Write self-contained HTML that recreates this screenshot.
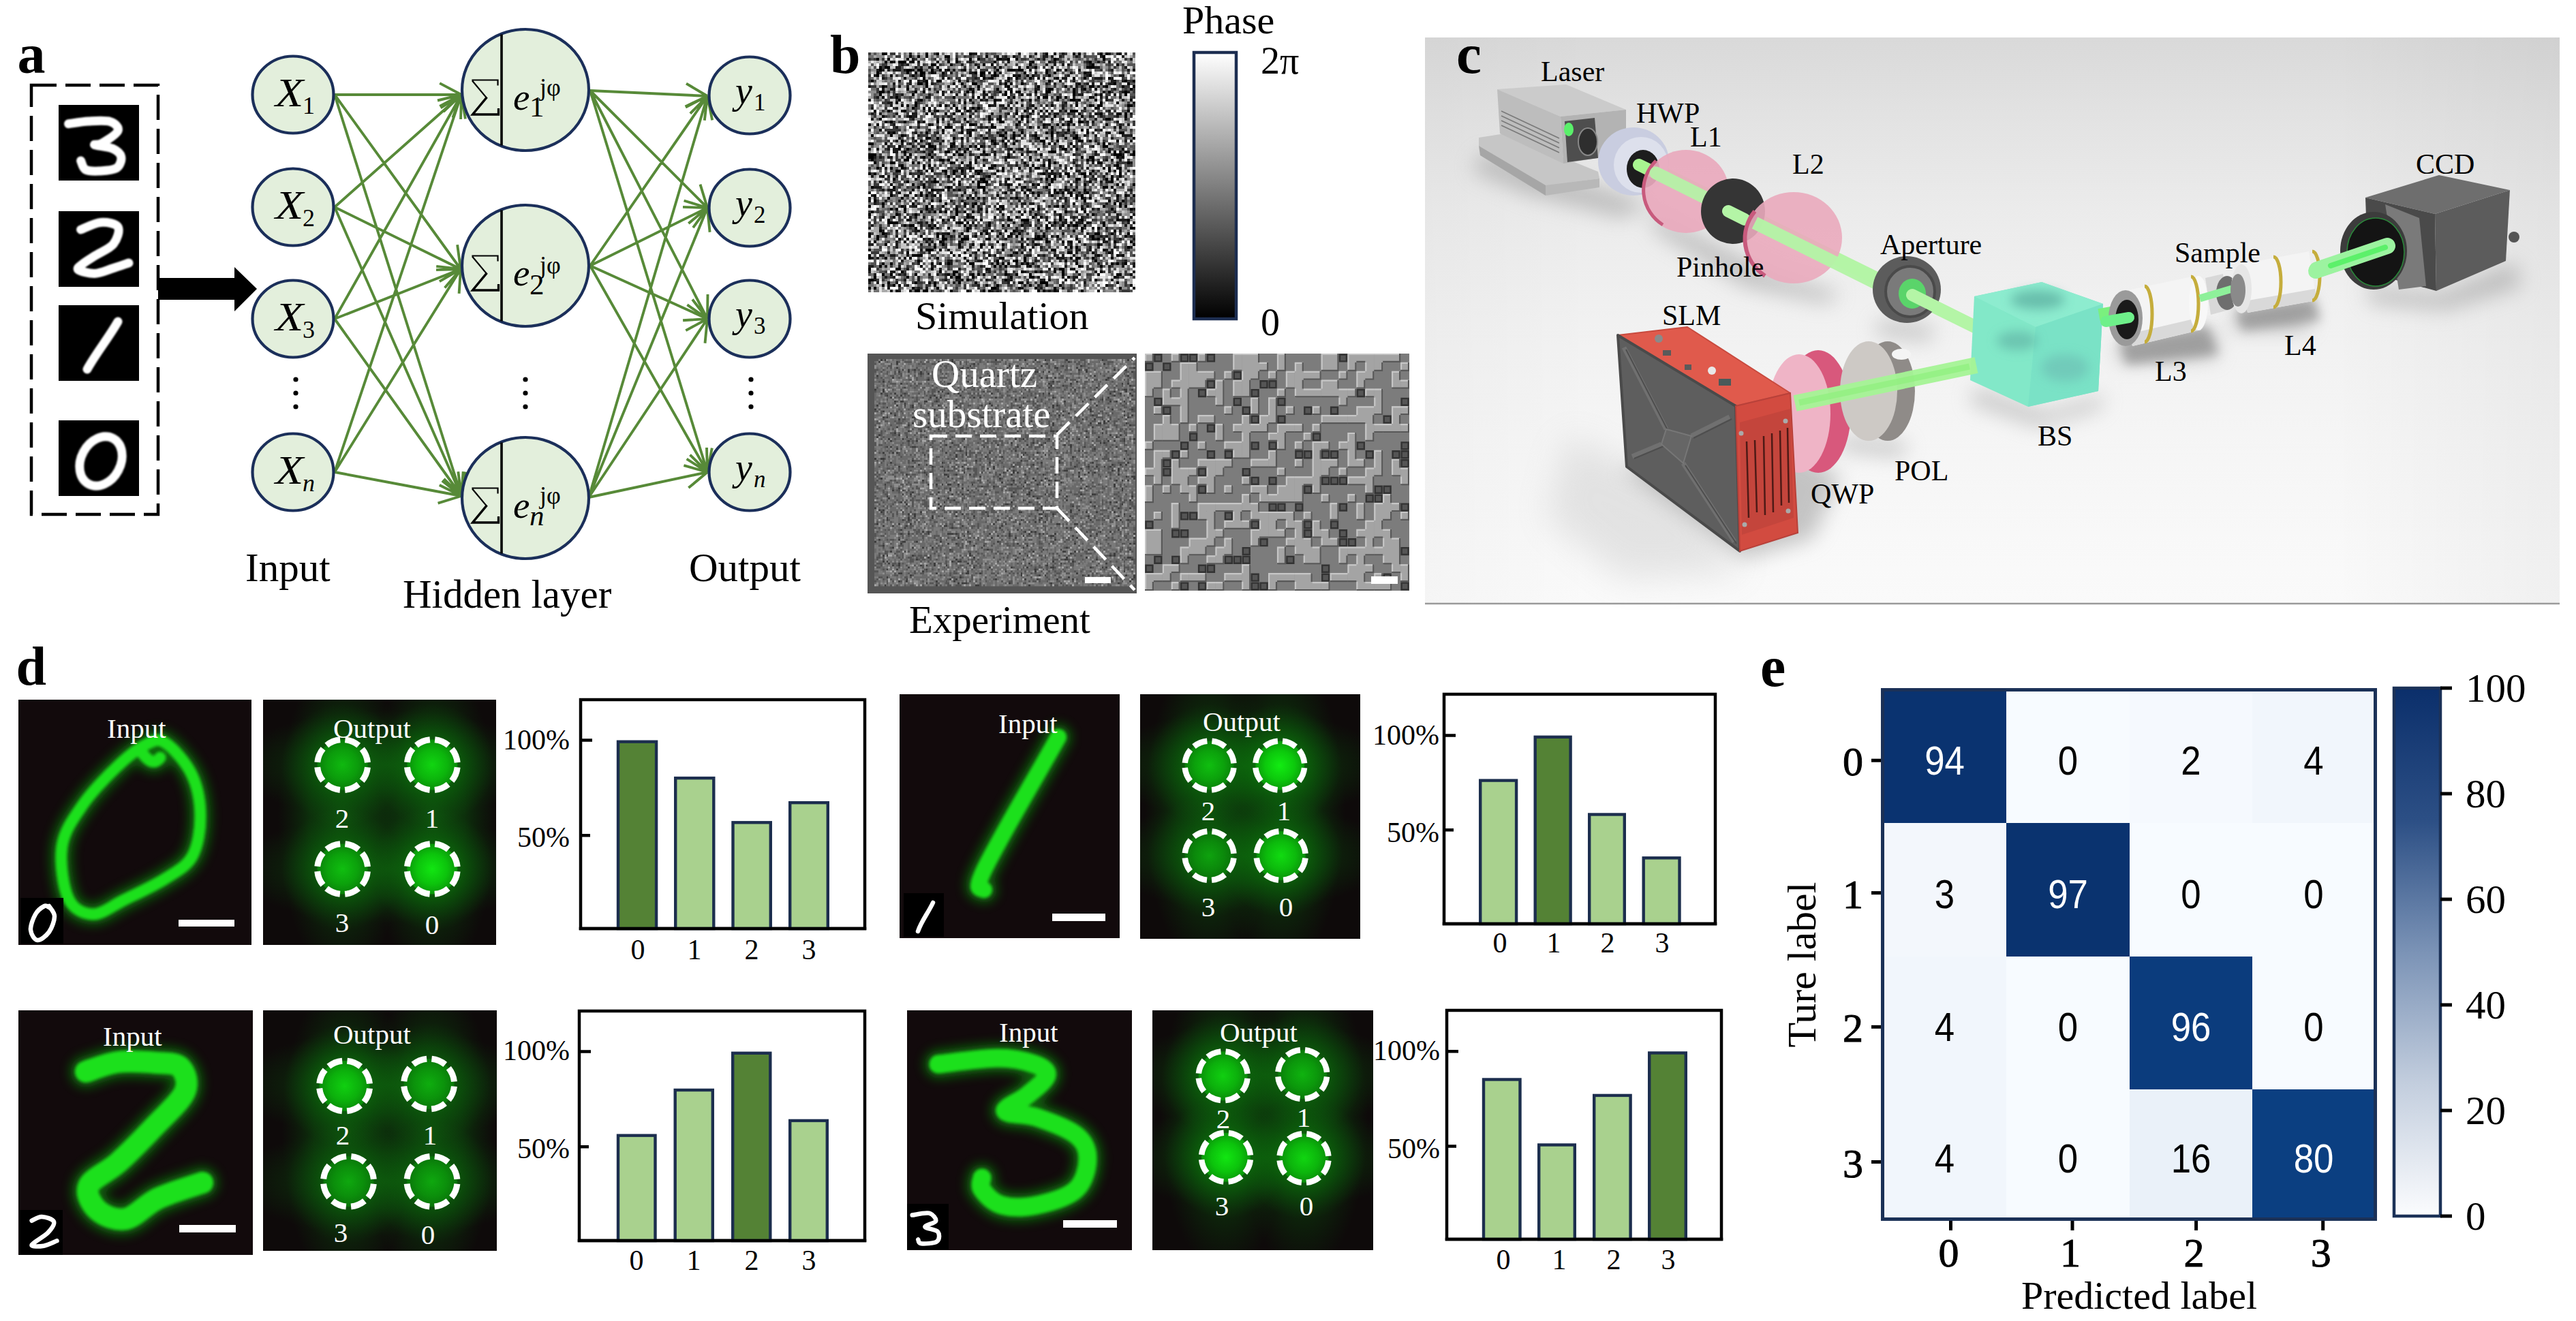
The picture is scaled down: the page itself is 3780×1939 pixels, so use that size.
<!DOCTYPE html>
<html><head><meta charset="utf-8"><style>html,body{margin:0;padding:0;background:#fff;overflow:hidden}svg{display:block}</style></head>
<body><svg width="3780" height="1939" viewBox="0 0 3780 1939"><defs>
<linearGradient id="cbar" x1="0" y1="0" x2="0" y2="1"><stop offset="0" stop-color="#fff"/><stop offset="1" stop-color="#000"/></linearGradient>
<linearGradient id="cbarBlue" x1="0" y1="0" x2="0" y2="1"><stop offset="0" stop-color="#0b2f6b"/><stop offset="0.25" stop-color="#2c4f85"/><stop offset="0.5" stop-color="#7b93b6"/><stop offset="0.75" stop-color="#c3cede"/><stop offset="1" stop-color="#fbfcfe"/></linearGradient>
<linearGradient id="cbg" x1="0" y1="0" x2="0.25" y2="1"><stop offset="0" stop-color="#d9d9d9"/><stop offset="0.55" stop-color="#ececec"/><stop offset="1" stop-color="#fbfbfb"/></linearGradient>
<filter id="blur1" x="-20%" y="-20%" width="140%" height="140%"><feGaussianBlur stdDeviation="1"/></filter>
<filter id="blur2" x="-20%" y="-20%" width="140%" height="140%"><feGaussianBlur stdDeviation="2"/></filter>
<filter id="blur4" x="-30%" y="-30%" width="160%" height="160%"><feGaussianBlur stdDeviation="4"/></filter>
<filter id="blur8" x="-50%" y="-50%" width="200%" height="200%"><feGaussianBlur stdDeviation="8"/></filter>
<filter id="blur15" x="-80%" y="-80%" width="260%" height="260%"><feGaussianBlur stdDeviation="15"/></filter>
<filter id="blur25" x="-100%" y="-100%" width="300%" height="300%"><feGaussianBlur stdDeviation="25"/></filter>
<radialGradient id="hz" cx="0.5" cy="0.5" r="0.5"><stop offset="0" stop-color="#0f520f" stop-opacity="0.95"/><stop offset="0.5" stop-color="#0c400c" stop-opacity="0.7"/><stop offset="1" stop-color="#0b300b" stop-opacity="0"/></radialGradient>
<radialGradient id="glow" cx="0.5" cy="0.5" r="0.5"><stop offset="0" stop-color="#0a9a0a" stop-opacity="0.9"/><stop offset="0.45" stop-color="#0a7a0a" stop-opacity="0.5"/><stop offset="1" stop-color="#0a5a0a" stop-opacity="0"/></radialGradient>
<radialGradient id="coreDim" cx="0.5" cy="0.5" r="0.5"><stop offset="0" stop-color="#0c7a0c"/><stop offset="1" stop-color="#0a5a0a"/></radialGradient>
<radialGradient id="core" cx="0.5" cy="0.5" r="0.5"><stop offset="0" stop-color="#12ec12"/><stop offset="0.6" stop-color="#0cc80c"/><stop offset="1" stop-color="#0a9a0a"/></radialGradient>
<radialGradient id="spot" cx="0.5" cy="0.5" r="0.5"><stop offset="0" stop-color="#10e010"/><stop offset="0.6" stop-color="#08b408"/><stop offset="1" stop-color="#067a06" stop-opacity="0"/></radialGradient>
</defs>
<rect width="3780" height="1939" fill="#fff"/>
<text x="25.4" y="106.7" style="font-family:'Liberation Serif',serif;font-size:82px;font-weight:bold;font-style:normal" fill="#000" text-anchor="start" >a</text><rect x="46" y="125" width="186" height="630" fill="none" stroke="#000" stroke-width="4.5" stroke-dasharray="37 13"/><rect x="86" y="154" width="118" height="111" fill="#000"/><rect x="86" y="310" width="118" height="111" fill="#000"/><rect x="86" y="448" width="118" height="111" fill="#000"/><rect x="86" y="617" width="118" height="111" fill="#000"/><path d="M100.5 181.8C105.4 181.2 119.8 178.5 130.0 178.0C140.2 177.5 154.6 176.3 161.8 178.6C169.0 180.9 175.0 186.8 173.0 192.0C171.0 197.2 155.7 206.6 150.0 210.0C144.3 213.4 136.5 211.4 139.0 212.7C141.5 214.0 158.6 215.1 165.0 218.0C171.4 220.9 176.7 225.2 177.7 230.0C178.7 234.8 176.3 243.3 170.9 246.8C165.5 250.3 152.6 250.6 145.0 251.0C137.4 251.4 129.9 251.5 125.5 249.0C121.1 246.5 119.8 238.2 118.6 236.0" fill="none" stroke="#fff" stroke-width="13" stroke-linecap="round" stroke-linejoin="round" filter="url(#blur1)"/><path d="M118.6 337.0C123.5 335.2 138.9 327.0 148.0 326.4C157.1 325.8 170.1 327.9 173.2 333.2C176.3 338.5 171.9 351.2 166.4 358.2C160.9 365.2 147.6 370.1 140.0 375.0C132.4 379.9 125.1 384.2 120.9 387.7C116.7 391.2 112.0 393.7 115.0 396.0C118.0 398.3 130.7 401.7 139.0 401.4C147.3 401.1 156.7 396.6 165.0 394.0C173.3 391.4 185.0 387.3 189.0 386.0" fill="none" stroke="#fff" stroke-width="13" stroke-linecap="round" stroke-linejoin="round" filter="url(#blur1)"/><path d="M173 472 C160 495 140 520 128 542" fill="none" stroke="#fff" stroke-width="13" stroke-linecap="round" stroke-linejoin="round" filter="url(#blur1)"/><ellipse cx="148" cy="677" rx="29" ry="38" transform="rotate(28 148 677)" fill="none" stroke="#fff" stroke-width="13" stroke-linecap="round" stroke-linejoin="round" filter="url(#blur1)"/><path d="M232 408 H344 V392 L377 424 L344 457 V440 H232 Z" fill="#000"/><path d="M491 139L677 139M677 139l-31.8 -16.9M677 139l-31.8 16.9M491 139L676 395M676 395l-4.9 -35.7M676 395l-32.3 -15.9M491 139L677 728M677 728l6.5 -35.4M677 728l-25.7 -25.2M491 304L677 139M677 139l-35.0 8.5M677 139l-12.6 33.7M491 304L676 395M676 395l-21.1 -29.2M676 395l-36.0 1.1M491 304L677 728M677 728l2.7 -35.9M677 728l-28.2 -22.3M491 468L677 139M677 139l-30.4 19.4M677 139l-0.9 36.0M491 468L676 395M676 395l-35.8 -4.1M676 395l-23.4 27.4M491 468L677 728M677 728l-4.7 -35.7M677 728l-32.2 -16.0M491 693L677 139M677 139l-26.1 24.8M677 139l5.9 35.5M491 693L676 395M676 395l-31.1 18.1M676 395l-2.4 35.9M491 693L677 728M677 728l-28.1 -22.5M677 728l-34.4 10.7M866 133L1038 141M1038 141l-31.0 -18.4M1038 141l-32.5 15.4M866 133L1038 305M1038 305l-10.5 -34.4M1038 305l-34.4 -10.5M866 133L1038 468M1038 468l0.5 -36.0M1038 468l-29.6 -20.6M866 133L1038 693M1038 693l6.8 -35.3M1038 693l-25.5 -25.4M866 390L1038 141M1038 141l-32.0 16.5M1038 141l-4.2 35.8M866 390L1038 305M1038 305l-36.0 -1.1M1038 305l-21.0 29.2M866 390L1038 468M1038 468l-22.0 -28.5M1038 468l-35.9 2.3M866 390L1038 693M1038 693l-1.0 -36.0M1038 693l-30.4 -19.3M864 730L1038 141M1038 141l-25.2 25.7M1038 141l7.2 35.3M864 730L1038 305M1038 305l-27.7 23.0M1038 305l3.6 35.8M864 730L1038 468M1038 468l-31.7 17.1M1038 468l-3.5 35.8M864 730L1038 693M1038 693l-34.6 -9.9M1038 693l-27.6 23.1" fill="none" stroke="#578a38" stroke-width="3.9" stroke-linecap="butt"/><ellipse cx="430" cy="139" rx="59.5" ry="56.5" fill="#e3efdc" stroke="#1b2f5a" stroke-width="4.2"/><ellipse cx="430" cy="304" rx="59.5" ry="56.5" fill="#e3efdc" stroke="#1b2f5a" stroke-width="4.2"/><ellipse cx="430" cy="468" rx="59.5" ry="56.5" fill="#e3efdc" stroke="#1b2f5a" stroke-width="4.2"/><ellipse cx="430" cy="693" rx="59.5" ry="56.5" fill="#e3efdc" stroke="#1b2f5a" stroke-width="4.2"/><ellipse cx="1100" cy="140" rx="59.5" ry="56.5" fill="#e3efdc" stroke="#1b2f5a" stroke-width="4.2"/><ellipse cx="1100" cy="305" rx="59.5" ry="56.5" fill="#e3efdc" stroke="#1b2f5a" stroke-width="4.2"/><ellipse cx="1100" cy="468" rx="59.5" ry="56.5" fill="#e3efdc" stroke="#1b2f5a" stroke-width="4.2"/><ellipse cx="1100" cy="693" rx="59.5" ry="56.5" fill="#e3efdc" stroke="#1b2f5a" stroke-width="4.2"/><ellipse cx="771" cy="132" rx="93" ry="89" fill="#e3efdc" stroke="#1b2f5a" stroke-width="4.2"/><line x1="736" y1="50.5" x2="736" y2="213.5" stroke="#000" stroke-width="3.6"/><path d="M692.4 117.5H730.5V125.5M693 118.5L714 143.6" fill="none" stroke="#000" stroke-width="2.2"/><path d="M714.5 142.6L693.5 168H731.5V159" fill="none" stroke="#000" stroke-width="3.4"/><ellipse cx="771" cy="390" rx="93" ry="89" fill="#e3efdc" stroke="#1b2f5a" stroke-width="4.2"/><line x1="736" y1="308.5" x2="736" y2="471.5" stroke="#000" stroke-width="3.6"/><path d="M692.4 375.5H730.5V383.5M693 376.5L714 401.6" fill="none" stroke="#000" stroke-width="2.2"/><path d="M714.5 400.6L693.5 426H731.5V417" fill="none" stroke="#000" stroke-width="3.4"/><ellipse cx="771" cy="731" rx="93" ry="89" fill="#e3efdc" stroke="#1b2f5a" stroke-width="4.2"/><line x1="736" y1="649.5" x2="736" y2="812.5" stroke="#000" stroke-width="3.6"/><path d="M692.4 716.5H730.5V724.5M693 717.5L714 742.6" fill="none" stroke="#000" stroke-width="2.2"/><path d="M714.5 741.6L693.5 767H731.5V758" fill="none" stroke="#000" stroke-width="3.4"/><text transform="translate(404 156) scale(1.13 1)" style="font-family:'Liberation Serif',serif;font-size:60px;font-style:italic">X</text><text x="444" y="167" style="font-family:'Liberation Serif',serif;font-size:36px">1</text><text transform="translate(404 321) scale(1.13 1)" style="font-family:'Liberation Serif',serif;font-size:60px;font-style:italic">X</text><text x="444" y="332" style="font-family:'Liberation Serif',serif;font-size:36px">2</text><text transform="translate(404 485) scale(1.13 1)" style="font-family:'Liberation Serif',serif;font-size:60px;font-style:italic">X</text><text x="444" y="496" style="font-family:'Liberation Serif',serif;font-size:36px">3</text><text transform="translate(404 710) scale(1.13 1)" style="font-family:'Liberation Serif',serif;font-size:60px;font-style:italic">X</text><text x="444" y="721" style="font-family:'Liberation Serif',serif;font-size:36px"><tspan font-style="italic">n</tspan></text><text x="1079" y="152" style="font-family:'Liberation Serif',serif;font-size:56px;font-style:italic">y</text><text x="1106" y="162" style="font-family:'Liberation Serif',serif;font-size:35px">1</text><text x="1079" y="317" style="font-family:'Liberation Serif',serif;font-size:56px;font-style:italic">y</text><text x="1106" y="327" style="font-family:'Liberation Serif',serif;font-size:35px">2</text><text x="1079" y="480" style="font-family:'Liberation Serif',serif;font-size:56px;font-style:italic">y</text><text x="1106" y="490" style="font-family:'Liberation Serif',serif;font-size:35px">3</text><text x="1079" y="705" style="font-family:'Liberation Serif',serif;font-size:56px;font-style:italic">y</text><text x="1106" y="715" style="font-family:'Liberation Serif',serif;font-size:35px"><tspan font-style="italic">n</tspan></text><text x="753" y="161" style="font-family:'Liberation Serif',serif;font-size:55px;font-style:italic">e</text><text x="777" y="171" style="font-family:'Liberation Serif',serif;font-size:43px">1</text><text x="792" y="140" style="font-family:'Liberation Serif',serif;font-size:36px">j&#966;</text><text x="753" y="419" style="font-family:'Liberation Serif',serif;font-size:55px;font-style:italic">e</text><text x="777" y="432" style="font-family:'Liberation Serif',serif;font-size:43px">2</text><text x="792" y="401" style="font-family:'Liberation Serif',serif;font-size:36px">j&#966;</text><text x="753" y="760" style="font-family:'Liberation Serif',serif;font-size:55px;font-style:italic">e</text><text x="777" y="771" style="font-family:'Liberation Serif',serif;font-size:43px"><tspan font-style="italic">n</tspan></text><text x="792" y="739" style="font-family:'Liberation Serif',serif;font-size:36px">j&#966;</text><circle cx="434" cy="557" r="3.6" fill="#000"/><circle cx="434" cy="577" r="3.6" fill="#000"/><circle cx="434" cy="597" r="3.6" fill="#000"/><circle cx="771" cy="557" r="3.6" fill="#000"/><circle cx="771" cy="577" r="3.6" fill="#000"/><circle cx="771" cy="597" r="3.6" fill="#000"/><circle cx="1102" cy="557" r="3.6" fill="#000"/><circle cx="1102" cy="577" r="3.6" fill="#000"/><circle cx="1102" cy="597" r="3.6" fill="#000"/><text x="360" y="853" style="font-family:'Liberation Serif',serif;font-size:59px;font-weight:normal;font-style:normal" fill="#000" text-anchor="start" >Input</text><text x="591" y="892" style="font-family:'Liberation Serif',serif;font-size:59px;font-weight:normal;font-style:normal" fill="#000" text-anchor="start" >Hidden layer</text><text x="1011" y="853" style="font-family:'Liberation Serif',serif;font-size:59px;font-weight:normal;font-style:normal" fill="#000" text-anchor="start" >Output</text><text x="1218" y="107" style="font-family:'Liberation Serif',serif;font-size:80px;font-weight:bold;font-style:normal" fill="#000" text-anchor="start" >b</text><g shape-rendering="crispEdges"><path d="M1294 79.0h8M1358 79.0h4M1374 79.0h4M1422 79.0h4M1534 79.0h4M1546 79.0h4M1574 79.0h4M1582 79.0h4M1614 79.0h4M1622 79.0h4M1642 79.0h4M1334 83.0h4M1346 83.0h4M1358 83.0h4M1386 83.0h8M1446 83.0h4M1486 83.0h4M1618 83.0h4M1286 87.0h4M1302 87.0h4M1330 87.0h4M1422 87.0h4M1434 87.0h4M1462 87.0h8M1478 87.0h4M1490 87.0h4M1546 87.0h4M1618 87.0h4M1298 91.0h4M1306 91.0h4M1318 91.0h12M1338 91.0h4M1374 91.0h4M1390 91.0h4M1402 91.0h4M1458 91.0h4M1514 91.0h4M1598 91.0h4M1366 95.0h8M1394 95.0h4M1442 95.0h4M1454 95.0h4M1510 95.0h4M1602 95.0h4M1638 95.0h4M1290 99.0h4M1298 99.0h8M1374 99.0h4M1434 99.0h4M1466 99.0h4M1506 99.0h4M1518 99.0h4M1594 99.0h12M1290 103.0h4M1330 103.0h8M1346 103.0h8M1366 103.0h4M1378 103.0h4M1390 103.0h4M1414 103.0h4M1462 103.0h4M1478 103.0h12M1494 103.0h8M1534 103.0h4M1550 103.0h4M1562 103.0h4M1662 103.0h4M1286 107.0h4M1330 107.0h4M1342 107.0h4M1350 107.0h8M1366 107.0h4M1382 107.0h4M1430 107.0h4M1438 107.0h8M1458 107.0h4M1502 107.0h4M1534 107.0h4M1546 107.0h4M1590 107.0h4M1286 111.0h4M1306 111.0h4M1338 111.0h4M1350 111.0h4M1438 111.0h4M1458 111.0h4M1486 111.0h4M1494 111.0h4M1506 111.0h4M1514 111.0h4M1538 111.0h4M1598 111.0h4M1326 115.0h4M1354 115.0h4M1442 115.0h4M1454 115.0h4M1478 115.0h4M1490 115.0h4M1510 115.0h4M1550 115.0h4M1574 115.0h4M1590 115.0h4M1626 115.0h4M1278 119.0h4M1358 119.0h4M1374 119.0h8M1406 119.0h4M1538 119.0h4M1554 119.0h4M1650 119.0h4M1662 119.0h4M1346 123.0h8M1358 123.0h4M1398 123.0h4M1410 123.0h4M1426 123.0h8M1474 123.0h4M1482 123.0h4M1498 123.0h4M1582 123.0h4M1634 123.0h4M1654 123.0h4M1294 127.0h4M1358 127.0h4M1434 127.0h4M1478 127.0h4M1522 127.0h4M1562 127.0h4M1598 127.0h8M1622 127.0h4M1646 127.0h4M1662 127.0h4M1330 131.0h4M1422 131.0h4M1462 131.0h4M1538 131.0h8M1574 131.0h4M1590 131.0h4M1606 131.0h4M1658 131.0h4M1290 135.0h8M1342 135.0h4M1354 135.0h4M1418 135.0h4M1426 135.0h4M1442 135.0h4M1474 135.0h4M1482 135.0h4M1494 135.0h4M1518 135.0h4M1534 135.0h8M1574 135.0h4M1626 135.0h4M1650 135.0h4M1290 139.0h4M1338 139.0h4M1474 139.0h4M1498 139.0h4M1574 139.0h4M1606 139.0h4M1614 139.0h4M1650 139.0h4M1294 143.0h4M1314 143.0h4M1398 143.0h4M1434 143.0h4M1454 143.0h4M1478 143.0h4M1486 143.0h4M1522 143.0h4M1530 143.0h8M1550 143.0h4M1562 143.0h4M1598 143.0h4M1318 147.0h4M1350 147.0h4M1422 147.0h4M1458 147.0h4M1498 147.0h4M1510 147.0h4M1550 147.0h4M1570 147.0h8M1582 147.0h4M1606 147.0h4M1658 147.0h4M1314 151.0h4M1342 151.0h4M1414 151.0h4M1614 151.0h4M1638 151.0h4M1322 155.0h4M1330 155.0h4M1342 155.0h4M1378 155.0h4M1386 155.0h4M1398 155.0h4M1450 155.0h4M1514 155.0h4M1542 155.0h4M1578 155.0h4M1598 155.0h4M1610 155.0h8M1654 155.0h8M1338 159.0h4M1354 159.0h4M1362 159.0h4M1402 159.0h4M1414 159.0h4M1426 159.0h4M1434 159.0h4M1606 159.0h4M1282 163.0h4M1302 163.0h4M1326 163.0h4M1362 163.0h4M1374 163.0h4M1406 163.0h4M1418 163.0h4M1502 163.0h4M1514 163.0h4M1526 163.0h4M1534 163.0h4M1570 163.0h12M1654 163.0h4M1358 167.0h4M1386 167.0h4M1398 167.0h4M1410 167.0h4M1490 167.0h4M1582 167.0h4M1606 167.0h4M1614 167.0h4M1638 167.0h8M1650 167.0h4M1294 171.0h4M1334 171.0h4M1422 171.0h4M1450 171.0h4M1466 171.0h4M1498 171.0h4M1506 171.0h4M1546 171.0h4M1586 171.0h4M1650 171.0h4M1290 175.0h4M1414 175.0h4M1450 175.0h4M1466 175.0h4M1498 175.0h4M1622 175.0h8M1298 179.0h4M1306 179.0h4M1326 179.0h4M1346 179.0h4M1354 179.0h4M1374 179.0h4M1466 179.0h8M1494 179.0h4M1570 179.0h4M1582 179.0h8M1274 183.0h4M1286 183.0h4M1362 183.0h4M1422 183.0h8M1454 183.0h4M1490 183.0h4M1530 183.0h4M1550 183.0h4M1558 183.0h4M1566 183.0h4M1622 183.0h4M1386 187.0h12M1410 187.0h4M1454 187.0h8M1510 187.0h4M1542 187.0h4M1642 187.0h4M1290 191.0h4M1382 191.0h4M1398 191.0h4M1426 191.0h4M1566 191.0h4M1586 191.0h4M1302 195.0h4M1310 195.0h4M1358 195.0h4M1410 195.0h4M1422 195.0h4M1474 195.0h4M1498 195.0h4M1534 195.0h4M1542 195.0h4M1594 195.0h4M1626 195.0h4M1642 195.0h8M1278 199.0h4M1306 199.0h4M1322 199.0h4M1422 199.0h4M1466 199.0h8M1486 199.0h4M1518 199.0h4M1542 199.0h4M1578 199.0h4M1358 203.0h8M1374 203.0h4M1398 203.0h4M1410 203.0h4M1446 203.0h4M1474 203.0h4M1486 203.0h4M1522 203.0h4M1562 203.0h4M1574 203.0h8M1662 203.0h4M1322 207.0h4M1342 207.0h4M1350 207.0h4M1454 207.0h4M1470 207.0h4M1526 207.0h8M1550 207.0h4M1582 207.0h8M1598 207.0h4M1638 207.0h4M1274 211.0h8M1298 211.0h4M1362 211.0h4M1398 211.0h4M1458 211.0h4M1474 211.0h4M1486 211.0h4M1538 211.0h4M1570 211.0h4M1618 211.0h4M1318 215.0h4M1362 215.0h8M1394 215.0h4M1422 215.0h4M1430 215.0h4M1438 215.0h4M1554 215.0h4M1574 215.0h4M1618 215.0h8M1318 219.0h4M1330 219.0h4M1370 219.0h4M1406 219.0h4M1418 219.0h4M1434 219.0h4M1482 219.0h4M1498 219.0h4M1558 219.0h8M1578 219.0h4M1646 219.0h4M1326 223.0h4M1386 223.0h8M1402 223.0h4M1414 223.0h4M1442 223.0h4M1542 223.0h8M1626 223.0h4M1634 223.0h4M1650 223.0h4M1662 223.0h4M1274 227.0h12M1334 227.0h4M1362 227.0h4M1398 227.0h4M1406 227.0h8M1446 227.0h4M1478 227.0h4M1498 227.0h4M1526 227.0h4M1634 227.0h12M1662 227.0h4M1274 231.0h8M1330 231.0h4M1354 231.0h4M1366 231.0h4M1434 231.0h4M1478 231.0h4M1510 231.0h4M1586 231.0h4M1598 231.0h8M1638 231.0h4M1646 231.0h4M1278 235.0h4M1326 235.0h8M1378 235.0h8M1390 235.0h4M1522 235.0h4M1538 235.0h4M1594 235.0h4M1602 235.0h4M1282 239.0h4M1306 239.0h8M1338 239.0h4M1346 239.0h4M1394 239.0h4M1410 239.0h4M1422 239.0h4M1502 239.0h4M1538 239.0h4M1546 239.0h4M1610 239.0h8M1654 239.0h4M1294 243.0h4M1322 243.0h4M1354 243.0h4M1362 243.0h4M1458 243.0h4M1514 243.0h4M1530 243.0h4M1538 243.0h4M1638 243.0h4M1286 247.0h4M1306 247.0h4M1322 247.0h4M1354 247.0h4M1422 247.0h4M1450 247.0h8M1470 247.0h4M1494 247.0h4M1518 247.0h8M1626 247.0h4M1642 247.0h4M1314 251.0h8M1366 251.0h4M1386 251.0h4M1398 251.0h4M1410 251.0h4M1430 251.0h4M1438 251.0h4M1462 251.0h4M1470 251.0h4M1602 251.0h4M1626 251.0h4M1274 255.0h4M1282 255.0h4M1398 255.0h4M1434 255.0h4M1530 255.0h4M1562 255.0h8M1586 255.0h8M1598 255.0h4M1642 255.0h4M1294 259.0h4M1346 259.0h4M1390 259.0h4M1450 259.0h4M1538 259.0h4M1546 259.0h4M1554 259.0h4M1566 259.0h4M1590 259.0h4M1630 259.0h4M1642 259.0h4M1310 263.0h4M1342 263.0h4M1398 263.0h4M1438 263.0h8M1478 263.0h4M1534 263.0h4M1542 263.0h4M1578 263.0h8M1622 263.0h4M1630 263.0h4M1290 267.0h4M1330 267.0h4M1370 267.0h4M1434 267.0h4M1442 267.0h8M1542 267.0h4M1598 267.0h4M1630 267.0h4M1306 271.0h4M1338 271.0h4M1354 271.0h4M1406 271.0h4M1434 271.0h4M1478 271.0h4M1514 271.0h4M1522 271.0h4M1538 271.0h4M1590 271.0h4M1638 271.0h4M1662 271.0h4M1278 275.0h4M1310 275.0h4M1346 275.0h4M1354 275.0h4M1390 275.0h4M1434 275.0h12M1502 275.0h4M1534 275.0h4M1618 275.0h8M1630 275.0h4M1338 279.0h4M1366 279.0h4M1406 279.0h4M1442 279.0h4M1506 279.0h8M1546 279.0h4M1562 279.0h4M1574 279.0h4M1590 279.0h4M1318 283.0h4M1350 283.0h4M1474 283.0h4M1502 283.0h4M1514 283.0h4M1550 283.0h4M1558 283.0h4M1570 283.0h4M1594 283.0h4M1282 287.0h4M1306 287.0h4M1342 287.0h4M1350 287.0h4M1358 287.0h4M1370 287.0h4M1462 287.0h4M1522 287.0h4M1542 287.0h4M1570 287.0h4M1578 287.0h4M1586 287.0h4M1638 287.0h4M1650 287.0h4M1662 287.0h4M1302 291.0h4M1322 291.0h4M1418 291.0h4M1426 291.0h4M1434 291.0h4M1490 291.0h4M1578 291.0h4M1586 291.0h4M1598 291.0h4M1282 295.0h4M1366 295.0h4M1378 295.0h4M1590 295.0h4M1626 295.0h4M1646 295.0h4M1294 299.0h4M1338 299.0h4M1386 299.0h4M1414 299.0h4M1430 299.0h4M1574 299.0h4M1634 299.0h4M1642 299.0h4M1274 303.0h4M1322 303.0h4M1358 303.0h4M1366 303.0h4M1382 303.0h4M1426 303.0h4M1466 303.0h8M1550 303.0h4M1558 303.0h4M1618 303.0h4M1642 303.0h4M1650 303.0h4M1306 307.0h4M1314 307.0h4M1326 307.0h4M1358 307.0h4M1402 307.0h4M1438 307.0h4M1462 307.0h4M1470 307.0h4M1514 307.0h4M1522 307.0h4M1586 307.0h4M1630 307.0h4M1658 307.0h4M1278 311.0h4M1350 311.0h4M1370 311.0h4M1378 311.0h4M1386 311.0h4M1402 311.0h4M1414 311.0h4M1426 311.0h4M1494 311.0h4M1562 311.0h4M1590 311.0h4M1274 315.0h4M1314 315.0h4M1342 315.0h4M1402 315.0h4M1418 315.0h4M1518 315.0h4M1554 315.0h4M1602 315.0h4M1310 319.0h4M1398 319.0h4M1418 319.0h4M1426 319.0h4M1478 319.0h4M1490 319.0h4M1514 319.0h4M1526 319.0h4M1554 319.0h4M1658 319.0h4M1302 323.0h4M1330 323.0h4M1366 323.0h4M1382 323.0h4M1414 323.0h4M1438 323.0h4M1478 323.0h8M1498 323.0h12M1522 323.0h4M1554 323.0h4M1586 323.0h4M1638 323.0h4M1654 323.0h4M1302 327.0h16M1406 327.0h8M1418 327.0h4M1450 327.0h4M1546 327.0h4M1594 327.0h4M1618 327.0h4M1326 331.0h4M1334 331.0h8M1362 331.0h4M1370 331.0h4M1414 331.0h4M1450 331.0h4M1470 331.0h4M1478 331.0h4M1498 331.0h4M1534 331.0h4M1558 331.0h4M1566 331.0h4M1574 331.0h8M1590 331.0h4M1618 331.0h4M1342 335.0h4M1366 335.0h4M1390 335.0h4M1418 335.0h4M1522 335.0h4M1534 335.0h4M1554 335.0h4M1586 335.0h4M1610 335.0h4M1658 335.0h8M1290 339.0h4M1418 339.0h4M1454 339.0h4M1474 339.0h4M1486 339.0h4M1574 339.0h4M1634 339.0h4M1274 343.0h4M1294 343.0h4M1374 343.0h4M1390 343.0h4M1410 343.0h4M1438 343.0h4M1446 343.0h4M1466 343.0h4M1482 343.0h4M1494 343.0h4M1606 343.0h8M1630 343.0h4M1654 343.0h4M1274 347.0h4M1286 347.0h4M1350 347.0h4M1374 347.0h4M1382 347.0h4M1430 347.0h4M1478 347.0h4M1490 347.0h4M1522 347.0h4M1530 347.0h4M1550 347.0h4M1602 347.0h4M1650 347.0h4M1286 351.0h4M1318 351.0h4M1330 351.0h4M1362 351.0h4M1382 351.0h8M1410 351.0h12M1446 351.0h8M1498 351.0h4M1518 351.0h12M1578 351.0h4M1602 351.0h4M1610 351.0h4M1282 355.0h4M1326 355.0h4M1378 355.0h4M1462 355.0h4M1534 355.0h4M1558 355.0h4M1570 355.0h4M1582 355.0h4M1634 355.0h4M1658 355.0h4M1298 359.0h4M1382 359.0h4M1406 359.0h4M1426 359.0h4M1438 359.0h4M1470 359.0h4M1498 359.0h4M1518 359.0h4M1610 359.0h4M1662 359.0h4M1370 363.0h4M1406 363.0h4M1438 363.0h4M1454 363.0h4M1498 363.0h4M1570 363.0h4M1578 363.0h4M1654 363.0h4M1274 367.0h4M1358 367.0h12M1378 367.0h4M1470 367.0h4M1542 367.0h8M1618 367.0h4M1330 371.0h4M1394 371.0h4M1490 371.0h4M1566 371.0h8M1602 371.0h4M1626 371.0h4M1274 375.0h4M1338 375.0h16M1406 375.0h4M1450 375.0h4M1482 375.0h4M1610 375.0h4M1638 375.0h4M1646 375.0h4M1274 379.0h4M1298 379.0h4M1334 379.0h4M1374 379.0h4M1414 379.0h4M1466 379.0h8M1502 379.0h4M1550 379.0h4M1570 379.0h4M1578 379.0h8M1602 379.0h4M1630 379.0h4M1346 383.0h4M1418 383.0h4M1462 383.0h4M1490 383.0h4M1502 383.0h4M1562 383.0h4M1606 383.0h4M1294 387.0h4M1306 387.0h4M1366 387.0h4M1378 387.0h4M1390 387.0h4M1422 387.0h8M1462 387.0h4M1470 387.0h4M1478 387.0h4M1498 387.0h4M1506 387.0h4M1578 387.0h4M1630 387.0h4M1638 387.0h4M1650 387.0h4M1290 391.0h4M1350 391.0h4M1458 391.0h4M1474 391.0h4M1510 391.0h4M1582 391.0h4M1614 391.0h4M1274 395.0h4M1314 395.0h8M1366 395.0h4M1446 395.0h4M1554 395.0h8M1322 399.0h4M1378 399.0h4M1398 399.0h8M1498 399.0h4M1518 399.0h4M1526 399.0h4M1546 399.0h4M1558 399.0h4M1614 399.0h4M1294 403.0h4M1306 403.0h4M1342 403.0h4M1390 403.0h4M1398 403.0h4M1426 403.0h4M1434 403.0h4M1442 403.0h4M1474 403.0h4M1490 403.0h4M1510 403.0h4M1558 403.0h4M1610 403.0h4M1638 403.0h8M1658 403.0h4M1282 407.0h4M1330 407.0h4M1394 407.0h4M1402 407.0h8M1426 407.0h4M1458 407.0h4M1482 407.0h4M1510 407.0h8M1566 407.0h4M1634 407.0h4M1274 411.0h8M1418 411.0h4M1474 411.0h4M1606 411.0h4M1302 415.0h4M1342 415.0h4M1362 415.0h4M1370 415.0h4M1406 415.0h4M1430 415.0h4M1494 415.0h8M1526 415.0h12M1638 415.0h4M1294 419.0h4M1310 419.0h4M1318 419.0h4M1370 419.0h4M1446 419.0h4M1462 419.0h4M1510 419.0h4M1534 419.0h4M1554 419.0h4M1622 419.0h4M1658 419.0h4M1274 423.0h4M1282 423.0h4M1338 423.0h4M1374 423.0h4M1454 423.0h8M1494 423.0h4M1518 423.0h4M1546 423.0h4M1642 423.0h4M1662 423.0h4M1314 427.0h4M1342 427.0h8M1354 427.0h8M1394 427.0h4M1418 427.0h4M1442 427.0h4M1450 427.0h4M1522 427.0h4M1530 427.0h4M1546 427.0h4M1586 427.0h4M1610 427.0h4" stroke="#000" stroke-width="4" fill="none"/><path d="M1334 79.0h4M1426 79.0h8M1494 79.0h4M1518 79.0h4M1558 79.0h4M1626 79.0h4M1638 79.0h4M1462 83.0h4M1474 83.0h4M1510 83.0h4M1530 83.0h8M1542 83.0h4M1554 83.0h4M1578 83.0h4M1614 83.0h4M1646 83.0h4M1338 87.0h4M1390 87.0h4M1402 87.0h4M1470 87.0h8M1522 87.0h4M1530 87.0h4M1550 87.0h4M1658 87.0h4M1310 91.0h4M1334 91.0h4M1346 91.0h4M1422 91.0h4M1478 91.0h4M1510 91.0h4M1538 91.0h4M1546 91.0h4M1594 91.0h4M1610 91.0h4M1626 91.0h4M1322 95.0h4M1330 95.0h4M1410 95.0h4M1430 95.0h4M1534 95.0h4M1546 95.0h4M1558 95.0h4M1566 95.0h4M1598 95.0h4M1314 99.0h8M1342 99.0h4M1350 99.0h4M1362 99.0h4M1458 99.0h4M1494 99.0h4M1542 99.0h4M1606 99.0h8M1650 99.0h4M1286 103.0h4M1294 103.0h4M1302 103.0h4M1310 103.0h12M1326 103.0h4M1338 103.0h4M1386 103.0h4M1398 103.0h4M1410 103.0h4M1490 103.0h4M1510 103.0h4M1582 103.0h4M1630 103.0h4M1654 103.0h4M1370 107.0h4M1394 107.0h4M1422 107.0h8M1450 107.0h4M1466 107.0h4M1518 107.0h4M1570 107.0h4M1594 107.0h8M1282 111.0h4M1354 111.0h4M1382 111.0h4M1442 111.0h4M1454 111.0h4M1462 111.0h4M1490 111.0h4M1566 111.0h4M1594 111.0h4M1642 111.0h8M1294 115.0h4M1382 115.0h4M1390 115.0h4M1430 115.0h4M1450 115.0h4M1522 115.0h4M1530 115.0h4M1546 115.0h4M1558 115.0h8M1606 115.0h12M1630 115.0h4M1318 119.0h4M1334 119.0h4M1346 119.0h4M1354 119.0h4M1418 119.0h4M1478 119.0h4M1574 119.0h4M1630 119.0h8M1646 119.0h4M1310 123.0h4M1334 123.0h4M1366 123.0h4M1466 123.0h4M1534 123.0h4M1546 123.0h4M1578 123.0h4M1594 123.0h4M1602 123.0h4M1614 123.0h4M1626 123.0h8M1274 127.0h4M1298 127.0h4M1318 127.0h4M1330 127.0h4M1390 127.0h4M1414 127.0h4M1474 127.0h4M1578 127.0h4M1586 127.0h4M1610 127.0h4M1618 127.0h4M1294 131.0h4M1306 131.0h8M1362 131.0h4M1426 131.0h4M1434 131.0h4M1478 131.0h8M1502 131.0h4M1518 131.0h8M1534 131.0h4M1586 131.0h4M1634 131.0h4M1302 135.0h4M1374 135.0h4M1382 135.0h4M1394 135.0h4M1466 135.0h4M1490 135.0h4M1618 135.0h4M1646 135.0h4M1654 135.0h4M1314 139.0h4M1322 139.0h4M1362 139.0h4M1382 139.0h4M1402 139.0h4M1414 139.0h4M1442 139.0h8M1510 139.0h4M1534 139.0h4M1582 139.0h8M1634 139.0h4M1286 143.0h4M1306 143.0h4M1358 143.0h8M1426 143.0h4M1442 143.0h4M1554 143.0h4M1574 143.0h4M1602 143.0h4M1614 143.0h4M1622 143.0h4M1642 143.0h4M1274 147.0h4M1346 147.0h4M1406 147.0h4M1438 147.0h4M1446 147.0h4M1462 147.0h8M1578 147.0h4M1622 147.0h4M1646 147.0h4M1302 151.0h8M1426 151.0h4M1458 151.0h4M1482 151.0h4M1490 151.0h4M1562 151.0h4M1578 151.0h4M1662 151.0h4M1306 155.0h4M1454 155.0h8M1466 155.0h8M1478 155.0h4M1498 155.0h4M1510 155.0h4M1534 155.0h4M1558 155.0h4M1602 155.0h4M1278 159.0h4M1314 159.0h4M1474 159.0h4M1482 159.0h4M1506 159.0h4M1518 159.0h4M1558 159.0h4M1590 159.0h4M1610 159.0h4M1322 163.0h4M1370 163.0h4M1402 163.0h4M1422 163.0h4M1430 163.0h4M1490 163.0h4M1554 163.0h4M1562 163.0h4M1626 163.0h4M1278 167.0h4M1290 167.0h4M1314 167.0h4M1338 167.0h8M1366 167.0h4M1454 167.0h4M1478 167.0h4M1510 167.0h4M1538 167.0h4M1546 167.0h8M1566 167.0h4M1610 167.0h4M1658 167.0h4M1330 171.0h4M1338 171.0h8M1390 171.0h4M1526 171.0h4M1534 171.0h4M1598 171.0h4M1614 171.0h4M1638 171.0h4M1278 175.0h4M1338 175.0h4M1374 175.0h4M1382 175.0h4M1398 175.0h4M1462 175.0h4M1542 175.0h4M1558 175.0h4M1570 175.0h4M1606 175.0h4M1650 175.0h4M1418 179.0h4M1506 179.0h4M1566 179.0h4M1594 179.0h4M1602 179.0h4M1638 179.0h4M1310 183.0h4M1366 183.0h4M1390 183.0h4M1430 183.0h4M1534 183.0h8M1574 183.0h4M1642 183.0h4M1654 183.0h4M1314 187.0h4M1334 187.0h4M1346 187.0h4M1374 187.0h4M1438 187.0h4M1446 187.0h4M1522 187.0h4M1530 187.0h4M1634 187.0h4M1362 191.0h4M1410 191.0h4M1418 191.0h8M1450 191.0h4M1470 191.0h4M1498 191.0h4M1542 191.0h4M1594 191.0h4M1606 191.0h4M1614 191.0h4M1306 195.0h4M1342 195.0h4M1374 195.0h4M1382 195.0h4M1418 195.0h4M1462 195.0h4M1486 195.0h4M1550 195.0h4M1562 195.0h4M1574 195.0h4M1622 195.0h4M1326 199.0h4M1346 199.0h4M1438 199.0h4M1494 199.0h4M1514 199.0h4M1558 199.0h4M1590 199.0h4M1606 199.0h4M1646 199.0h16M1318 203.0h4M1338 203.0h4M1442 203.0h4M1518 203.0h4M1534 203.0h4M1542 203.0h4M1630 203.0h4M1314 207.0h4M1382 207.0h4M1458 207.0h4M1490 207.0h4M1606 207.0h4M1650 207.0h4M1658 207.0h4M1322 211.0h4M1334 211.0h4M1378 211.0h4M1394 211.0h4M1530 211.0h4M1546 211.0h4M1610 211.0h4M1626 211.0h4M1302 215.0h4M1338 215.0h4M1350 215.0h8M1370 215.0h4M1398 215.0h4M1410 215.0h4M1442 215.0h4M1474 215.0h4M1602 215.0h4M1274 219.0h4M1286 219.0h4M1302 219.0h4M1310 219.0h8M1346 219.0h4M1478 219.0h4M1494 219.0h4M1522 219.0h4M1626 219.0h4M1310 223.0h8M1354 223.0h4M1366 223.0h4M1458 223.0h4M1486 223.0h4M1506 223.0h8M1518 223.0h4M1538 223.0h4M1606 223.0h4M1642 223.0h4M1654 223.0h4M1326 227.0h4M1422 227.0h4M1438 227.0h8M1458 227.0h4M1574 227.0h4M1606 227.0h4M1646 227.0h4M1658 227.0h4M1282 231.0h4M1290 231.0h4M1302 231.0h8M1350 231.0h4M1474 231.0h4M1642 231.0h4M1362 235.0h4M1430 235.0h4M1442 235.0h4M1474 235.0h4M1510 235.0h4M1622 235.0h4M1630 235.0h4M1642 235.0h4M1398 239.0h4M1430 239.0h4M1574 239.0h4M1602 239.0h4M1638 239.0h4M1658 239.0h4M1318 243.0h4M1418 243.0h8M1442 243.0h4M1454 243.0h4M1490 243.0h4M1506 243.0h4M1554 243.0h4M1578 243.0h4M1634 243.0h4M1298 247.0h4M1326 247.0h4M1366 247.0h4M1406 247.0h8M1510 247.0h4M1538 247.0h4M1562 247.0h4M1570 247.0h4M1594 247.0h4M1618 247.0h4M1638 247.0h4M1346 251.0h4M1358 251.0h4M1382 251.0h4M1402 251.0h4M1434 251.0h4M1510 251.0h4M1534 251.0h4M1542 251.0h4M1578 251.0h8M1634 251.0h4M1642 251.0h4M1654 251.0h4M1662 251.0h4M1334 255.0h4M1350 255.0h4M1386 255.0h4M1410 255.0h4M1458 255.0h4M1526 255.0h4M1538 255.0h12M1554 255.0h4M1622 255.0h4M1278 259.0h4M1290 259.0h4M1302 259.0h4M1314 259.0h4M1414 259.0h4M1426 259.0h4M1446 259.0h4M1602 259.0h4M1618 259.0h4M1370 263.0h4M1490 263.0h8M1526 263.0h4M1546 263.0h4M1606 263.0h4M1638 263.0h4M1366 267.0h4M1374 267.0h4M1406 267.0h4M1426 267.0h4M1438 267.0h4M1474 267.0h4M1578 267.0h4M1614 267.0h4M1622 267.0h8M1446 271.0h4M1466 271.0h4M1474 271.0h4M1482 271.0h4M1494 271.0h4M1570 271.0h4M1646 271.0h4M1282 275.0h12M1394 275.0h4M1418 275.0h4M1478 275.0h4M1498 275.0h4M1562 275.0h4M1578 275.0h4M1294 279.0h4M1302 279.0h12M1370 279.0h16M1390 279.0h4M1398 279.0h4M1426 279.0h4M1482 279.0h8M1498 279.0h4M1554 279.0h4M1566 279.0h4M1634 279.0h4M1658 279.0h4M1274 283.0h4M1306 283.0h4M1334 283.0h4M1362 283.0h4M1414 283.0h4M1430 283.0h4M1522 283.0h4M1538 283.0h4M1546 283.0h4M1566 283.0h4M1582 283.0h4M1590 283.0h4M1278 287.0h4M1326 287.0h8M1366 287.0h4M1378 287.0h4M1410 287.0h4M1422 287.0h4M1506 287.0h4M1654 287.0h4M1274 291.0h4M1282 291.0h4M1442 291.0h4M1466 291.0h4M1482 291.0h4M1554 291.0h4M1562 291.0h4M1590 291.0h4M1638 291.0h4M1274 295.0h4M1298 295.0h4M1318 295.0h4M1394 295.0h4M1410 295.0h4M1494 295.0h4M1562 295.0h4M1606 295.0h4M1638 295.0h4M1282 299.0h4M1426 299.0h4M1442 299.0h4M1498 299.0h8M1510 299.0h8M1622 299.0h4M1294 303.0h4M1326 303.0h4M1338 303.0h8M1402 303.0h4M1414 303.0h4M1434 303.0h4M1522 303.0h4M1538 303.0h4M1546 303.0h4M1586 303.0h4M1594 303.0h4M1366 307.0h4M1434 307.0h4M1602 307.0h4M1610 307.0h4M1662 307.0h4M1326 311.0h4M1362 311.0h4M1434 311.0h4M1446 311.0h4M1466 311.0h4M1502 311.0h4M1510 311.0h4M1546 311.0h4M1578 311.0h4M1634 311.0h4M1318 315.0h4M1470 315.0h4M1498 315.0h4M1594 315.0h4M1638 315.0h4M1662 315.0h4M1274 319.0h4M1294 319.0h4M1334 319.0h4M1342 319.0h4M1354 319.0h4M1394 319.0h4M1422 319.0h4M1458 319.0h4M1534 319.0h4M1574 319.0h4M1586 319.0h4M1638 319.0h4M1334 323.0h4M1390 323.0h4M1534 323.0h4M1562 323.0h4M1582 323.0h4M1642 323.0h12M1346 327.0h8M1358 327.0h4M1402 327.0h4M1426 327.0h4M1486 327.0h4M1502 327.0h8M1538 327.0h4M1558 327.0h8M1570 327.0h4M1578 327.0h12M1598 327.0h4M1634 327.0h4M1654 327.0h4M1662 327.0h4M1278 331.0h4M1350 331.0h4M1422 331.0h4M1430 331.0h4M1510 331.0h4M1542 331.0h4M1650 331.0h4M1274 335.0h4M1290 335.0h4M1374 335.0h4M1422 335.0h4M1490 335.0h4M1538 335.0h4M1602 335.0h4M1622 335.0h4M1294 339.0h4M1314 339.0h4M1342 339.0h8M1398 339.0h4M1442 339.0h8M1490 339.0h4M1498 339.0h4M1586 339.0h4M1642 339.0h4M1298 343.0h4M1382 343.0h8M1530 343.0h4M1558 343.0h4M1594 343.0h4M1298 347.0h4M1314 347.0h4M1326 347.0h4M1394 347.0h4M1406 347.0h4M1414 347.0h8M1462 347.0h4M1482 347.0h4M1518 347.0h4M1542 347.0h4M1598 347.0h4M1614 347.0h4M1622 347.0h4M1658 347.0h4M1354 351.0h4M1474 351.0h4M1506 351.0h4M1534 351.0h4M1606 351.0h4M1618 351.0h4M1626 351.0h4M1642 351.0h4M1662 351.0h4M1314 355.0h4M1338 355.0h4M1358 355.0h4M1366 355.0h4M1382 355.0h4M1406 355.0h8M1514 355.0h4M1538 355.0h4M1566 355.0h4M1618 355.0h8M1274 359.0h8M1314 359.0h4M1350 359.0h4M1362 359.0h4M1370 359.0h4M1442 359.0h4M1506 359.0h4M1522 359.0h4M1570 359.0h4M1590 359.0h4M1614 359.0h4M1314 363.0h4M1422 363.0h4M1514 363.0h4M1526 363.0h4M1562 363.0h4M1598 363.0h4M1610 363.0h4M1634 363.0h4M1658 363.0h4M1350 367.0h4M1390 367.0h4M1418 367.0h4M1434 367.0h4M1510 367.0h4M1578 367.0h8M1598 367.0h4M1622 367.0h4M1630 367.0h4M1302 371.0h4M1362 371.0h4M1414 371.0h4M1430 371.0h4M1442 371.0h4M1486 371.0h4M1498 371.0h4M1578 371.0h4M1630 371.0h4M1290 375.0h8M1306 375.0h8M1330 375.0h4M1398 375.0h4M1422 375.0h4M1458 375.0h4M1506 375.0h8M1522 375.0h4M1530 375.0h4M1546 375.0h4M1558 375.0h4M1574 375.0h4M1606 375.0h4M1642 375.0h4M1278 379.0h4M1286 379.0h4M1326 379.0h4M1430 379.0h4M1554 379.0h8M1322 383.0h4M1390 383.0h8M1434 383.0h8M1486 383.0h4M1518 383.0h4M1578 383.0h4M1650 383.0h4M1346 387.0h4M1394 387.0h4M1454 387.0h4M1490 387.0h4M1514 387.0h4M1610 387.0h4M1646 387.0h4M1662 387.0h4M1274 391.0h8M1298 391.0h4M1318 391.0h4M1366 391.0h4M1426 391.0h4M1438 391.0h4M1466 391.0h4M1490 391.0h4M1506 391.0h4M1522 391.0h4M1562 391.0h4M1586 391.0h4M1626 391.0h4M1646 391.0h4M1662 391.0h4M1330 395.0h4M1378 395.0h4M1406 395.0h4M1450 395.0h4M1538 395.0h4M1546 395.0h4M1570 395.0h8M1274 399.0h4M1306 399.0h8M1450 399.0h4M1474 399.0h4M1502 399.0h4M1578 399.0h4M1606 399.0h4M1662 399.0h4M1282 403.0h4M1318 403.0h4M1326 403.0h4M1362 403.0h4M1374 403.0h4M1386 403.0h4M1406 403.0h4M1422 403.0h4M1478 403.0h4M1582 403.0h4M1298 407.0h4M1310 407.0h4M1346 407.0h4M1522 407.0h4M1558 407.0h4M1574 407.0h8M1638 407.0h4M1282 411.0h4M1326 411.0h4M1346 411.0h4M1386 411.0h4M1402 411.0h12M1446 411.0h4M1478 411.0h8M1526 411.0h8M1538 411.0h4M1562 411.0h4M1574 411.0h4M1630 411.0h4M1274 415.0h4M1286 415.0h4M1314 415.0h4M1398 415.0h4M1478 415.0h4M1506 415.0h4M1590 415.0h4M1302 419.0h4M1330 419.0h4M1434 419.0h4M1502 419.0h4M1522 419.0h4M1302 423.0h4M1346 423.0h4M1358 423.0h4M1462 423.0h4M1498 423.0h4M1526 423.0h4M1558 423.0h4M1306 427.0h4M1318 427.0h4M1334 427.0h4M1454 427.0h4M1462 427.0h4M1502 427.0h4M1538 427.0h4M1550 427.0h4" stroke="#1c1c1c" stroke-width="4" fill="none"/><path d="M1274 79.0h4M1306 79.0h8M1370 79.0h4M1446 79.0h4M1530 79.0h4M1562 79.0h4M1610 79.0h4M1650 79.0h4M1314 83.0h8M1402 83.0h4M1414 83.0h4M1422 83.0h4M1434 83.0h4M1458 83.0h4M1470 83.0h4M1490 83.0h4M1558 83.0h4M1582 83.0h4M1590 83.0h4M1274 87.0h4M1282 87.0h4M1294 87.0h4M1342 87.0h4M1370 87.0h4M1438 87.0h8M1498 87.0h8M1606 87.0h4M1650 87.0h4M1406 91.0h4M1418 91.0h4M1426 91.0h4M1542 91.0h4M1554 91.0h8M1570 91.0h4M1590 91.0h4M1618 91.0h4M1294 95.0h8M1318 95.0h4M1326 95.0h4M1346 95.0h4M1354 95.0h4M1378 95.0h4M1434 95.0h4M1474 95.0h4M1490 95.0h4M1594 95.0h4M1626 95.0h4M1646 95.0h4M1294 99.0h4M1366 99.0h4M1414 99.0h4M1514 99.0h4M1530 99.0h4M1634 99.0h4M1422 103.0h4M1438 103.0h12M1538 103.0h4M1554 103.0h4M1614 103.0h4M1626 103.0h4M1290 107.0h4M1362 107.0h4M1386 107.0h4M1274 111.0h4M1294 111.0h4M1314 111.0h4M1334 111.0h4M1342 111.0h4M1386 111.0h4M1410 111.0h4M1426 111.0h8M1518 111.0h8M1534 111.0h4M1562 111.0h4M1590 111.0h4M1298 115.0h4M1342 115.0h4M1402 115.0h8M1418 115.0h4M1426 115.0h4M1434 115.0h4M1446 115.0h4M1482 115.0h4M1494 115.0h4M1502 115.0h4M1514 115.0h4M1602 115.0h4M1646 115.0h4M1274 119.0h4M1350 119.0h4M1426 119.0h4M1438 119.0h4M1466 119.0h4M1474 119.0h4M1498 119.0h4M1602 119.0h4M1654 119.0h8M1330 123.0h4M1370 123.0h4M1502 123.0h4M1518 123.0h4M1538 123.0h4M1590 123.0h4M1278 127.0h8M1310 127.0h4M1378 127.0h4M1490 127.0h4M1518 127.0h4M1546 127.0h4M1570 127.0h4M1650 127.0h8M1286 131.0h4M1342 131.0h4M1354 131.0h4M1370 131.0h4M1406 131.0h4M1566 131.0h4M1578 131.0h4M1598 131.0h4M1630 131.0h4M1650 131.0h4M1662 131.0h4M1286 135.0h4M1310 135.0h4M1338 135.0h4M1406 135.0h4M1450 135.0h4M1458 135.0h8M1578 135.0h4M1586 135.0h4M1594 135.0h4M1630 135.0h4M1642 135.0h4M1662 135.0h4M1310 139.0h4M1318 139.0h4M1426 139.0h4M1458 139.0h4M1470 139.0h4M1482 139.0h4M1494 139.0h4M1506 139.0h4M1518 139.0h4M1530 139.0h4M1554 139.0h4M1578 139.0h4M1622 139.0h8M1642 139.0h4M1282 143.0h4M1310 143.0h4M1318 143.0h4M1334 143.0h4M1450 143.0h4M1542 143.0h4M1658 143.0h8M1298 147.0h4M1314 147.0h4M1414 147.0h4M1442 147.0h4M1482 147.0h4M1518 147.0h8M1594 147.0h4M1614 147.0h4M1626 147.0h8M1294 151.0h8M1346 151.0h4M1406 151.0h4M1510 151.0h4M1542 151.0h4M1558 151.0h4M1654 151.0h4M1278 155.0h4M1358 155.0h4M1390 155.0h4M1434 155.0h4M1526 155.0h4M1562 155.0h4M1570 155.0h4M1662 155.0h4M1298 159.0h4M1310 159.0h4M1342 159.0h4M1370 159.0h4M1394 159.0h4M1422 159.0h4M1430 159.0h4M1438 159.0h4M1470 159.0h4M1490 159.0h4M1510 159.0h4M1654 159.0h4M1294 163.0h4M1306 163.0h4M1342 163.0h4M1354 163.0h4M1466 163.0h4M1506 163.0h4M1542 163.0h4M1586 163.0h8M1622 163.0h4M1634 163.0h4M1282 167.0h4M1330 167.0h4M1426 167.0h4M1474 167.0h4M1522 167.0h4M1530 167.0h4M1570 167.0h8M1598 167.0h4M1626 167.0h8M1282 171.0h4M1298 171.0h4M1310 171.0h4M1318 171.0h4M1370 171.0h8M1382 171.0h4M1394 171.0h4M1474 171.0h4M1486 171.0h4M1502 171.0h4M1530 171.0h4M1574 171.0h4M1602 171.0h4M1618 171.0h4M1634 171.0h4M1658 171.0h4M1334 175.0h4M1394 175.0h4M1442 175.0h4M1454 175.0h4M1490 175.0h4M1506 175.0h4M1514 175.0h4M1530 175.0h4M1554 175.0h4M1582 175.0h4M1590 175.0h4M1618 175.0h4M1630 175.0h4M1302 179.0h4M1310 179.0h4M1318 179.0h8M1350 179.0h4M1398 179.0h12M1450 179.0h4M1526 179.0h4M1590 179.0h4M1662 179.0h4M1306 183.0h4M1346 183.0h4M1410 183.0h4M1438 183.0h4M1494 183.0h4M1594 183.0h4M1602 183.0h4M1646 183.0h4M1662 183.0h4M1282 187.0h4M1294 187.0h4M1310 187.0h4M1434 187.0h4M1442 187.0h4M1490 187.0h4M1534 187.0h4M1566 187.0h4M1598 187.0h4M1618 187.0h4M1274 191.0h4M1298 191.0h24M1430 191.0h4M1482 191.0h4M1494 191.0h4M1558 191.0h4M1610 191.0h4M1658 191.0h4M1338 195.0h4M1350 195.0h4M1370 195.0h4M1406 195.0h4M1446 195.0h8M1466 195.0h4M1518 195.0h4M1554 195.0h8M1566 195.0h4M1602 195.0h4M1350 199.0h12M1370 199.0h4M1450 199.0h8M1490 199.0h4M1502 199.0h4M1510 199.0h4M1550 199.0h8M1570 199.0h8M1594 199.0h4M1622 199.0h4M1418 203.0h4M1430 203.0h4M1454 203.0h8M1482 203.0h4M1498 203.0h4M1582 203.0h4M1606 203.0h4M1650 203.0h4M1302 207.0h4M1338 207.0h4M1370 207.0h8M1398 207.0h4M1410 207.0h4M1418 207.0h4M1478 207.0h4M1510 207.0h4M1518 207.0h4M1542 207.0h4M1578 207.0h4M1594 207.0h4M1618 207.0h4M1306 211.0h4M1330 211.0h4M1346 211.0h4M1358 211.0h4M1410 211.0h4M1442 211.0h4M1454 211.0h4M1462 211.0h4M1578 211.0h4M1306 215.0h8M1322 215.0h4M1450 215.0h4M1530 215.0h4M1558 215.0h4M1566 215.0h4M1578 215.0h4M1586 215.0h4M1598 215.0h4M1642 215.0h4M1298 219.0h4M1334 219.0h4M1358 219.0h12M1378 219.0h4M1390 219.0h8M1414 219.0h4M1454 219.0h4M1490 219.0h4M1506 219.0h4M1542 219.0h4M1554 219.0h4M1570 219.0h4M1630 219.0h4M1322 223.0h4M1342 223.0h4M1350 223.0h4M1362 223.0h4M1422 223.0h4M1454 223.0h4M1478 223.0h4M1562 223.0h4M1590 223.0h4M1290 227.0h4M1314 227.0h4M1370 227.0h4M1426 227.0h4M1450 227.0h4M1554 227.0h4M1578 227.0h8M1610 227.0h4M1630 227.0h4M1294 231.0h4M1314 231.0h4M1322 231.0h4M1334 231.0h4M1342 231.0h4M1394 231.0h4M1430 231.0h4M1482 231.0h8M1622 231.0h4M1274 235.0h4M1282 235.0h4M1314 235.0h8M1402 235.0h4M1446 235.0h4M1498 235.0h4M1530 235.0h4M1574 235.0h8M1598 235.0h4M1610 235.0h4M1618 235.0h4M1654 235.0h4M1382 239.0h4M1490 239.0h4M1530 239.0h4M1594 239.0h4M1642 239.0h12M1370 243.0h4M1378 243.0h4M1406 243.0h4M1478 243.0h8M1502 243.0h4M1526 243.0h4M1562 243.0h4M1582 243.0h4M1614 243.0h4M1626 243.0h4M1654 243.0h8M1274 247.0h4M1290 247.0h4M1362 247.0h4M1390 247.0h8M1402 247.0h4M1414 247.0h8M1426 247.0h4M1482 247.0h4M1586 247.0h4M1350 251.0h4M1414 251.0h4M1422 251.0h4M1610 251.0h4M1278 255.0h4M1298 255.0h4M1310 255.0h8M1338 255.0h12M1370 255.0h12M1414 255.0h4M1430 255.0h4M1438 255.0h8M1454 255.0h4M1522 255.0h4M1534 255.0h4M1550 255.0h4M1582 255.0h4M1606 255.0h4M1662 255.0h4M1326 259.0h4M1358 259.0h4M1366 259.0h4M1402 259.0h8M1422 259.0h4M1442 259.0h4M1462 259.0h4M1486 259.0h4M1498 259.0h4M1506 259.0h4M1638 259.0h4M1298 263.0h8M1322 263.0h4M1362 263.0h4M1390 263.0h4M1410 263.0h4M1474 263.0h4M1598 263.0h8M1618 263.0h4M1650 263.0h4M1282 267.0h4M1310 267.0h4M1326 267.0h4M1350 267.0h4M1358 267.0h8M1390 267.0h8M1466 267.0h4M1502 267.0h4M1510 267.0h4M1534 267.0h4M1566 267.0h4M1590 267.0h8M1282 271.0h8M1318 271.0h8M1350 271.0h4M1362 271.0h4M1378 271.0h4M1398 271.0h4M1450 271.0h4M1518 271.0h4M1578 271.0h4M1614 271.0h4M1318 275.0h4M1330 275.0h4M1362 275.0h4M1386 275.0h4M1422 275.0h4M1490 275.0h4M1518 275.0h4M1530 275.0h4M1590 275.0h4M1290 279.0h4M1326 279.0h4M1358 279.0h4M1402 279.0h4M1414 279.0h4M1478 279.0h4M1538 279.0h4M1598 279.0h4M1654 279.0h4M1314 283.0h4M1366 283.0h4M1374 283.0h4M1442 283.0h8M1470 283.0h4M1482 283.0h4M1490 283.0h4M1526 283.0h4M1554 283.0h4M1602 283.0h4M1626 283.0h4M1634 283.0h4M1658 283.0h4M1310 287.0h4M1402 287.0h4M1430 287.0h4M1490 287.0h4M1538 287.0h4M1558 287.0h4M1582 287.0h4M1598 287.0h4M1614 287.0h4M1338 291.0h4M1358 291.0h4M1366 291.0h4M1378 291.0h4M1454 291.0h4M1470 291.0h4M1486 291.0h4M1494 291.0h4M1506 291.0h4M1518 291.0h4M1622 291.0h8M1650 291.0h4M1658 291.0h4M1286 295.0h4M1342 295.0h4M1354 295.0h4M1442 295.0h4M1530 295.0h4M1550 295.0h4M1650 295.0h4M1662 295.0h4M1286 299.0h4M1306 299.0h4M1346 299.0h4M1362 299.0h4M1398 299.0h4M1418 299.0h4M1438 299.0h4M1462 299.0h4M1482 299.0h4M1562 299.0h4M1590 299.0h8M1650 299.0h4M1658 299.0h4M1318 303.0h4M1334 303.0h4M1406 303.0h4M1450 303.0h4M1458 303.0h4M1490 303.0h4M1498 303.0h4M1566 303.0h4M1286 307.0h4M1362 307.0h4M1378 307.0h4M1386 307.0h4M1446 307.0h4M1466 307.0h4M1562 307.0h4M1590 307.0h4M1274 311.0h4M1286 311.0h4M1314 311.0h4M1394 311.0h4M1406 311.0h4M1482 311.0h4M1522 311.0h4M1534 311.0h4M1566 311.0h8M1622 311.0h8M1658 311.0h4M1294 315.0h4M1330 315.0h4M1338 315.0h4M1346 315.0h4M1422 315.0h4M1438 315.0h4M1510 315.0h4M1522 315.0h4M1546 315.0h8M1606 315.0h4M1626 315.0h4M1642 315.0h4M1282 319.0h4M1290 319.0h4M1306 319.0h4M1318 319.0h4M1326 319.0h4M1378 319.0h4M1494 319.0h4M1570 319.0h4M1578 319.0h4M1590 319.0h8M1282 323.0h4M1290 323.0h4M1318 323.0h4M1398 323.0h4M1430 323.0h4M1466 323.0h8M1546 323.0h4M1574 323.0h4M1602 323.0h8M1626 323.0h8M1274 327.0h4M1282 327.0h4M1366 327.0h4M1382 327.0h8M1522 327.0h4M1550 327.0h4M1614 327.0h4M1646 327.0h4M1290 331.0h4M1302 331.0h4M1322 331.0h4M1330 331.0h4M1366 331.0h4M1446 331.0h4M1502 331.0h8M1518 331.0h4M1526 331.0h4M1546 331.0h4M1554 331.0h4M1570 331.0h4M1658 331.0h4M1334 335.0h4M1350 335.0h4M1362 335.0h4M1446 335.0h8M1502 335.0h4M1566 335.0h4M1578 335.0h4M1590 335.0h4M1642 335.0h4M1326 339.0h4M1338 339.0h4M1462 339.0h4M1494 339.0h4M1526 339.0h4M1534 339.0h4M1610 339.0h4M1622 339.0h4M1278 343.0h4M1302 343.0h4M1314 343.0h4M1334 343.0h4M1342 343.0h4M1354 343.0h4M1378 343.0h4M1430 343.0h4M1450 343.0h4M1486 343.0h4M1506 343.0h4M1518 343.0h4M1626 343.0h4M1634 343.0h4M1642 343.0h4M1398 347.0h4M1426 347.0h4M1450 347.0h4M1470 347.0h4M1526 347.0h4M1570 347.0h4M1578 347.0h4M1610 347.0h4M1618 347.0h4M1634 347.0h4M1654 347.0h4M1662 347.0h4M1358 351.0h4M1394 351.0h4M1470 351.0h4M1514 351.0h4M1550 351.0h8M1598 351.0h4M1634 351.0h8M1274 355.0h4M1302 355.0h4M1494 355.0h4M1638 355.0h4M1386 359.0h4M1422 359.0h4M1450 359.0h8M1514 359.0h4M1558 359.0h4M1566 359.0h4M1626 359.0h4M1634 359.0h4M1290 363.0h4M1350 363.0h4M1386 363.0h4M1410 363.0h4M1470 363.0h4M1538 363.0h4M1638 363.0h4M1650 363.0h4M1322 367.0h4M1330 367.0h4M1338 367.0h4M1462 367.0h4M1482 367.0h4M1494 367.0h4M1502 367.0h4M1526 367.0h4M1534 367.0h4M1566 367.0h8M1594 367.0h4M1606 367.0h4M1650 367.0h8M1278 371.0h12M1322 371.0h4M1350 371.0h8M1426 371.0h4M1462 371.0h8M1546 371.0h4M1594 371.0h4M1606 371.0h4M1622 371.0h4M1366 375.0h4M1430 375.0h4M1478 375.0h4M1502 375.0h4M1526 375.0h4M1550 375.0h4M1590 375.0h4M1614 375.0h4M1630 375.0h4M1662 375.0h4M1318 379.0h4M1362 379.0h4M1446 379.0h4M1518 379.0h4M1538 379.0h4M1562 379.0h4M1594 379.0h4M1606 379.0h4M1350 383.0h4M1402 383.0h4M1430 383.0h4M1458 383.0h4M1522 383.0h4M1538 383.0h4M1554 383.0h4M1574 383.0h4M1646 383.0h4M1318 387.0h4M1338 387.0h4M1374 387.0h4M1386 387.0h4M1414 387.0h4M1502 387.0h4M1542 387.0h4M1622 387.0h4M1634 387.0h4M1306 391.0h4M1330 391.0h4M1370 391.0h4M1390 391.0h4M1442 391.0h4M1482 391.0h8M1494 391.0h4M1518 391.0h4M1594 391.0h4M1630 391.0h4M1286 395.0h4M1390 395.0h4M1426 395.0h4M1466 395.0h4M1594 395.0h12M1626 395.0h4M1298 399.0h4M1326 399.0h4M1434 399.0h4M1446 399.0h4M1458 399.0h4M1486 399.0h4M1506 399.0h4M1522 399.0h4M1534 399.0h4M1618 399.0h4M1626 399.0h4M1650 399.0h4M1322 403.0h4M1382 403.0h4M1482 403.0h4M1594 403.0h8M1650 403.0h8M1306 407.0h4M1362 407.0h8M1386 407.0h4M1478 407.0h4M1538 407.0h4M1646 407.0h4M1662 407.0h4M1286 411.0h4M1294 411.0h4M1314 411.0h4M1366 411.0h4M1382 411.0h4M1422 411.0h4M1450 411.0h4M1470 411.0h4M1506 411.0h4M1590 411.0h4M1598 411.0h4M1338 415.0h4M1346 415.0h8M1390 415.0h4M1458 415.0h4M1470 415.0h8M1486 415.0h4M1518 415.0h4M1558 415.0h4M1650 415.0h4M1306 419.0h4M1326 419.0h4M1358 419.0h8M1414 419.0h4M1426 419.0h8M1478 419.0h8M1526 419.0h4M1570 419.0h4M1590 419.0h4M1626 419.0h8M1650 419.0h4M1318 423.0h4M1342 423.0h4M1350 423.0h4M1386 423.0h4M1402 423.0h4M1414 423.0h4M1434 423.0h4M1522 423.0h4M1570 423.0h4M1366 427.0h4M1378 427.0h4M1422 427.0h4M1438 427.0h4M1458 427.0h4M1466 427.0h4M1506 427.0h4M1534 427.0h4M1542 427.0h4M1566 427.0h4M1646 427.0h12" stroke="#393939" stroke-width="4" fill="none"/><path d="M1282 79.0h4M1402 79.0h4M1454 79.0h8M1554 79.0h4M1590 79.0h4M1630 79.0h4M1662 79.0h4M1338 83.0h4M1374 83.0h4M1418 83.0h4M1426 83.0h4M1438 83.0h4M1494 83.0h4M1514 83.0h4M1574 83.0h4M1594 83.0h16M1278 87.0h4M1354 87.0h4M1366 87.0h4M1386 87.0h4M1450 87.0h4M1506 87.0h4M1518 87.0h4M1526 87.0h4M1542 87.0h4M1554 87.0h4M1566 87.0h4M1582 87.0h4M1594 87.0h4M1622 87.0h8M1638 87.0h4M1438 91.0h20M1470 91.0h4M1578 91.0h4M1606 91.0h4M1614 91.0h4M1278 95.0h4M1358 95.0h4M1382 95.0h4M1398 95.0h4M1422 95.0h4M1462 95.0h4M1518 95.0h4M1570 95.0h4M1622 95.0h4M1630 95.0h4M1654 95.0h12M1282 99.0h4M1322 99.0h4M1346 99.0h4M1390 99.0h4M1510 99.0h4M1566 99.0h4M1626 99.0h4M1646 99.0h4M1662 99.0h4M1274 103.0h4M1322 103.0h4M1358 103.0h4M1370 103.0h8M1406 103.0h4M1458 103.0h4M1566 103.0h8M1606 103.0h8M1646 103.0h4M1322 107.0h8M1334 107.0h4M1402 107.0h4M1490 107.0h4M1538 107.0h4M1558 107.0h4M1574 107.0h4M1582 107.0h4M1630 107.0h4M1654 107.0h4M1322 111.0h4M1346 111.0h4M1378 111.0h4M1402 111.0h4M1502 111.0h4M1530 111.0h4M1634 111.0h4M1662 111.0h4M1274 115.0h4M1306 115.0h4M1362 115.0h4M1394 115.0h4M1422 115.0h4M1586 115.0h4M1594 115.0h4M1618 115.0h4M1650 115.0h4M1282 119.0h4M1366 119.0h4M1434 119.0h4M1442 119.0h4M1490 119.0h4M1542 119.0h4M1562 119.0h4M1570 119.0h4M1598 119.0h4M1610 119.0h8M1638 119.0h4M1318 123.0h4M1354 123.0h4M1374 123.0h4M1438 123.0h4M1450 123.0h8M1470 123.0h4M1558 123.0h4M1622 123.0h4M1642 123.0h4M1658 123.0h8M1290 127.0h4M1338 127.0h4M1402 127.0h4M1422 127.0h4M1534 127.0h4M1558 127.0h4M1582 127.0h4M1590 127.0h4M1642 127.0h4M1378 131.0h4M1398 131.0h4M1418 131.0h4M1458 131.0h4M1550 131.0h4M1614 131.0h4M1646 131.0h4M1654 131.0h4M1298 135.0h4M1334 135.0h4M1386 135.0h4M1414 135.0h4M1550 135.0h4M1562 135.0h4M1598 135.0h4M1622 135.0h4M1282 139.0h4M1302 139.0h4M1350 139.0h4M1366 139.0h4M1454 139.0h4M1486 139.0h4M1526 139.0h4M1546 139.0h4M1610 139.0h4M1658 139.0h8M1302 143.0h4M1326 143.0h8M1374 143.0h4M1386 143.0h12M1482 143.0h4M1286 147.0h4M1302 147.0h4M1334 147.0h4M1354 147.0h4M1362 147.0h4M1546 147.0h4M1558 147.0h4M1566 147.0h4M1322 151.0h4M1350 151.0h4M1378 151.0h4M1394 151.0h8M1478 151.0h4M1506 151.0h4M1522 151.0h4M1590 151.0h4M1298 155.0h4M1346 155.0h4M1366 155.0h4M1374 155.0h4M1414 155.0h4M1438 155.0h4M1506 155.0h4M1546 155.0h4M1594 155.0h4M1650 155.0h4M1330 159.0h4M1346 159.0h4M1466 159.0h4M1530 159.0h4M1618 159.0h4M1630 159.0h4M1330 163.0h4M1390 163.0h4M1414 163.0h4M1434 163.0h4M1442 163.0h4M1558 163.0h4M1602 163.0h4M1610 163.0h4M1646 163.0h8M1274 167.0h4M1310 167.0h4M1370 167.0h4M1394 167.0h4M1422 167.0h4M1486 167.0h4M1506 167.0h4M1514 167.0h4M1558 167.0h4M1586 167.0h4M1302 171.0h4M1326 171.0h4M1350 171.0h4M1386 171.0h4M1434 171.0h4M1446 171.0h4M1462 171.0h4M1538 171.0h4M1554 171.0h4M1566 171.0h4M1610 171.0h4M1626 171.0h8M1286 175.0h4M1350 175.0h4M1474 175.0h4M1522 175.0h4M1654 175.0h4M1330 179.0h4M1382 179.0h4M1390 179.0h4M1422 179.0h4M1430 179.0h4M1522 179.0h4M1542 179.0h4M1554 179.0h4M1562 179.0h4M1614 179.0h4M1634 179.0h4M1294 183.0h4M1374 183.0h4M1502 183.0h4M1562 183.0h4M1582 183.0h4M1638 183.0h4M1358 187.0h4M1378 187.0h4M1450 187.0h4M1474 187.0h4M1506 187.0h4M1514 187.0h4M1554 187.0h4M1326 191.0h4M1342 191.0h4M1358 191.0h4M1374 191.0h4M1466 191.0h4M1478 191.0h4M1538 191.0h4M1546 191.0h4M1634 191.0h4M1642 191.0h12M1286 195.0h4M1314 195.0h4M1362 195.0h4M1538 195.0h4M1658 195.0h4M1318 199.0h4M1330 199.0h4M1366 199.0h4M1394 199.0h8M1434 199.0h4M1474 199.0h4M1482 199.0h4M1282 203.0h4M1298 203.0h4M1322 203.0h4M1330 203.0h4M1346 203.0h8M1366 203.0h4M1378 203.0h4M1402 203.0h4M1434 203.0h4M1450 203.0h4M1470 203.0h4M1514 203.0h4M1550 203.0h4M1286 207.0h8M1298 207.0h4M1310 207.0h4M1326 207.0h4M1354 207.0h4M1366 207.0h4M1378 207.0h4M1438 207.0h4M1466 207.0h4M1486 207.0h4M1494 207.0h4M1522 207.0h4M1610 207.0h4M1622 207.0h4M1338 211.0h4M1366 211.0h4M1426 211.0h4M1434 211.0h8M1470 211.0h4M1514 211.0h4M1566 211.0h4M1586 211.0h4M1630 211.0h4M1638 211.0h4M1650 211.0h4M1278 215.0h4M1294 215.0h4M1342 215.0h4M1378 215.0h4M1402 215.0h4M1426 215.0h4M1458 215.0h4M1470 215.0h4M1502 215.0h4M1534 215.0h4M1542 215.0h8M1638 215.0h4M1646 215.0h8M1658 215.0h8M1326 219.0h4M1398 219.0h4M1410 219.0h4M1442 219.0h4M1466 219.0h4M1474 219.0h4M1546 219.0h4M1582 219.0h4M1618 219.0h4M1642 219.0h4M1654 219.0h4M1662 219.0h4M1294 223.0h4M1302 223.0h4M1330 223.0h4M1346 223.0h4M1378 223.0h4M1466 223.0h8M1498 223.0h4M1514 223.0h4M1566 223.0h4M1578 223.0h4M1586 223.0h4M1622 223.0h4M1646 223.0h4M1358 227.0h4M1366 227.0h4M1386 227.0h4M1482 227.0h4M1506 227.0h4M1518 227.0h4M1602 227.0h4M1286 231.0h4M1358 231.0h4M1374 231.0h8M1390 231.0h4M1414 231.0h4M1458 231.0h4M1470 231.0h4M1490 231.0h4M1526 231.0h4M1618 231.0h4M1286 235.0h12M1306 235.0h4M1342 235.0h4M1354 235.0h4M1370 235.0h8M1386 235.0h4M1518 235.0h4M1534 235.0h4M1566 235.0h4M1586 235.0h4M1286 239.0h4M1294 239.0h4M1318 239.0h4M1362 239.0h4M1446 239.0h4M1478 239.0h4M1498 239.0h4M1550 239.0h4M1586 239.0h4M1630 239.0h4M1278 243.0h4M1286 243.0h4M1414 243.0h4M1462 243.0h8M1486 243.0h4M1586 243.0h4M1598 243.0h4M1606 243.0h4M1622 243.0h4M1650 243.0h4M1314 247.0h4M1330 247.0h4M1374 247.0h4M1458 247.0h4M1530 247.0h4M1546 247.0h4M1554 247.0h4M1578 247.0h4M1650 247.0h4M1290 251.0h4M1298 251.0h4M1306 251.0h4M1394 251.0h4M1478 251.0h4M1498 251.0h4M1550 251.0h4M1558 251.0h8M1318 255.0h4M1326 255.0h4M1354 255.0h4M1394 255.0h4M1446 255.0h4M1510 255.0h4M1574 255.0h4M1614 255.0h4M1650 255.0h4M1322 259.0h4M1338 259.0h4M1362 259.0h4M1374 259.0h4M1386 259.0h4M1510 259.0h4M1534 259.0h4M1574 259.0h4M1594 259.0h4M1610 259.0h8M1646 259.0h4M1314 263.0h4M1330 263.0h4M1346 263.0h4M1354 263.0h4M1418 263.0h4M1450 263.0h4M1518 263.0h8M1590 263.0h4M1274 267.0h4M1302 267.0h4M1314 267.0h8M1382 267.0h4M1454 267.0h8M1506 267.0h4M1526 267.0h4M1574 267.0h4M1606 267.0h4M1274 271.0h4M1346 271.0h4M1366 271.0h4M1422 271.0h4M1470 271.0h4M1594 271.0h4M1602 271.0h4M1622 271.0h4M1314 275.0h4M1334 275.0h12M1358 275.0h4M1366 275.0h4M1402 275.0h16M1458 275.0h4M1506 275.0h4M1514 275.0h4M1570 275.0h4M1598 275.0h4M1642 275.0h8M1658 275.0h4M1286 279.0h4M1314 279.0h4M1410 279.0h4M1450 279.0h4M1466 279.0h4M1534 279.0h4M1558 279.0h4M1578 279.0h4M1594 279.0h4M1618 279.0h4M1358 283.0h4M1390 283.0h8M1462 283.0h4M1494 283.0h4M1510 283.0h4M1518 283.0h4M1578 283.0h4M1606 283.0h4M1650 283.0h4M1314 287.0h4M1346 287.0h4M1362 287.0h4M1390 287.0h12M1454 287.0h4M1514 287.0h4M1546 287.0h4M1642 287.0h4M1330 291.0h4M1374 291.0h4M1406 291.0h4M1422 291.0h4M1446 291.0h4M1458 291.0h4M1474 291.0h4M1498 291.0h4M1546 291.0h4M1558 291.0h4M1662 291.0h4M1326 295.0h4M1334 295.0h4M1374 295.0h4M1398 295.0h4M1406 295.0h4M1414 295.0h4M1430 295.0h4M1478 295.0h4M1502 295.0h4M1542 295.0h4M1566 295.0h4M1634 295.0h4M1658 295.0h4M1290 299.0h4M1314 299.0h4M1406 299.0h4M1490 299.0h4M1542 299.0h4M1550 299.0h4M1566 299.0h4M1598 299.0h4M1614 299.0h8M1626 299.0h4M1374 303.0h8M1438 303.0h4M1446 303.0h4M1562 303.0h4M1574 303.0h4M1598 303.0h4M1622 303.0h12M1302 307.0h4M1310 307.0h4M1350 307.0h8M1374 307.0h4M1390 307.0h4M1398 307.0h4M1410 307.0h4M1418 307.0h8M1486 307.0h4M1526 307.0h8M1578 307.0h4M1606 307.0h4M1626 307.0h4M1634 307.0h4M1654 307.0h4M1282 311.0h4M1290 311.0h8M1358 311.0h4M1366 311.0h4M1382 311.0h4M1410 311.0h4M1438 311.0h4M1598 311.0h4M1610 311.0h4M1630 311.0h4M1662 311.0h4M1354 315.0h4M1526 315.0h4M1562 315.0h4M1570 315.0h4M1582 315.0h4M1618 315.0h4M1338 319.0h4M1366 319.0h4M1414 319.0h4M1438 319.0h4M1470 319.0h4M1518 319.0h4M1530 319.0h4M1558 319.0h4M1622 319.0h4M1630 319.0h8M1646 319.0h4M1306 323.0h4M1322 323.0h4M1342 323.0h4M1350 323.0h4M1406 323.0h4M1426 323.0h4M1458 323.0h4M1558 323.0h4M1590 323.0h4M1614 323.0h4M1318 327.0h4M1354 327.0h4M1374 327.0h4M1434 327.0h4M1446 327.0h4M1454 327.0h4M1498 327.0h4M1510 327.0h4M1626 327.0h4M1650 327.0h4M1274 331.0h4M1310 331.0h4M1354 331.0h8M1406 331.0h4M1438 331.0h4M1458 331.0h4M1494 331.0h4M1582 331.0h4M1598 331.0h4M1338 335.0h4M1358 335.0h4M1378 335.0h4M1430 335.0h4M1442 335.0h4M1470 335.0h8M1614 335.0h4M1626 335.0h8M1638 335.0h4M1306 339.0h4M1362 339.0h4M1414 339.0h4M1466 339.0h4M1502 339.0h4M1558 339.0h12M1326 343.0h4M1362 343.0h4M1406 343.0h4M1498 343.0h4M1582 343.0h8M1598 343.0h8M1290 347.0h8M1386 347.0h8M1498 347.0h4M1534 347.0h4M1546 347.0h4M1558 347.0h4M1590 347.0h4M1606 347.0h4M1626 347.0h4M1322 351.0h4M1366 351.0h4M1374 351.0h4M1398 351.0h4M1466 351.0h4M1510 351.0h4M1646 351.0h4M1298 355.0h4M1318 355.0h4M1346 355.0h4M1362 355.0h4M1394 355.0h4M1442 355.0h4M1482 355.0h4M1490 355.0h4M1498 355.0h8M1550 355.0h4M1626 355.0h4M1662 355.0h4M1286 359.0h4M1330 359.0h4M1378 359.0h4M1394 359.0h4M1474 359.0h4M1534 359.0h8M1594 359.0h8M1606 359.0h4M1650 359.0h4M1302 363.0h4M1310 363.0h4M1354 363.0h12M1382 363.0h4M1490 363.0h4M1502 363.0h4M1530 363.0h4M1550 363.0h4M1582 363.0h4M1594 363.0h4M1626 363.0h4M1282 367.0h12M1450 367.0h4M1530 367.0h4M1318 371.0h4M1374 371.0h4M1446 371.0h8M1510 371.0h4M1538 371.0h4M1554 371.0h8M1586 371.0h4M1642 371.0h4M1658 371.0h4M1282 375.0h4M1314 375.0h4M1370 375.0h4M1442 375.0h4M1454 375.0h4M1486 375.0h8M1534 375.0h4M1658 375.0h4M1282 379.0h4M1294 379.0h4M1306 379.0h8M1346 379.0h4M1370 379.0h4M1390 379.0h4M1442 379.0h4M1458 379.0h8M1490 379.0h4M1530 379.0h4M1542 379.0h4M1590 379.0h4M1618 379.0h4M1282 383.0h4M1342 383.0h4M1374 383.0h4M1386 383.0h4M1406 383.0h4M1450 383.0h4M1470 383.0h12M1530 383.0h4M1602 383.0h4M1614 383.0h4M1638 383.0h8M1278 387.0h8M1290 387.0h4M1322 387.0h4M1342 387.0h4M1354 387.0h4M1450 387.0h4M1510 387.0h4M1562 387.0h4M1598 387.0h4M1614 387.0h4M1642 387.0h4M1658 387.0h4M1282 391.0h4M1334 391.0h4M1394 391.0h4M1434 391.0h4M1534 391.0h4M1610 391.0h4M1618 391.0h4M1326 395.0h4M1338 395.0h4M1354 395.0h4M1394 395.0h4M1414 395.0h4M1434 395.0h8M1470 395.0h4M1550 395.0h4M1614 395.0h4M1634 395.0h4M1654 395.0h4M1290 399.0h8M1422 399.0h4M1438 399.0h4M1466 399.0h4M1514 399.0h4M1530 399.0h4M1538 399.0h4M1274 403.0h4M1314 403.0h4M1378 403.0h4M1394 403.0h4M1462 403.0h12M1486 403.0h4M1538 403.0h8M1562 403.0h4M1574 403.0h4M1602 403.0h4M1630 403.0h4M1294 407.0h4M1302 407.0h4M1326 407.0h4M1338 407.0h4M1418 407.0h4M1430 407.0h4M1454 407.0h4M1494 407.0h4M1502 407.0h4M1518 407.0h4M1570 407.0h4M1594 407.0h8M1642 407.0h4M1322 411.0h4M1338 411.0h4M1378 411.0h4M1390 411.0h4M1426 411.0h4M1438 411.0h4M1454 411.0h4M1550 411.0h4M1582 411.0h4M1610 411.0h4M1650 411.0h4M1326 415.0h4M1354 415.0h4M1366 415.0h4M1374 415.0h4M1550 415.0h4M1578 415.0h4M1346 419.0h8M1386 419.0h4M1402 419.0h8M1442 419.0h4M1450 419.0h4M1458 419.0h4M1466 419.0h4M1538 419.0h8M1558 419.0h4M1610 419.0h4M1654 419.0h4M1442 423.0h4M1482 423.0h4M1490 423.0h4M1550 423.0h4M1566 423.0h4M1574 423.0h4M1618 423.0h4M1630 423.0h4M1654 423.0h4M1374 427.0h4M1398 427.0h8M1474 427.0h4M1486 427.0h4M1570 427.0h4M1642 427.0h4M1658 427.0h4" stroke="#555" stroke-width="4" fill="none"/><path d="M1318 79.0h4M1326 79.0h4M1346 79.0h4M1382 79.0h4M1410 79.0h4M1438 79.0h4M1450 79.0h4M1602 79.0h4M1274 83.0h8M1302 83.0h8M1326 83.0h4M1366 83.0h4M1406 83.0h4M1478 83.0h4M1502 83.0h4M1526 83.0h4M1634 83.0h4M1662 83.0h4M1350 87.0h4M1378 87.0h4M1454 87.0h4M1494 87.0h4M1578 87.0h4M1586 87.0h4M1602 87.0h4M1654 87.0h4M1382 91.0h4M1462 91.0h4M1494 91.0h8M1526 91.0h8M1602 91.0h4M1634 91.0h4M1642 91.0h4M1658 91.0h4M1290 95.0h4M1402 95.0h8M1514 95.0h4M1590 95.0h4M1642 95.0h4M1422 99.0h4M1446 99.0h12M1470 99.0h4M1478 99.0h4M1582 99.0h4M1590 99.0h4M1614 99.0h4M1638 99.0h4M1306 103.0h4M1342 103.0h4M1354 103.0h4M1394 103.0h4M1430 103.0h4M1518 103.0h4M1622 103.0h4M1650 103.0h4M1274 107.0h4M1310 107.0h4M1462 107.0h4M1498 107.0h4M1526 107.0h4M1542 107.0h4M1586 107.0h4M1646 107.0h4M1298 111.0h4M1318 111.0h4M1390 111.0h8M1414 111.0h4M1470 111.0h4M1498 111.0h4M1542 111.0h4M1578 111.0h4M1614 111.0h4M1638 111.0h4M1278 115.0h4M1286 115.0h4M1302 115.0h4M1338 115.0h4M1366 115.0h4M1458 115.0h4M1498 115.0h4M1658 115.0h4M1298 119.0h4M1306 119.0h4M1398 119.0h4M1414 119.0h4M1430 119.0h4M1482 119.0h4M1506 119.0h8M1530 119.0h4M1586 119.0h4M1606 119.0h4M1302 123.0h4M1322 123.0h4M1378 123.0h8M1394 123.0h4M1414 123.0h4M1434 123.0h4M1490 123.0h4M1506 123.0h4M1586 123.0h4M1638 123.0h4M1302 127.0h4M1354 127.0h4M1370 127.0h4M1410 127.0h4M1446 127.0h4M1458 127.0h8M1538 127.0h4M1606 127.0h4M1614 127.0h4M1638 127.0h4M1278 131.0h8M1302 131.0h4M1346 131.0h4M1374 131.0h4M1390 131.0h4M1442 131.0h4M1494 131.0h4M1554 131.0h4M1594 131.0h4M1622 131.0h4M1638 131.0h4M1330 135.0h4M1350 135.0h4M1370 135.0h4M1398 135.0h8M1422 135.0h4M1454 135.0h4M1510 135.0h4M1526 135.0h4M1566 135.0h4M1590 135.0h4M1614 135.0h4M1658 135.0h4M1286 139.0h4M1346 139.0h4M1354 139.0h8M1438 139.0h4M1462 139.0h4M1550 139.0h4M1338 143.0h4M1346 143.0h4M1354 143.0h4M1370 143.0h4M1378 143.0h4M1406 143.0h16M1494 143.0h4M1566 143.0h4M1630 143.0h8M1282 147.0h4M1290 147.0h4M1342 147.0h4M1374 147.0h4M1390 147.0h12M1426 147.0h8M1474 147.0h4M1502 147.0h8M1534 147.0h4M1542 147.0h4M1650 147.0h4M1354 151.0h4M1382 151.0h4M1422 151.0h4M1434 151.0h4M1530 151.0h4M1538 151.0h4M1586 151.0h4M1598 151.0h4M1274 155.0h4M1290 155.0h4M1302 155.0h4M1338 155.0h4M1486 155.0h4M1538 155.0h4M1554 155.0h4M1274 159.0h4M1386 159.0h4M1546 159.0h4M1562 159.0h4M1570 159.0h4M1634 159.0h4M1298 163.0h4M1334 163.0h4M1378 163.0h8M1482 163.0h4M1594 163.0h4M1614 163.0h4M1662 163.0h4M1302 167.0h8M1414 167.0h4M1434 167.0h4M1466 167.0h4M1498 167.0h4M1542 167.0h4M1554 167.0h4M1618 167.0h4M1278 171.0h4M1306 171.0h4M1354 171.0h4M1378 171.0h4M1406 171.0h8M1430 171.0h4M1454 171.0h8M1494 171.0h4M1510 171.0h4M1550 171.0h4M1578 171.0h4M1590 171.0h8M1622 171.0h4M1642 171.0h4M1406 175.0h4M1422 175.0h8M1438 175.0h4M1446 175.0h4M1598 175.0h8M1294 179.0h4M1334 179.0h4M1414 179.0h4M1486 179.0h4M1622 179.0h8M1654 179.0h4M1394 183.0h4M1414 183.0h4M1506 183.0h4M1522 183.0h8M1546 183.0h4M1570 183.0h4M1590 183.0h4M1606 183.0h4M1626 183.0h4M1286 187.0h4M1318 187.0h4M1326 187.0h4M1338 187.0h8M1350 187.0h8M1402 187.0h8M1478 187.0h4M1494 187.0h4M1546 187.0h4M1610 187.0h4M1650 187.0h4M1282 191.0h8M1474 191.0h4M1502 191.0h4M1526 191.0h4M1574 191.0h4M1282 195.0h4M1294 195.0h4M1402 195.0h4M1470 195.0h4M1502 195.0h4M1510 195.0h4M1546 195.0h4M1570 195.0h4M1610 195.0h4M1638 195.0h4M1298 199.0h4M1338 199.0h4M1378 199.0h4M1402 199.0h4M1418 199.0h4M1442 199.0h4M1458 199.0h8M1522 199.0h8M1630 199.0h4M1278 203.0h4M1286 203.0h8M1370 203.0h4M1406 203.0h4M1438 203.0h4M1510 203.0h4M1594 203.0h4M1610 203.0h4M1618 203.0h8M1634 203.0h8M1654 203.0h8M1294 207.0h4M1358 207.0h4M1390 207.0h4M1430 207.0h4M1442 207.0h4M1566 207.0h8M1282 211.0h4M1350 211.0h4M1482 211.0h4M1494 211.0h4M1522 211.0h4M1590 211.0h4M1654 211.0h4M1662 211.0h4M1326 215.0h4M1382 215.0h4M1414 215.0h4M1478 215.0h4M1494 215.0h4M1518 215.0h4M1582 215.0h4M1614 215.0h4M1634 215.0h4M1338 219.0h8M1402 219.0h4M1430 219.0h4M1634 219.0h8M1658 219.0h4M1298 223.0h4M1334 223.0h8M1358 223.0h4M1394 223.0h4M1406 223.0h4M1462 223.0h4M1494 223.0h4M1502 223.0h4M1554 223.0h4M1582 223.0h4M1602 223.0h4M1614 223.0h4M1286 227.0h4M1302 227.0h4M1414 227.0h4M1430 227.0h4M1522 227.0h4M1550 227.0h4M1362 231.0h4M1406 231.0h4M1534 231.0h4M1542 231.0h4M1558 231.0h4M1566 231.0h4M1578 231.0h4M1626 231.0h4M1662 231.0h4M1338 235.0h4M1422 235.0h4M1458 235.0h8M1542 235.0h4M1606 235.0h4M1298 239.0h4M1322 239.0h4M1358 239.0h4M1390 239.0h4M1434 239.0h4M1442 239.0h4M1450 239.0h4M1474 239.0h4M1506 239.0h4M1542 239.0h4M1570 239.0h4M1578 239.0h4M1326 243.0h4M1338 243.0h12M1386 243.0h4M1394 243.0h12M1470 243.0h4M1494 243.0h4M1610 243.0h4M1642 243.0h4M1282 247.0h4M1310 247.0h4M1338 247.0h4M1398 247.0h4M1502 247.0h4M1526 247.0h4M1534 247.0h4M1550 247.0h4M1274 251.0h4M1310 251.0h4M1326 251.0h4M1334 251.0h4M1342 251.0h4M1466 251.0h4M1482 251.0h4M1514 251.0h4M1530 251.0h4M1590 251.0h4M1598 251.0h4M1606 251.0h4M1286 255.0h4M1302 255.0h4M1382 255.0h4M1402 255.0h8M1450 255.0h4M1486 255.0h4M1602 255.0h4M1310 259.0h4M1378 259.0h4M1394 259.0h4M1438 259.0h4M1466 259.0h4M1550 259.0h4M1570 259.0h4M1598 259.0h4M1634 259.0h4M1326 263.0h4M1366 263.0h4M1378 263.0h4M1422 263.0h4M1430 263.0h4M1446 263.0h4M1498 263.0h4M1510 263.0h4M1538 263.0h4M1558 263.0h4M1662 263.0h4M1346 267.0h4M1386 267.0h4M1486 267.0h4M1514 267.0h4M1538 267.0h4M1562 267.0h4M1582 267.0h4M1642 267.0h4M1662 267.0h4M1370 271.0h4M1410 271.0h4M1454 271.0h4M1506 271.0h4M1534 271.0h4M1562 271.0h4M1582 271.0h4M1618 271.0h4M1634 271.0h4M1658 271.0h4M1302 275.0h4M1426 275.0h8M1446 275.0h4M1566 275.0h4M1606 275.0h4M1614 275.0h4M1638 275.0h4M1662 275.0h4M1278 279.0h4M1298 279.0h4M1322 279.0h4M1330 279.0h8M1346 279.0h4M1394 279.0h4M1430 279.0h4M1454 279.0h4M1522 279.0h12M1286 283.0h4M1378 283.0h4M1426 283.0h4M1434 283.0h4M1530 283.0h4M1586 283.0h4M1598 283.0h4M1610 283.0h4M1630 283.0h4M1354 287.0h4M1418 287.0h4M1450 287.0h4M1474 287.0h8M1550 287.0h4M1618 287.0h4M1630 287.0h4M1286 291.0h4M1294 291.0h4M1314 291.0h8M1346 291.0h4M1354 291.0h4M1362 291.0h4M1390 291.0h4M1410 291.0h4M1438 291.0h4M1566 291.0h4M1594 291.0h4M1618 291.0h4M1642 291.0h4M1294 295.0h4M1302 295.0h8M1314 295.0h4M1418 295.0h12M1434 295.0h4M1446 295.0h4M1466 295.0h4M1486 295.0h4M1506 295.0h8M1554 295.0h4M1578 295.0h4M1642 295.0h4M1654 295.0h4M1274 299.0h8M1298 299.0h4M1318 299.0h4M1326 299.0h8M1342 299.0h4M1350 299.0h4M1394 299.0h4M1422 299.0h4M1486 299.0h4M1522 299.0h4M1558 299.0h4M1586 299.0h4M1610 299.0h4M1646 299.0h4M1310 303.0h4M1354 303.0h4M1394 303.0h4M1410 303.0h4M1422 303.0h4M1506 303.0h4M1526 303.0h4M1534 303.0h4M1542 303.0h4M1578 303.0h4M1590 303.0h4M1634 303.0h4M1294 307.0h8M1346 307.0h4M1370 307.0h4M1426 307.0h4M1502 307.0h4M1510 307.0h4M1558 307.0h4M1302 311.0h4M1318 311.0h4M1430 311.0h4M1454 311.0h4M1478 311.0h4M1490 311.0h4M1514 311.0h8M1574 311.0h4M1602 311.0h8M1614 311.0h4M1290 315.0h4M1306 315.0h4M1334 315.0h4M1358 315.0h8M1394 315.0h4M1462 315.0h4M1530 315.0h4M1586 315.0h4M1610 315.0h8M1390 319.0h4M1410 319.0h4M1546 319.0h4M1598 319.0h4M1606 319.0h4M1614 319.0h4M1354 323.0h4M1386 323.0h4M1462 323.0h4M1474 323.0h4M1518 323.0h4M1610 323.0h4M1622 323.0h4M1286 327.0h4M1342 327.0h4M1390 327.0h4M1442 327.0h4M1458 327.0h4M1466 327.0h4M1474 327.0h4M1518 327.0h4M1526 327.0h4M1542 327.0h4M1554 327.0h4M1606 327.0h4M1630 327.0h4M1282 331.0h4M1378 331.0h8M1394 331.0h4M1426 331.0h4M1434 331.0h4M1522 331.0h4M1550 331.0h4M1594 331.0h4M1294 335.0h8M1318 335.0h4M1330 335.0h4M1370 335.0h4M1414 335.0h4M1434 335.0h4M1458 335.0h4M1478 335.0h8M1494 335.0h4M1506 335.0h4M1546 335.0h4M1574 335.0h4M1634 335.0h4M1646 335.0h8M1302 339.0h4M1334 339.0h4M1350 339.0h8M1438 339.0h4M1458 339.0h4M1518 339.0h4M1538 339.0h8M1570 339.0h4M1602 339.0h4M1626 339.0h4M1654 339.0h4M1290 343.0h4M1306 343.0h4M1350 343.0h4M1370 343.0h4M1398 343.0h4M1426 343.0h4M1462 343.0h4M1470 343.0h4M1490 343.0h4M1522 343.0h4M1534 343.0h4M1566 343.0h4M1574 343.0h4M1614 343.0h4M1662 343.0h4M1438 347.0h4M1646 347.0h4M1282 351.0h4M1298 351.0h4M1310 351.0h4M1342 351.0h4M1390 351.0h4M1434 351.0h4M1458 351.0h4M1478 351.0h8M1490 351.0h4M1530 351.0h4M1582 351.0h4M1594 351.0h4M1614 351.0h4M1658 351.0h4M1354 355.0h4M1386 355.0h4M1414 355.0h4M1426 355.0h4M1510 355.0h4M1610 355.0h4M1642 355.0h4M1650 355.0h4M1290 359.0h8M1398 359.0h8M1410 359.0h8M1510 359.0h4M1526 359.0h4M1578 359.0h4M1586 359.0h4M1602 359.0h4M1622 359.0h4M1346 363.0h4M1366 363.0h4M1474 363.0h4M1486 363.0h4M1494 363.0h4M1646 363.0h4M1302 367.0h4M1310 367.0h4M1370 367.0h4M1386 367.0h4M1402 367.0h8M1498 367.0h4M1638 367.0h4M1658 367.0h8M1346 371.0h4M1494 371.0h4M1506 371.0h4M1590 371.0h4M1650 371.0h4M1302 375.0h4M1382 375.0h4M1390 375.0h4M1434 375.0h4M1474 375.0h4M1494 375.0h4M1586 375.0h4M1622 375.0h4M1386 379.0h4M1506 379.0h4M1526 379.0h4M1566 379.0h4M1610 379.0h4M1310 383.0h4M1426 383.0h4M1506 383.0h4M1514 383.0h4M1534 383.0h4M1570 383.0h4M1610 383.0h4M1622 383.0h4M1654 383.0h4M1662 383.0h4M1274 387.0h4M1310 387.0h4M1406 387.0h8M1466 387.0h4M1494 387.0h4M1518 387.0h4M1570 387.0h4M1602 387.0h4M1286 391.0h4M1338 391.0h4M1386 391.0h4M1398 391.0h12M1454 391.0h4M1470 391.0h4M1542 391.0h4M1602 391.0h4M1654 391.0h4M1290 395.0h4M1362 395.0h4M1410 395.0h4M1430 395.0h4M1458 395.0h8M1474 395.0h4M1522 395.0h8M1562 395.0h4M1342 399.0h8M1374 399.0h4M1386 399.0h4M1406 399.0h4M1454 399.0h4M1490 399.0h4M1510 399.0h4M1562 399.0h4M1602 399.0h4M1630 399.0h4M1278 403.0h4M1298 403.0h8M1338 403.0h4M1354 403.0h4M1410 403.0h4M1438 403.0h4M1450 403.0h8M1578 403.0h4M1322 407.0h4M1350 407.0h4M1398 407.0h4M1442 407.0h4M1490 407.0h4M1298 411.0h4M1318 411.0h4M1542 411.0h8M1586 411.0h4M1594 411.0h4M1614 411.0h4M1622 411.0h4M1278 415.0h4M1306 415.0h8M1402 415.0h4M1414 415.0h4M1426 415.0h4M1434 415.0h4M1510 415.0h4M1546 415.0h4M1274 419.0h8M1394 419.0h4M1422 419.0h4M1486 419.0h4M1498 419.0h4M1506 419.0h4M1514 419.0h4M1566 419.0h4M1574 419.0h4M1582 419.0h4M1594 419.0h4M1602 419.0h4M1634 419.0h4M1322 423.0h4M1370 423.0h4M1398 423.0h4M1438 423.0h4M1502 423.0h4M1530 423.0h4M1562 423.0h4M1590 423.0h4M1626 423.0h4M1274 427.0h4M1282 427.0h8M1338 427.0h4M1370 427.0h4M1382 427.0h4M1482 427.0h4M1490 427.0h4M1526 427.0h4M1582 427.0h4M1590 427.0h4M1618 427.0h4M1634 427.0h4" stroke="#717171" stroke-width="4" fill="none"/><path d="M1278 79.0h4M1286 79.0h4M1366 79.0h4M1462 79.0h8M1510 79.0h4M1526 79.0h4M1578 79.0h4M1618 79.0h4M1634 79.0h4M1286 83.0h12M1330 83.0h4M1342 83.0h4M1350 83.0h4M1410 83.0h4M1430 83.0h4M1450 83.0h4M1538 83.0h4M1290 87.0h4M1326 87.0h4M1362 87.0h4M1394 87.0h4M1446 87.0h4M1514 87.0h4M1534 87.0h4M1558 87.0h4M1574 87.0h4M1610 87.0h4M1294 91.0h4M1302 91.0h4M1366 91.0h4M1410 91.0h4M1430 91.0h4M1550 91.0h4M1586 91.0h4M1638 91.0h4M1654 91.0h4M1386 95.0h4M1414 95.0h4M1426 95.0h4M1506 95.0h4M1530 95.0h4M1578 95.0h8M1614 95.0h4M1274 99.0h4M1338 99.0h4M1354 99.0h8M1394 99.0h8M1426 99.0h4M1462 99.0h4M1482 99.0h4M1522 99.0h4M1550 99.0h4M1622 99.0h4M1278 103.0h8M1402 103.0h4M1474 103.0h4M1542 103.0h4M1598 103.0h4M1638 103.0h4M1346 107.0h4M1378 107.0h4M1398 107.0h4M1410 107.0h4M1418 107.0h4M1474 107.0h4M1494 107.0h4M1510 107.0h4M1522 107.0h4M1550 107.0h4M1566 107.0h4M1618 107.0h4M1626 107.0h4M1398 111.0h4M1446 111.0h8M1510 111.0h4M1586 111.0h4M1630 111.0h4M1658 111.0h4M1322 115.0h4M1330 115.0h8M1506 115.0h4M1582 115.0h4M1294 119.0h4M1302 119.0h4M1310 119.0h4M1322 119.0h4M1410 119.0h4M1422 119.0h4M1446 119.0h4M1514 119.0h4M1526 119.0h4M1534 119.0h4M1578 119.0h4M1626 119.0h4M1642 119.0h4M1274 123.0h4M1282 123.0h4M1342 123.0h4M1458 123.0h4M1494 123.0h4M1514 123.0h4M1530 123.0h4M1550 123.0h8M1306 127.0h4M1326 127.0h4M1342 127.0h8M1374 127.0h4M1430 127.0h4M1438 127.0h4M1450 127.0h4M1466 127.0h4M1486 127.0h4M1502 127.0h4M1542 127.0h4M1554 127.0h4M1566 127.0h4M1594 127.0h4M1626 127.0h4M1298 131.0h4M1410 131.0h8M1466 131.0h4M1506 131.0h4M1514 131.0h4M1562 131.0h4M1274 135.0h12M1306 135.0h4M1318 135.0h4M1362 135.0h4M1502 135.0h4M1558 135.0h4M1570 135.0h4M1634 135.0h8M1278 139.0h4M1326 139.0h4M1418 139.0h4M1538 139.0h8M1602 139.0h4M1278 143.0h4M1290 143.0h4M1322 143.0h4M1402 143.0h4M1458 143.0h4M1518 143.0h4M1586 143.0h4M1606 143.0h4M1618 143.0h4M1330 147.0h4M1358 147.0h4M1382 147.0h8M1450 147.0h8M1478 147.0h4M1530 147.0h4M1554 147.0h4M1562 147.0h4M1590 147.0h4M1642 147.0h4M1286 151.0h4M1402 151.0h4M1430 151.0h4M1446 151.0h4M1498 151.0h4M1526 151.0h4M1594 151.0h4M1618 151.0h4M1630 151.0h4M1650 151.0h4M1658 151.0h4M1334 155.0h4M1402 155.0h4M1410 155.0h4M1426 155.0h4M1522 155.0h4M1586 155.0h4M1634 155.0h4M1646 155.0h4M1286 159.0h4M1334 159.0h4M1410 159.0h4M1478 159.0h4M1494 159.0h8M1538 159.0h4M1566 159.0h4M1626 159.0h4M1638 159.0h4M1646 159.0h4M1662 159.0h4M1290 163.0h4M1350 163.0h4M1366 163.0h4M1386 163.0h4M1478 163.0h4M1522 163.0h4M1598 163.0h4M1294 167.0h4M1326 167.0h4M1354 167.0h4M1462 167.0h4M1470 167.0h4M1562 167.0h4M1594 167.0h4M1654 167.0h4M1662 167.0h4M1402 171.0h4M1414 171.0h4M1470 171.0h4M1482 171.0h4M1570 171.0h4M1646 171.0h4M1654 171.0h4M1314 175.0h4M1342 175.0h8M1366 175.0h4M1402 175.0h4M1434 175.0h4M1478 175.0h8M1526 175.0h4M1314 179.0h4M1338 179.0h4M1426 179.0h4M1434 179.0h4M1462 179.0h4M1490 179.0h4M1498 179.0h4M1510 179.0h4M1606 179.0h8M1650 179.0h4M1658 179.0h4M1278 183.0h4M1326 183.0h8M1358 183.0h4M1478 183.0h4M1486 183.0h4M1542 183.0h4M1298 187.0h4M1322 187.0h4M1430 187.0h4M1482 187.0h4M1498 187.0h4M1550 187.0h4M1578 187.0h12M1622 187.0h12M1646 187.0h4M1322 191.0h4M1414 191.0h4M1438 191.0h4M1562 191.0h4M1570 191.0h4M1662 191.0h4M1274 195.0h4M1290 195.0h4M1322 195.0h4M1346 195.0h4M1354 195.0h4M1390 195.0h4M1398 195.0h4M1430 195.0h8M1490 195.0h8M1530 195.0h4M1578 195.0h4M1302 199.0h4M1414 199.0h4M1430 199.0h4M1538 199.0h4M1562 199.0h4M1582 199.0h4M1274 203.0h4M1334 203.0h4M1502 203.0h4M1558 203.0h4M1566 203.0h4M1642 203.0h4M1282 207.0h4M1330 207.0h4M1450 207.0h4M1462 207.0h4M1506 207.0h4M1514 207.0h4M1546 207.0h4M1558 207.0h4M1602 207.0h4M1646 207.0h4M1286 211.0h8M1354 211.0h4M1418 211.0h4M1550 211.0h4M1594 211.0h8M1606 211.0h4M1614 211.0h4M1634 211.0h4M1282 215.0h8M1386 215.0h4M1418 215.0h4M1446 215.0h4M1454 215.0h4M1466 215.0h4M1506 215.0h4M1550 215.0h4M1654 215.0h4M1374 219.0h4M1462 219.0h4M1486 219.0h4M1530 219.0h4M1566 219.0h4M1590 219.0h4M1614 219.0h4M1622 219.0h4M1274 223.0h4M1286 223.0h4M1382 223.0h4M1418 223.0h4M1450 223.0h4M1402 227.0h4M1434 227.0h4M1514 227.0h4M1586 227.0h4M1594 227.0h8M1654 227.0h4M1370 231.0h4M1410 231.0h4M1422 231.0h4M1442 231.0h4M1466 231.0h4M1494 231.0h4M1502 231.0h4M1518 231.0h4M1554 231.0h4M1594 231.0h4M1614 231.0h4M1410 235.0h8M1438 235.0h4M1546 235.0h4M1582 235.0h4M1590 235.0h4M1638 235.0h4M1658 235.0h8M1302 239.0h4M1326 239.0h4M1350 239.0h4M1378 239.0h4M1514 239.0h4M1566 239.0h4M1618 239.0h4M1662 239.0h4M1274 243.0h4M1282 243.0h4M1306 243.0h4M1334 243.0h4M1434 243.0h4M1498 243.0h4M1522 243.0h4M1546 243.0h4M1566 243.0h4M1574 243.0h4M1602 243.0h4M1630 243.0h4M1662 243.0h4M1278 247.0h4M1346 247.0h4M1370 247.0h4M1438 247.0h4M1462 247.0h4M1582 247.0h4M1370 251.0h4M1446 251.0h4M1494 251.0h4M1546 251.0h4M1630 251.0h4M1658 251.0h4M1426 255.0h4M1478 255.0h4M1506 255.0h4M1626 255.0h4M1634 255.0h4M1282 259.0h4M1354 259.0h4M1522 259.0h4M1558 259.0h4M1622 259.0h4M1654 259.0h4M1414 263.0h4M1434 263.0h4M1458 263.0h4M1466 263.0h4M1514 263.0h4M1570 263.0h8M1614 263.0h4M1626 263.0h4M1654 263.0h4M1286 267.0h4M1294 267.0h4M1334 267.0h12M1418 267.0h4M1518 267.0h4M1530 267.0h4M1546 267.0h12M1602 267.0h4M1618 267.0h4M1314 271.0h4M1342 271.0h4M1358 271.0h4M1382 271.0h4M1274 275.0h4M1294 275.0h4M1322 275.0h4M1462 275.0h4M1470 275.0h8M1510 275.0h4M1574 275.0h4M1654 275.0h4M1274 279.0h4M1434 279.0h4M1474 279.0h4M1502 279.0h4M1518 279.0h4M1550 279.0h4M1570 279.0h4M1582 279.0h8M1610 279.0h4M1662 279.0h4M1294 283.0h4M1302 283.0h4M1398 283.0h8M1534 283.0h4M1574 283.0h4M1618 283.0h8M1290 287.0h4M1406 287.0h4M1414 287.0h4M1446 287.0h4M1466 287.0h4M1494 287.0h4M1502 287.0h4M1530 287.0h4M1602 287.0h4M1634 287.0h4M1658 287.0h4M1306 291.0h8M1326 291.0h4M1370 291.0h4M1394 291.0h4M1430 291.0h4M1478 291.0h4M1502 291.0h4M1510 291.0h4M1290 295.0h4M1310 295.0h4M1362 295.0h4M1370 295.0h4M1402 295.0h4M1490 295.0h4M1534 295.0h4M1586 295.0h4M1610 295.0h4M1354 299.0h4M1378 299.0h4M1390 299.0h4M1454 299.0h4M1478 299.0h4M1506 299.0h4M1518 299.0h4M1534 299.0h4M1546 299.0h4M1654 299.0h4M1662 299.0h4M1302 303.0h4M1478 303.0h8M1554 303.0h4M1646 303.0h4M1290 307.0h4M1406 307.0h4M1458 307.0h4M1474 307.0h8M1538 307.0h8M1622 307.0h4M1646 307.0h8M1310 311.0h4M1354 311.0h4M1398 311.0h4M1526 311.0h4M1538 311.0h4M1618 311.0h4M1642 311.0h4M1654 311.0h4M1298 315.0h4M1310 315.0h4M1322 315.0h4M1366 315.0h8M1386 315.0h4M1398 315.0h4M1410 315.0h4M1446 315.0h4M1482 315.0h4M1514 315.0h4M1558 315.0h4M1566 315.0h4M1650 315.0h8M1286 319.0h4M1358 319.0h4M1406 319.0h4M1446 319.0h4M1466 319.0h4M1506 319.0h4M1538 319.0h4M1626 319.0h4M1278 323.0h4M1370 323.0h4M1418 323.0h8M1510 323.0h4M1550 323.0h4M1634 323.0h4M1658 323.0h4M1322 327.0h4M1334 327.0h8M1394 327.0h4M1482 327.0h4M1490 327.0h4M1602 327.0h4M1286 331.0h4M1294 331.0h4M1314 331.0h4M1390 331.0h4M1402 331.0h4M1418 331.0h4M1454 331.0h4M1474 331.0h4M1486 331.0h8M1586 331.0h4M1610 331.0h4M1622 331.0h4M1646 331.0h4M1326 335.0h4M1486 335.0h4M1518 335.0h4M1562 335.0h4M1366 339.0h4M1402 339.0h4M1422 339.0h4M1434 339.0h4M1514 339.0h4M1522 339.0h4M1530 339.0h4M1546 339.0h12M1614 339.0h8M1646 339.0h4M1394 343.0h4M1442 343.0h4M1502 343.0h4M1538 343.0h4M1546 343.0h4M1570 343.0h4M1578 343.0h4M1622 343.0h4M1650 343.0h4M1282 347.0h4M1302 347.0h4M1322 347.0h4M1346 347.0h4M1434 347.0h4M1442 347.0h4M1454 347.0h4M1466 347.0h4M1562 347.0h4M1638 347.0h4M1290 351.0h4M1302 351.0h8M1338 351.0h4M1370 351.0h4M1406 351.0h4M1442 351.0h4M1486 351.0h4M1542 351.0h4M1630 351.0h4M1654 351.0h4M1294 355.0h4M1334 355.0h4M1390 355.0h4M1450 355.0h4M1486 355.0h4M1598 355.0h4M1306 359.0h4M1318 359.0h4M1354 359.0h4M1458 359.0h4M1486 359.0h4M1546 359.0h4M1554 359.0h4M1646 359.0h4M1274 363.0h4M1318 363.0h4M1374 363.0h8M1426 363.0h4M1446 363.0h4M1482 363.0h4M1534 363.0h4M1606 363.0h4M1278 367.0h4M1326 367.0h4M1422 367.0h4M1466 367.0h4M1478 367.0h4M1486 367.0h4M1626 367.0h4M1298 371.0h4M1310 371.0h4M1358 371.0h4M1422 371.0h4M1474 371.0h12M1542 371.0h4M1582 371.0h4M1618 371.0h4M1298 375.0h4M1322 375.0h4M1334 375.0h4M1362 375.0h4M1378 375.0h4M1466 375.0h4M1538 375.0h4M1578 375.0h4M1290 379.0h4M1350 379.0h4M1394 379.0h4M1434 379.0h4M1514 379.0h4M1534 379.0h4M1598 379.0h4M1634 379.0h4M1646 379.0h8M1326 383.0h8M1366 383.0h4M1378 383.0h4M1398 383.0h4M1422 383.0h4M1494 383.0h4M1546 383.0h4M1558 383.0h4M1566 383.0h4M1618 383.0h4M1298 387.0h8M1330 387.0h4M1362 387.0h4M1458 387.0h4M1526 387.0h4M1582 387.0h4M1294 391.0h4M1310 391.0h4M1358 391.0h4M1382 391.0h4M1430 391.0h4M1462 391.0h4M1478 391.0h4M1514 391.0h4M1530 391.0h4M1546 391.0h8M1566 391.0h4M1606 391.0h4M1634 391.0h12M1298 395.0h4M1322 395.0h4M1334 395.0h4M1490 395.0h4M1498 395.0h4M1518 395.0h4M1650 395.0h4M1658 395.0h4M1286 399.0h4M1358 399.0h4M1414 399.0h4M1426 399.0h4M1542 399.0h4M1554 399.0h4M1586 399.0h4M1642 399.0h4M1330 403.0h4M1402 403.0h4M1446 403.0h4M1534 403.0h4M1550 403.0h4M1278 407.0h4M1334 407.0h4M1354 407.0h8M1378 407.0h8M1414 407.0h4M1466 407.0h4M1486 407.0h4M1586 407.0h4M1658 407.0h4M1302 411.0h4M1334 411.0h4M1350 411.0h4M1362 411.0h4M1398 411.0h4M1458 411.0h4M1486 411.0h4M1502 411.0h4M1522 411.0h4M1570 411.0h4M1638 411.0h4M1654 411.0h4M1294 415.0h4M1322 415.0h4M1382 415.0h4M1418 415.0h4M1446 415.0h4M1522 415.0h4M1594 415.0h4M1606 415.0h4M1626 415.0h4M1634 415.0h4M1646 415.0h4M1282 419.0h4M1398 419.0h4M1470 419.0h4M1530 419.0h4M1562 419.0h4M1646 419.0h4M1286 423.0h4M1294 423.0h4M1406 423.0h4M1466 423.0h4M1478 423.0h4M1506 423.0h4M1542 423.0h4M1578 423.0h4M1598 423.0h4M1606 423.0h4M1614 423.0h4M1646 423.0h8M1494 427.0h4M1622 427.0h12" stroke="#8e8e8e" stroke-width="4" fill="none"/><path d="M1290 79.0h4M1330 79.0h4M1338 79.0h4M1354 79.0h4M1394 79.0h4M1442 79.0h4M1474 79.0h4M1490 79.0h4M1514 79.0h4M1586 79.0h4M1282 83.0h4M1354 83.0h4M1362 83.0h4M1370 83.0h4M1378 83.0h4M1394 83.0h4M1482 83.0h4M1518 83.0h4M1566 83.0h4M1658 83.0h4M1310 87.0h4M1346 87.0h4M1426 87.0h4M1510 87.0h4M1538 87.0h4M1590 87.0h4M1598 87.0h4M1614 87.0h4M1274 91.0h4M1286 91.0h4M1354 91.0h4M1386 91.0h4M1482 91.0h4M1490 91.0h4M1502 91.0h4M1562 91.0h4M1574 91.0h4M1302 95.0h8M1334 95.0h4M1390 95.0h4M1438 95.0h4M1478 95.0h8M1502 95.0h4M1522 95.0h8M1538 95.0h8M1554 95.0h4M1586 95.0h4M1606 95.0h4M1402 99.0h4M1410 99.0h4M1442 99.0h4M1474 99.0h4M1502 99.0h4M1538 99.0h4M1558 99.0h4M1618 99.0h4M1630 99.0h4M1362 103.0h4M1454 103.0h4M1466 103.0h4M1502 103.0h4M1574 103.0h4M1642 103.0h4M1658 103.0h4M1282 107.0h4M1298 107.0h4M1358 107.0h4M1374 107.0h4M1478 107.0h4M1562 107.0h4M1302 111.0h4M1362 111.0h4M1546 111.0h8M1602 111.0h4M1618 111.0h4M1650 111.0h4M1346 115.0h4M1358 115.0h4M1378 115.0h4M1470 115.0h4M1538 115.0h8M1662 115.0h4M1394 119.0h4M1494 119.0h4M1594 119.0h4M1618 119.0h4M1306 123.0h4M1386 123.0h8M1406 123.0h4M1478 123.0h4M1526 123.0h4M1286 127.0h4M1314 127.0h4M1322 127.0h4M1350 127.0h4M1386 127.0h4M1418 127.0h4M1526 127.0h4M1550 127.0h4M1334 131.0h4M1366 131.0h4M1394 131.0h4M1430 131.0h4M1510 131.0h4M1526 131.0h4M1570 131.0h4M1582 131.0h4M1626 131.0h4M1322 135.0h4M1366 135.0h4M1430 135.0h4M1446 135.0h4M1470 135.0h4M1514 135.0h4M1522 135.0h4M1542 135.0h4M1554 135.0h4M1602 135.0h4M1330 139.0h4M1370 139.0h8M1394 139.0h4M1646 139.0h4M1274 143.0h4M1422 143.0h4M1510 143.0h4M1546 143.0h4M1558 143.0h4M1578 143.0h4M1594 143.0h4M1638 143.0h4M1294 147.0h4M1370 147.0h4M1378 147.0h4M1434 147.0h4M1486 147.0h4M1494 147.0h4M1526 147.0h4M1598 147.0h8M1654 147.0h4M1282 151.0h4M1334 151.0h4M1358 151.0h4M1374 151.0h4M1418 151.0h4M1486 151.0h4M1518 151.0h4M1534 151.0h4M1574 151.0h4M1602 151.0h4M1626 151.0h4M1646 151.0h4M1354 155.0h4M1430 155.0h4M1518 155.0h4M1566 155.0h4M1606 155.0h4M1642 155.0h4M1390 159.0h4M1442 159.0h4M1450 159.0h4M1462 159.0h4M1502 159.0h4M1514 159.0h4M1522 159.0h4M1554 159.0h4M1574 159.0h4M1594 159.0h8M1622 159.0h4M1658 159.0h4M1314 163.0h4M1338 163.0h4M1426 163.0h4M1438 163.0h4M1446 163.0h4M1458 163.0h8M1470 163.0h8M1494 163.0h4M1530 163.0h4M1298 167.0h4M1346 167.0h4M1450 167.0h4M1458 167.0h4M1502 167.0h4M1646 167.0h4M1286 171.0h8M1314 171.0h4M1418 171.0h4M1522 171.0h4M1542 171.0h4M1558 171.0h4M1582 171.0h4M1282 175.0h4M1306 175.0h4M1318 175.0h8M1362 175.0h4M1370 175.0h4M1390 175.0h4M1410 175.0h4M1486 175.0h4M1510 175.0h4M1610 175.0h8M1282 179.0h4M1362 179.0h8M1386 179.0h4M1442 179.0h4M1518 179.0h4M1630 179.0h4M1370 183.0h4M1382 183.0h8M1398 183.0h4M1442 183.0h4M1458 183.0h4M1466 183.0h4M1514 183.0h4M1554 183.0h4M1610 183.0h4M1618 183.0h4M1274 187.0h8M1290 187.0h4M1302 187.0h4M1422 187.0h4M1526 187.0h4M1538 187.0h4M1594 187.0h4M1602 187.0h8M1638 187.0h4M1654 187.0h4M1346 191.0h4M1370 191.0h4M1378 191.0h4M1402 191.0h4M1462 191.0h4M1486 191.0h8M1506 191.0h12M1534 191.0h4M1550 191.0h4M1654 191.0h4M1326 195.0h4M1454 195.0h8M1482 195.0h4M1526 195.0h4M1598 195.0h4M1654 195.0h4M1662 195.0h4M1314 199.0h4M1374 199.0h4M1386 199.0h4M1446 199.0h4M1478 199.0h4M1534 199.0h4M1566 199.0h4M1586 199.0h4M1602 199.0h4M1614 199.0h8M1634 199.0h4M1426 203.0h4M1538 203.0h4M1554 203.0h4M1570 203.0h4M1602 203.0h4M1646 203.0h4M1318 207.0h4M1402 207.0h4M1422 207.0h4M1314 211.0h8M1370 211.0h8M1382 211.0h4M1390 211.0h4M1406 211.0h4M1422 211.0h4M1430 211.0h4M1526 211.0h4M1534 211.0h4M1274 215.0h4M1330 215.0h8M1406 215.0h4M1486 215.0h8M1626 215.0h8M1278 219.0h4M1294 219.0h4M1354 219.0h4M1382 219.0h4M1426 219.0h4M1450 219.0h4M1586 219.0h4M1598 219.0h4M1446 223.0h4M1490 223.0h4M1526 223.0h12M1570 223.0h4M1658 223.0h4M1298 227.0h4M1322 227.0h4M1338 227.0h4M1346 227.0h12M1418 227.0h4M1466 227.0h4M1490 227.0h4M1538 227.0h8M1558 227.0h4M1622 227.0h8M1298 231.0h4M1318 231.0h4M1326 231.0h4M1346 231.0h4M1506 231.0h4M1514 231.0h4M1530 231.0h4M1562 231.0h4M1582 231.0h4M1634 231.0h4M1394 235.0h4M1434 235.0h4M1454 235.0h4M1470 235.0h4M1490 235.0h8M1506 235.0h4M1562 235.0h4M1626 235.0h4M1646 235.0h4M1342 239.0h4M1370 239.0h4M1386 239.0h4M1406 239.0h4M1438 239.0h4M1454 239.0h4M1626 239.0h4M1634 239.0h4M1310 243.0h4M1358 243.0h4M1382 243.0h4M1550 243.0h4M1318 247.0h4M1474 247.0h4M1498 247.0h4M1514 247.0h4M1602 247.0h4M1654 247.0h4M1354 251.0h4M1390 251.0h4M1406 251.0h4M1586 251.0h4M1646 251.0h8M1290 255.0h4M1306 255.0h4M1362 255.0h4M1418 255.0h4M1490 255.0h4M1498 255.0h4M1610 255.0h4M1658 255.0h4M1370 259.0h4M1382 259.0h4M1454 259.0h4M1474 259.0h8M1494 259.0h4M1502 259.0h4M1578 259.0h4M1586 259.0h4M1650 259.0h4M1662 259.0h4M1282 263.0h4M1334 263.0h4M1386 263.0h4M1486 263.0h4M1506 263.0h4M1530 263.0h4M1566 263.0h4M1658 263.0h4M1354 267.0h4M1378 267.0h4M1398 267.0h4M1410 267.0h4M1586 267.0h4M1634 267.0h4M1658 267.0h4M1298 271.0h4M1326 271.0h4M1386 271.0h4M1426 271.0h8M1498 271.0h8M1558 271.0h4M1610 271.0h4M1626 271.0h8M1650 271.0h4M1326 275.0h4M1370 275.0h4M1382 275.0h4M1450 275.0h4M1482 275.0h4M1494 275.0h4M1526 275.0h4M1538 275.0h4M1550 275.0h4M1558 275.0h4M1582 275.0h8M1594 275.0h4M1602 275.0h4M1626 275.0h4M1282 279.0h4M1354 279.0h4M1446 279.0h4M1458 279.0h8M1514 279.0h4M1626 279.0h4M1638 279.0h12M1326 283.0h4M1346 283.0h4M1386 283.0h4M1410 283.0h4M1450 283.0h4M1478 283.0h4M1434 287.0h4M1482 287.0h4M1518 287.0h4M1526 287.0h4M1554 287.0h4M1298 291.0h4M1334 291.0h4M1402 291.0h4M1522 291.0h4M1538 291.0h8M1574 291.0h4M1606 291.0h4M1614 291.0h4M1630 291.0h4M1646 291.0h4M1654 291.0h4M1322 295.0h4M1346 295.0h4M1386 295.0h4M1438 295.0h4M1526 295.0h4M1538 295.0h4M1582 295.0h4M1630 295.0h4M1358 299.0h4M1402 299.0h4M1434 299.0h4M1446 299.0h4M1458 299.0h4M1494 299.0h4M1538 299.0h4M1606 299.0h4M1630 299.0h4M1290 303.0h4M1298 303.0h4M1386 303.0h4M1430 303.0h4M1582 303.0h4M1638 303.0h4M1662 303.0h4M1330 307.0h4M1338 307.0h8M1430 307.0h4M1498 307.0h4M1554 307.0h4M1570 307.0h4M1614 307.0h8M1322 311.0h4M1330 311.0h4M1342 311.0h4M1374 311.0h4M1422 311.0h4M1458 311.0h4M1558 311.0h4M1638 311.0h4M1650 311.0h4M1286 315.0h4M1350 315.0h4M1374 315.0h4M1382 315.0h4M1406 315.0h4M1434 315.0h4M1458 315.0h4M1466 315.0h4M1486 315.0h4M1494 315.0h4M1574 315.0h4M1590 315.0h4M1598 315.0h4M1646 315.0h4M1346 319.0h4M1374 319.0h4M1442 319.0h4M1654 319.0h4M1338 323.0h4M1346 323.0h4M1358 323.0h4M1454 323.0h4M1486 323.0h4M1494 323.0h4M1618 323.0h4M1662 323.0h4M1290 327.0h8M1362 327.0h4M1478 327.0h4M1494 327.0h4M1622 327.0h4M1298 331.0h4M1346 331.0h4M1442 331.0h4M1466 331.0h4M1614 331.0h4M1634 331.0h4M1654 331.0h4M1282 335.0h8M1306 335.0h4M1322 335.0h4M1394 335.0h4M1438 335.0h4M1466 335.0h4M1514 335.0h4M1526 335.0h4M1570 335.0h4M1654 335.0h4M1278 339.0h12M1322 339.0h4M1378 339.0h4M1386 339.0h4M1394 339.0h4M1410 339.0h4M1578 339.0h8M1594 339.0h4M1650 339.0h4M1286 343.0h4M1318 343.0h8M1402 343.0h4M1526 343.0h4M1554 343.0h4M1310 347.0h4M1358 347.0h4M1370 347.0h4M1410 347.0h4M1494 347.0h4M1502 347.0h12M1554 347.0h4M1574 347.0h4M1630 347.0h4M1278 351.0h4M1378 351.0h4M1402 351.0h4M1462 351.0h4M1538 351.0h4M1558 351.0h4M1586 351.0h4M1286 355.0h4M1306 355.0h8M1350 355.0h4M1370 355.0h4M1398 355.0h4M1418 355.0h4M1474 355.0h8M1522 355.0h4M1530 355.0h4M1546 355.0h4M1586 355.0h4M1342 359.0h4M1358 359.0h4M1366 359.0h4M1434 359.0h4M1466 359.0h4M1482 359.0h4M1490 359.0h4M1550 359.0h4M1618 359.0h4M1658 359.0h4M1402 363.0h4M1518 363.0h4M1542 363.0h4M1566 363.0h4M1574 363.0h4M1590 363.0h4M1622 363.0h4M1642 363.0h4M1354 367.0h4M1394 367.0h4M1442 367.0h4M1474 367.0h4M1518 367.0h4M1562 367.0h4M1610 367.0h4M1646 367.0h4M1294 371.0h4M1306 371.0h4M1410 371.0h4M1418 371.0h4M1438 371.0h4M1458 371.0h4M1518 371.0h4M1530 371.0h4M1562 371.0h4M1598 371.0h4M1614 371.0h4M1646 371.0h4M1326 375.0h4M1386 375.0h4M1426 375.0h4M1438 375.0h4M1470 375.0h4M1498 375.0h4M1594 375.0h4M1602 375.0h4M1618 375.0h4M1650 375.0h4M1302 379.0h4M1354 379.0h4M1366 379.0h4M1378 379.0h4M1402 379.0h4M1418 379.0h4M1426 379.0h4M1482 379.0h4M1498 379.0h4M1546 379.0h4M1626 379.0h4M1654 379.0h4M1290 383.0h4M1298 383.0h8M1314 383.0h4M1334 383.0h4M1582 383.0h8M1594 383.0h4M1658 383.0h4M1326 387.0h4M1398 387.0h8M1586 387.0h4M1606 387.0h4M1302 391.0h4M1314 391.0h4M1326 391.0h4M1410 391.0h4M1418 391.0h4M1570 391.0h4M1622 391.0h4M1294 395.0h4M1302 395.0h4M1370 395.0h4M1382 395.0h4M1454 395.0h4M1494 395.0h4M1642 395.0h8M1282 399.0h4M1314 399.0h4M1338 399.0h4M1362 399.0h4M1390 399.0h8M1462 399.0h4M1470 399.0h4M1590 399.0h8M1654 399.0h4M1358 403.0h4M1430 403.0h4M1514 403.0h4M1546 403.0h4M1554 403.0h4M1570 403.0h4M1586 403.0h4M1626 403.0h4M1646 403.0h4M1374 407.0h4M1474 407.0h4M1498 407.0h4M1530 407.0h4M1310 411.0h4M1342 411.0h4M1414 411.0h4M1462 411.0h4M1514 411.0h4M1626 411.0h4M1658 411.0h4M1298 415.0h4M1394 415.0h4M1410 415.0h4M1422 415.0h4M1442 415.0h4M1454 415.0h4M1462 415.0h4M1514 415.0h4M1538 415.0h8M1582 415.0h4M1598 415.0h4M1642 415.0h4M1658 415.0h4M1290 419.0h4M1334 419.0h4M1342 419.0h4M1354 419.0h4M1366 419.0h4M1374 419.0h4M1390 419.0h4M1474 419.0h4M1490 419.0h4M1518 419.0h4M1550 419.0h4M1642 419.0h4M1278 423.0h4M1330 423.0h8M1354 423.0h4M1362 423.0h4M1378 423.0h4M1410 423.0h4M1422 423.0h8M1486 423.0h4M1510 423.0h4M1538 423.0h4M1554 423.0h4M1602 423.0h4M1638 423.0h4M1294 427.0h8M1310 427.0h4M1350 427.0h4M1406 427.0h4M1446 427.0h4M1558 427.0h8M1594 427.0h4" stroke="#aaa" stroke-width="4" fill="none"/><path d="M1350 79.0h4M1362 79.0h4M1386 79.0h4M1406 79.0h4M1550 79.0h4M1566 79.0h4M1310 83.0h4M1382 83.0h4M1442 83.0h4M1454 83.0h4M1466 83.0h4M1546 83.0h4M1562 83.0h4M1570 83.0h4M1586 83.0h4M1650 83.0h4M1298 87.0h4M1334 87.0h4M1382 87.0h4M1406 87.0h4M1414 87.0h4M1458 87.0h4M1562 87.0h4M1570 87.0h4M1646 87.0h4M1662 87.0h4M1282 91.0h4M1290 91.0h4M1314 91.0h4M1370 91.0h4M1378 91.0h4M1394 91.0h4M1434 91.0h4M1474 91.0h4M1486 91.0h4M1518 91.0h4M1534 91.0h4M1622 91.0h4M1662 91.0h4M1282 95.0h4M1362 95.0h4M1466 95.0h8M1486 95.0h4M1494 95.0h4M1574 95.0h4M1610 95.0h4M1618 95.0h4M1650 95.0h4M1278 99.0h4M1306 99.0h8M1326 99.0h4M1334 99.0h4M1370 99.0h4M1378 99.0h4M1430 99.0h4M1438 99.0h4M1498 99.0h4M1562 99.0h4M1570 99.0h4M1586 99.0h4M1642 99.0h4M1658 99.0h4M1298 103.0h4M1418 103.0h4M1426 103.0h4M1522 103.0h4M1586 103.0h8M1618 103.0h4M1634 103.0h4M1278 107.0h4M1318 107.0h4M1406 107.0h4M1414 107.0h4M1482 107.0h4M1530 107.0h4M1554 107.0h4M1606 107.0h4M1650 107.0h4M1290 111.0h4M1310 111.0h4M1326 111.0h8M1358 111.0h4M1422 111.0h4M1434 111.0h4M1466 111.0h4M1478 111.0h4M1526 111.0h4M1558 111.0h4M1570 111.0h8M1282 115.0h4M1462 115.0h4M1554 115.0h4M1286 119.0h8M1386 119.0h4M1402 119.0h4M1486 119.0h4M1550 119.0h4M1286 123.0h4M1418 123.0h4M1562 123.0h4M1574 123.0h4M1334 127.0h4M1362 127.0h4M1426 127.0h4M1482 127.0h4M1514 127.0h4M1530 127.0h4M1574 127.0h4M1318 131.0h8M1338 131.0h4M1358 131.0h4M1386 131.0h4M1402 131.0h4M1438 131.0h4M1454 131.0h4M1470 131.0h4M1490 131.0h4M1498 131.0h4M1546 131.0h4M1610 131.0h4M1618 131.0h4M1642 131.0h4M1314 135.0h4M1326 135.0h4M1346 135.0h4M1498 135.0h4M1506 135.0h4M1582 135.0h4M1606 135.0h4M1294 139.0h8M1306 139.0h4M1334 139.0h4M1342 139.0h4M1390 139.0h4M1406 139.0h4M1566 139.0h4M1342 143.0h4M1350 143.0h4M1446 143.0h4M1490 143.0h4M1498 143.0h8M1582 143.0h4M1590 143.0h4M1646 143.0h8M1306 147.0h8M1326 147.0h4M1410 147.0h4M1490 147.0h4M1514 147.0h4M1610 147.0h4M1310 151.0h4M1318 151.0h4M1330 151.0h4M1366 151.0h4M1386 151.0h4M1474 151.0h4M1494 151.0h4M1554 151.0h4M1566 151.0h4M1582 151.0h4M1606 151.0h4M1642 151.0h4M1286 155.0h4M1294 155.0h4M1314 155.0h8M1394 155.0h4M1418 155.0h4M1462 155.0h4M1474 155.0h4M1502 155.0h4M1618 155.0h4M1290 159.0h4M1318 159.0h4M1326 159.0h4M1350 159.0h4M1486 159.0h4M1550 159.0h4M1582 159.0h8M1650 159.0h4M1274 163.0h4M1346 163.0h4M1358 163.0h4M1398 163.0h4M1454 163.0h4M1486 163.0h4M1566 163.0h4M1378 167.0h8M1402 167.0h4M1430 167.0h4M1634 167.0h4M1366 171.0h4M1398 171.0h4M1442 171.0h4M1478 171.0h4M1302 175.0h4M1378 175.0h4M1430 175.0h4M1494 175.0h4M1518 175.0h4M1538 175.0h4M1546 175.0h4M1574 175.0h4M1586 175.0h4M1594 175.0h4M1638 175.0h4M1646 175.0h4M1286 179.0h4M1394 179.0h4M1410 179.0h4M1446 179.0h4M1474 179.0h4M1482 179.0h4M1530 179.0h4M1546 179.0h8M1558 179.0h4M1574 179.0h8M1598 179.0h4M1646 179.0h4M1302 183.0h4M1322 183.0h4M1334 183.0h4M1434 183.0h4M1450 183.0h4M1462 183.0h4M1518 183.0h4M1650 183.0h4M1362 187.0h4M1486 187.0h4M1558 187.0h4M1570 187.0h8M1590 187.0h4M1330 191.0h4M1350 191.0h8M1366 191.0h4M1386 191.0h4M1406 191.0h4M1442 191.0h4M1522 191.0h4M1530 191.0h4M1554 191.0h4M1578 191.0h4M1622 191.0h4M1630 191.0h4M1638 191.0h4M1278 195.0h4M1298 195.0h4M1366 195.0h4M1378 195.0h4M1442 195.0h4M1478 195.0h4M1506 195.0h4M1514 195.0h4M1586 195.0h4M1614 195.0h8M1630 195.0h4M1650 195.0h4M1274 199.0h4M1282 199.0h4M1310 199.0h4M1362 199.0h4M1498 199.0h4M1530 199.0h4M1598 199.0h4M1294 203.0h4M1314 203.0h4M1382 203.0h4M1394 203.0h4M1414 203.0h4M1422 203.0h4M1462 203.0h8M1478 203.0h4M1490 203.0h4M1530 203.0h4M1546 203.0h4M1586 203.0h4M1626 203.0h4M1274 207.0h4M1394 207.0h4M1538 207.0h4M1562 207.0h4M1614 207.0h4M1302 211.0h4M1342 211.0h4M1414 211.0h4M1446 211.0h4M1466 211.0h4M1490 211.0h4M1518 211.0h4M1602 211.0h4M1646 211.0h4M1658 211.0h4M1298 215.0h4M1346 215.0h4M1482 215.0h4M1514 215.0h4M1522 215.0h8M1538 215.0h4M1570 215.0h4M1610 215.0h4M1290 219.0h4M1438 219.0h4M1458 219.0h4M1470 219.0h4M1502 219.0h4M1278 223.0h4M1318 223.0h4M1410 223.0h4M1426 223.0h4M1438 223.0h4M1618 223.0h4M1630 223.0h4M1294 227.0h4M1318 227.0h4M1330 227.0h4M1374 227.0h4M1462 227.0h4M1474 227.0h4M1510 227.0h4M1546 227.0h4M1570 227.0h4M1310 231.0h4M1382 231.0h4M1398 231.0h8M1418 231.0h4M1446 231.0h12M1522 231.0h4M1538 231.0h4M1610 231.0h4M1298 235.0h4M1322 235.0h4M1346 235.0h4M1358 235.0h4M1406 235.0h4M1418 235.0h4M1486 235.0h4M1514 235.0h4M1290 239.0h4M1330 239.0h4M1414 239.0h8M1470 239.0h4M1494 239.0h4M1526 239.0h4M1558 239.0h4M1598 239.0h4M1622 239.0h4M1290 243.0h4M1298 243.0h4M1330 243.0h4M1374 243.0h4M1426 243.0h4M1450 243.0h4M1474 243.0h4M1510 243.0h4M1542 243.0h4M1558 243.0h4M1594 243.0h4M1302 247.0h4M1386 247.0h4M1478 247.0h4M1486 247.0h4M1506 247.0h4M1598 247.0h4M1614 247.0h4M1630 247.0h4M1646 247.0h4M1286 251.0h4M1330 251.0h4M1338 251.0h4M1378 251.0h4M1442 251.0h4M1450 251.0h4M1458 251.0h4M1474 251.0h4M1570 251.0h4M1614 251.0h8M1330 255.0h4M1390 255.0h4M1470 255.0h4M1482 255.0h4M1502 255.0h4M1514 255.0h4M1578 255.0h4M1618 255.0h4M1274 259.0h4M1286 259.0h4M1306 259.0h4M1350 259.0h4M1430 259.0h4M1458 259.0h4M1470 259.0h4M1518 259.0h4M1526 259.0h4M1562 259.0h4M1626 259.0h4M1278 263.0h4M1294 263.0h4M1406 263.0h4M1482 263.0h4M1550 263.0h4M1586 263.0h4M1642 263.0h4M1306 267.0h4M1430 267.0h4M1450 267.0h4M1462 267.0h4M1610 267.0h4M1638 267.0h4M1650 267.0h4M1278 271.0h4M1310 271.0h4M1334 271.0h4M1390 271.0h4M1414 271.0h4M1438 271.0h4M1530 271.0h4M1546 271.0h4M1566 271.0h4M1298 275.0h4M1350 275.0h4M1374 275.0h4M1466 275.0h4M1486 275.0h4M1546 275.0h4M1634 275.0h4M1342 279.0h4M1418 279.0h4M1490 279.0h4M1602 279.0h4M1614 279.0h4M1290 283.0h4M1322 283.0h4M1354 283.0h4M1406 283.0h4M1422 283.0h4M1454 283.0h4M1466 283.0h4M1654 283.0h4M1662 283.0h4M1294 287.0h4M1302 287.0h4M1322 287.0h4M1334 287.0h4M1386 287.0h4M1438 287.0h8M1458 287.0h4M1486 287.0h4M1562 287.0h4M1590 287.0h4M1610 287.0h4M1646 287.0h4M1278 291.0h4M1414 291.0h4M1462 291.0h4M1514 291.0h4M1526 291.0h4M1534 291.0h4M1602 291.0h4M1330 295.0h4M1358 295.0h4M1382 295.0h4M1454 295.0h8M1474 295.0h4M1482 295.0h4M1498 295.0h4M1514 295.0h4M1322 299.0h4M1374 299.0h4M1382 299.0h4M1470 299.0h8M1582 299.0h4M1602 299.0h4M1306 303.0h4M1314 303.0h4M1350 303.0h4M1362 303.0h4M1370 303.0h4M1486 303.0h4M1518 303.0h4M1570 303.0h4M1602 303.0h4M1614 303.0h4M1654 303.0h4M1274 307.0h4M1322 307.0h4M1414 307.0h4M1442 307.0h4M1454 307.0h4M1482 307.0h4M1598 307.0h4M1642 307.0h4M1298 311.0h4M1338 311.0h4M1442 311.0h4M1470 311.0h4M1486 311.0h4M1506 311.0h4M1646 311.0h4M1278 315.0h4M1302 315.0h4M1426 315.0h8M1474 315.0h4M1490 315.0h4M1506 315.0h4M1534 315.0h4M1542 315.0h4M1578 315.0h4M1630 315.0h8M1302 319.0h4M1314 319.0h4M1322 319.0h4M1350 319.0h4M1370 319.0h4M1386 319.0h4M1474 319.0h4M1482 319.0h4M1602 319.0h4M1610 319.0h4M1314 323.0h4M1362 323.0h4M1514 323.0h4M1530 323.0h4M1570 323.0h4M1578 323.0h4M1326 327.0h4M1378 327.0h4M1530 327.0h4M1566 327.0h4M1574 327.0h4M1590 327.0h4M1642 327.0h4M1398 331.0h4M1410 331.0h4M1462 331.0h4M1562 331.0h4M1638 331.0h4M1310 335.0h4M1382 335.0h4M1410 335.0h4M1426 335.0h4M1462 335.0h4M1498 335.0h4M1510 335.0h4M1530 335.0h4M1550 335.0h4M1618 335.0h4M1274 339.0h4M1310 339.0h4M1330 339.0h4M1374 339.0h4M1406 339.0h4M1478 339.0h8M1506 339.0h4M1638 339.0h4M1662 339.0h4M1282 343.0h4M1310 343.0h4M1338 343.0h4M1346 343.0h4M1366 343.0h4M1418 343.0h4M1510 343.0h4M1562 343.0h4M1402 347.0h4M1458 347.0h4M1486 347.0h4M1274 351.0h4M1422 351.0h4M1438 351.0h4M1454 351.0h4M1494 351.0h4M1562 351.0h4M1650 351.0h4M1290 355.0h4M1422 355.0h4M1454 355.0h4M1470 355.0h4M1506 355.0h4M1518 355.0h4M1606 355.0h4M1322 359.0h8M1334 359.0h4M1346 359.0h4M1374 359.0h4M1390 359.0h4M1418 359.0h4M1446 359.0h4M1494 359.0h4M1530 359.0h4M1582 359.0h4M1630 359.0h4M1282 363.0h8M1298 363.0h4M1306 363.0h4M1322 363.0h12M1338 363.0h4M1394 363.0h8M1414 363.0h8M1430 363.0h4M1442 363.0h4M1458 363.0h4M1546 363.0h4M1586 363.0h4M1602 363.0h4M1618 363.0h4M1630 363.0h4M1662 363.0h4M1306 367.0h4M1334 367.0h4M1398 367.0h4M1458 367.0h4M1538 367.0h4M1554 367.0h4M1574 367.0h4M1586 367.0h4M1290 371.0h4M1314 371.0h4M1338 371.0h8M1378 371.0h4M1434 371.0h4M1522 371.0h8M1534 371.0h4M1610 371.0h4M1278 375.0h4M1318 375.0h4M1374 375.0h4M1402 375.0h4M1514 375.0h4M1570 375.0h4M1582 375.0h4M1598 375.0h4M1322 379.0h4M1406 379.0h8M1454 379.0h4M1478 379.0h4M1510 379.0h4M1586 379.0h4M1622 379.0h4M1638 379.0h4M1306 383.0h4M1338 383.0h4M1358 383.0h4M1382 383.0h4M1414 383.0h4M1442 383.0h4M1498 383.0h4M1526 383.0h4M1550 383.0h4M1634 383.0h4M1314 387.0h4M1358 387.0h4M1438 387.0h4M1474 387.0h4M1482 387.0h4M1522 387.0h4M1534 387.0h4M1546 387.0h4M1594 387.0h4M1626 387.0h4M1346 391.0h4M1422 391.0h4M1498 391.0h4M1526 391.0h4M1554 391.0h4M1590 391.0h4M1650 391.0h4M1374 395.0h4M1386 395.0h4M1442 395.0h4M1486 395.0h4M1506 395.0h4M1514 395.0h4M1578 395.0h8M1606 395.0h4M1622 395.0h4M1630 395.0h4M1278 399.0h4M1366 399.0h4M1430 399.0h4M1478 399.0h4M1550 399.0h4M1598 399.0h4M1646 399.0h4M1350 403.0h4M1366 403.0h4M1418 403.0h4M1458 403.0h4M1498 403.0h4M1526 403.0h4M1566 403.0h4M1590 403.0h4M1606 403.0h4M1622 403.0h4M1662 403.0h4M1286 407.0h8M1318 407.0h4M1342 407.0h4M1370 407.0h4M1410 407.0h4M1438 407.0h4M1446 407.0h4M1506 407.0h4M1554 407.0h4M1610 407.0h4M1622 407.0h4M1630 407.0h4M1330 411.0h4M1370 411.0h4M1394 411.0h4M1430 411.0h4M1442 411.0h4M1466 411.0h4M1498 411.0h4M1634 411.0h4M1490 415.0h4M1502 415.0h4M1570 415.0h4M1602 415.0h4M1654 415.0h4M1286 419.0h4M1298 419.0h4M1314 419.0h4M1378 419.0h4M1410 419.0h4M1438 419.0h4M1454 419.0h4M1546 419.0h4M1598 419.0h4M1446 423.0h4M1470 423.0h4M1514 423.0h4M1534 423.0h4M1622 423.0h4M1302 427.0h4M1322 427.0h4M1362 427.0h4M1390 427.0h4M1430 427.0h4M1470 427.0h4M1478 427.0h4M1510 427.0h4M1598 427.0h8" stroke="#c6c6c6" stroke-width="4" fill="none"/><path d="M1302 79.0h4M1322 79.0h4M1342 79.0h4M1378 79.0h4M1390 79.0h4M1418 79.0h4M1470 79.0h4M1482 79.0h4M1498 79.0h4M1506 79.0h4M1522 79.0h4M1538 79.0h4M1570 79.0h4M1594 79.0h4M1646 79.0h4M1658 79.0h4M1498 83.0h4M1506 83.0h4M1522 83.0h4M1550 83.0h4M1626 83.0h4M1654 83.0h4M1306 87.0h4M1318 87.0h8M1374 87.0h4M1398 87.0h4M1418 87.0h4M1430 87.0h4M1486 87.0h4M1630 87.0h4M1642 87.0h4M1278 91.0h4M1330 91.0h4M1342 91.0h4M1350 91.0h4M1358 91.0h4M1414 91.0h4M1506 91.0h4M1582 91.0h4M1646 91.0h8M1274 95.0h4M1314 95.0h4M1338 95.0h8M1350 95.0h4M1374 95.0h4M1446 95.0h4M1550 95.0h4M1634 95.0h4M1286 99.0h4M1330 99.0h4M1382 99.0h4M1418 99.0h4M1490 99.0h4M1534 99.0h4M1546 99.0h4M1578 99.0h4M1654 99.0h4M1450 103.0h4M1506 103.0h4M1558 103.0h4M1594 103.0h4M1294 107.0h4M1302 107.0h8M1314 107.0h4M1434 107.0h4M1454 107.0h4M1470 107.0h4M1486 107.0h4M1506 107.0h4M1514 107.0h4M1610 107.0h4M1638 107.0h4M1374 111.0h4M1406 111.0h4M1418 111.0h4M1582 111.0h4M1606 111.0h8M1626 111.0h4M1310 115.0h8M1370 115.0h4M1398 115.0h4M1466 115.0h4M1474 115.0h4M1526 115.0h4M1566 115.0h8M1314 119.0h4M1330 119.0h4M1342 119.0h4M1370 119.0h4M1382 119.0h4M1458 119.0h8M1518 119.0h4M1546 119.0h4M1558 119.0h4M1582 119.0h4M1590 119.0h4M1622 119.0h4M1290 123.0h8M1314 123.0h4M1326 123.0h4M1338 123.0h4M1362 123.0h4M1442 123.0h8M1462 123.0h4M1510 123.0h4M1542 123.0h4M1570 123.0h4M1598 123.0h4M1606 123.0h4M1646 123.0h8M1366 127.0h4M1382 127.0h4M1394 127.0h4M1442 127.0h4M1454 127.0h4M1470 127.0h4M1494 127.0h8M1510 127.0h4M1634 127.0h4M1326 131.0h4M1382 131.0h4M1450 131.0h4M1530 131.0h4M1434 135.0h8M1274 139.0h4M1386 139.0h4M1410 139.0h4M1430 139.0h8M1450 139.0h4M1502 139.0h4M1522 139.0h4M1558 139.0h4M1570 139.0h4M1594 139.0h4M1618 139.0h4M1654 139.0h4M1298 143.0h4M1366 143.0h4M1382 143.0h4M1438 143.0h4M1462 143.0h12M1514 143.0h4M1526 143.0h4M1538 143.0h4M1626 143.0h4M1654 143.0h4M1278 147.0h4M1402 147.0h4M1418 147.0h4M1538 147.0h4M1586 147.0h4M1634 147.0h8M1274 151.0h4M1326 151.0h4M1338 151.0h4M1362 151.0h4M1390 151.0h4M1410 151.0h4M1442 151.0h4M1450 151.0h8M1462 151.0h8M1502 151.0h4M1514 151.0h4M1550 151.0h4M1570 151.0h4M1634 151.0h4M1310 155.0h4M1326 155.0h4M1350 155.0h4M1362 155.0h4M1370 155.0h4M1406 155.0h4M1422 155.0h4M1490 155.0h8M1530 155.0h4M1550 155.0h4M1574 155.0h4M1582 155.0h4M1590 155.0h4M1622 155.0h12M1638 155.0h4M1294 159.0h4M1302 159.0h4M1322 159.0h4M1374 159.0h8M1398 159.0h4M1406 159.0h4M1454 159.0h8M1278 163.0h4M1310 163.0h4M1318 163.0h4M1518 163.0h4M1538 163.0h4M1550 163.0h4M1582 163.0h4M1618 163.0h4M1630 163.0h4M1638 163.0h8M1658 163.0h4M1286 167.0h4M1318 167.0h8M1350 167.0h4M1390 167.0h4M1418 167.0h4M1442 167.0h8M1518 167.0h4M1534 167.0h4M1578 167.0h4M1590 167.0h4M1622 167.0h4M1274 171.0h4M1322 171.0h4M1346 171.0h4M1426 171.0h4M1490 171.0h4M1562 171.0h4M1606 171.0h4M1294 175.0h4M1326 175.0h8M1354 175.0h8M1386 175.0h4M1418 175.0h4M1458 175.0h4M1470 175.0h4M1502 175.0h4M1534 175.0h4M1642 175.0h4M1662 175.0h4M1278 179.0h4M1370 179.0h4M1378 179.0h4M1438 179.0h4M1454 179.0h4M1478 179.0h4M1514 179.0h4M1538 179.0h4M1618 179.0h4M1282 183.0h4M1314 183.0h4M1338 183.0h8M1350 183.0h4M1406 183.0h4M1446 183.0h4M1470 183.0h8M1482 183.0h4M1510 183.0h4M1586 183.0h4M1598 183.0h4M1634 183.0h4M1658 183.0h4M1414 187.0h4M1462 187.0h12M1502 187.0h4M1518 187.0h4M1562 187.0h4M1614 187.0h4M1658 187.0h4M1294 191.0h4M1390 191.0h4M1434 191.0h4M1454 191.0h8M1518 191.0h4M1582 191.0h4M1318 195.0h4M1334 195.0h4M1386 195.0h4M1394 195.0h4M1634 195.0h4M1290 199.0h8M1342 199.0h4M1382 199.0h4M1390 199.0h4M1426 199.0h4M1642 199.0h4M1662 199.0h4M1302 203.0h12M1326 203.0h4M1342 203.0h4M1354 203.0h4M1386 203.0h4M1494 203.0h4M1506 203.0h4M1526 203.0h4M1598 203.0h4M1614 203.0h4M1334 207.0h4M1386 207.0h4M1474 207.0h4M1482 207.0h4M1498 207.0h8M1554 207.0h4M1574 207.0h4M1630 207.0h8M1294 211.0h4M1386 211.0h4M1450 211.0h4M1478 211.0h4M1498 211.0h16M1542 211.0h4M1554 211.0h12M1582 211.0h4M1622 211.0h4M1642 211.0h4M1290 215.0h4M1358 215.0h4M1374 215.0h4M1390 215.0h4M1306 219.0h4M1322 219.0h4M1350 219.0h4M1386 219.0h4M1422 219.0h4M1446 219.0h4M1510 219.0h12M1534 219.0h4M1550 219.0h4M1594 219.0h4M1602 219.0h4M1610 219.0h4M1374 223.0h4M1430 223.0h8M1482 223.0h4M1522 223.0h4M1550 223.0h4M1574 223.0h4M1594 223.0h8M1610 223.0h4M1342 227.0h4M1378 227.0h4M1390 227.0h8M1470 227.0h4M1486 227.0h4M1494 227.0h4M1502 227.0h4M1534 227.0h4M1566 227.0h4M1590 227.0h4M1338 231.0h4M1386 231.0h4M1426 231.0h4M1438 231.0h4M1462 231.0h4M1546 231.0h8M1590 231.0h4M1606 231.0h4M1650 231.0h8M1302 235.0h4M1310 235.0h4M1350 235.0h4M1366 235.0h4M1426 235.0h4M1466 235.0h4M1482 235.0h4M1526 235.0h4M1550 235.0h4M1558 235.0h4M1614 235.0h4M1634 235.0h4M1314 239.0h4M1334 239.0h4M1354 239.0h4M1366 239.0h4M1462 239.0h4M1510 239.0h4M1518 239.0h8M1554 239.0h4M1582 239.0h4M1590 239.0h4M1302 243.0h4M1350 243.0h4M1366 243.0h4M1430 243.0h4M1446 243.0h4M1518 243.0h4M1534 243.0h4M1590 243.0h4M1646 243.0h4M1294 247.0h4M1342 247.0h4M1358 247.0h4M1434 247.0h4M1490 247.0h4M1558 247.0h4M1574 247.0h4M1590 247.0h4M1606 247.0h4M1622 247.0h4M1658 247.0h4M1278 251.0h4M1302 251.0h4M1374 251.0h4M1426 251.0h4M1454 251.0h4M1486 251.0h4M1502 251.0h8M1538 251.0h4M1554 251.0h4M1566 251.0h4M1594 251.0h4M1622 251.0h4M1322 255.0h4M1358 255.0h4M1494 255.0h4M1518 255.0h4M1646 255.0h4M1298 259.0h4M1318 259.0h4M1330 259.0h4M1398 259.0h4M1434 259.0h4M1514 259.0h4M1530 259.0h4M1582 259.0h4M1606 259.0h4M1286 263.0h8M1306 263.0h4M1318 263.0h4M1338 263.0h4M1350 263.0h4M1374 263.0h4M1382 263.0h4M1394 263.0h4M1462 263.0h4M1502 263.0h4M1554 263.0h4M1634 263.0h4M1646 263.0h4M1278 267.0h4M1322 267.0h4M1422 267.0h4M1470 267.0h4M1482 267.0h4M1494 267.0h4M1522 267.0h4M1558 267.0h4M1646 267.0h4M1654 267.0h4M1302 271.0h4M1374 271.0h4M1394 271.0h4M1402 271.0h4M1418 271.0h4M1442 271.0h4M1490 271.0h4M1510 271.0h4M1542 271.0h4M1550 271.0h4M1574 271.0h4M1586 271.0h4M1598 271.0h4M1606 271.0h4M1642 271.0h4M1654 271.0h4M1378 275.0h4M1398 275.0h4M1454 275.0h4M1650 275.0h4M1386 279.0h4M1470 279.0h4M1494 279.0h4M1606 279.0h4M1630 279.0h4M1650 279.0h4M1330 283.0h4M1342 283.0h4M1382 283.0h4M1418 283.0h4M1438 283.0h4M1458 283.0h4M1486 283.0h4M1498 283.0h4M1562 283.0h4M1638 283.0h4M1646 283.0h4M1298 287.0h4M1318 287.0h4M1338 287.0h4M1470 287.0h4M1498 287.0h4M1566 287.0h4M1626 287.0h4M1350 291.0h4M1398 291.0h4M1550 291.0h4M1570 291.0h4M1582 291.0h4M1634 291.0h4M1338 295.0h4M1450 295.0h4M1470 295.0h4M1522 295.0h4M1598 295.0h4M1614 295.0h12M1302 299.0h4M1310 299.0h4M1410 299.0h4M1450 299.0h4M1526 299.0h4M1554 299.0h4M1570 299.0h4M1278 303.0h4M1286 303.0h4M1390 303.0h4M1398 303.0h4M1442 303.0h4M1454 303.0h4M1494 303.0h4M1502 303.0h4M1510 303.0h4M1318 307.0h4M1334 307.0h4M1394 307.0h4M1490 307.0h8M1518 307.0h4M1534 307.0h4M1550 307.0h4M1566 307.0h4M1306 311.0h4M1346 311.0h4M1418 311.0h4M1450 311.0h4M1498 311.0h4M1550 311.0h4M1594 311.0h4M1326 315.0h4M1378 315.0h4M1390 315.0h4M1450 315.0h8M1502 315.0h4M1622 315.0h4M1658 315.0h4M1298 319.0h4M1382 319.0h4M1402 319.0h4M1430 319.0h4M1486 319.0h4M1522 319.0h4M1550 319.0h4M1618 319.0h4M1642 319.0h4M1662 319.0h4M1274 323.0h4M1286 323.0h4M1298 323.0h4M1326 323.0h4M1402 323.0h4M1434 323.0h4M1442 323.0h12M1538 323.0h4M1594 323.0h4M1330 327.0h4M1414 327.0h4M1470 327.0h4M1534 327.0h4M1610 327.0h4M1386 331.0h4M1530 331.0h4M1626 331.0h8M1662 331.0h4M1278 335.0h4M1354 335.0h4M1398 335.0h12M1542 335.0h4M1558 335.0h4M1594 335.0h8M1370 339.0h4M1382 339.0h4M1390 339.0h4M1426 339.0h8M1450 339.0h4M1590 339.0h4M1598 339.0h4M1658 339.0h4M1330 343.0h4M1358 343.0h4M1414 343.0h4M1422 343.0h4M1458 343.0h4M1474 343.0h8M1542 343.0h4M1550 343.0h4M1590 343.0h4M1646 343.0h4M1278 347.0h4M1306 347.0h4M1330 347.0h4M1338 347.0h4M1378 347.0h4M1642 347.0h4M1430 351.0h4M1502 351.0h4M1546 351.0h4M1566 351.0h4M1574 351.0h4M1622 351.0h4M1278 355.0h4M1322 355.0h4M1330 355.0h4M1430 355.0h4M1438 355.0h4M1458 355.0h4M1554 355.0h4M1562 355.0h4M1574 355.0h8M1594 355.0h4M1602 355.0h4M1614 355.0h4M1630 355.0h4M1282 359.0h4M1338 359.0h4M1430 359.0h4M1462 359.0h4M1502 359.0h4M1542 359.0h4M1574 359.0h4M1638 359.0h4M1654 359.0h4M1278 363.0h4M1294 363.0h4M1434 363.0h4M1466 363.0h4M1506 363.0h8M1522 363.0h4M1554 363.0h4M1614 363.0h4M1314 367.0h4M1342 367.0h4M1374 367.0h4M1382 367.0h4M1410 367.0h8M1430 367.0h4M1490 367.0h4M1506 367.0h4M1550 367.0h4M1558 367.0h4M1590 367.0h4M1326 371.0h4M1370 371.0h4M1382 371.0h8M1398 371.0h8M1470 371.0h4M1502 371.0h4M1550 371.0h4M1574 371.0h4M1654 371.0h4M1662 371.0h4M1354 375.0h4M1414 375.0h4M1554 375.0h4M1634 375.0h4M1314 379.0h4M1338 379.0h4M1358 379.0h4M1474 379.0h4M1574 379.0h4M1658 379.0h8M1274 383.0h4M1410 383.0h4M1454 383.0h4M1466 383.0h4M1542 383.0h4M1590 383.0h4M1334 387.0h4M1370 387.0h4M1418 387.0h4M1430 387.0h8M1550 387.0h4M1558 387.0h4M1574 387.0h4M1322 391.0h4M1354 391.0h4M1362 391.0h4M1378 391.0h4M1446 391.0h4M1502 391.0h4M1574 391.0h8M1598 391.0h4M1278 395.0h4M1358 395.0h4M1398 395.0h4M1418 395.0h8M1478 395.0h8M1510 395.0h4M1534 395.0h4M1566 395.0h4M1590 395.0h4M1610 395.0h4M1638 395.0h4M1662 395.0h4M1318 399.0h4M1330 399.0h4M1350 399.0h4M1370 399.0h4M1418 399.0h4M1574 399.0h4M1582 399.0h4M1610 399.0h4M1622 399.0h4M1638 399.0h4M1658 399.0h4M1290 403.0h4M1310 403.0h4M1346 403.0h4M1494 403.0h4M1506 403.0h4M1518 403.0h8M1634 403.0h4M1274 407.0h4M1422 407.0h4M1462 407.0h4M1470 407.0h4M1526 407.0h4M1542 407.0h4M1550 407.0h4M1562 407.0h4M1590 407.0h4M1602 407.0h4M1614 407.0h8M1654 407.0h4M1290 411.0h4M1354 411.0h4M1434 411.0h4M1494 411.0h4M1534 411.0h4M1558 411.0h4M1578 411.0h4M1618 411.0h4M1642 411.0h8M1282 415.0h4M1330 415.0h4M1378 415.0h4M1386 415.0h4M1438 415.0h4M1450 415.0h4M1466 415.0h4M1562 415.0h4M1574 415.0h4M1614 415.0h4M1382 419.0h4M1586 419.0h4M1614 419.0h4M1662 419.0h4M1290 423.0h4M1582 423.0h8M1634 423.0h4M1278 427.0h4M1290 427.0h4M1326 427.0h4M1434 427.0h4M1574 427.0h4M1638 427.0h4" stroke="#e3e3e3" stroke-width="4" fill="none"/><path d="M1314 79.0h4M1398 79.0h4M1414 79.0h4M1434 79.0h4M1478 79.0h4M1486 79.0h4M1502 79.0h4M1542 79.0h4M1598 79.0h4M1606 79.0h4M1654 79.0h4M1298 83.0h4M1322 83.0h4M1398 83.0h4M1610 83.0h4M1622 83.0h4M1630 83.0h4M1638 83.0h8M1314 87.0h4M1358 87.0h4M1410 87.0h4M1482 87.0h4M1634 87.0h4M1362 91.0h4M1398 91.0h4M1466 91.0h4M1522 91.0h4M1566 91.0h4M1630 91.0h4M1286 95.0h4M1310 95.0h4M1418 95.0h4M1450 95.0h4M1458 95.0h4M1498 95.0h4M1562 95.0h4M1386 99.0h4M1406 99.0h4M1486 99.0h4M1526 99.0h4M1554 99.0h4M1574 99.0h4M1382 103.0h4M1434 103.0h4M1470 103.0h4M1514 103.0h4M1526 103.0h8M1546 103.0h4M1578 103.0h4M1602 103.0h4M1338 107.0h4M1390 107.0h4M1446 107.0h4M1578 107.0h4M1602 107.0h4M1614 107.0h4M1622 107.0h4M1634 107.0h4M1642 107.0h4M1658 107.0h8M1278 111.0h4M1366 111.0h8M1474 111.0h4M1482 111.0h4M1554 111.0h4M1622 111.0h4M1654 111.0h4M1290 115.0h4M1318 115.0h4M1350 115.0h4M1374 115.0h4M1386 115.0h4M1410 115.0h8M1438 115.0h4M1486 115.0h4M1518 115.0h4M1534 115.0h4M1578 115.0h4M1598 115.0h4M1622 115.0h4M1634 115.0h12M1654 115.0h4M1326 119.0h4M1338 119.0h4M1362 119.0h4M1390 119.0h4M1450 119.0h8M1470 119.0h4M1502 119.0h4M1522 119.0h4M1566 119.0h4M1278 123.0h4M1298 123.0h4M1402 123.0h4M1422 123.0h4M1486 123.0h4M1522 123.0h4M1566 123.0h4M1610 123.0h4M1618 123.0h4M1398 127.0h4M1406 127.0h4M1506 127.0h4M1630 127.0h4M1658 127.0h4M1274 131.0h4M1290 131.0h4M1314 131.0h4M1350 131.0h4M1446 131.0h4M1474 131.0h4M1486 131.0h4M1558 131.0h4M1602 131.0h4M1358 135.0h4M1378 135.0h4M1390 135.0h4M1410 135.0h4M1478 135.0h4M1486 135.0h4M1530 135.0h4M1546 135.0h4M1610 135.0h4M1378 139.0h4M1398 139.0h4M1422 139.0h4M1466 139.0h4M1478 139.0h4M1490 139.0h4M1514 139.0h4M1562 139.0h4M1590 139.0h4M1598 139.0h4M1630 139.0h4M1638 139.0h4M1430 143.0h4M1474 143.0h4M1506 143.0h4M1570 143.0h4M1610 143.0h4M1322 147.0h4M1338 147.0h4M1366 147.0h4M1470 147.0h4M1618 147.0h4M1662 147.0h4M1278 151.0h4M1290 151.0h4M1370 151.0h4M1438 151.0h4M1470 151.0h4M1546 151.0h4M1610 151.0h4M1622 151.0h4M1282 155.0h4M1382 155.0h4M1442 155.0h8M1482 155.0h4M1282 159.0h4M1306 159.0h4M1358 159.0h4M1366 159.0h4M1382 159.0h4M1418 159.0h4M1446 159.0h4M1526 159.0h4M1534 159.0h4M1542 159.0h4M1578 159.0h4M1602 159.0h4M1614 159.0h4M1642 159.0h4M1286 163.0h4M1394 163.0h4M1410 163.0h4M1450 163.0h4M1498 163.0h4M1510 163.0h4M1546 163.0h4M1606 163.0h4M1334 167.0h4M1362 167.0h4M1374 167.0h4M1406 167.0h4M1438 167.0h4M1482 167.0h4M1494 167.0h4M1526 167.0h4M1602 167.0h4M1358 171.0h8M1438 171.0h4M1514 171.0h8M1662 171.0h4M1274 175.0h4M1298 175.0h4M1310 175.0h4M1550 175.0h4M1562 175.0h8M1578 175.0h4M1634 175.0h4M1658 175.0h4M1274 179.0h4M1290 179.0h4M1342 179.0h4M1358 179.0h4M1458 179.0h4M1502 179.0h4M1534 179.0h4M1642 179.0h4M1290 183.0h4M1298 183.0h4M1318 183.0h4M1354 183.0h4M1378 183.0h4M1402 183.0h4M1418 183.0h4M1498 183.0h4M1578 183.0h4M1614 183.0h4M1630 183.0h4M1306 187.0h4M1330 187.0h4M1366 187.0h8M1382 187.0h4M1398 187.0h4M1418 187.0h4M1426 187.0h4M1662 187.0h4M1278 191.0h4M1334 191.0h8M1394 191.0h4M1446 191.0h4M1590 191.0h4M1598 191.0h8M1618 191.0h4M1626 191.0h4M1330 195.0h4M1414 195.0h4M1426 195.0h4M1438 195.0h4M1522 195.0h4M1582 195.0h4M1590 195.0h4M1606 195.0h4M1286 199.0h4M1334 199.0h4M1406 199.0h8M1506 199.0h4M1546 199.0h4M1610 199.0h4M1626 199.0h4M1638 199.0h4M1390 203.0h4M1590 203.0h4M1278 207.0h4M1306 207.0h4M1346 207.0h4M1362 207.0h4M1406 207.0h4M1414 207.0h4M1426 207.0h4M1434 207.0h4M1446 207.0h4M1534 207.0h4M1590 207.0h4M1626 207.0h4M1642 207.0h4M1654 207.0h4M1662 207.0h4M1310 211.0h4M1326 211.0h4M1402 211.0h4M1574 211.0h4M1314 215.0h4M1434 215.0h4M1462 215.0h4M1498 215.0h4M1510 215.0h4M1562 215.0h4M1590 215.0h8M1606 215.0h4M1282 219.0h4M1526 219.0h4M1538 219.0h4M1574 219.0h4M1606 219.0h4M1650 219.0h4M1282 223.0h4M1290 223.0h4M1306 223.0h4M1370 223.0h4M1398 223.0h4M1474 223.0h4M1558 223.0h4M1638 223.0h4M1306 227.0h8M1382 227.0h4M1454 227.0h4M1530 227.0h4M1562 227.0h4M1614 227.0h8M1650 227.0h4M1498 231.0h4M1570 231.0h8M1630 231.0h4M1658 231.0h4M1334 235.0h4M1398 235.0h4M1450 235.0h4M1478 235.0h4M1502 235.0h4M1554 235.0h4M1570 235.0h4M1650 235.0h4M1274 239.0h8M1374 239.0h4M1402 239.0h4M1426 239.0h4M1458 239.0h4M1466 239.0h4M1482 239.0h8M1534 239.0h4M1562 239.0h4M1606 239.0h4M1314 243.0h4M1390 243.0h4M1410 243.0h4M1438 243.0h4M1570 243.0h4M1618 243.0h4M1334 247.0h4M1350 247.0h4M1378 247.0h8M1430 247.0h4M1442 247.0h8M1466 247.0h4M1542 247.0h4M1566 247.0h4M1610 247.0h4M1634 247.0h4M1662 247.0h4M1282 251.0h4M1294 251.0h4M1322 251.0h4M1362 251.0h4M1418 251.0h4M1490 251.0h4M1518 251.0h12M1574 251.0h4M1638 251.0h4M1294 255.0h4M1366 255.0h4M1422 255.0h4M1462 255.0h8M1474 255.0h4M1558 255.0h4M1570 255.0h4M1594 255.0h4M1630 255.0h4M1638 255.0h4M1654 255.0h4M1334 259.0h4M1342 259.0h4M1410 259.0h4M1418 259.0h4M1482 259.0h4M1490 259.0h4M1542 259.0h4M1658 259.0h4M1274 263.0h4M1358 263.0h4M1402 263.0h4M1426 263.0h4M1454 263.0h4M1470 263.0h4M1562 263.0h4M1594 263.0h4M1610 263.0h4M1298 267.0h4M1402 267.0h4M1414 267.0h4M1478 267.0h4M1490 267.0h4M1498 267.0h4M1570 267.0h4M1290 271.0h8M1330 271.0h4M1458 271.0h8M1486 271.0h4M1526 271.0h4M1554 271.0h4M1306 275.0h4M1522 275.0h4M1542 275.0h4M1554 275.0h4M1610 275.0h4M1318 279.0h4M1350 279.0h4M1362 279.0h4M1422 279.0h4M1438 279.0h4M1542 279.0h4M1622 279.0h4M1278 283.0h8M1298 283.0h4M1310 283.0h4M1338 283.0h4M1370 283.0h4M1506 283.0h4M1542 283.0h4M1614 283.0h4M1642 283.0h4M1274 287.0h4M1286 287.0h4M1374 287.0h4M1382 287.0h4M1426 287.0h4M1510 287.0h4M1534 287.0h4M1574 287.0h4M1594 287.0h4M1606 287.0h4M1622 287.0h4M1290 291.0h4M1342 291.0h4M1382 291.0h8M1450 291.0h4M1530 291.0h4M1610 291.0h4M1278 295.0h4M1350 295.0h4M1390 295.0h4M1462 295.0h4M1518 295.0h4M1546 295.0h4M1558 295.0h4M1570 295.0h8M1594 295.0h4M1602 295.0h4M1334 299.0h4M1366 299.0h8M1466 299.0h4M1530 299.0h4M1578 299.0h4M1638 299.0h4M1282 303.0h4M1330 303.0h4M1346 303.0h4M1418 303.0h4M1462 303.0h4M1474 303.0h4M1514 303.0h4M1530 303.0h4M1606 303.0h8M1658 303.0h4M1278 307.0h8M1382 307.0h4M1450 307.0h4M1506 307.0h4M1546 307.0h4M1574 307.0h4M1582 307.0h4M1594 307.0h4M1638 307.0h4M1334 311.0h4M1390 311.0h4M1462 311.0h4M1474 311.0h4M1530 311.0h4M1542 311.0h4M1554 311.0h4M1582 311.0h8M1282 315.0h4M1414 315.0h4M1442 315.0h4M1478 315.0h4M1538 315.0h4M1278 319.0h4M1330 319.0h4M1362 319.0h4M1434 319.0h4M1450 319.0h8M1462 319.0h4M1498 319.0h8M1510 319.0h4M1542 319.0h4M1562 319.0h8M1582 319.0h4M1650 319.0h4M1294 323.0h4M1310 323.0h4M1374 323.0h8M1394 323.0h4M1410 323.0h4M1490 323.0h4M1526 323.0h4M1542 323.0h4M1566 323.0h4M1598 323.0h4M1278 327.0h4M1298 327.0h4M1370 327.0h4M1398 327.0h4M1422 327.0h4M1430 327.0h4M1438 327.0h4M1462 327.0h4M1514 327.0h4M1638 327.0h4M1658 327.0h4M1306 331.0h4M1318 331.0h4M1342 331.0h4M1374 331.0h4M1482 331.0h4M1514 331.0h4M1538 331.0h4M1602 331.0h8M1642 331.0h4M1302 335.0h4M1314 335.0h4M1346 335.0h4M1386 335.0h4M1454 335.0h4M1582 335.0h4M1606 335.0h4M1298 339.0h4M1318 339.0h4M1358 339.0h4M1470 339.0h4M1510 339.0h4M1606 339.0h4M1630 339.0h4M1434 343.0h4M1454 343.0h4M1514 343.0h4M1618 343.0h4M1638 343.0h4M1658 343.0h4M1318 347.0h4M1334 347.0h4M1342 347.0h4M1354 347.0h4M1362 347.0h8M1422 347.0h4M1446 347.0h4M1474 347.0h4M1514 347.0h4M1538 347.0h4M1566 347.0h4M1582 347.0h8M1594 347.0h4M1294 351.0h4M1314 351.0h4M1326 351.0h4M1334 351.0h4M1346 351.0h8M1426 351.0h4M1570 351.0h4M1590 351.0h4M1342 355.0h4M1374 355.0h4M1402 355.0h4M1434 355.0h4M1446 355.0h4M1466 355.0h4M1526 355.0h4M1542 355.0h4M1590 355.0h4M1646 355.0h4M1654 355.0h4M1302 359.0h4M1310 359.0h4M1478 359.0h4M1562 359.0h4M1642 359.0h4M1334 363.0h4M1342 363.0h4M1390 363.0h4M1450 363.0h4M1462 363.0h4M1478 363.0h4M1558 363.0h4M1294 367.0h8M1318 367.0h4M1346 367.0h4M1426 367.0h4M1438 367.0h4M1446 367.0h4M1454 367.0h4M1514 367.0h4M1522 367.0h4M1602 367.0h4M1614 367.0h4M1634 367.0h4M1642 367.0h4M1274 371.0h4M1334 371.0h4M1366 371.0h4M1390 371.0h4M1406 371.0h4M1454 371.0h4M1514 371.0h4M1634 371.0h8M1286 375.0h4M1358 375.0h4M1394 375.0h4M1410 375.0h4M1418 375.0h4M1446 375.0h4M1462 375.0h4M1518 375.0h4M1542 375.0h4M1562 375.0h8M1626 375.0h4M1654 375.0h4M1330 379.0h4M1342 379.0h4M1382 379.0h4M1398 379.0h4M1422 379.0h4M1438 379.0h4M1450 379.0h4M1486 379.0h4M1494 379.0h4M1522 379.0h4M1614 379.0h4M1642 379.0h4M1278 383.0h4M1286 383.0h4M1294 383.0h4M1318 383.0h4M1354 383.0h4M1362 383.0h4M1370 383.0h4M1446 383.0h4M1482 383.0h4M1510 383.0h4M1598 383.0h4M1626 383.0h8M1286 387.0h4M1350 387.0h4M1382 387.0h4M1442 387.0h8M1486 387.0h4M1530 387.0h4M1538 387.0h4M1554 387.0h4M1566 387.0h4M1590 387.0h4M1618 387.0h4M1654 387.0h4M1342 391.0h4M1374 391.0h4M1414 391.0h4M1450 391.0h4M1538 391.0h4M1558 391.0h4M1658 391.0h4M1282 395.0h4M1306 395.0h8M1342 395.0h12M1402 395.0h4M1502 395.0h4M1530 395.0h4M1542 395.0h4M1586 395.0h4M1618 395.0h4M1302 399.0h4M1334 399.0h4M1354 399.0h4M1382 399.0h4M1410 399.0h4M1442 399.0h4M1482 399.0h4M1494 399.0h4M1566 399.0h8M1634 399.0h4M1286 403.0h4M1334 403.0h4M1370 403.0h4M1414 403.0h4M1502 403.0h4M1530 403.0h4M1614 403.0h8M1314 407.0h4M1390 407.0h4M1434 407.0h4M1450 407.0h4M1534 407.0h4M1546 407.0h4M1582 407.0h4M1606 407.0h4M1626 407.0h4M1650 407.0h4M1306 411.0h4M1358 411.0h4M1374 411.0h4M1490 411.0h4M1510 411.0h4M1518 411.0h4M1554 411.0h4M1566 411.0h4M1602 411.0h4M1662 411.0h4M1290 415.0h4M1318 415.0h4M1334 415.0h4M1358 415.0h4M1482 415.0h4M1554 415.0h4M1566 415.0h4M1586 415.0h4M1610 415.0h4M1618 415.0h8M1630 415.0h4M1662 415.0h4M1322 419.0h4M1338 419.0h4M1418 419.0h4M1494 419.0h4M1578 419.0h4M1606 419.0h4M1618 419.0h4M1638 419.0h4M1298 423.0h4M1306 423.0h12M1326 423.0h4M1366 423.0h4M1382 423.0h4M1390 423.0h8M1418 423.0h4M1430 423.0h4M1450 423.0h4M1474 423.0h4M1594 423.0h4M1610 423.0h4M1658 423.0h4M1330 427.0h4M1386 427.0h4M1410 427.0h8M1426 427.0h4M1498 427.0h4M1514 427.0h8M1554 427.0h4M1578 427.0h4M1606 427.0h4M1614 427.0h4M1662 427.0h4" stroke="#fff" stroke-width="4" fill="none"/></g><text x="1343" y="483" style="font-family:'Liberation Serif',serif;font-size:58px;font-weight:normal;font-style:normal" fill="#000" text-anchor="start" >Simulation</text><rect x="1752" y="77" width="62" height="391" fill="url(#cbar)" stroke="#1c2d50" stroke-width="4.5"/><text x="1735" y="49" style="font-family:'Liberation Serif',serif;font-size:58px;font-weight:normal;font-style:normal" fill="#000" text-anchor="start" >Phase</text><text x="1850" y="108" style="font-family:'Liberation Serif',serif;font-size:56px;font-weight:normal;font-style:normal" fill="#000" text-anchor="start" >2&#960;</text><text x="1850" y="492" style="font-family:'Liberation Serif',serif;font-size:56px;font-weight:normal;font-style:normal" fill="#000" text-anchor="start" >0</text><rect x="1273" y="519" width="395" height="352" fill="#555"/><g><path d="M1292 528.5h3M1298 528.5h3M1396 528.5h3M1460 528.5h3M1503 528.5h3M1518 528.5h3M1532 528.5h3M1564 528.5h3M1616 528.5h3M1654 528.5h3M1289 531.4h3M1315 531.4h3M1376 531.4h3M1396 531.4h3M1567 531.4h3M1315 534.2h3M1399 534.2h3M1428 534.2h3M1535 534.2h3M1619 534.2h3M1422 537.2h3M1480 537.2h3M1492 537.2h3M1527 537.2h3M1558 537.2h3M1585 537.2h3M1315 540.1h3M1411 540.1h3M1419 540.1h3M1477 540.1h3M1498 540.1h3M1547 540.1h6M1579 540.1h3M1663 540.1h3M1324 543.0h3M1332 543.0h3M1341 543.0h3M1408 543.0h3M1448 543.0h3M1512 543.0h3M1582 543.0h3M1593 543.0h3M1634 543.0h3M1648 543.0h6M1318 545.9h3M1332 545.9h3M1350 545.9h3M1411 545.9h3M1509 545.9h3M1518 545.9h6M1530 545.9h3M1538 545.9h3M1593 545.9h3M1660 545.9h3M1350 548.8h3M1361 548.8h3M1399 548.8h3M1637 548.8h3M1286 551.7h3M1451 551.7h3M1463 551.7h3M1498 551.7h3M1605 551.7h3M1654 551.7h3M1309 554.6h3M1437 554.6h3M1527 554.6h3M1535 554.6h3M1547 554.6h3M1625 554.6h3M1361 557.5h3M1445 557.5h3M1498 557.5h3M1622 557.5h3M1295 560.4h3M1419 560.4h3M1544 560.4h3M1579 560.4h3M1321 563.2h3M1390 563.2h6M1414 563.2h3M1431 563.2h3M1457 563.2h3M1489 563.2h3M1538 563.2h3M1570 563.2h3M1646 563.2h3M1654 563.2h3M1451 566.2h3M1500 566.2h3M1541 566.2h3M1558 566.2h3M1657 566.2h3M1326 569.1h3M1419 569.1h3M1445 569.1h3M1538 569.1h3M1608 569.1h3M1283 572.0h3M1295 572.0h3M1576 572.0h3M1648 572.0h6M1660 572.0h3M1295 574.9h3M1376 574.9h3M1382 574.9h3M1442 574.9h3M1634 574.9h3M1651 574.9h3M1292 577.8h3M1312 577.8h3M1326 577.8h3M1390 577.8h3M1405 577.8h3M1454 577.8h3M1530 577.8h3M1538 577.8h3M1611 577.8h3M1628 577.8h3M1643 577.8h3M1657 577.8h3M1300 580.7h3M1321 580.7h3M1370 580.7h3M1408 580.7h3M1605 580.7h3M1634 580.7h3M1660 580.7h3M1306 583.6h3M1364 583.6h3M1373 583.6h3M1379 583.6h3M1428 583.6h3M1437 583.6h3M1460 583.6h3M1500 583.6h3M1518 583.6h3M1544 583.6h3M1625 583.6h3M1489 586.5h3M1599 586.5h3M1616 586.5h3M1312 589.4h3M1321 589.4h6M1356 589.4h6M1373 589.4h3M1561 589.4h3M1588 589.4h3M1628 589.4h3M1637 589.4h3M1648 589.4h3M1326 592.2h3M1451 592.2h3M1286 595.2h3M1315 595.2h3M1326 595.2h3M1338 595.2h3M1376 595.2h3M1440 595.2h3M1454 595.2h3M1544 595.2h3M1550 595.2h3M1608 595.2h3M1300 598.1h3M1338 598.1h3M1393 598.1h3M1402 598.1h3M1495 598.1h3M1544 598.1h3M1593 598.1h3M1283 601.0h3M1370 601.0h3M1405 601.0h3M1599 601.0h3M1631 601.0h3M1660 601.0h3M1295 603.9h3M1341 603.9h3M1474 603.9h3M1512 603.9h3M1558 603.9h3M1599 603.9h3M1648 603.9h3M1306 606.8h3M1361 606.8h3M1384 606.8h3M1442 606.8h3M1538 606.8h3M1567 606.8h3M1312 609.7h3M1344 609.7h3M1463 609.7h3M1489 609.7h3M1553 609.7h3M1558 609.7h3M1602 609.7h3M1648 609.7h3M1660 609.7h3M1295 612.6h3M1300 612.6h3M1338 612.6h6M1440 612.6h6M1472 612.6h3M1495 612.6h3M1654 612.6h3M1318 615.5h3M1353 615.5h3M1411 615.5h6M1419 615.5h3M1486 615.5h3M1588 615.5h3M1605 615.5h3M1370 618.4h6M1393 618.4h3M1405 618.4h3M1500 618.4h3M1512 618.4h3M1619 618.4h3M1625 618.4h3M1338 621.2h3M1350 621.2h3M1361 621.2h3M1382 621.2h3M1390 621.2h3M1489 621.2h6M1544 621.2h3M1599 621.2h3M1611 621.2h6M1619 621.2h3M1651 621.2h3M1332 624.2h3M1451 624.2h3M1544 624.2h3M1657 624.2h3M1289 627.1h3M1315 627.1h3M1361 627.1h3M1408 627.1h3M1495 627.1h3M1512 627.1h3M1602 627.1h3M1376 630.0h3M1556 630.0h3M1616 630.0h3M1332 632.9h3M1350 632.9h3M1356 632.9h3M1445 632.9h3M1492 632.9h3M1541 632.9h6M1550 632.9h3M1564 632.9h3M1593 632.9h3M1312 635.8h3M1442 635.8h3M1567 635.8h3M1616 635.8h3M1289 638.7h3M1318 638.7h3M1445 638.7h3M1480 638.7h3M1524 638.7h3M1628 638.7h3M1643 638.7h3M1286 641.6h3M1329 641.6h3M1358 641.6h3M1457 641.6h3M1489 641.6h3M1518 641.6h3M1593 641.6h3M1611 641.6h3M1637 641.6h3M1303 644.5h3M1324 644.5h3M1414 644.5h3M1489 644.5h3M1500 644.5h3M1538 644.5h3M1582 644.5h3M1648 644.5h3M1663 644.5h3M1306 647.4h3M1332 647.4h3M1344 647.4h3M1625 647.4h3M1634 647.4h3M1648 647.4h3M1396 650.2h3M1483 650.2h3M1515 650.2h3M1532 650.2h3M1614 650.2h3M1619 650.2h3M1387 653.2h3M1463 653.2h3M1506 653.2h3M1527 653.2h3M1561 653.2h3M1570 653.2h3M1300 656.1h3M1306 656.1h3M1338 656.1h6M1393 656.1h3M1414 656.1h3M1442 656.1h3M1492 656.1h3M1570 656.1h3M1590 656.1h3M1637 656.1h3M1315 659.0h3M1500 659.0h3M1547 659.0h3M1605 659.0h3M1408 661.9h3M1489 661.9h3M1582 661.9h3M1588 661.9h3M1651 661.9h3M1295 664.8h3M1309 664.8h3M1315 664.8h3M1387 664.8h3M1416 664.8h3M1451 664.8h3M1503 664.8h3M1521 664.8h3M1356 667.7h3M1402 667.7h3M1416 667.7h3M1500 667.7h3M1532 667.7h3M1402 670.6h3M1445 670.6h3M1469 670.6h3M1498 670.6h3M1573 670.6h3M1283 673.5h3M1292 673.5h6M1364 673.5h3M1648 673.5h3M1657 673.5h3M1338 676.4h3M1364 676.4h3M1431 676.4h3M1498 676.4h3M1553 676.4h3M1306 679.2h3M1364 679.2h3M1382 679.2h3M1451 679.2h3M1527 679.2h3M1553 679.2h3M1602 679.2h3M1654 679.2h3M1347 682.2h3M1358 682.2h3M1515 682.2h3M1631 682.2h3M1643 682.2h3M1651 682.2h3M1318 685.1h3M1338 685.1h3M1367 685.1h3M1382 685.1h3M1411 685.1h3M1457 685.1h3M1486 685.1h3M1576 685.1h3M1596 685.1h3M1608 685.1h3M1619 685.1h3M1628 685.1h3M1419 688.0h3M1448 688.0h3M1457 688.0h3M1521 688.0h3M1585 688.0h3M1640 688.0h3M1384 690.9h3M1390 690.9h3M1477 690.9h3M1486 690.9h3M1553 690.9h3M1561 690.9h6M1631 690.9h3M1640 690.9h3M1298 693.8h3M1356 693.8h3M1364 693.8h3M1414 693.8h3M1440 693.8h3M1472 693.8h3M1486 693.8h3M1492 693.8h3M1582 693.8h3M1596 693.8h3M1605 693.8h3M1329 696.7h3M1358 696.7h3M1364 696.7h3M1384 696.7h6M1402 696.7h3M1422 696.7h3M1466 696.7h3M1483 696.7h3M1503 696.7h3M1530 696.7h3M1547 696.7h3M1590 696.7h3M1640 696.7h3M1390 699.6h3M1437 699.6h3M1582 699.6h3M1651 699.6h3M1660 699.6h6M1292 702.5h3M1466 702.5h3M1515 702.5h3M1532 702.5h3M1585 702.5h3M1663 702.5h3M1353 705.4h3M1486 705.4h3M1518 705.4h3M1527 705.4h3M1538 705.4h3M1547 705.4h3M1637 705.4h3M1646 705.4h3M1654 705.4h3M1469 708.2h3M1503 708.2h3M1556 708.2h3M1298 711.2h3M1361 711.2h3M1373 711.2h3M1382 711.2h3M1390 711.2h6M1405 711.2h3M1425 711.2h3M1483 711.2h3M1521 711.2h3M1538 711.2h3M1547 711.2h3M1634 711.2h3M1440 714.1h3M1457 714.1h3M1500 714.1h3M1593 714.1h3M1634 714.1h3M1318 717.0h3M1393 717.0h3M1411 717.0h3M1585 717.0h3M1646 717.0h3M1309 719.9h3M1324 719.9h3M1393 719.9h3M1419 719.9h3M1512 719.9h3M1556 719.9h3M1646 719.9h3M1338 722.8h3M1376 722.8h3M1486 722.8h3M1509 722.8h3M1324 725.7h3M1335 725.7h3M1396 725.7h3M1411 725.7h3M1445 725.7h3M1506 725.7h6M1532 725.7h3M1553 725.7h3M1585 725.7h3M1602 725.7h6M1300 728.6h3M1483 728.6h3M1515 728.6h3M1564 728.6h3M1660 728.6h3M1303 731.5h3M1376 731.5h3M1390 731.5h3M1521 731.5h3M1399 734.4h3M1500 734.4h3M1564 734.4h3M1657 734.4h3M1321 737.2h3M1326 737.2h3M1384 737.2h3M1483 737.2h3M1509 737.2h3M1599 737.2h3M1628 737.2h3M1637 737.2h3M1329 740.2h3M1376 740.2h3M1437 740.2h6M1474 740.2h6M1646 740.2h3M1367 743.1h3M1379 743.1h3M1384 743.1h3M1431 743.1h3M1527 743.1h3M1541 743.1h3M1573 743.1h3M1605 743.1h3M1283 746.0h3M1376 746.0h3M1384 746.0h3M1396 746.0h3M1640 746.0h3M1657 746.0h3M1289 748.9h3M1295 748.9h3M1521 748.9h3M1570 748.9h3M1582 748.9h3M1292 751.8h3M1324 751.8h3M1350 751.8h3M1402 751.8h3M1445 751.8h3M1495 751.8h6M1530 751.8h3M1556 751.8h3M1570 751.8h3M1593 751.8h3M1608 751.8h3M1634 751.8h3M1332 754.7h3M1341 754.7h3M1411 754.7h3M1524 754.7h6M1544 754.7h3M1648 754.7h3M1341 757.6h3M1367 757.6h3M1402 757.6h3M1428 757.6h3M1448 757.6h3M1532 757.6h3M1596 757.6h3M1640 757.6h3M1657 757.6h3M1300 760.5h3M1332 760.5h3M1367 760.5h3M1527 760.5h3M1558 760.5h3M1300 763.4h3M1324 763.4h3M1332 763.4h3M1463 763.4h3M1498 763.4h3M1524 763.4h3M1599 763.4h3M1637 763.4h3M1643 763.4h3M1654 763.4h3M1518 766.2h3M1532 766.2h3M1286 769.2h3M1318 769.2h3M1335 769.2h3M1457 769.2h3M1474 769.2h3M1495 769.2h3M1550 769.2h6M1576 769.2h6M1295 772.1h3M1309 772.1h3M1329 772.1h3M1384 772.1h6M1411 772.1h3M1469 772.1h3M1326 775.0h3M1396 775.0h3M1466 775.0h3M1564 775.0h3M1570 775.0h3M1321 777.9h3M1492 777.9h3M1640 777.9h3M1353 780.8h3M1361 780.8h3M1419 780.8h3M1503 780.8h3M1512 780.8h3M1518 780.8h3M1579 780.8h3M1593 780.8h3M1614 780.8h3M1628 780.8h3M1321 783.7h3M1332 783.7h3M1361 783.7h3M1390 783.7h9M1402 783.7h3M1451 783.7h3M1480 783.7h3M1509 783.7h3M1524 783.7h3M1530 783.7h3M1547 783.7h3M1608 783.7h3M1663 783.7h3M1414 786.5h3M1463 786.5h3M1480 786.5h3M1500 786.5h3M1541 786.5h6M1573 786.5h3M1599 786.5h3M1405 789.5h3M1454 789.5h3M1489 789.5h3M1579 789.5h3M1663 789.5h3M1289 792.4h3M1318 792.4h3M1547 792.4h3M1283 795.2h3M1324 795.2h6M1344 795.2h3M1379 795.2h3M1422 795.2h3M1463 795.2h3M1321 798.2h3M1390 798.2h3M1402 798.2h3M1492 798.2h3M1576 798.2h3M1657 798.2h3M1663 798.2h3M1295 801.0h3M1428 801.0h3M1442 801.0h3M1506 801.0h3M1309 804.0h3M1338 804.0h3M1353 804.0h3M1367 804.0h3M1440 804.0h3M1500 804.0h3M1564 804.0h3M1393 806.9h3M1448 806.9h3M1530 806.9h3M1556 806.9h3M1588 806.9h3M1596 806.9h3M1657 806.9h3M1306 809.8h3M1326 809.8h3M1515 809.8h3M1558 809.8h6M1576 809.8h3M1422 812.7h3M1495 812.7h3M1570 812.7h3M1634 812.7h3M1295 815.5h3M1300 815.5h3M1338 815.5h3M1422 815.5h3M1506 815.5h3M1628 815.5h3M1634 815.5h3M1361 818.5h3M1428 818.5h3M1564 818.5h3M1593 818.5h3M1616 818.5h3M1654 818.5h6M1344 821.4h3M1402 821.4h3M1489 821.4h3M1500 821.4h3M1561 821.4h6M1608 821.4h3M1660 821.4h3M1295 824.2h3M1300 824.2h3M1396 824.2h3M1405 824.2h6M1544 824.2h3M1573 824.2h3M1303 827.2h3M1318 827.2h3M1370 827.2h3M1419 827.2h3M1509 827.2h3M1556 827.2h3M1622 827.2h3M1309 830.0h3M1318 830.0h3M1350 830.0h3M1358 830.0h3M1370 830.0h3M1387 830.0h3M1535 830.0h3M1332 833.0h3M1428 833.0h3M1451 833.0h3M1483 833.0h3M1506 833.0h3M1541 833.0h6M1599 833.0h3M1616 833.0h3M1622 833.0h3M1634 833.0h3M1640 833.0h3M1300 835.9h3M1315 835.9h3M1358 835.9h3M1518 835.9h3M1637 835.9h3M1353 838.8h3M1419 838.8h3M1474 838.8h3M1518 838.8h3M1648 838.8h3M1318 841.7h6M1373 841.7h3M1416 841.7h6M1437 841.7h3M1498 841.7h3M1579 841.7h3M1335 844.5h3M1498 844.5h3M1524 844.5h3M1532 844.5h3M1588 844.5h3M1596 844.5h3M1637 844.5h3M1651 844.5h3M1663 844.5h3M1300 847.5h3M1408 847.5h3M1567 847.5h3M1646 847.5h3M1663 847.5h3M1329 850.4h3M1393 850.4h3M1402 850.4h3M1460 850.4h3M1503 850.4h3M1521 850.4h3M1550 850.4h3M1573 850.4h3M1608 850.4h3M1625 850.4h6M1660 850.4h3M1318 853.2h3M1329 853.2h3M1373 853.2h3M1399 853.2h3M1622 853.2h3M1657 853.2h3M1358 856.2h3M1405 856.2h3M1411 856.2h9M1480 856.2h3M1541 856.2h3M1556 856.2h3M1602 856.2h3M1640 856.2h3M1298 859.0h3M1373 859.0h3M1431 859.0h6M1509 859.0h3" stroke="#3c3c3c" stroke-width="2.9" fill="none"/><path d="M1283 528.5h6M1324 528.5h3M1382 528.5h3M1393 528.5h3M1437 528.5h3M1469 528.5h3M1495 528.5h3M1535 528.5h6M1544 528.5h3M1561 528.5h3M1585 528.5h9M1619 528.5h6M1660 528.5h3M1300 531.4h3M1318 531.4h3M1326 531.4h12M1350 531.4h3M1358 531.4h6M1382 531.4h9M1399 531.4h3M1408 531.4h3M1416 531.4h3M1437 531.4h3M1448 531.4h3M1454 531.4h14M1474 531.4h3M1515 531.4h3M1521 531.4h6M1561 531.4h3M1570 531.4h3M1576 531.4h3M1582 531.4h3M1590 531.4h3M1625 531.4h9M1283 534.2h3M1306 534.2h3M1347 534.2h3M1353 534.2h6M1367 534.2h6M1382 534.2h3M1390 534.2h3M1408 534.2h3M1416 534.2h3M1425 534.2h3M1434 534.2h3M1460 534.2h3M1474 534.2h3M1480 534.2h3M1506 534.2h3M1532 534.2h3M1579 534.2h6M1590 534.2h3M1596 534.2h3M1625 534.2h3M1663 534.2h3M1303 537.2h6M1373 537.2h3M1379 537.2h3M1384 537.2h6M1396 537.2h3M1428 537.2h3M1489 537.2h3M1538 537.2h3M1547 537.2h3M1556 537.2h3M1564 537.2h3M1588 537.2h6M1648 537.2h3M1300 540.1h3M1306 540.1h3M1344 540.1h3M1358 540.1h3M1387 540.1h3M1396 540.1h3M1402 540.1h3M1408 540.1h3M1416 540.1h3M1425 540.1h3M1460 540.1h3M1486 540.1h3M1500 540.1h3M1518 540.1h3M1538 540.1h3M1564 540.1h3M1596 540.1h3M1622 540.1h3M1634 540.1h3M1657 540.1h6M1283 543.0h6M1295 543.0h3M1318 543.0h3M1338 543.0h3M1347 543.0h3M1356 543.0h3M1370 543.0h6M1379 543.0h3M1396 543.0h3M1414 543.0h3M1445 543.0h3M1466 543.0h3M1472 543.0h3M1486 543.0h6M1518 543.0h6M1550 543.0h3M1561 543.0h6M1570 543.0h3M1585 543.0h3M1590 543.0h3M1605 543.0h3M1640 543.0h3M1646 543.0h3M1283 545.9h3M1292 545.9h3M1300 545.9h3M1312 545.9h3M1341 545.9h3M1358 545.9h3M1367 545.9h3M1379 545.9h3M1431 545.9h3M1440 545.9h3M1457 545.9h3M1480 545.9h3M1486 545.9h3M1495 545.9h3M1556 545.9h3M1582 545.9h3M1625 545.9h3M1651 545.9h6M1663 545.9h3M1300 548.8h3M1312 548.8h3M1318 548.8h6M1347 548.8h3M1353 548.8h3M1367 548.8h3M1382 548.8h3M1387 548.8h3M1411 548.8h3M1448 548.8h3M1454 548.8h6M1472 548.8h3M1489 548.8h3M1500 548.8h3M1518 548.8h3M1544 548.8h3M1553 548.8h3M1570 548.8h3M1582 548.8h3M1614 548.8h3M1634 548.8h3M1640 548.8h3M1648 548.8h3M1663 548.8h3M1306 551.7h6M1321 551.7h3M1332 551.7h3M1341 551.7h3M1350 551.7h3M1367 551.7h3M1405 551.7h3M1419 551.7h3M1454 551.7h3M1469 551.7h3M1483 551.7h3M1503 551.7h3M1524 551.7h3M1535 551.7h3M1556 551.7h6M1599 551.7h3M1619 551.7h3M1631 551.7h6M1651 551.7h3M1663 551.7h3M1286 554.6h3M1292 554.6h3M1318 554.6h3M1344 554.6h3M1361 554.6h3M1367 554.6h6M1379 554.6h12M1416 554.6h3M1425 554.6h3M1440 554.6h12M1454 554.6h3M1515 554.6h3M1541 554.6h3M1553 554.6h9M1564 554.6h3M1582 554.6h3M1593 554.6h3M1628 554.6h3M1634 554.6h3M1657 554.6h3M1663 554.6h3M1295 557.5h3M1332 557.5h6M1344 557.5h3M1358 557.5h3M1370 557.5h3M1431 557.5h3M1466 557.5h3M1477 557.5h6M1486 557.5h3M1509 557.5h6M1564 557.5h3M1570 557.5h9M1596 557.5h3M1605 557.5h6M1625 557.5h3M1648 557.5h3M1654 557.5h3M1289 560.4h3M1303 560.4h3M1379 560.4h3M1384 560.4h3M1402 560.4h3M1414 560.4h3M1428 560.4h3M1466 560.4h3M1480 560.4h6M1489 560.4h3M1518 560.4h3M1541 560.4h3M1550 560.4h6M1561 560.4h3M1590 560.4h6M1602 560.4h3M1614 560.4h3M1631 560.4h3M1654 560.4h3M1306 563.2h9M1329 563.2h3M1341 563.2h3M1347 563.2h6M1361 563.2h3M1382 563.2h3M1399 563.2h3M1425 563.2h3M1440 563.2h6M1469 563.2h3M1474 563.2h3M1480 563.2h6M1492 563.2h3M1500 563.2h3M1541 563.2h6M1590 563.2h3M1611 563.2h3M1295 566.2h3M1300 566.2h3M1335 566.2h3M1344 566.2h3M1367 566.2h3M1384 566.2h3M1396 566.2h3M1425 566.2h3M1448 566.2h3M1466 566.2h3M1483 566.2h3M1498 566.2h3M1521 566.2h3M1561 566.2h6M1570 566.2h3M1611 566.2h3M1637 566.2h3M1646 566.2h3M1660 566.2h6M1286 569.1h3M1303 569.1h3M1324 569.1h3M1341 569.1h3M1353 569.1h6M1373 569.1h3M1387 569.1h3M1405 569.1h3M1422 569.1h3M1428 569.1h3M1437 569.1h3M1451 569.1h3M1477 569.1h3M1483 569.1h3M1500 569.1h3M1512 569.1h3M1524 569.1h3M1541 569.1h6M1550 569.1h6M1564 569.1h3M1573 569.1h3M1582 569.1h3M1588 569.1h6M1599 569.1h3M1622 569.1h3M1634 569.1h3M1309 572.0h3M1321 572.0h3M1367 572.0h6M1379 572.0h9M1408 572.0h3M1414 572.0h3M1425 572.0h6M1434 572.0h3M1460 572.0h6M1480 572.0h3M1503 572.0h3M1509 572.0h3M1541 572.0h3M1561 572.0h3M1570 572.0h3M1605 572.0h3M1611 572.0h3M1625 572.0h3M1640 572.0h3M1646 572.0h3M1657 572.0h3M1283 574.9h3M1321 574.9h3M1356 574.9h3M1361 574.9h3M1367 574.9h6M1411 574.9h3M1440 574.9h3M1448 574.9h6M1463 574.9h3M1477 574.9h3M1486 574.9h6M1498 574.9h3M1509 574.9h3M1558 574.9h3M1576 574.9h3M1588 574.9h3M1628 574.9h6M1663 574.9h3M1298 577.8h6M1306 577.8h3M1324 577.8h3M1329 577.8h3M1347 577.8h3M1356 577.8h3M1367 577.8h3M1387 577.8h3M1399 577.8h3M1419 577.8h6M1428 577.8h3M1434 577.8h3M1466 577.8h3M1500 577.8h3M1512 577.8h3M1518 577.8h3M1524 577.8h3M1567 577.8h3M1573 577.8h3M1579 577.8h3M1605 577.8h3M1640 577.8h3M1298 580.7h3M1315 580.7h3M1326 580.7h3M1332 580.7h3M1358 580.7h3M1364 580.7h6M1379 580.7h3M1384 580.7h3M1425 580.7h3M1434 580.7h6M1442 580.7h3M1469 580.7h3M1477 580.7h6M1506 580.7h3M1512 580.7h3M1524 580.7h3M1530 580.7h3M1538 580.7h3M1544 580.7h3M1585 580.7h3M1631 580.7h3M1643 580.7h3M1648 580.7h3M1312 583.6h3M1318 583.6h3M1324 583.6h3M1338 583.6h3M1344 583.6h3M1353 583.6h3M1411 583.6h6M1422 583.6h3M1454 583.6h3M1466 583.6h6M1483 583.6h3M1495 583.6h3M1503 583.6h3M1532 583.6h3M1547 583.6h3M1556 583.6h6M1567 583.6h3M1582 583.6h6M1593 583.6h3M1605 583.6h3M1616 583.6h3M1654 583.6h3M1300 586.5h3M1344 586.5h3M1361 586.5h3M1373 586.5h6M1387 586.5h6M1402 586.5h3M1495 586.5h3M1527 586.5h3M1538 586.5h3M1590 586.5h3M1602 586.5h3M1614 586.5h3M1622 586.5h9M1660 586.5h6M1315 589.4h3M1341 589.4h6M1370 589.4h3M1376 589.4h3M1399 589.4h3M1489 589.4h3M1506 589.4h6M1515 589.4h3M1521 589.4h3M1527 589.4h3M1576 589.4h3M1611 589.4h3M1616 589.4h3M1634 589.4h3M1657 589.4h3M1289 592.2h3M1295 592.2h6M1312 592.2h3M1347 592.2h3M1356 592.2h3M1367 592.2h3M1393 592.2h3M1402 592.2h3M1408 592.2h6M1483 592.2h3M1500 592.2h3M1515 592.2h6M1532 592.2h3M1550 592.2h3M1561 592.2h3M1576 592.2h3M1605 592.2h3M1625 592.2h3M1643 592.2h3M1651 592.2h3M1335 595.2h3M1350 595.2h3M1367 595.2h3M1379 595.2h3M1405 595.2h6M1419 595.2h6M1437 595.2h3M1445 595.2h3M1463 595.2h3M1483 595.2h6M1492 595.2h3M1498 595.2h3M1515 595.2h3M1521 595.2h6M1553 595.2h3M1561 595.2h3M1570 595.2h3M1593 595.2h3M1646 595.2h6M1295 598.1h3M1326 598.1h3M1335 598.1h3M1350 598.1h3M1387 598.1h3M1408 598.1h3M1434 598.1h3M1460 598.1h3M1477 598.1h3M1483 598.1h3M1498 598.1h3M1518 598.1h6M1538 598.1h3M1553 598.1h3M1599 598.1h3M1625 598.1h3M1648 598.1h6M1660 598.1h6M1289 601.0h3M1318 601.0h3M1332 601.0h3M1353 601.0h3M1414 601.0h3M1434 601.0h3M1460 601.0h3M1506 601.0h3M1521 601.0h6M1550 601.0h6M1570 601.0h3M1596 601.0h3M1619 601.0h3M1643 601.0h3M1657 601.0h3M1663 601.0h3M1283 603.9h6M1292 603.9h3M1315 603.9h3M1321 603.9h3M1384 603.9h3M1396 603.9h6M1422 603.9h3M1431 603.9h3M1445 603.9h6M1466 603.9h3M1492 603.9h3M1503 603.9h3M1521 603.9h3M1532 603.9h3M1544 603.9h3M1561 603.9h3M1576 603.9h3M1602 603.9h3M1614 603.9h6M1660 603.9h6M1292 606.8h3M1312 606.8h3M1324 606.8h3M1338 606.8h3M1387 606.8h3M1396 606.8h3M1414 606.8h3M1434 606.8h3M1448 606.8h3M1506 606.8h3M1521 606.8h3M1527 606.8h3M1532 606.8h3M1550 606.8h3M1556 606.8h3M1579 606.8h3M1588 606.8h3M1611 606.8h3M1616 606.8h3M1622 606.8h3M1631 606.8h3M1654 606.8h3M1300 609.7h3M1347 609.7h3M1361 609.7h3M1373 609.7h3M1387 609.7h3M1405 609.7h3M1419 609.7h3M1437 609.7h3M1445 609.7h3M1509 609.7h3M1524 609.7h6M1541 609.7h3M1547 609.7h3M1588 609.7h3M1599 609.7h3M1605 609.7h6M1625 609.7h3M1654 609.7h3M1298 612.6h3M1326 612.6h3M1347 612.6h3M1387 612.6h3M1396 612.6h3M1405 612.6h6M1419 612.6h3M1425 612.6h3M1437 612.6h3M1454 612.6h3M1466 612.6h3M1477 612.6h3M1500 612.6h6M1512 612.6h6M1524 612.6h6M1553 612.6h3M1570 612.6h3M1576 612.6h9M1593 612.6h3M1608 612.6h12M1628 612.6h3M1646 612.6h3M1657 612.6h3M1295 615.5h3M1324 615.5h6M1341 615.5h3M1370 615.5h3M1399 615.5h3M1466 615.5h3M1474 615.5h3M1483 615.5h3M1527 615.5h3M1535 615.5h3M1550 615.5h3M1579 615.5h3M1593 615.5h3M1616 615.5h3M1628 615.5h3M1640 615.5h3M1651 615.5h3M1286 618.4h3M1298 618.4h6M1312 618.4h3M1318 618.4h3M1324 618.4h3M1350 618.4h3M1367 618.4h3M1396 618.4h3M1408 618.4h3M1463 618.4h3M1524 618.4h3M1538 618.4h3M1579 618.4h6M1602 618.4h6M1634 618.4h6M1286 621.2h6M1315 621.2h9M1332 621.2h3M1384 621.2h6M1457 621.2h6M1474 621.2h3M1480 621.2h3M1486 621.2h3M1495 621.2h6M1509 621.2h3M1527 621.2h3M1538 621.2h3M1585 621.2h3M1622 621.2h3M1634 621.2h3M1654 621.2h3M1283 624.2h3M1306 624.2h3M1347 624.2h9M1382 624.2h3M1405 624.2h6M1416 624.2h6M1425 624.2h3M1437 624.2h3M1442 624.2h3M1448 624.2h3M1460 624.2h3M1466 624.2h6M1489 624.2h6M1498 624.2h3M1515 624.2h3M1538 624.2h3M1556 624.2h3M1561 624.2h3M1596 624.2h6M1608 624.2h9M1634 624.2h6M1648 624.2h3M1660 624.2h6M1326 627.1h9M1341 627.1h3M1358 627.1h3M1387 627.1h3M1396 627.1h3M1411 627.1h3M1416 627.1h3M1422 627.1h6M1451 627.1h3M1466 627.1h3M1477 627.1h3M1498 627.1h6M1509 627.1h3M1541 627.1h3M1558 627.1h3M1564 627.1h3M1579 627.1h6M1622 627.1h6M1637 627.1h3M1286 630.0h3M1303 630.0h3M1309 630.0h3M1338 630.0h3M1347 630.0h6M1364 630.0h3M1382 630.0h3M1408 630.0h6M1416 630.0h3M1445 630.0h3M1451 630.0h3M1457 630.0h3M1463 630.0h3M1541 630.0h3M1567 630.0h3M1588 630.0h3M1643 630.0h6M1651 630.0h3M1657 630.0h3M1292 632.9h3M1298 632.9h3M1312 632.9h3M1335 632.9h3M1370 632.9h3M1376 632.9h6M1384 632.9h3M1393 632.9h9M1408 632.9h6M1428 632.9h3M1454 632.9h3M1498 632.9h3M1512 632.9h9M1547 632.9h3M1590 632.9h3M1602 632.9h3M1622 632.9h3M1643 632.9h3M1648 632.9h3M1660 632.9h3M1292 635.8h3M1306 635.8h6M1318 635.8h3M1326 635.8h6M1344 635.8h3M1387 635.8h6M1402 635.8h3M1408 635.8h3M1414 635.8h6M1451 635.8h3M1457 635.8h6M1480 635.8h12M1527 635.8h3M1532 635.8h6M1544 635.8h3M1585 635.8h3M1596 635.8h3M1602 635.8h6M1622 635.8h3M1648 635.8h6M1292 638.7h3M1309 638.7h6M1329 638.7h3M1341 638.7h3M1350 638.7h6M1367 638.7h3M1379 638.7h3M1384 638.7h3M1419 638.7h3M1431 638.7h12M1457 638.7h6M1477 638.7h3M1486 638.7h3M1495 638.7h3M1503 638.7h6M1515 638.7h3M1544 638.7h6M1561 638.7h3M1637 638.7h3M1651 638.7h3M1295 641.6h3M1350 641.6h3M1356 641.6h3M1364 641.6h3M1382 641.6h3M1396 641.6h3M1402 641.6h3M1411 641.6h9M1469 641.6h3M1483 641.6h3M1492 641.6h6M1503 641.6h6M1512 641.6h3M1550 641.6h3M1567 641.6h3M1579 641.6h3M1596 641.6h3M1631 641.6h3M1640 641.6h3M1292 644.5h3M1312 644.5h3M1335 644.5h3M1344 644.5h3M1364 644.5h3M1387 644.5h3M1393 644.5h3M1411 644.5h3M1437 644.5h3M1448 644.5h3M1495 644.5h6M1506 644.5h3M1515 644.5h3M1527 644.5h3M1532 644.5h6M1550 644.5h6M1558 644.5h3M1564 644.5h3M1573 644.5h3M1579 644.5h3M1608 644.5h3M1622 644.5h3M1646 644.5h3M1657 644.5h3M1329 647.4h3M1338 647.4h3M1361 647.4h3M1367 647.4h6M1384 647.4h3M1411 647.4h3M1442 647.4h3M1448 647.4h3M1457 647.4h6M1466 647.4h6M1495 647.4h3M1503 647.4h3M1515 647.4h3M1521 647.4h3M1535 647.4h6M1547 647.4h3M1556 647.4h3M1567 647.4h3M1602 647.4h3M1608 647.4h9M1619 647.4h3M1643 647.4h6M1283 650.2h3M1298 650.2h3M1324 650.2h3M1332 650.2h3M1338 650.2h3M1367 650.2h3M1379 650.2h3M1408 650.2h3M1434 650.2h3M1445 650.2h6M1454 650.2h3M1460 650.2h3M1469 650.2h3M1477 650.2h3M1512 650.2h3M1521 650.2h3M1530 650.2h3M1544 650.2h3M1582 650.2h3M1590 650.2h3M1622 650.2h3M1648 650.2h3M1663 650.2h3M1283 653.2h3M1289 653.2h6M1321 653.2h3M1332 653.2h3M1356 653.2h3M1364 653.2h3M1384 653.2h3M1399 653.2h9M1419 653.2h3M1440 653.2h6M1469 653.2h3M1483 653.2h3M1492 653.2h3M1512 653.2h3M1524 653.2h3M1544 653.2h3M1558 653.2h3M1567 653.2h3M1590 653.2h3M1602 653.2h3M1622 653.2h3M1631 653.2h3M1648 653.2h6M1298 656.1h3M1315 656.1h3M1335 656.1h3M1344 656.1h3M1350 656.1h3M1367 656.1h3M1379 656.1h3M1405 656.1h3M1416 656.1h3M1448 656.1h3M1489 656.1h3M1509 656.1h6M1518 656.1h9M1530 656.1h3M1541 656.1h3M1588 656.1h3M1599 656.1h3M1605 656.1h3M1628 656.1h3M1321 659.0h3M1353 659.0h3M1382 659.0h3M1408 659.0h3M1416 659.0h3M1434 659.0h3M1460 659.0h3M1480 659.0h3M1486 659.0h6M1518 659.0h3M1570 659.0h3M1582 659.0h3M1602 659.0h3M1625 659.0h3M1643 659.0h3M1283 661.9h3M1300 661.9h3M1306 661.9h3M1347 661.9h3M1358 661.9h6M1367 661.9h3M1382 661.9h3M1402 661.9h6M1411 661.9h3M1416 661.9h3M1422 661.9h3M1451 661.9h6M1466 661.9h3M1472 661.9h3M1483 661.9h3M1538 661.9h3M1564 661.9h3M1570 661.9h3M1576 661.9h3M1602 661.9h6M1622 661.9h3M1648 661.9h3M1289 664.8h3M1303 664.8h3M1318 664.8h3M1326 664.8h3M1353 664.8h3M1399 664.8h3M1422 664.8h9M1434 664.8h6M1466 664.8h3M1472 664.8h3M1498 664.8h6M1524 664.8h3M1530 664.8h3M1541 664.8h3M1550 664.8h3M1558 664.8h3M1564 664.8h3M1570 664.8h3M1590 664.8h6M1625 664.8h3M1631 664.8h3M1651 664.8h3M1660 664.8h3M1298 667.7h3M1318 667.7h3M1335 667.7h3M1341 667.7h3M1361 667.7h3M1393 667.7h3M1411 667.7h3M1422 667.7h3M1431 667.7h3M1440 667.7h3M1448 667.7h3M1492 667.7h3M1506 667.7h3M1515 667.7h3M1538 667.7h3M1588 667.7h3M1605 667.7h3M1614 667.7h3M1622 667.7h3M1654 667.7h3M1303 670.6h3M1321 670.6h3M1361 670.6h3M1373 670.6h6M1411 670.6h3M1419 670.6h6M1431 670.6h3M1448 670.6h3M1460 670.6h3M1466 670.6h3M1492 670.6h3M1509 670.6h3M1527 670.6h3M1553 670.6h6M1576 670.6h3M1588 670.6h3M1593 670.6h3M1619 670.6h6M1634 670.6h6M1298 673.5h3M1338 673.5h3M1390 673.5h3M1396 673.5h6M1437 673.5h3M1448 673.5h6M1472 673.5h3M1509 673.5h3M1515 673.5h3M1521 673.5h3M1541 673.5h3M1550 673.5h3M1556 673.5h6M1573 673.5h3M1616 673.5h12M1286 676.4h3M1295 676.4h3M1332 676.4h3M1341 676.4h9M1356 676.4h6M1367 676.4h3M1402 676.4h3M1411 676.4h3M1416 676.4h3M1437 676.4h3M1451 676.4h3M1457 676.4h3M1466 676.4h3M1503 676.4h6M1579 676.4h3M1608 676.4h3M1625 676.4h6M1292 679.2h3M1332 679.2h3M1341 679.2h3M1384 679.2h3M1393 679.2h3M1431 679.2h3M1469 679.2h3M1486 679.2h3M1492 679.2h6M1521 679.2h3M1556 679.2h6M1570 679.2h3M1582 679.2h3M1590 679.2h3M1599 679.2h3M1640 679.2h12M1300 682.2h3M1312 682.2h3M1364 682.2h3M1402 682.2h3M1414 682.2h6M1437 682.2h3M1451 682.2h3M1463 682.2h3M1483 682.2h3M1489 682.2h9M1506 682.2h3M1512 682.2h3M1527 682.2h3M1570 682.2h3M1579 682.2h3M1590 682.2h3M1596 682.2h3M1608 682.2h6M1634 682.2h3M1289 685.1h3M1332 685.1h6M1370 685.1h3M1379 685.1h3M1390 685.1h3M1396 685.1h6M1405 685.1h3M1440 685.1h6M1472 685.1h3M1483 685.1h3M1495 685.1h3M1512 685.1h3M1527 685.1h3M1541 685.1h6M1579 685.1h3M1593 685.1h3M1602 685.1h3M1625 685.1h3M1634 685.1h3M1646 685.1h3M1660 685.1h3M1300 688.0h6M1309 688.0h3M1318 688.0h3M1329 688.0h3M1350 688.0h3M1367 688.0h3M1384 688.0h3M1399 688.0h6M1414 688.0h3M1422 688.0h3M1428 688.0h6M1440 688.0h3M1480 688.0h3M1509 688.0h3M1532 688.0h3M1553 688.0h3M1564 688.0h12M1596 688.0h3M1605 688.0h3M1611 688.0h3M1625 688.0h3M1631 688.0h3M1295 690.9h3M1318 690.9h3M1335 690.9h3M1356 690.9h3M1367 690.9h3M1393 690.9h6M1405 690.9h3M1411 690.9h6M1428 690.9h6M1442 690.9h3M1489 690.9h3M1503 690.9h3M1558 690.9h3M1588 690.9h3M1599 690.9h3M1611 690.9h3M1634 690.9h3M1651 690.9h3M1660 690.9h3M1286 693.8h3M1312 693.8h6M1321 693.8h6M1347 693.8h3M1353 693.8h3M1358 693.8h3M1367 693.8h3M1431 693.8h3M1451 693.8h3M1460 693.8h3M1474 693.8h3M1509 693.8h3M1518 693.8h3M1535 693.8h3M1602 693.8h3M1625 693.8h6M1640 693.8h3M1663 693.8h3M1283 696.7h3M1289 696.7h3M1309 696.7h3M1324 696.7h3M1332 696.7h3M1338 696.7h6M1367 696.7h3M1390 696.7h3M1399 696.7h3M1428 696.7h6M1460 696.7h3M1524 696.7h3M1532 696.7h3M1553 696.7h3M1564 696.7h3M1573 696.7h3M1582 696.7h3M1602 696.7h3M1611 696.7h3M1628 696.7h3M1286 699.6h3M1312 699.6h3M1329 699.6h3M1335 699.6h3M1411 699.6h3M1428 699.6h3M1457 699.6h3M1463 699.6h3M1472 699.6h3M1506 699.6h3M1556 699.6h3M1564 699.6h3M1614 699.6h3M1622 699.6h3M1654 699.6h3M1289 702.5h3M1324 702.5h3M1373 702.5h3M1396 702.5h3M1408 702.5h6M1469 702.5h3M1483 702.5h3M1495 702.5h3M1506 702.5h3M1535 702.5h3M1556 702.5h3M1628 702.5h3M1286 705.4h3M1306 705.4h3M1312 705.4h3M1326 705.4h3M1373 705.4h6M1402 705.4h3M1434 705.4h6M1448 705.4h3M1466 705.4h3M1477 705.4h3M1483 705.4h3M1503 705.4h3M1541 705.4h3M1550 705.4h6M1573 705.4h3M1585 705.4h6M1634 705.4h3M1283 708.2h3M1300 708.2h6M1315 708.2h3M1332 708.2h3M1341 708.2h6M1353 708.2h3M1358 708.2h3M1387 708.2h3M1399 708.2h3M1425 708.2h6M1437 708.2h3M1451 708.2h3M1457 708.2h3M1486 708.2h3M1495 708.2h3M1512 708.2h3M1524 708.2h3M1558 708.2h3M1602 708.2h3M1283 711.2h3M1321 711.2h6M1329 711.2h3M1335 711.2h3M1367 711.2h3M1411 711.2h3M1448 711.2h3M1477 711.2h6M1489 711.2h3M1498 711.2h3M1506 711.2h6M1524 711.2h3M1530 711.2h3M1550 711.2h3M1588 711.2h3M1611 711.2h3M1643 711.2h3M1648 711.2h3M1286 714.1h3M1298 714.1h3M1306 714.1h3M1324 714.1h3M1344 714.1h3M1373 714.1h3M1405 714.1h3M1419 714.1h3M1434 714.1h6M1442 714.1h9M1460 714.1h6M1472 714.1h6M1492 714.1h3M1532 714.1h3M1596 714.1h3M1602 714.1h6M1616 714.1h3M1622 714.1h3M1643 714.1h3M1651 714.1h3M1286 717.0h6M1298 717.0h3M1309 717.0h3M1338 717.0h3M1344 717.0h6M1376 717.0h3M1384 717.0h6M1431 717.0h3M1457 717.0h3M1469 717.0h3M1480 717.0h20M1503 717.0h9M1547 717.0h3M1561 717.0h3M1590 717.0h3M1599 717.0h3M1616 717.0h6M1637 717.0h3M1295 719.9h3M1315 719.9h6M1326 719.9h3M1332 719.9h3M1425 719.9h3M1434 719.9h3M1445 719.9h3M1451 719.9h3M1469 719.9h3M1474 719.9h3M1480 719.9h6M1489 719.9h3M1500 719.9h3M1518 719.9h3M1535 719.9h3M1550 719.9h3M1593 719.9h3M1283 722.8h3M1295 722.8h3M1300 722.8h3M1318 722.8h3M1329 722.8h3M1335 722.8h3M1390 722.8h3M1402 722.8h3M1408 722.8h3M1422 722.8h3M1428 722.8h3M1460 722.8h6M1489 722.8h3M1535 722.8h3M1541 722.8h3M1547 722.8h3M1570 722.8h3M1582 722.8h6M1611 722.8h3M1616 722.8h3M1640 722.8h3M1660 722.8h3M1298 725.7h6M1347 725.7h3M1364 725.7h6M1373 725.7h3M1405 725.7h3M1416 725.7h6M1437 725.7h6M1483 725.7h3M1492 725.7h3M1538 725.7h9M1576 725.7h6M1588 725.7h6M1608 725.7h3M1634 725.7h6M1651 725.7h3M1660 725.7h3M1283 728.6h3M1312 728.6h3M1335 728.6h3M1341 728.6h3M1358 728.6h3M1384 728.6h3M1414 728.6h3M1422 728.6h3M1428 728.6h3M1486 728.6h3M1509 728.6h3M1518 728.6h12M1538 728.6h3M1544 728.6h3M1558 728.6h3M1582 728.6h3M1599 728.6h3M1640 728.6h3M1286 731.5h3M1338 731.5h3M1358 731.5h3M1411 731.5h6M1451 731.5h3M1474 731.5h3M1524 731.5h3M1561 731.5h3M1590 731.5h3M1634 731.5h3M1643 731.5h3M1660 731.5h3M1292 734.4h3M1300 734.4h3M1315 734.4h3M1324 734.4h3M1329 734.4h3M1335 734.4h6M1344 734.4h6M1353 734.4h6M1387 734.4h3M1393 734.4h6M1411 734.4h3M1434 734.4h6M1448 734.4h3M1463 734.4h3M1486 734.4h3M1503 734.4h3M1535 734.4h3M1558 734.4h3M1585 734.4h3M1616 734.4h3M1643 734.4h3M1648 734.4h6M1283 737.2h6M1295 737.2h3M1312 737.2h3M1318 737.2h3M1338 737.2h3M1356 737.2h6M1370 737.2h3M1393 737.2h3M1402 737.2h6M1431 737.2h3M1445 737.2h3M1454 737.2h6M1512 737.2h3M1521 737.2h3M1532 737.2h3M1605 737.2h3M1616 737.2h3M1622 737.2h3M1634 737.2h3M1646 737.2h6M1657 737.2h6M1289 740.2h3M1309 740.2h3M1338 740.2h3M1353 740.2h9M1402 740.2h3M1416 740.2h3M1431 740.2h3M1442 740.2h3M1457 740.2h3M1472 740.2h3M1480 740.2h6M1506 740.2h3M1515 740.2h3M1521 740.2h6M1570 740.2h6M1616 740.2h3M1628 740.2h3M1643 740.2h3M1657 740.2h6M1295 743.1h3M1300 743.1h3M1306 743.1h3M1326 743.1h3M1332 743.1h3M1338 743.1h3M1356 743.1h12M1390 743.1h3M1416 743.1h3M1422 743.1h3M1445 743.1h3M1469 743.1h6M1483 743.1h3M1489 743.1h3M1532 743.1h3M1558 743.1h3M1570 743.1h3M1579 743.1h6M1602 743.1h3M1611 743.1h3M1634 743.1h6M1643 743.1h3M1660 743.1h6M1300 746.0h3M1329 746.0h3M1358 746.0h3M1367 746.0h3M1399 746.0h3M1454 746.0h3M1460 746.0h3M1486 746.0h3M1524 746.0h6M1532 746.0h3M1547 746.0h3M1579 746.0h3M1605 746.0h3M1625 746.0h3M1631 746.0h3M1643 746.0h3M1663 746.0h3M1292 748.9h3M1321 748.9h3M1341 748.9h3M1361 748.9h3M1382 748.9h6M1414 748.9h3M1428 748.9h3M1437 748.9h3M1442 748.9h3M1454 748.9h6M1466 748.9h3M1474 748.9h3M1480 748.9h6M1518 748.9h3M1527 748.9h3M1535 748.9h6M1553 748.9h3M1593 748.9h3M1614 748.9h12M1631 748.9h3M1651 748.9h3M1295 751.8h3M1300 751.8h3M1306 751.8h3M1315 751.8h3M1335 751.8h3M1358 751.8h3M1367 751.8h6M1384 751.8h6M1393 751.8h3M1399 751.8h3M1408 751.8h3M1428 751.8h3M1440 751.8h6M1448 751.8h3M1454 751.8h9M1474 751.8h3M1541 751.8h12M1588 751.8h3M1628 751.8h3M1643 751.8h3M1295 754.7h3M1309 754.7h3M1315 754.7h3M1324 754.7h3M1338 754.7h3M1350 754.7h3M1399 754.7h3M1416 754.7h6M1425 754.7h3M1440 754.7h6M1448 754.7h3M1469 754.7h3M1512 754.7h3M1532 754.7h6M1547 754.7h3M1558 754.7h3M1564 754.7h3M1576 754.7h6M1614 754.7h6M1309 757.6h3M1332 757.6h3M1376 757.6h3M1382 757.6h3M1414 757.6h3M1463 757.6h3M1477 757.6h3M1509 757.6h3M1518 757.6h3M1535 757.6h3M1544 757.6h3M1561 757.6h3M1570 757.6h6M1593 757.6h3M1605 757.6h3M1619 757.6h3M1625 757.6h3M1637 757.6h3M1648 757.6h3M1338 760.5h6M1353 760.5h3M1384 760.5h3M1414 760.5h3M1419 760.5h3M1428 760.5h3M1440 760.5h3M1474 760.5h3M1480 760.5h6M1518 760.5h3M1524 760.5h3M1535 760.5h3M1561 760.5h6M1573 760.5h3M1585 760.5h3M1596 760.5h3M1605 760.5h3M1616 760.5h3M1625 760.5h3M1634 760.5h3M1660 760.5h3M1295 763.4h3M1303 763.4h3M1326 763.4h3M1335 763.4h3M1344 763.4h3M1364 763.4h3M1422 763.4h3M1480 763.4h3M1489 763.4h3M1500 763.4h3M1515 763.4h3M1535 763.4h3M1541 763.4h3M1608 763.4h6M1616 763.4h6M1628 763.4h3M1651 763.4h3M1657 763.4h9M1286 766.2h3M1295 766.2h3M1306 766.2h3M1329 766.2h6M1341 766.2h3M1347 766.2h3M1356 766.2h3M1370 766.2h6M1399 766.2h3M1445 766.2h3M1460 766.2h3M1472 766.2h6M1486 766.2h6M1503 766.2h3M1509 766.2h3M1524 766.2h3M1530 766.2h3M1541 766.2h3M1593 766.2h3M1602 766.2h3M1628 766.2h6M1646 766.2h3M1657 766.2h3M1283 769.2h3M1358 769.2h3M1387 769.2h3M1393 769.2h6M1408 769.2h3M1419 769.2h3M1434 769.2h3M1451 769.2h3M1469 769.2h3M1558 769.2h3M1564 769.2h3M1588 769.2h3M1616 769.2h3M1654 769.2h3M1326 772.1h3M1335 772.1h6M1367 772.1h3M1379 772.1h3M1396 772.1h3M1425 772.1h6M1434 772.1h3M1448 772.1h3M1486 772.1h3M1530 772.1h6M1558 772.1h3M1585 772.1h3M1599 772.1h3M1628 772.1h3M1637 772.1h3M1654 772.1h3M1283 775.0h3M1289 775.0h3M1335 775.0h3M1356 775.0h3M1382 775.0h3M1393 775.0h3M1399 775.0h6M1408 775.0h3M1416 775.0h3M1425 775.0h3M1434 775.0h3M1448 775.0h3M1460 775.0h3M1521 775.0h3M1532 775.0h3M1541 775.0h3M1579 775.0h3M1588 775.0h3M1611 775.0h3M1637 775.0h6M1646 775.0h9M1663 775.0h3M1298 777.9h3M1303 777.9h3M1318 777.9h3M1341 777.9h3M1347 777.9h3M1382 777.9h3M1469 777.9h3M1477 777.9h3M1498 777.9h3M1509 777.9h3M1532 777.9h3M1570 777.9h3M1585 777.9h3M1596 777.9h12M1616 777.9h3M1663 777.9h3M1286 780.8h3M1332 780.8h3M1344 780.8h6M1358 780.8h3M1364 780.8h3M1442 780.8h3M1460 780.8h3M1472 780.8h3M1480 780.8h3M1500 780.8h3M1515 780.8h3M1585 780.8h3M1599 780.8h3M1611 780.8h3M1634 780.8h3M1643 780.8h3M1283 783.7h3M1298 783.7h3M1318 783.7h3M1324 783.7h3M1338 783.7h3M1344 783.7h3M1350 783.7h3M1356 783.7h6M1399 783.7h3M1405 783.7h3M1411 783.7h3M1419 783.7h6M1498 783.7h3M1518 783.7h3M1535 783.7h3M1590 783.7h3M1631 783.7h3M1643 783.7h3M1654 783.7h3M1283 786.5h3M1292 786.5h6M1324 786.5h3M1332 786.5h3M1353 786.5h3M1370 786.5h9M1405 786.5h3M1448 786.5h3M1469 786.5h3M1474 786.5h3M1483 786.5h3M1489 786.5h3M1506 786.5h9M1524 786.5h3M1538 786.5h3M1590 786.5h3M1608 786.5h3M1622 786.5h3M1648 786.5h6M1318 789.5h3M1324 789.5h3M1353 789.5h3M1370 789.5h3M1379 789.5h3M1390 789.5h3M1399 789.5h3M1419 789.5h6M1428 789.5h3M1434 789.5h3M1480 789.5h3M1524 789.5h3M1532 789.5h3M1541 789.5h3M1547 789.5h3M1558 789.5h3M1567 789.5h3M1605 789.5h3M1625 789.5h3M1631 789.5h3M1651 789.5h3M1300 792.4h3M1306 792.4h6M1329 792.4h3M1373 792.4h3M1379 792.4h3M1387 792.4h3M1396 792.4h6M1411 792.4h3M1416 792.4h3M1434 792.4h3M1442 792.4h3M1451 792.4h3M1469 792.4h3M1486 792.4h3M1503 792.4h3M1509 792.4h6M1532 792.4h3M1564 792.4h6M1573 792.4h3M1622 792.4h3M1631 792.4h6M1643 792.4h3M1654 792.4h3M1321 795.2h3M1341 795.2h3M1419 795.2h3M1466 795.2h3M1524 795.2h3M1541 795.2h6M1561 795.2h3M1576 795.2h3M1608 795.2h3M1663 795.2h3M1295 798.2h3M1306 798.2h3M1373 798.2h3M1405 798.2h3M1411 798.2h3M1422 798.2h3M1431 798.2h3M1442 798.2h6M1457 798.2h3M1466 798.2h3M1474 798.2h6M1486 798.2h3M1503 798.2h6M1515 798.2h3M1524 798.2h6M1538 798.2h3M1544 798.2h3M1588 798.2h3M1608 798.2h3M1614 798.2h3M1625 798.2h3M1646 798.2h6M1289 801.0h6M1318 801.0h9M1364 801.0h3M1376 801.0h3M1382 801.0h3M1405 801.0h3M1411 801.0h3M1416 801.0h3M1454 801.0h3M1477 801.0h6M1486 801.0h3M1495 801.0h3M1582 801.0h3M1628 801.0h3M1295 804.0h3M1306 804.0h3M1358 804.0h3M1373 804.0h3M1379 804.0h3M1408 804.0h6M1524 804.0h6M1561 804.0h3M1567 804.0h3M1614 804.0h3M1646 804.0h3M1654 804.0h6M1321 806.9h3M1367 806.9h3M1379 806.9h3M1396 806.9h3M1442 806.9h6M1451 806.9h6M1512 806.9h3M1535 806.9h3M1599 806.9h6M1619 806.9h3M1643 806.9h6M1298 809.8h6M1315 809.8h6M1332 809.8h3M1373 809.8h3M1393 809.8h6M1419 809.8h6M1431 809.8h3M1454 809.8h3M1463 809.8h3M1509 809.8h3M1527 809.8h3M1582 809.8h3M1590 809.8h6M1605 809.8h3M1637 809.8h3M1643 809.8h3M1654 809.8h3M1660 809.8h3M1289 812.7h3M1298 812.7h6M1312 812.7h3M1324 812.7h3M1370 812.7h3M1384 812.7h3M1434 812.7h3M1440 812.7h3M1460 812.7h3M1466 812.7h6M1474 812.7h3M1480 812.7h3M1503 812.7h3M1538 812.7h3M1544 812.7h3M1550 812.7h3M1573 812.7h3M1593 812.7h9M1628 812.7h3M1289 815.5h3M1315 815.5h3M1324 815.5h3M1341 815.5h3M1347 815.5h6M1356 815.5h6M1364 815.5h3M1376 815.5h3M1408 815.5h3M1416 815.5h3M1425 815.5h3M1442 815.5h3M1477 815.5h3M1486 815.5h6M1515 815.5h3M1524 815.5h6M1532 815.5h3M1553 815.5h3M1561 815.5h3M1567 815.5h3M1576 815.5h3M1585 815.5h3M1619 815.5h9M1631 815.5h3M1643 815.5h3M1286 818.5h6M1295 818.5h3M1318 818.5h3M1324 818.5h3M1332 818.5h6M1344 818.5h3M1350 818.5h6M1364 818.5h3M1387 818.5h3M1399 818.5h3M1411 818.5h3M1457 818.5h3M1472 818.5h3M1477 818.5h3M1492 818.5h3M1532 818.5h3M1544 818.5h3M1608 818.5h3M1648 818.5h3M1660 818.5h3M1286 821.4h3M1295 821.4h3M1321 821.4h3M1335 821.4h6M1347 821.4h3M1353 821.4h6M1364 821.4h3M1373 821.4h3M1408 821.4h3M1419 821.4h3M1425 821.4h6M1434 821.4h3M1466 821.4h3M1518 821.4h3M1527 821.4h3M1544 821.4h9M1556 821.4h6M1567 821.4h3M1573 821.4h3M1588 821.4h3M1646 821.4h3M1651 821.4h3M1663 821.4h3M1335 824.2h6M1350 824.2h3M1361 824.2h3M1387 824.2h3M1399 824.2h3M1414 824.2h6M1425 824.2h3M1431 824.2h3M1463 824.2h3M1474 824.2h3M1567 824.2h3M1576 824.2h3M1602 824.2h3M1628 824.2h3M1637 824.2h3M1648 824.2h3M1663 824.2h3M1286 827.2h9M1298 827.2h3M1309 827.2h6M1324 827.2h3M1364 827.2h3M1376 827.2h6M1387 827.2h3M1402 827.2h3M1425 827.2h3M1434 827.2h3M1440 827.2h3M1445 827.2h3M1492 827.2h3M1498 827.2h3M1535 827.2h3M1547 827.2h3M1561 827.2h3M1570 827.2h6M1582 827.2h3M1611 827.2h3M1663 827.2h3M1283 830.0h3M1292 830.0h3M1315 830.0h3M1329 830.0h3M1341 830.0h3M1353 830.0h3M1408 830.0h6M1422 830.0h3M1428 830.0h6M1437 830.0h3M1503 830.0h3M1512 830.0h3M1524 830.0h3M1532 830.0h3M1544 830.0h3M1556 830.0h3M1570 830.0h6M1608 830.0h3M1648 830.0h3M1286 833.0h6M1318 833.0h3M1353 833.0h3M1384 833.0h3M1390 833.0h3M1405 833.0h3M1416 833.0h3M1437 833.0h3M1486 833.0h3M1500 833.0h3M1518 833.0h3M1524 833.0h6M1535 833.0h3M1547 833.0h3M1564 833.0h3M1602 833.0h3M1648 833.0h9M1660 833.0h3M1295 835.9h3M1329 835.9h3M1356 835.9h3M1367 835.9h3M1376 835.9h3M1402 835.9h3M1425 835.9h3M1448 835.9h3M1454 835.9h3M1474 835.9h3M1492 835.9h3M1498 835.9h3M1521 835.9h3M1530 835.9h3M1535 835.9h3M1544 835.9h3M1558 835.9h3M1588 835.9h3M1614 835.9h3M1619 835.9h3M1640 835.9h3M1648 835.9h3M1654 835.9h3M1283 838.8h6M1341 838.8h3M1358 838.8h3M1399 838.8h3M1440 838.8h3M1483 838.8h3M1503 838.8h3M1527 838.8h3M1538 838.8h3M1547 838.8h3M1556 838.8h3M1561 838.8h3M1576 838.8h3M1585 838.8h3M1599 838.8h3M1634 838.8h3M1660 838.8h3M1312 841.7h3M1332 841.7h3M1341 841.7h3M1350 841.7h6M1393 841.7h3M1399 841.7h6M1411 841.7h3M1431 841.7h3M1440 841.7h3M1454 841.7h6M1463 841.7h3M1480 841.7h3M1486 841.7h3M1492 841.7h3M1512 841.7h3M1518 841.7h3M1535 841.7h3M1550 841.7h6M1564 841.7h6M1602 841.7h3M1608 841.7h3M1640 841.7h3M1312 844.5h6M1338 844.5h3M1379 844.5h3M1384 844.5h3M1393 844.5h3M1408 844.5h3M1425 844.5h3M1460 844.5h3M1477 844.5h3M1506 844.5h3M1521 844.5h3M1547 844.5h3M1590 844.5h3M1602 844.5h3M1614 844.5h6M1625 844.5h6M1634 844.5h3M1640 844.5h3M1289 847.5h6M1326 847.5h6M1335 847.5h3M1396 847.5h6M1411 847.5h3M1425 847.5h3M1445 847.5h3M1512 847.5h3M1535 847.5h3M1553 847.5h6M1628 847.5h3M1637 847.5h3M1286 850.4h3M1295 850.4h3M1306 850.4h3M1358 850.4h3M1367 850.4h3M1390 850.4h3M1399 850.4h3M1425 850.4h3M1437 850.4h3M1457 850.4h3M1524 850.4h3M1538 850.4h3M1561 850.4h6M1579 850.4h3M1596 850.4h3M1619 850.4h3M1637 850.4h3M1643 850.4h3M1663 850.4h3M1283 853.2h3M1300 853.2h3M1309 853.2h3M1321 853.2h3M1353 853.2h3M1387 853.2h3M1416 853.2h3M1422 853.2h3M1431 853.2h3M1445 853.2h3M1469 853.2h3M1480 853.2h6M1509 853.2h3M1515 853.2h6M1524 853.2h3M1535 853.2h3M1550 853.2h6M1573 853.2h3M1588 853.2h3M1602 853.2h3M1628 853.2h6M1646 853.2h3M1300 856.2h3M1364 856.2h6M1373 856.2h6M1387 856.2h6M1419 856.2h3M1437 856.2h3M1474 856.2h3M1483 856.2h3M1492 856.2h3M1500 856.2h6M1538 856.2h3M1579 856.2h3M1611 856.2h6M1625 856.2h3M1643 856.2h3M1289 859.0h3M1306 859.0h3M1315 859.0h3M1326 859.0h3M1335 859.0h6M1353 859.0h3M1379 859.0h3M1390 859.0h6M1402 859.0h9M1437 859.0h3M1442 859.0h3M1541 859.0h3M1547 859.0h6M1558 859.0h3M1564 859.0h3M1570 859.0h3M1608 859.0h3M1625 859.0h6M1663 859.0h3" stroke="#555" stroke-width="2.9" fill="none"/><path d="M1295 528.5h3M1309 528.5h3M1315 528.5h6M1326 528.5h3M1332 528.5h6M1341 528.5h6M1350 528.5h9M1361 528.5h3M1373 528.5h6M1384 528.5h3M1402 528.5h6M1416 528.5h3M1425 528.5h6M1440 528.5h3M1445 528.5h6M1454 528.5h6M1477 528.5h3M1498 528.5h3M1506 528.5h3M1547 528.5h6M1576 528.5h6M1611 528.5h6M1637 528.5h3M1646 528.5h3M1651 528.5h3M1283 531.4h3M1298 531.4h3M1303 531.4h3M1341 531.4h3M1353 531.4h3M1370 531.4h3M1393 531.4h3M1414 531.4h3M1419 531.4h3M1431 531.4h6M1440 531.4h6M1451 531.4h3M1486 531.4h9M1503 531.4h3M1535 531.4h6M1550 531.4h3M1556 531.4h6M1564 531.4h3M1585 531.4h3M1593 531.4h3M1599 531.4h14M1619 531.4h6M1646 531.4h3M1651 531.4h9M1663 531.4h3M1292 534.2h6M1324 534.2h3M1332 534.2h6M1344 534.2h3M1350 534.2h3M1358 534.2h9M1373 534.2h6M1387 534.2h3M1422 534.2h3M1442 534.2h6M1457 534.2h3M1463 534.2h3M1472 534.2h3M1483 534.2h3M1495 534.2h3M1518 534.2h9M1530 534.2h3M1538 534.2h9M1556 534.2h3M1561 534.2h6M1588 534.2h3M1599 534.2h3M1605 534.2h3M1622 534.2h3M1628 534.2h6M1637 534.2h3M1643 534.2h6M1654 534.2h9M1295 537.2h6M1326 537.2h3M1338 537.2h3M1344 537.2h9M1358 537.2h9M1390 537.2h6M1414 537.2h9M1431 537.2h6M1445 537.2h3M1454 537.2h6M1486 537.2h3M1503 537.2h3M1509 537.2h9M1521 537.2h3M1532 537.2h3M1544 537.2h3M1561 537.2h3M1570 537.2h3M1579 537.2h3M1593 537.2h3M1605 537.2h3M1611 537.2h6M1619 537.2h3M1625 537.2h3M1631 537.2h3M1286 540.1h3M1292 540.1h3M1312 540.1h3M1318 540.1h3M1326 540.1h3M1353 540.1h3M1364 540.1h3M1370 540.1h6M1382 540.1h3M1393 540.1h3M1405 540.1h3M1422 540.1h3M1428 540.1h3M1434 540.1h3M1445 540.1h3M1451 540.1h3M1466 540.1h3M1480 540.1h6M1492 540.1h3M1503 540.1h14M1524 540.1h3M1535 540.1h3M1553 540.1h9M1585 540.1h3M1590 540.1h3M1599 540.1h12M1616 540.1h3M1625 540.1h3M1651 540.1h3M1289 543.0h3M1298 543.0h3M1306 543.0h3M1312 543.0h3M1335 543.0h3M1344 543.0h3M1353 543.0h3M1358 543.0h3M1376 543.0h3M1384 543.0h12M1402 543.0h6M1411 543.0h3M1425 543.0h3M1431 543.0h12M1454 543.0h6M1463 543.0h3M1469 543.0h3M1477 543.0h6M1498 543.0h6M1515 543.0h3M1530 543.0h6M1541 543.0h3M1553 543.0h3M1567 543.0h3M1631 543.0h3M1289 545.9h3M1303 545.9h3M1321 545.9h3M1326 545.9h3M1335 545.9h3M1347 545.9h3M1353 545.9h3M1361 545.9h3M1370 545.9h3M1408 545.9h3M1422 545.9h6M1437 545.9h3M1445 545.9h6M1472 545.9h9M1498 545.9h6M1527 545.9h3M1547 545.9h6M1561 545.9h6M1585 545.9h3M1596 545.9h6M1611 545.9h3M1619 545.9h3M1640 545.9h3M1648 545.9h3M1283 548.8h3M1289 548.8h3M1295 548.8h6M1335 548.8h3M1341 548.8h3M1358 548.8h3M1370 548.8h3M1379 548.8h3M1390 548.8h3M1396 548.8h3M1402 548.8h3M1414 548.8h3M1428 548.8h3M1437 548.8h6M1445 548.8h3M1463 548.8h3M1477 548.8h3M1486 548.8h3M1495 548.8h3M1506 548.8h12M1521 548.8h6M1530 548.8h3M1564 548.8h6M1573 548.8h9M1588 548.8h3M1596 548.8h3M1608 548.8h3M1619 548.8h6M1631 548.8h3M1651 548.8h3M1657 548.8h6M1289 551.7h3M1295 551.7h3M1303 551.7h3M1315 551.7h3M1347 551.7h3M1353 551.7h3M1364 551.7h3M1373 551.7h6M1384 551.7h3M1390 551.7h3M1399 551.7h3M1408 551.7h3M1422 551.7h3M1428 551.7h12M1442 551.7h6M1457 551.7h3M1466 551.7h3M1477 551.7h3M1495 551.7h3M1506 551.7h6M1515 551.7h3M1521 551.7h3M1532 551.7h3M1573 551.7h3M1590 551.7h3M1596 551.7h3M1608 551.7h3M1616 551.7h3M1628 551.7h3M1637 551.7h6M1646 551.7h3M1660 551.7h3M1283 554.6h3M1289 554.6h3M1298 554.6h9M1315 554.6h3M1321 554.6h3M1332 554.6h3M1341 554.6h3M1347 554.6h9M1358 554.6h3M1364 554.6h3M1376 554.6h3M1402 554.6h3M1408 554.6h9M1428 554.6h6M1466 554.6h3M1489 554.6h6M1498 554.6h3M1506 554.6h9M1521 554.6h3M1532 554.6h3M1538 554.6h3M1567 554.6h3M1573 554.6h3M1579 554.6h3M1602 554.6h3M1608 554.6h3M1622 554.6h3M1640 554.6h6M1654 554.6h3M1286 557.5h9M1303 557.5h6M1324 557.5h9M1347 557.5h12M1364 557.5h6M1373 557.5h6M1382 557.5h3M1393 557.5h3M1408 557.5h3M1419 557.5h6M1428 557.5h3M1440 557.5h3M1457 557.5h3M1469 557.5h3M1489 557.5h6M1503 557.5h3M1521 557.5h6M1535 557.5h3M1544 557.5h3M1561 557.5h3M1585 557.5h3M1616 557.5h6M1640 557.5h6M1283 560.4h6M1292 560.4h3M1298 560.4h3M1306 560.4h3M1324 560.4h3M1338 560.4h3M1358 560.4h3M1373 560.4h3M1399 560.4h3M1408 560.4h3M1416 560.4h3M1425 560.4h3M1434 560.4h3M1440 560.4h3M1451 560.4h3M1460 560.4h3M1469 560.4h9M1492 560.4h3M1498 560.4h6M1506 560.4h3M1515 560.4h3M1521 560.4h3M1538 560.4h3M1573 560.4h3M1582 560.4h6M1596 560.4h3M1608 560.4h6M1628 560.4h3M1634 560.4h3M1651 560.4h3M1660 560.4h6M1292 563.2h6M1300 563.2h6M1324 563.2h6M1332 563.2h6M1356 563.2h6M1370 563.2h12M1384 563.2h6M1408 563.2h6M1422 563.2h3M1448 563.2h3M1454 563.2h3M1466 563.2h3M1477 563.2h3M1486 563.2h3M1495 563.2h6M1509 563.2h3M1524 563.2h6M1532 563.2h3M1550 563.2h3M1558 563.2h3M1573 563.2h3M1579 563.2h3M1585 563.2h6M1593 563.2h3M1616 563.2h3M1622 563.2h3M1628 563.2h3M1634 563.2h3M1640 563.2h6M1651 563.2h3M1663 563.2h3M1286 566.2h6M1309 566.2h6M1318 566.2h3M1332 566.2h3M1338 566.2h6M1347 566.2h3M1358 566.2h9M1376 566.2h6M1399 566.2h3M1414 566.2h3M1472 566.2h3M1477 566.2h3M1489 566.2h3M1503 566.2h9M1524 566.2h6M1535 566.2h6M1556 566.2h3M1567 566.2h3M1588 566.2h6M1596 566.2h3M1602 566.2h6M1625 566.2h3M1631 566.2h3M1640 566.2h6M1651 566.2h3M1300 569.1h3M1306 569.1h3M1318 569.1h3M1329 569.1h6M1338 569.1h3M1344 569.1h6M1364 569.1h3M1370 569.1h3M1376 569.1h3M1384 569.1h3M1393 569.1h6M1408 569.1h3M1414 569.1h3M1425 569.1h3M1434 569.1h3M1448 569.1h3M1454 569.1h9M1469 569.1h3M1498 569.1h3M1506 569.1h3M1518 569.1h6M1527 569.1h6M1547 569.1h3M1556 569.1h3M1561 569.1h3M1579 569.1h3M1596 569.1h3M1605 569.1h3M1611 569.1h3M1616 569.1h3M1628 569.1h6M1640 569.1h6M1648 569.1h6M1657 569.1h3M1286 572.0h6M1312 572.0h3M1332 572.0h3M1341 572.0h6M1350 572.0h6M1364 572.0h3M1373 572.0h3M1390 572.0h3M1399 572.0h6M1416 572.0h3M1440 572.0h3M1448 572.0h3M1457 572.0h3M1469 572.0h3M1483 572.0h3M1489 572.0h3M1495 572.0h6M1518 572.0h3M1532 572.0h3M1538 572.0h3M1544 572.0h3M1556 572.0h3M1564 572.0h3M1582 572.0h3M1588 572.0h3M1593 572.0h12M1614 572.0h3M1619 572.0h3M1634 572.0h3M1643 572.0h3M1663 572.0h3M1286 574.9h6M1303 574.9h3M1309 574.9h3M1324 574.9h3M1329 574.9h3M1347 574.9h6M1364 574.9h3M1387 574.9h6M1402 574.9h6M1419 574.9h6M1428 574.9h9M1457 574.9h6M1466 574.9h3M1480 574.9h3M1492 574.9h3M1506 574.9h3M1512 574.9h12M1532 574.9h3M1538 574.9h3M1556 574.9h3M1570 574.9h6M1582 574.9h3M1596 574.9h6M1611 574.9h3M1622 574.9h6M1637 574.9h6M1648 574.9h3M1660 574.9h3M1283 577.8h3M1295 577.8h3M1303 577.8h3M1321 577.8h3M1338 577.8h9M1361 577.8h3M1376 577.8h6M1384 577.8h3M1393 577.8h3M1402 577.8h3M1408 577.8h12M1440 577.8h3M1445 577.8h3M1457 577.8h3M1469 577.8h3M1474 577.8h6M1492 577.8h6M1503 577.8h9M1521 577.8h3M1527 577.8h3M1532 577.8h3M1550 577.8h3M1558 577.8h3M1582 577.8h6M1593 577.8h3M1608 577.8h3M1625 577.8h3M1631 577.8h3M1637 577.8h3M1660 577.8h3M1283 580.7h3M1292 580.7h3M1303 580.7h3M1329 580.7h3M1344 580.7h3M1356 580.7h3M1361 580.7h3M1382 580.7h3M1393 580.7h3M1402 580.7h3M1411 580.7h3M1422 580.7h3M1428 580.7h6M1445 580.7h9M1466 580.7h3M1472 580.7h3M1489 580.7h3M1498 580.7h9M1509 580.7h3M1515 580.7h6M1527 580.7h3M1532 580.7h6M1541 580.7h3M1556 580.7h3M1561 580.7h3M1579 580.7h3M1599 580.7h6M1616 580.7h3M1628 580.7h3M1637 580.7h6M1657 580.7h3M1663 580.7h3M1283 583.6h12M1300 583.6h6M1315 583.6h3M1326 583.6h12M1341 583.6h3M1347 583.6h6M1361 583.6h3M1425 583.6h3M1431 583.6h3M1440 583.6h3M1445 583.6h9M1457 583.6h3M1463 583.6h3M1474 583.6h6M1486 583.6h6M1498 583.6h3M1506 583.6h6M1524 583.6h9M1561 583.6h3M1576 583.6h3M1596 583.6h3M1602 583.6h3M1608 583.6h3M1614 583.6h3M1622 583.6h3M1640 583.6h3M1663 583.6h3M1283 586.5h3M1289 586.5h3M1295 586.5h3M1309 586.5h3M1318 586.5h3M1324 586.5h3M1332 586.5h3M1341 586.5h3M1347 586.5h3M1364 586.5h3M1370 586.5h3M1382 586.5h3M1405 586.5h3M1411 586.5h3M1419 586.5h3M1425 586.5h3M1434 586.5h3M1448 586.5h3M1474 586.5h12M1509 586.5h3M1515 586.5h3M1521 586.5h6M1530 586.5h3M1541 586.5h6M1573 586.5h6M1585 586.5h3M1596 586.5h3M1605 586.5h9M1631 586.5h3M1643 586.5h6M1651 586.5h3M1286 589.4h6M1300 589.4h3M1326 589.4h6M1338 589.4h3M1384 589.4h3M1396 589.4h3M1402 589.4h6M1411 589.4h3M1416 589.4h3M1425 589.4h3M1434 589.4h3M1445 589.4h3M1451 589.4h3M1460 589.4h3M1466 589.4h6M1474 589.4h6M1486 589.4h3M1492 589.4h12M1512 589.4h3M1524 589.4h3M1532 589.4h9M1550 589.4h3M1599 589.4h3M1614 589.4h3M1622 589.4h6M1646 589.4h3M1651 589.4h3M1292 592.2h3M1303 592.2h3M1309 592.2h3M1321 592.2h3M1329 592.2h3M1338 592.2h3M1350 592.2h3M1370 592.2h6M1379 592.2h6M1390 592.2h3M1399 592.2h3M1414 592.2h9M1440 592.2h3M1445 592.2h6M1454 592.2h3M1477 592.2h3M1498 592.2h3M1503 592.2h3M1509 592.2h6M1530 592.2h3M1535 592.2h3M1541 592.2h3M1564 592.2h9M1579 592.2h3M1593 592.2h3M1599 592.2h3M1611 592.2h9M1622 592.2h3M1628 592.2h3M1637 592.2h3M1648 592.2h3M1657 592.2h6M1283 595.2h3M1295 595.2h6M1303 595.2h9M1321 595.2h3M1347 595.2h3M1358 595.2h6M1384 595.2h3M1414 595.2h6M1425 595.2h3M1434 595.2h3M1474 595.2h3M1489 595.2h3M1495 595.2h3M1506 595.2h3M1530 595.2h3M1535 595.2h3M1547 595.2h3M1564 595.2h6M1582 595.2h12M1596 595.2h3M1602 595.2h3M1611 595.2h3M1619 595.2h3M1640 595.2h6M1651 595.2h3M1657 595.2h3M1663 595.2h3M1286 598.1h3M1292 598.1h3M1298 598.1h3M1309 598.1h3M1318 598.1h6M1344 598.1h3M1353 598.1h3M1364 598.1h3M1382 598.1h3M1396 598.1h3M1414 598.1h9M1425 598.1h3M1431 598.1h3M1440 598.1h6M1463 598.1h3M1472 598.1h6M1480 598.1h3M1500 598.1h3M1506 598.1h3M1512 598.1h3M1524 598.1h3M1550 598.1h3M1556 598.1h6M1564 598.1h3M1570 598.1h3M1585 598.1h3M1602 598.1h6M1611 598.1h12M1631 598.1h3M1637 598.1h6M1654 598.1h3M1315 601.0h3M1321 601.0h6M1329 601.0h3M1335 601.0h6M1356 601.0h6M1367 601.0h3M1373 601.0h9M1393 601.0h6M1416 601.0h3M1422 601.0h3M1428 601.0h6M1437 601.0h3M1442 601.0h3M1448 601.0h3M1454 601.0h3M1463 601.0h3M1469 601.0h3M1474 601.0h3M1483 601.0h3M1492 601.0h3M1498 601.0h6M1535 601.0h3M1544 601.0h6M1558 601.0h6M1573 601.0h3M1579 601.0h9M1590 601.0h3M1608 601.0h6M1628 601.0h3M1640 601.0h3M1654 601.0h3M1303 603.9h3M1309 603.9h3M1324 603.9h3M1344 603.9h3M1350 603.9h3M1367 603.9h6M1382 603.9h3M1390 603.9h3M1405 603.9h17M1428 603.9h3M1434 603.9h3M1440 603.9h6M1451 603.9h6M1472 603.9h3M1480 603.9h3M1486 603.9h3M1495 603.9h3M1515 603.9h6M1524 603.9h3M1535 603.9h3M1553 603.9h3M1564 603.9h3M1579 603.9h6M1588 603.9h6M1608 603.9h3M1628 603.9h9M1646 603.9h3M1309 606.8h3M1315 606.8h3M1321 606.8h3M1332 606.8h3M1379 606.8h6M1402 606.8h6M1422 606.8h3M1440 606.8h3M1451 606.8h3M1457 606.8h6M1477 606.8h9M1492 606.8h6M1503 606.8h3M1515 606.8h3M1524 606.8h3M1530 606.8h3M1535 606.8h3M1541 606.8h3M1564 606.8h3M1576 606.8h3M1585 606.8h3M1599 606.8h3M1605 606.8h6M1619 606.8h3M1625 606.8h3M1634 606.8h9M1657 606.8h3M1283 609.7h12M1315 609.7h3M1321 609.7h9M1332 609.7h6M1341 609.7h3M1356 609.7h6M1367 609.7h3M1376 609.7h3M1382 609.7h6M1390 609.7h14M1408 609.7h3M1416 609.7h3M1425 609.7h6M1440 609.7h3M1460 609.7h3M1472 609.7h12M1495 609.7h3M1503 609.7h3M1518 609.7h3M1544 609.7h3M1561 609.7h6M1579 609.7h6M1596 609.7h3M1616 609.7h6M1628 609.7h12M1651 609.7h3M1663 609.7h3M1283 612.6h3M1303 612.6h3M1321 612.6h3M1344 612.6h3M1364 612.6h3M1370 612.6h3M1376 612.6h9M1393 612.6h3M1399 612.6h3M1411 612.6h3M1416 612.6h3M1422 612.6h3M1448 612.6h3M1460 612.6h3M1474 612.6h3M1498 612.6h3M1506 612.6h3M1532 612.6h9M1544 612.6h6M1561 612.6h9M1590 612.6h3M1596 612.6h3M1602 612.6h3M1619 612.6h3M1637 612.6h3M1643 612.6h3M1660 612.6h3M1292 615.5h3M1298 615.5h3M1306 615.5h9M1321 615.5h3M1329 615.5h6M1344 615.5h3M1350 615.5h3M1358 615.5h9M1373 615.5h3M1379 615.5h3M1384 615.5h9M1396 615.5h3M1402 615.5h6M1416 615.5h3M1422 615.5h3M1442 615.5h9M1454 615.5h3M1460 615.5h3M1469 615.5h6M1480 615.5h3M1495 615.5h20M1518 615.5h3M1532 615.5h3M1538 615.5h9M1553 615.5h3M1570 615.5h3M1576 615.5h3M1582 615.5h6M1599 615.5h3M1614 615.5h3M1634 615.5h6M1643 615.5h3M1648 615.5h3M1283 618.4h3M1292 618.4h3M1303 618.4h9M1315 618.4h3M1321 618.4h3M1326 618.4h6M1338 618.4h6M1353 618.4h3M1361 618.4h3M1384 618.4h3M1411 618.4h3M1416 618.4h6M1434 618.4h6M1445 618.4h3M1457 618.4h6M1469 618.4h3M1474 618.4h3M1486 618.4h3M1495 618.4h6M1506 618.4h6M1515 618.4h6M1527 618.4h6M1535 618.4h3M1541 618.4h3M1550 618.4h3M1556 618.4h6M1570 618.4h6M1585 618.4h3M1596 618.4h6M1631 618.4h3M1643 618.4h3M1657 618.4h3M1663 618.4h3M1283 621.2h3M1300 621.2h3M1306 621.2h6M1324 621.2h6M1347 621.2h3M1353 621.2h3M1364 621.2h9M1379 621.2h3M1405 621.2h6M1431 621.2h3M1442 621.2h9M1469 621.2h3M1518 621.2h6M1530 621.2h3M1535 621.2h3M1556 621.2h3M1567 621.2h3M1573 621.2h9M1588 621.2h3M1628 621.2h3M1646 621.2h6M1657 621.2h9M1298 624.2h3M1309 624.2h6M1318 624.2h3M1335 624.2h3M1341 624.2h6M1356 624.2h6M1364 624.2h3M1370 624.2h3M1390 624.2h3M1402 624.2h3M1422 624.2h3M1434 624.2h3M1440 624.2h3M1457 624.2h3M1477 624.2h6M1486 624.2h3M1518 624.2h6M1535 624.2h3M1547 624.2h3M1553 624.2h3M1558 624.2h3M1573 624.2h3M1579 624.2h3M1588 624.2h6M1602 624.2h6M1616 624.2h6M1625 624.2h3M1631 624.2h3M1640 624.2h3M1646 624.2h3M1651 624.2h3M1300 627.1h6M1309 627.1h6M1344 627.1h14M1367 627.1h3M1373 627.1h6M1382 627.1h3M1393 627.1h3M1402 627.1h6M1437 627.1h3M1442 627.1h3M1448 627.1h3M1457 627.1h3M1463 627.1h3M1486 627.1h6M1503 627.1h3M1515 627.1h6M1524 627.1h9M1547 627.1h6M1561 627.1h3M1567 627.1h3M1588 627.1h12M1605 627.1h3M1614 627.1h3M1619 627.1h3M1640 627.1h6M1654 627.1h3M1283 630.0h3M1295 630.0h3M1300 630.0h3M1324 630.0h3M1329 630.0h6M1361 630.0h3M1373 630.0h3M1384 630.0h3M1390 630.0h3M1399 630.0h3M1405 630.0h3M1414 630.0h3M1419 630.0h3M1425 630.0h3M1437 630.0h3M1448 630.0h3M1454 630.0h3M1466 630.0h12M1483 630.0h3M1495 630.0h3M1515 630.0h3M1521 630.0h3M1527 630.0h3M1544 630.0h9M1582 630.0h3M1593 630.0h3M1602 630.0h3M1619 630.0h3M1631 630.0h3M1637 630.0h3M1660 630.0h6M1283 632.9h3M1295 632.9h3M1324 632.9h3M1347 632.9h3M1373 632.9h3M1382 632.9h3M1425 632.9h3M1440 632.9h3M1448 632.9h6M1460 632.9h6M1474 632.9h6M1495 632.9h3M1503 632.9h3M1521 632.9h6M1532 632.9h9M1561 632.9h3M1570 632.9h3M1582 632.9h3M1588 632.9h3M1596 632.9h3M1605 632.9h3M1611 632.9h3M1628 632.9h6M1640 632.9h3M1646 632.9h3M1651 632.9h3M1283 635.8h9M1295 635.8h3M1358 635.8h3M1364 635.8h6M1373 635.8h3M1379 635.8h3M1425 635.8h6M1434 635.8h3M1454 635.8h3M1463 635.8h9M1477 635.8h3M1503 635.8h3M1515 635.8h6M1541 635.8h3M1558 635.8h3M1573 635.8h6M1582 635.8h3M1593 635.8h3M1608 635.8h3M1614 635.8h3M1640 635.8h3M1657 635.8h6M1286 638.7h3M1300 638.7h9M1315 638.7h3M1326 638.7h3M1332 638.7h6M1356 638.7h3M1382 638.7h3M1387 638.7h3M1393 638.7h3M1408 638.7h3M1422 638.7h3M1428 638.7h3M1442 638.7h3M1454 638.7h3M1469 638.7h3M1483 638.7h3M1498 638.7h6M1509 638.7h6M1518 638.7h6M1532 638.7h9M1556 638.7h3M1567 638.7h3M1585 638.7h3M1590 638.7h9M1602 638.7h3M1608 638.7h6M1616 638.7h3M1634 638.7h3M1646 638.7h3M1663 638.7h3M1283 641.6h3M1292 641.6h3M1298 641.6h14M1315 641.6h6M1338 641.6h3M1344 641.6h3M1370 641.6h6M1393 641.6h3M1399 641.6h3M1405 641.6h3M1419 641.6h3M1431 641.6h12M1448 641.6h6M1463 641.6h6M1474 641.6h3M1480 641.6h3M1498 641.6h6M1515 641.6h3M1524 641.6h3M1530 641.6h3M1556 641.6h3M1564 641.6h3M1582 641.6h3M1588 641.6h3M1614 641.6h6M1625 641.6h6M1648 641.6h3M1657 641.6h3M1663 641.6h3M1289 644.5h3M1298 644.5h3M1309 644.5h3M1315 644.5h6M1326 644.5h9M1338 644.5h3M1347 644.5h3M1367 644.5h3M1390 644.5h3M1405 644.5h6M1419 644.5h6M1434 644.5h3M1451 644.5h3M1466 644.5h3M1480 644.5h3M1512 644.5h3M1521 644.5h6M1590 644.5h3M1596 644.5h3M1611 644.5h12M1628 644.5h3M1634 644.5h3M1643 644.5h3M1295 647.4h3M1300 647.4h3M1309 647.4h6M1321 647.4h3M1335 647.4h3M1341 647.4h3M1350 647.4h3M1358 647.4h3M1382 647.4h3M1396 647.4h6M1405 647.4h6M1419 647.4h3M1428 647.4h14M1451 647.4h3M1463 647.4h3M1474 647.4h6M1486 647.4h3M1498 647.4h3M1506 647.4h3M1524 647.4h12M1541 647.4h3M1558 647.4h3M1576 647.4h6M1585 647.4h3M1590 647.4h3M1596 647.4h3M1622 647.4h3M1654 647.4h6M1663 647.4h3M1295 650.2h3M1303 650.2h3M1312 650.2h12M1326 650.2h6M1344 650.2h3M1356 650.2h6M1364 650.2h3M1384 650.2h3M1393 650.2h3M1399 650.2h3M1419 650.2h9M1431 650.2h3M1437 650.2h3M1442 650.2h3M1463 650.2h3M1472 650.2h6M1498 650.2h6M1506 650.2h3M1518 650.2h3M1527 650.2h3M1553 650.2h3M1564 650.2h6M1579 650.2h3M1585 650.2h3M1593 650.2h6M1605 650.2h3M1616 650.2h3M1625 650.2h3M1637 650.2h3M1646 650.2h3M1654 650.2h3M1295 653.2h12M1309 653.2h3M1324 653.2h3M1329 653.2h3M1335 653.2h3M1341 653.2h3M1361 653.2h3M1367 653.2h12M1382 653.2h3M1411 653.2h3M1416 653.2h3M1425 653.2h3M1445 653.2h3M1454 653.2h6M1466 653.2h3M1472 653.2h3M1495 653.2h3M1515 653.2h3M1530 653.2h3M1550 653.2h3M1573 653.2h3M1585 653.2h3M1593 653.2h3M1599 653.2h3M1608 653.2h9M1619 653.2h3M1625 653.2h6M1634 653.2h9M1654 653.2h6M1663 653.2h3M1295 656.1h3M1312 656.1h3M1321 656.1h3M1329 656.1h3M1347 656.1h3M1353 656.1h6M1361 656.1h3M1370 656.1h3M1384 656.1h3M1396 656.1h6M1419 656.1h6M1434 656.1h3M1454 656.1h6M1466 656.1h6M1477 656.1h3M1483 656.1h3M1498 656.1h3M1550 656.1h6M1561 656.1h3M1576 656.1h3M1582 656.1h3M1593 656.1h6M1602 656.1h3M1608 656.1h6M1616 656.1h3M1622 656.1h6M1640 656.1h3M1648 656.1h3M1657 656.1h3M1283 659.0h3M1292 659.0h3M1298 659.0h3M1303 659.0h3M1309 659.0h3M1338 659.0h6M1347 659.0h6M1356 659.0h3M1361 659.0h14M1384 659.0h3M1393 659.0h6M1402 659.0h3M1425 659.0h3M1431 659.0h3M1440 659.0h3M1448 659.0h3M1454 659.0h6M1466 659.0h3M1474 659.0h6M1495 659.0h3M1506 659.0h9M1521 659.0h3M1530 659.0h3M1541 659.0h6M1553 659.0h3M1558 659.0h3M1576 659.0h3M1588 659.0h3M1608 659.0h3M1616 659.0h6M1631 659.0h3M1640 659.0h3M1646 659.0h3M1654 659.0h3M1289 661.9h6M1298 661.9h3M1303 661.9h3M1309 661.9h6M1321 661.9h3M1326 661.9h3M1332 661.9h3M1338 661.9h6M1353 661.9h3M1364 661.9h3M1379 661.9h3M1384 661.9h3M1390 661.9h3M1396 661.9h6M1437 661.9h6M1460 661.9h3M1474 661.9h3M1492 661.9h12M1521 661.9h3M1547 661.9h3M1553 661.9h3M1579 661.9h3M1599 661.9h3M1611 661.9h3M1616 661.9h6M1628 661.9h3M1637 661.9h3M1646 661.9h3M1654 661.9h9M1292 664.8h3M1306 664.8h3M1321 664.8h3M1338 664.8h3M1344 664.8h3M1350 664.8h3M1356 664.8h6M1364 664.8h3M1382 664.8h3M1393 664.8h6M1408 664.8h9M1442 664.8h6M1457 664.8h3M1477 664.8h3M1483 664.8h3M1489 664.8h3M1506 664.8h6M1515 664.8h3M1538 664.8h3M1553 664.8h3M1561 664.8h3M1567 664.8h3M1579 664.8h6M1599 664.8h3M1608 664.8h3M1619 664.8h6M1637 664.8h3M1654 664.8h6M1663 664.8h3M1283 667.7h3M1295 667.7h3M1315 667.7h3M1321 667.7h6M1329 667.7h3M1350 667.7h3M1367 667.7h3M1379 667.7h6M1396 667.7h3M1405 667.7h3M1425 667.7h3M1434 667.7h6M1454 667.7h6M1463 667.7h3M1472 667.7h3M1480 667.7h3M1503 667.7h3M1509 667.7h6M1556 667.7h6M1567 667.7h6M1582 667.7h3M1596 667.7h3M1625 667.7h3M1631 667.7h3M1637 667.7h12M1651 667.7h3M1657 667.7h3M1295 670.6h6M1309 670.6h6M1324 670.6h20M1347 670.6h3M1356 670.6h3M1384 670.6h3M1390 670.6h6M1399 670.6h3M1405 670.6h6M1425 670.6h3M1440 670.6h3M1454 670.6h3M1472 670.6h3M1477 670.6h3M1483 670.6h3M1489 670.6h3M1512 670.6h12M1538 670.6h9M1550 670.6h3M1585 670.6h3M1599 670.6h6M1625 670.6h3M1631 670.6h3M1640 670.6h3M1651 670.6h3M1657 670.6h3M1289 673.5h3M1303 673.5h3M1312 673.5h3M1318 673.5h14M1344 673.5h3M1350 673.5h3M1361 673.5h3M1367 673.5h9M1382 673.5h3M1387 673.5h3M1393 673.5h3M1405 673.5h9M1416 673.5h3M1431 673.5h6M1440 673.5h6M1457 673.5h6M1469 673.5h3M1480 673.5h3M1498 673.5h9M1524 673.5h3M1530 673.5h3M1535 673.5h6M1570 673.5h3M1579 673.5h3M1602 673.5h3M1611 673.5h3M1654 673.5h3M1660 673.5h6M1283 676.4h3M1303 676.4h3M1309 676.4h6M1321 676.4h3M1326 676.4h3M1350 676.4h3M1370 676.4h6M1382 676.4h6M1393 676.4h3M1399 676.4h3M1414 676.4h3M1425 676.4h6M1434 676.4h3M1442 676.4h3M1448 676.4h3M1454 676.4h3M1469 676.4h6M1477 676.4h6M1500 676.4h3M1518 676.4h3M1527 676.4h3M1547 676.4h3M1556 676.4h3M1561 676.4h3M1573 676.4h3M1582 676.4h3M1590 676.4h6M1605 676.4h3M1611 676.4h3M1619 676.4h3M1631 676.4h3M1640 676.4h3M1651 676.4h6M1286 679.2h3M1295 679.2h3M1300 679.2h6M1309 679.2h6M1324 679.2h6M1335 679.2h6M1356 679.2h3M1367 679.2h3M1373 679.2h6M1387 679.2h3M1399 679.2h3M1419 679.2h6M1440 679.2h3M1460 679.2h9M1474 679.2h3M1489 679.2h3M1498 679.2h3M1506 679.2h3M1512 679.2h6M1524 679.2h3M1547 679.2h3M1564 679.2h3M1576 679.2h6M1588 679.2h3M1608 679.2h3M1631 679.2h9M1657 679.2h3M1286 682.2h12M1306 682.2h3M1315 682.2h6M1332 682.2h3M1350 682.2h3M1356 682.2h3M1373 682.2h6M1382 682.2h3M1387 682.2h6M1405 682.2h3M1422 682.2h3M1431 682.2h6M1442 682.2h3M1448 682.2h3M1469 682.2h12M1498 682.2h3M1509 682.2h3M1521 682.2h3M1532 682.2h6M1547 682.2h3M1553 682.2h9M1564 682.2h3M1576 682.2h3M1582 682.2h6M1614 682.2h3M1622 682.2h6M1637 682.2h6M1646 682.2h3M1660 682.2h6M1286 685.1h3M1295 685.1h3M1300 685.1h6M1309 685.1h3M1321 685.1h3M1329 685.1h3M1344 685.1h12M1361 685.1h6M1384 685.1h6M1428 685.1h9M1451 685.1h3M1463 685.1h3M1469 685.1h3M1474 685.1h9M1489 685.1h3M1500 685.1h3M1515 685.1h3M1524 685.1h3M1530 685.1h6M1550 685.1h6M1570 685.1h6M1582 685.1h3M1599 685.1h3M1611 685.1h9M1631 685.1h3M1643 685.1h3M1648 685.1h6M1657 685.1h3M1663 685.1h3M1283 688.0h6M1295 688.0h6M1306 688.0h3M1332 688.0h12M1353 688.0h3M1376 688.0h3M1390 688.0h3M1425 688.0h3M1434 688.0h3M1442 688.0h3M1472 688.0h3M1486 688.0h6M1500 688.0h3M1512 688.0h6M1524 688.0h3M1535 688.0h6M1556 688.0h3M1561 688.0h3M1576 688.0h3M1582 688.0h3M1588 688.0h3M1593 688.0h3M1599 688.0h3M1608 688.0h3M1619 688.0h6M1628 688.0h3M1643 688.0h3M1648 688.0h3M1654 688.0h3M1660 688.0h3M1283 690.9h6M1292 690.9h3M1298 690.9h3M1312 690.9h3M1321 690.9h3M1329 690.9h6M1338 690.9h3M1347 690.9h3M1361 690.9h6M1370 690.9h3M1379 690.9h6M1387 690.9h3M1399 690.9h3M1419 690.9h6M1434 690.9h3M1440 690.9h3M1463 690.9h9M1483 690.9h3M1495 690.9h3M1509 690.9h3M1515 690.9h6M1524 690.9h3M1541 690.9h6M1550 690.9h3M1556 690.9h3M1576 690.9h3M1602 690.9h3M1616 690.9h12M1648 690.9h3M1292 693.8h3M1303 693.8h3M1326 693.8h6M1344 693.8h3M1350 693.8h3M1361 693.8h3M1384 693.8h3M1393 693.8h12M1434 693.8h3M1445 693.8h3M1454 693.8h3M1469 693.8h3M1495 693.8h3M1503 693.8h6M1521 693.8h3M1532 693.8h3M1538 693.8h9M1550 693.8h9M1564 693.8h6M1576 693.8h3M1608 693.8h6M1619 693.8h3M1631 693.8h3M1646 693.8h3M1660 693.8h3M1286 696.7h3M1292 696.7h6M1303 696.7h6M1312 696.7h3M1318 696.7h3M1335 696.7h3M1344 696.7h3M1356 696.7h3M1370 696.7h6M1379 696.7h3M1396 696.7h3M1405 696.7h9M1416 696.7h3M1434 696.7h6M1463 696.7h3M1472 696.7h6M1480 696.7h3M1486 696.7h3M1492 696.7h3M1500 696.7h3M1506 696.7h17M1527 696.7h3M1535 696.7h3M1567 696.7h6M1588 696.7h3M1593 696.7h3M1614 696.7h6M1631 696.7h6M1643 696.7h3M1663 696.7h3M1289 699.6h3M1341 699.6h3M1356 699.6h14M1373 699.6h9M1384 699.6h3M1408 699.6h3M1422 699.6h6M1431 699.6h3M1442 699.6h3M1448 699.6h3M1460 699.6h3M1474 699.6h3M1489 699.6h6M1503 699.6h3M1509 699.6h3M1521 699.6h3M1527 699.6h6M1544 699.6h3M1567 699.6h3M1573 699.6h3M1596 699.6h3M1602 699.6h3M1611 699.6h3M1628 699.6h3M1637 699.6h3M1646 699.6h6M1283 702.5h3M1298 702.5h3M1332 702.5h9M1347 702.5h3M1358 702.5h3M1376 702.5h3M1382 702.5h9M1402 702.5h6M1437 702.5h3M1442 702.5h3M1451 702.5h3M1457 702.5h3M1463 702.5h3M1486 702.5h3M1498 702.5h6M1521 702.5h3M1527 702.5h3M1547 702.5h3M1558 702.5h3M1570 702.5h6M1605 702.5h6M1614 702.5h3M1634 702.5h3M1640 702.5h3M1648 702.5h12M1283 705.4h3M1292 705.4h3M1309 705.4h3M1318 705.4h3M1329 705.4h6M1356 705.4h6M1364 705.4h3M1370 705.4h3M1379 705.4h3M1384 705.4h12M1411 705.4h3M1419 705.4h3M1428 705.4h3M1451 705.4h3M1457 705.4h3M1463 705.4h3M1469 705.4h3M1480 705.4h3M1492 705.4h9M1506 705.4h6M1521 705.4h6M1530 705.4h3M1564 705.4h3M1576 705.4h9M1599 705.4h3M1605 705.4h6M1616 705.4h3M1625 705.4h3M1648 705.4h3M1660 705.4h3M1286 708.2h9M1298 708.2h3M1306 708.2h3M1312 708.2h3M1318 708.2h3M1326 708.2h3M1335 708.2h3M1350 708.2h3M1356 708.2h3M1370 708.2h12M1402 708.2h3M1411 708.2h9M1422 708.2h3M1431 708.2h3M1440 708.2h3M1448 708.2h3M1454 708.2h3M1474 708.2h3M1480 708.2h3M1500 708.2h3M1515 708.2h3M1521 708.2h3M1532 708.2h3M1541 708.2h3M1547 708.2h6M1579 708.2h3M1585 708.2h3M1605 708.2h6M1625 708.2h3M1637 708.2h3M1643 708.2h6M1660 708.2h6M1295 711.2h3M1300 711.2h9M1332 711.2h3M1396 711.2h9M1434 711.2h3M1445 711.2h3M1454 711.2h9M1474 711.2h3M1486 711.2h3M1500 711.2h3M1518 711.2h3M1553 711.2h6M1564 711.2h3M1576 711.2h9M1590 711.2h3M1596 711.2h9M1608 711.2h3M1614 711.2h6M1625 711.2h3M1640 711.2h3M1654 711.2h3M1663 711.2h3M1283 714.1h3M1300 714.1h3M1309 714.1h3M1318 714.1h3M1335 714.1h3M1353 714.1h3M1361 714.1h3M1367 714.1h3M1376 714.1h6M1384 714.1h9M1396 714.1h6M1411 714.1h3M1425 714.1h6M1451 714.1h3M1469 714.1h3M1483 714.1h3M1495 714.1h6M1506 714.1h17M1558 714.1h6M1567 714.1h3M1573 714.1h6M1585 714.1h3M1619 714.1h3M1648 714.1h3M1654 714.1h12M1292 717.0h3M1306 717.0h3M1315 717.0h3M1321 717.0h3M1332 717.0h3M1361 717.0h6M1379 717.0h3M1390 717.0h3M1402 717.0h3M1416 717.0h3M1442 717.0h9M1460 717.0h9M1477 717.0h3M1518 717.0h6M1527 717.0h6M1535 717.0h3M1541 717.0h6M1558 717.0h3M1564 717.0h20M1596 717.0h3M1608 717.0h9M1625 717.0h6M1634 717.0h3M1648 717.0h3M1660 717.0h3M1289 719.9h6M1312 719.9h3M1347 719.9h6M1361 719.9h3M1367 719.9h9M1382 719.9h6M1402 719.9h12M1416 719.9h3M1440 719.9h6M1460 719.9h9M1477 719.9h3M1486 719.9h3M1492 719.9h3M1503 719.9h3M1509 719.9h3M1521 719.9h3M1541 719.9h3M1561 719.9h3M1570 719.9h3M1576 719.9h9M1590 719.9h3M1596 719.9h3M1602 719.9h3M1611 719.9h3M1619 719.9h3M1625 719.9h6M1643 719.9h3M1651 719.9h3M1657 719.9h9M1286 722.8h3M1298 722.8h3M1309 722.8h9M1321 722.8h3M1332 722.8h3M1341 722.8h3M1347 722.8h3M1356 722.8h12M1370 722.8h6M1382 722.8h6M1411 722.8h3M1425 722.8h3M1431 722.8h6M1440 722.8h6M1454 722.8h3M1466 722.8h6M1492 722.8h3M1498 722.8h9M1512 722.8h6M1527 722.8h6M1544 722.8h3M1550 722.8h9M1564 722.8h6M1576 722.8h3M1590 722.8h3M1602 722.8h3M1608 722.8h3M1614 722.8h3M1625 722.8h3M1634 722.8h6M1646 722.8h3M1657 722.8h3M1295 725.7h3M1318 725.7h3M1329 725.7h3M1344 725.7h3M1353 725.7h6M1390 725.7h6M1402 725.7h3M1414 725.7h3M1422 725.7h3M1431 725.7h6M1448 725.7h3M1460 725.7h3M1466 725.7h6M1477 725.7h3M1512 725.7h9M1530 725.7h3M1547 725.7h3M1556 725.7h3M1561 725.7h3M1573 725.7h3M1582 725.7h3M1593 725.7h6M1622 725.7h6M1640 725.7h6M1663 725.7h3M1292 728.6h9M1303 728.6h3M1318 728.6h6M1332 728.6h3M1353 728.6h3M1361 728.6h3M1379 728.6h6M1387 728.6h6M1405 728.6h6M1419 728.6h3M1425 728.6h3M1442 728.6h3M1451 728.6h6M1460 728.6h6M1469 728.6h3M1474 728.6h3M1489 728.6h14M1530 728.6h3M1535 728.6h3M1567 728.6h3M1579 728.6h3M1588 728.6h3M1602 728.6h6M1611 728.6h3M1622 728.6h3M1628 728.6h6M1637 728.6h3M1643 728.6h3M1648 728.6h9M1663 728.6h3M1283 731.5h3M1289 731.5h6M1300 731.5h3M1312 731.5h14M1341 731.5h3M1350 731.5h3M1379 731.5h3M1387 731.5h3M1396 731.5h9M1416 731.5h3M1425 731.5h20M1448 731.5h3M1460 731.5h9M1472 731.5h3M1486 731.5h9M1500 731.5h3M1506 731.5h3M1530 731.5h9M1541 731.5h3M1547 731.5h3M1553 731.5h9M1564 731.5h3M1585 731.5h6M1596 731.5h3M1605 731.5h3M1611 731.5h3M1616 731.5h3M1625 731.5h3M1637 731.5h6M1648 731.5h6M1295 734.4h3M1306 734.4h6M1318 734.4h3M1341 734.4h3M1350 734.4h3M1358 734.4h3M1379 734.4h9M1390 734.4h3M1425 734.4h3M1431 734.4h3M1442 734.4h3M1454 734.4h3M1472 734.4h12M1489 734.4h3M1495 734.4h3M1509 734.4h9M1532 734.4h3M1547 734.4h6M1570 734.4h6M1582 734.4h3M1596 734.4h6M1608 734.4h6M1619 734.4h6M1640 734.4h3M1663 734.4h3M1289 737.2h3M1298 737.2h6M1309 737.2h3M1329 737.2h3M1347 737.2h3M1353 737.2h3M1361 737.2h3M1387 737.2h3M1396 737.2h6M1411 737.2h3M1419 737.2h3M1434 737.2h3M1440 737.2h6M1448 737.2h3M1460 737.2h3M1474 737.2h3M1495 737.2h9M1515 737.2h6M1538 737.2h3M1544 737.2h3M1553 737.2h3M1558 737.2h6M1576 737.2h6M1585 737.2h9M1596 737.2h3M1602 737.2h3M1608 737.2h6M1625 737.2h3M1643 737.2h3M1654 737.2h3M1298 740.2h3M1303 740.2h6M1350 740.2h3M1361 740.2h9M1382 740.2h3M1387 740.2h3M1399 740.2h3M1408 740.2h3M1414 740.2h3M1425 740.2h6M1434 740.2h3M1448 740.2h3M1454 740.2h3M1463 740.2h3M1486 740.2h6M1503 740.2h3M1518 740.2h3M1532 740.2h9M1544 740.2h3M1558 740.2h3M1593 740.2h6M1602 740.2h3M1608 740.2h6M1619 740.2h6M1654 740.2h3M1663 740.2h3M1283 743.1h6M1292 743.1h3M1315 743.1h3M1324 743.1h3M1344 743.1h3M1350 743.1h3M1370 743.1h3M1387 743.1h3M1393 743.1h6M1414 743.1h3M1425 743.1h6M1437 743.1h3M1442 743.1h3M1451 743.1h3M1457 743.1h3M1495 743.1h17M1515 743.1h3M1521 743.1h3M1535 743.1h3M1544 743.1h6M1553 743.1h3M1564 743.1h6M1588 743.1h3M1599 743.1h3M1614 743.1h6M1622 743.1h6M1631 743.1h3M1654 743.1h3M1289 746.0h3M1298 746.0h3M1306 746.0h9M1318 746.0h3M1326 746.0h3M1335 746.0h6M1370 746.0h3M1387 746.0h3M1414 746.0h3M1419 746.0h3M1437 746.0h3M1442 746.0h3M1448 746.0h6M1463 746.0h3M1469 746.0h3M1474 746.0h3M1489 746.0h3M1498 746.0h3M1512 746.0h12M1530 746.0h3M1544 746.0h3M1553 746.0h3M1558 746.0h3M1564 746.0h12M1596 746.0h3M1608 746.0h6M1616 746.0h3M1637 746.0h3M1646 746.0h3M1651 746.0h6M1306 748.9h12M1326 748.9h6M1335 748.9h3M1350 748.9h6M1364 748.9h3M1370 748.9h6M1379 748.9h3M1390 748.9h6M1399 748.9h3M1405 748.9h6M1422 748.9h6M1431 748.9h6M1440 748.9h3M1451 748.9h3M1486 748.9h3M1495 748.9h3M1506 748.9h3M1524 748.9h3M1530 748.9h3M1556 748.9h3M1564 748.9h3M1573 748.9h3M1599 748.9h3M1608 748.9h3M1634 748.9h3M1640 748.9h6M1648 748.9h3M1654 748.9h3M1663 748.9h3M1286 751.8h3M1329 751.8h3M1361 751.8h6M1425 751.8h3M1431 751.8h3M1466 751.8h3M1480 751.8h6M1500 751.8h3M1512 751.8h3M1521 751.8h3M1558 751.8h3M1567 751.8h3M1579 751.8h6M1599 751.8h9M1611 751.8h3M1616 751.8h9M1637 751.8h3M1660 751.8h3M1286 754.7h9M1303 754.7h3M1326 754.7h6M1344 754.7h6M1358 754.7h6M1367 754.7h9M1379 754.7h6M1396 754.7h3M1405 754.7h6M1428 754.7h6M1437 754.7h3M1457 754.7h3M1477 754.7h3M1486 754.7h6M1495 754.7h3M1506 754.7h6M1515 754.7h3M1530 754.7h3M1538 754.7h6M1553 754.7h6M1561 754.7h3M1570 754.7h6M1588 754.7h3M1596 754.7h3M1602 754.7h3M1608 754.7h6M1625 754.7h6M1643 754.7h3M1651 754.7h9M1663 754.7h3M1286 757.6h6M1295 757.6h6M1315 757.6h3M1335 757.6h3M1353 757.6h3M1361 757.6h3M1373 757.6h3M1379 757.6h3M1396 757.6h6M1405 757.6h3M1416 757.6h6M1440 757.6h9M1451 757.6h9M1474 757.6h3M1483 757.6h3M1492 757.6h3M1498 757.6h6M1506 757.6h3M1512 757.6h6M1530 757.6h3M1538 757.6h3M1553 757.6h3M1576 757.6h3M1582 757.6h6M1590 757.6h3M1608 757.6h3M1622 757.6h3M1643 757.6h3M1651 757.6h6M1289 760.5h6M1303 760.5h9M1318 760.5h3M1326 760.5h6M1347 760.5h6M1356 760.5h3M1364 760.5h3M1373 760.5h3M1387 760.5h3M1396 760.5h3M1422 760.5h3M1431 760.5h3M1437 760.5h3M1445 760.5h3M1457 760.5h6M1469 760.5h6M1503 760.5h6M1532 760.5h3M1541 760.5h6M1567 760.5h6M1588 760.5h6M1602 760.5h3M1611 760.5h6M1622 760.5h3M1646 760.5h3M1654 760.5h3M1286 763.4h3M1318 763.4h6M1350 763.4h6M1361 763.4h3M1367 763.4h6M1379 763.4h6M1390 763.4h20M1416 763.4h3M1425 763.4h3M1431 763.4h3M1437 763.4h3M1445 763.4h3M1454 763.4h3M1460 763.4h3M1466 763.4h3M1492 763.4h6M1506 763.4h9M1518 763.4h3M1527 763.4h6M1558 763.4h3M1567 763.4h6M1576 763.4h3M1614 763.4h3M1631 763.4h3M1289 766.2h6M1300 766.2h3M1309 766.2h3M1318 766.2h9M1335 766.2h3M1353 766.2h3M1364 766.2h3M1382 766.2h9M1393 766.2h6M1408 766.2h3M1419 766.2h6M1434 766.2h12M1454 766.2h3M1483 766.2h3M1495 766.2h3M1500 766.2h3M1515 766.2h3M1561 766.2h6M1573 766.2h3M1582 766.2h3M1588 766.2h3M1596 766.2h6M1608 766.2h6M1616 766.2h9M1637 766.2h6M1648 766.2h3M1654 766.2h3M1292 769.2h3M1300 769.2h3M1306 769.2h3M1312 769.2h3M1326 769.2h6M1341 769.2h3M1347 769.2h6M1364 769.2h9M1382 769.2h3M1405 769.2h3M1422 769.2h3M1431 769.2h3M1437 769.2h3M1477 769.2h6M1506 769.2h3M1512 769.2h12M1530 769.2h3M1538 769.2h12M1570 769.2h3M1585 769.2h3M1590 769.2h6M1605 769.2h9M1622 769.2h3M1637 769.2h6M1646 769.2h6M1660 769.2h3M1306 772.1h3M1315 772.1h3M1332 772.1h3M1347 772.1h3M1361 772.1h3M1370 772.1h3M1376 772.1h3M1390 772.1h6M1408 772.1h3M1414 772.1h3M1422 772.1h3M1431 772.1h3M1437 772.1h3M1442 772.1h3M1451 772.1h6M1460 772.1h3M1466 772.1h3M1472 772.1h3M1495 772.1h3M1503 772.1h9M1515 772.1h6M1535 772.1h3M1550 772.1h6M1576 772.1h6M1593 772.1h6M1602 772.1h3M1608 772.1h3M1625 772.1h3M1643 772.1h3M1648 772.1h3M1663 772.1h3M1286 775.0h3M1300 775.0h6M1312 775.0h3M1318 775.0h3M1324 775.0h3M1329 775.0h6M1344 775.0h3M1350 775.0h3M1361 775.0h9M1384 775.0h3M1405 775.0h3M1411 775.0h6M1419 775.0h3M1428 775.0h3M1442 775.0h6M1451 775.0h3M1457 775.0h3M1474 775.0h6M1489 775.0h9M1500 775.0h3M1518 775.0h3M1527 775.0h3M1547 775.0h3M1553 775.0h3M1558 775.0h6M1567 775.0h3M1573 775.0h3M1590 775.0h3M1599 775.0h9M1619 775.0h6M1628 775.0h3M1634 775.0h3M1654 775.0h9M1289 777.9h3M1295 777.9h3M1300 777.9h3M1309 777.9h3M1315 777.9h3M1324 777.9h3M1344 777.9h3M1353 777.9h3M1367 777.9h3M1379 777.9h3M1387 777.9h3M1411 777.9h6M1419 777.9h3M1431 777.9h3M1437 777.9h3M1451 777.9h12M1466 777.9h3M1480 777.9h3M1486 777.9h3M1503 777.9h6M1521 777.9h3M1530 777.9h3M1538 777.9h3M1567 777.9h3M1573 777.9h3M1588 777.9h9M1608 777.9h3M1619 777.9h17M1657 777.9h6M1289 780.8h14M1306 780.8h6M1315 780.8h6M1324 780.8h3M1341 780.8h3M1373 780.8h3M1382 780.8h3M1390 780.8h6M1402 780.8h3M1414 780.8h3M1422 780.8h3M1428 780.8h3M1448 780.8h3M1454 780.8h3M1469 780.8h3M1495 780.8h6M1521 780.8h3M1532 780.8h6M1547 780.8h6M1556 780.8h3M1564 780.8h3M1576 780.8h3M1588 780.8h6M1596 780.8h3M1608 780.8h3M1622 780.8h3M1637 780.8h6M1648 780.8h3M1654 780.8h3M1660 780.8h3M1286 783.7h3M1300 783.7h3M1306 783.7h9M1326 783.7h3M1335 783.7h3M1347 783.7h3M1373 783.7h3M1382 783.7h6M1414 783.7h3M1425 783.7h3M1437 783.7h3M1442 783.7h9M1457 783.7h3M1463 783.7h6M1477 783.7h3M1483 783.7h3M1489 783.7h3M1495 783.7h3M1500 783.7h3M1506 783.7h3M1521 783.7h3M1527 783.7h3M1532 783.7h3M1553 783.7h3M1558 783.7h3M1567 783.7h3M1599 783.7h6M1614 783.7h6M1625 783.7h3M1634 783.7h3M1648 783.7h6M1286 786.5h6M1300 786.5h6M1321 786.5h3M1329 786.5h3M1335 786.5h3M1341 786.5h3M1347 786.5h6M1356 786.5h6M1367 786.5h3M1382 786.5h12M1402 786.5h3M1411 786.5h3M1419 786.5h3M1425 786.5h3M1437 786.5h6M1445 786.5h3M1454 786.5h6M1472 786.5h3M1477 786.5h3M1492 786.5h6M1518 786.5h3M1527 786.5h3M1547 786.5h3M1556 786.5h6M1570 786.5h3M1576 786.5h3M1582 786.5h3M1588 786.5h3M1593 786.5h3M1602 786.5h6M1631 786.5h3M1640 786.5h6M1654 786.5h9M1283 789.5h3M1298 789.5h6M1329 789.5h6M1338 789.5h9M1361 789.5h9M1376 789.5h3M1393 789.5h6M1408 789.5h3M1445 789.5h3M1466 789.5h3M1477 789.5h3M1503 789.5h3M1521 789.5h3M1530 789.5h3M1561 789.5h3M1573 789.5h6M1588 789.5h3M1593 789.5h6M1628 789.5h3M1640 789.5h3M1648 789.5h3M1654 789.5h6M1286 792.4h3M1292 792.4h3M1298 792.4h3M1303 792.4h3M1312 792.4h3M1326 792.4h3M1332 792.4h23M1361 792.4h3M1376 792.4h3M1402 792.4h3M1408 792.4h3M1431 792.4h3M1440 792.4h3M1448 792.4h3M1457 792.4h3M1474 792.4h3M1480 792.4h3M1489 792.4h3M1495 792.4h3M1521 792.4h6M1550 792.4h6M1558 792.4h3M1576 792.4h3M1582 792.4h6M1596 792.4h6M1611 792.4h6M1619 792.4h3M1625 792.4h6M1637 792.4h3M1648 792.4h3M1663 792.4h3M1289 795.2h3M1295 795.2h3M1300 795.2h6M1309 795.2h3M1353 795.2h3M1358 795.2h3M1367 795.2h3M1382 795.2h6M1396 795.2h3M1405 795.2h6M1425 795.2h3M1431 795.2h14M1454 795.2h6M1469 795.2h6M1477 795.2h3M1486 795.2h3M1500 795.2h3M1521 795.2h3M1527 795.2h3M1532 795.2h6M1564 795.2h3M1570 795.2h3M1579 795.2h3M1585 795.2h6M1599 795.2h6M1614 795.2h3M1622 795.2h3M1640 795.2h6M1651 795.2h6M1283 798.2h9M1309 798.2h3M1324 798.2h3M1332 798.2h3M1338 798.2h3M1347 798.2h12M1361 798.2h9M1382 798.2h6M1408 798.2h3M1434 798.2h3M1454 798.2h3M1472 798.2h3M1480 798.2h6M1489 798.2h3M1498 798.2h3M1512 798.2h3M1521 798.2h3M1530 798.2h3M1547 798.2h3M1553 798.2h9M1564 798.2h6M1585 798.2h3M1596 798.2h3M1616 798.2h3M1637 798.2h3M1651 798.2h3M1660 798.2h3M1300 801.0h3M1309 801.0h3M1332 801.0h3M1341 801.0h3M1350 801.0h9M1370 801.0h3M1379 801.0h3M1384 801.0h6M1402 801.0h3M1419 801.0h9M1445 801.0h3M1463 801.0h6M1472 801.0h3M1483 801.0h3M1489 801.0h6M1498 801.0h6M1515 801.0h3M1524 801.0h9M1538 801.0h3M1550 801.0h3M1556 801.0h3M1561 801.0h6M1570 801.0h3M1593 801.0h9M1619 801.0h3M1625 801.0h3M1637 801.0h6M1654 801.0h3M1303 804.0h3M1318 804.0h3M1324 804.0h3M1332 804.0h3M1376 804.0h3M1387 804.0h6M1396 804.0h9M1416 804.0h6M1437 804.0h3M1448 804.0h3M1460 804.0h6M1480 804.0h3M1489 804.0h3M1498 804.0h3M1503 804.0h6M1512 804.0h3M1547 804.0h3M1558 804.0h3M1579 804.0h3M1588 804.0h3M1593 804.0h3M1599 804.0h3M1605 804.0h3M1616 804.0h3M1622 804.0h9M1643 804.0h3M1663 804.0h3M1283 806.9h3M1289 806.9h3M1295 806.9h6M1306 806.9h3M1315 806.9h3M1324 806.9h3M1332 806.9h12M1347 806.9h6M1358 806.9h3M1364 806.9h3M1370 806.9h6M1384 806.9h9M1399 806.9h12M1434 806.9h3M1460 806.9h3M1472 806.9h14M1503 806.9h3M1515 806.9h6M1524 806.9h6M1532 806.9h3M1541 806.9h3M1547 806.9h3M1570 806.9h6M1579 806.9h9M1614 806.9h3M1622 806.9h3M1631 806.9h9M1654 806.9h3M1660 806.9h6M1283 809.8h3M1303 809.8h3M1321 809.8h3M1344 809.8h3M1350 809.8h3M1356 809.8h3M1361 809.8h6M1370 809.8h3M1379 809.8h3M1387 809.8h6M1402 809.8h9M1425 809.8h6M1434 809.8h3M1442 809.8h3M1466 809.8h3M1483 809.8h3M1492 809.8h3M1500 809.8h3M1506 809.8h3M1512 809.8h3M1535 809.8h3M1547 809.8h3M1564 809.8h3M1616 809.8h3M1622 809.8h6M1648 809.8h6M1663 809.8h3M1292 812.7h6M1315 812.7h3M1321 812.7h3M1341 812.7h3M1347 812.7h6M1356 812.7h6M1364 812.7h6M1376 812.7h3M1387 812.7h6M1399 812.7h3M1414 812.7h6M1437 812.7h3M1442 812.7h3M1448 812.7h3M1454 812.7h6M1483 812.7h3M1506 812.7h3M1512 812.7h3M1521 812.7h6M1541 812.7h3M1576 812.7h17M1602 812.7h6M1631 812.7h3M1637 812.7h6M1648 812.7h3M1663 812.7h3M1286 815.5h3M1318 815.5h6M1335 815.5h3M1344 815.5h3M1353 815.5h3M1370 815.5h3M1379 815.5h3M1387 815.5h3M1414 815.5h3M1431 815.5h6M1440 815.5h3M1448 815.5h6M1457 815.5h3M1466 815.5h3M1480 815.5h3M1498 815.5h9M1512 815.5h3M1538 815.5h3M1544 815.5h3M1558 815.5h3M1570 815.5h3M1579 815.5h6M1588 815.5h3M1602 815.5h3M1608 815.5h3M1614 815.5h3M1637 815.5h3M1646 815.5h3M1654 815.5h3M1663 815.5h3M1292 818.5h3M1309 818.5h3M1315 818.5h3M1321 818.5h3M1329 818.5h3M1338 818.5h3M1347 818.5h3M1358 818.5h3M1376 818.5h3M1382 818.5h3M1390 818.5h3M1419 818.5h3M1437 818.5h12M1466 818.5h6M1480 818.5h3M1495 818.5h3M1500 818.5h3M1506 818.5h6M1527 818.5h6M1535 818.5h3M1553 818.5h3M1579 818.5h12M1599 818.5h6M1622 818.5h3M1628 818.5h3M1634 818.5h3M1643 818.5h3M1651 818.5h3M1663 818.5h3M1283 821.4h3M1303 821.4h3M1312 821.4h3M1326 821.4h6M1341 821.4h3M1350 821.4h3M1358 821.4h6M1370 821.4h3M1376 821.4h3M1382 821.4h3M1387 821.4h3M1405 821.4h3M1411 821.4h3M1422 821.4h3M1437 821.4h6M1463 821.4h3M1472 821.4h3M1477 821.4h3M1498 821.4h3M1503 821.4h3M1512 821.4h6M1530 821.4h3M1535 821.4h3M1570 821.4h3M1579 821.4h9M1590 821.4h3M1599 821.4h3M1605 821.4h3M1611 821.4h9M1622 821.4h6M1634 821.4h9M1648 821.4h3M1654 821.4h6M1283 824.2h3M1289 824.2h6M1306 824.2h3M1312 824.2h3M1318 824.2h3M1329 824.2h6M1356 824.2h3M1367 824.2h3M1390 824.2h3M1402 824.2h3M1411 824.2h3M1434 824.2h9M1448 824.2h3M1495 824.2h3M1503 824.2h3M1512 824.2h3M1518 824.2h3M1532 824.2h3M1550 824.2h6M1585 824.2h3M1590 824.2h3M1605 824.2h3M1614 824.2h3M1619 824.2h6M1631 824.2h6M1640 824.2h3M1315 827.2h3M1321 827.2h3M1326 827.2h3M1335 827.2h3M1344 827.2h3M1367 827.2h3M1384 827.2h3M1396 827.2h6M1416 827.2h3M1437 827.2h3M1448 827.2h3M1454 827.2h3M1463 827.2h6M1472 827.2h3M1483 827.2h3M1489 827.2h3M1495 827.2h3M1503 827.2h3M1521 827.2h3M1527 827.2h3M1541 827.2h6M1550 827.2h3M1558 827.2h3M1564 827.2h6M1588 827.2h3M1596 827.2h6M1625 827.2h6M1637 827.2h9M1648 827.2h3M1657 827.2h3M1286 830.0h6M1300 830.0h3M1312 830.0h3M1321 830.0h6M1347 830.0h3M1361 830.0h9M1379 830.0h3M1390 830.0h3M1396 830.0h3M1402 830.0h6M1414 830.0h3M1445 830.0h3M1451 830.0h6M1460 830.0h3M1474 830.0h3M1480 830.0h6M1489 830.0h3M1495 830.0h3M1500 830.0h3M1509 830.0h3M1518 830.0h3M1550 830.0h6M1593 830.0h9M1616 830.0h3M1622 830.0h23M1654 830.0h3M1660 830.0h3M1292 833.0h6M1306 833.0h3M1312 833.0h3M1324 833.0h3M1338 833.0h3M1344 833.0h3M1367 833.0h3M1382 833.0h3M1396 833.0h3M1408 833.0h3M1414 833.0h3M1431 833.0h6M1440 833.0h3M1445 833.0h6M1457 833.0h9M1469 833.0h9M1489 833.0h9M1512 833.0h6M1521 833.0h3M1532 833.0h3M1538 833.0h3M1561 833.0h3M1567 833.0h3M1573 833.0h3M1590 833.0h3M1605 833.0h3M1619 833.0h3M1628 833.0h3M1657 833.0h3M1663 833.0h3M1292 835.9h3M1298 835.9h3M1306 835.9h3M1324 835.9h6M1344 835.9h3M1361 835.9h3M1370 835.9h3M1382 835.9h9M1405 835.9h3M1411 835.9h3M1416 835.9h6M1431 835.9h3M1463 835.9h6M1472 835.9h3M1500 835.9h17M1547 835.9h3M1553 835.9h3M1561 835.9h3M1570 835.9h6M1585 835.9h3M1590 835.9h3M1605 835.9h3M1616 835.9h3M1622 835.9h3M1631 835.9h3M1657 835.9h3M1295 838.8h6M1309 838.8h3M1321 838.8h6M1335 838.8h3M1347 838.8h3M1356 838.8h3M1361 838.8h9M1376 838.8h3M1384 838.8h3M1393 838.8h3M1402 838.8h3M1411 838.8h3M1425 838.8h6M1434 838.8h3M1445 838.8h3M1454 838.8h3M1460 838.8h6M1477 838.8h3M1489 838.8h12M1509 838.8h3M1544 838.8h3M1550 838.8h6M1570 838.8h6M1579 838.8h3M1588 838.8h3M1593 838.8h6M1605 838.8h3M1619 838.8h3M1628 838.8h6M1637 838.8h3M1657 838.8h3M1283 841.7h6M1298 841.7h3M1324 841.7h3M1329 841.7h3M1338 841.7h3M1344 841.7h3M1367 841.7h6M1379 841.7h3M1387 841.7h3M1396 841.7h3M1405 841.7h3M1414 841.7h3M1428 841.7h3M1434 841.7h3M1445 841.7h3M1483 841.7h3M1503 841.7h3M1515 841.7h3M1521 841.7h6M1530 841.7h3M1538 841.7h6M1547 841.7h3M1556 841.7h3M1585 841.7h3M1593 841.7h3M1611 841.7h3M1625 841.7h3M1631 841.7h3M1660 841.7h3M1283 844.5h23M1309 844.5h3M1321 844.5h6M1329 844.5h3M1353 844.5h9M1364 844.5h3M1376 844.5h3M1382 844.5h3M1387 844.5h6M1396 844.5h3M1411 844.5h3M1428 844.5h3M1440 844.5h3M1451 844.5h3M1472 844.5h6M1483 844.5h6M1492 844.5h6M1509 844.5h3M1518 844.5h3M1527 844.5h3M1535 844.5h6M1544 844.5h3M1553 844.5h3M1573 844.5h3M1582 844.5h6M1605 844.5h6M1619 844.5h6M1631 844.5h3M1643 844.5h3M1648 844.5h3M1654 844.5h3M1295 847.5h6M1303 847.5h3M1315 847.5h3M1321 847.5h3M1341 847.5h23M1367 847.5h6M1379 847.5h3M1387 847.5h3M1402 847.5h6M1414 847.5h9M1454 847.5h6M1463 847.5h6M1472 847.5h6M1483 847.5h3M1489 847.5h6M1498 847.5h6M1532 847.5h3M1538 847.5h3M1544 847.5h3M1564 847.5h3M1573 847.5h17M1593 847.5h6M1602 847.5h3M1614 847.5h3M1622 847.5h6M1643 847.5h3M1648 847.5h3M1657 847.5h3M1283 850.4h3M1298 850.4h6M1309 850.4h3M1315 850.4h3M1324 850.4h6M1338 850.4h3M1344 850.4h6M1364 850.4h3M1376 850.4h3M1387 850.4h3M1408 850.4h3M1416 850.4h3M1422 850.4h3M1431 850.4h3M1445 850.4h3M1451 850.4h3M1463 850.4h3M1477 850.4h3M1483 850.4h3M1489 850.4h3M1498 850.4h3M1512 850.4h6M1532 850.4h6M1547 850.4h3M1558 850.4h3M1567 850.4h3M1582 850.4h9M1599 850.4h3M1611 850.4h3M1640 850.4h3M1648 850.4h9M1286 853.2h6M1295 853.2h3M1326 853.2h3M1350 853.2h3M1358 853.2h3M1370 853.2h3M1379 853.2h9M1390 853.2h3M1396 853.2h3M1402 853.2h6M1411 853.2h3M1425 853.2h3M1437 853.2h3M1448 853.2h3M1454 853.2h3M1460 853.2h3M1477 853.2h3M1495 853.2h6M1503 853.2h3M1527 853.2h9M1558 853.2h3M1579 853.2h6M1590 853.2h3M1596 853.2h6M1616 853.2h6M1637 853.2h3M1643 853.2h3M1663 853.2h3M1283 856.2h3M1289 856.2h3M1309 856.2h3M1318 856.2h6M1326 856.2h3M1332 856.2h3M1338 856.2h3M1350 856.2h6M1384 856.2h3M1425 856.2h6M1448 856.2h9M1460 856.2h3M1472 856.2h3M1524 856.2h6M1544 856.2h9M1558 856.2h6M1576 856.2h3M1588 856.2h3M1599 856.2h3M1605 856.2h3M1616 856.2h3M1631 856.2h9M1654 856.2h3M1292 859.0h3M1300 859.0h3M1312 859.0h3M1318 859.0h3M1329 859.0h6M1341 859.0h3M1347 859.0h3M1356 859.0h3M1361 859.0h3M1370 859.0h3M1384 859.0h3M1399 859.0h3M1425 859.0h6M1448 859.0h6M1460 859.0h3M1466 859.0h6M1486 859.0h9M1506 859.0h3M1512 859.0h6M1535 859.0h3M1561 859.0h3M1567 859.0h3M1576 859.0h9M1588 859.0h3M1596 859.0h3M1602 859.0h3M1614 859.0h3M1619 859.0h3M1643 859.0h3M1648 859.0h6" stroke="#6a6a6a" stroke-width="2.9" fill="none"/><path d="M1289 528.5h3M1303 528.5h3M1312 528.5h3M1321 528.5h3M1329 528.5h3M1347 528.5h3M1364 528.5h6M1387 528.5h3M1399 528.5h3M1408 528.5h9M1431 528.5h6M1451 528.5h3M1466 528.5h3M1474 528.5h3M1486 528.5h3M1500 528.5h3M1515 528.5h3M1524 528.5h9M1553 528.5h9M1567 528.5h6M1582 528.5h3M1593 528.5h3M1599 528.5h3M1605 528.5h6M1625 528.5h6M1657 528.5h3M1663 528.5h3M1286 531.4h3M1306 531.4h9M1324 531.4h3M1347 531.4h3M1367 531.4h3M1379 531.4h3M1445 531.4h3M1469 531.4h6M1477 531.4h6M1495 531.4h9M1506 531.4h9M1518 531.4h3M1527 531.4h3M1553 531.4h3M1573 531.4h3M1579 531.4h3M1588 531.4h3M1616 531.4h3M1634 531.4h9M1286 534.2h3M1309 534.2h6M1321 534.2h3M1329 534.2h3M1338 534.2h6M1384 534.2h3M1393 534.2h6M1402 534.2h3M1414 534.2h3M1419 534.2h3M1431 534.2h3M1437 534.2h6M1454 534.2h3M1469 534.2h3M1477 534.2h3M1486 534.2h3M1492 534.2h3M1498 534.2h3M1503 534.2h3M1512 534.2h3M1527 534.2h3M1550 534.2h3M1558 534.2h3M1567 534.2h12M1585 534.2h3M1593 534.2h3M1602 534.2h3M1611 534.2h6M1648 534.2h3M1286 537.2h9M1300 537.2h3M1315 537.2h9M1329 537.2h6M1341 537.2h3M1353 537.2h6M1367 537.2h6M1376 537.2h3M1382 537.2h3M1399 537.2h14M1425 537.2h3M1437 537.2h9M1448 537.2h6M1460 537.2h12M1477 537.2h3M1495 537.2h3M1518 537.2h3M1524 537.2h3M1535 537.2h3M1541 537.2h3M1550 537.2h6M1567 537.2h3M1576 537.2h3M1582 537.2h3M1596 537.2h6M1608 537.2h3M1616 537.2h3M1622 537.2h3M1634 537.2h3M1640 537.2h6M1651 537.2h9M1663 537.2h3M1289 540.1h3M1298 540.1h3M1303 540.1h3M1324 540.1h3M1329 540.1h6M1338 540.1h6M1347 540.1h6M1356 540.1h3M1361 540.1h3M1367 540.1h3M1376 540.1h6M1384 540.1h3M1390 540.1h3M1414 540.1h3M1437 540.1h9M1454 540.1h6M1463 540.1h3M1469 540.1h6M1489 540.1h3M1495 540.1h3M1527 540.1h6M1541 540.1h6M1561 540.1h3M1570 540.1h3M1576 540.1h3M1582 540.1h3M1588 540.1h3M1593 540.1h3M1611 540.1h3M1619 540.1h3M1628 540.1h6M1637 540.1h6M1648 540.1h3M1654 540.1h3M1292 543.0h3M1300 543.0h6M1309 543.0h3M1315 543.0h3M1321 543.0h3M1329 543.0h3M1361 543.0h9M1382 543.0h3M1416 543.0h3M1422 543.0h3M1442 543.0h3M1460 543.0h3M1474 543.0h3M1483 543.0h3M1492 543.0h3M1506 543.0h3M1524 543.0h6M1538 543.0h3M1544 543.0h6M1556 543.0h6M1576 543.0h3M1596 543.0h3M1602 543.0h3M1608 543.0h14M1637 543.0h3M1654 543.0h12M1286 545.9h3M1295 545.9h6M1309 545.9h3M1324 545.9h3M1329 545.9h3M1338 545.9h3M1344 545.9h3M1356 545.9h3M1364 545.9h3M1373 545.9h6M1384 545.9h6M1393 545.9h6M1402 545.9h3M1416 545.9h6M1428 545.9h3M1434 545.9h3M1442 545.9h3M1451 545.9h3M1460 545.9h9M1489 545.9h3M1506 545.9h3M1544 545.9h3M1553 545.9h3M1558 545.9h3M1567 545.9h3M1573 545.9h6M1588 545.9h3M1602 545.9h3M1608 545.9h3M1614 545.9h3M1631 545.9h3M1643 545.9h6M1657 545.9h3M1303 548.8h3M1309 548.8h3M1315 548.8h3M1326 548.8h3M1332 548.8h3M1338 548.8h3M1356 548.8h3M1373 548.8h6M1384 548.8h3M1393 548.8h3M1405 548.8h6M1416 548.8h3M1422 548.8h6M1431 548.8h6M1451 548.8h3M1460 548.8h3M1466 548.8h6M1474 548.8h3M1480 548.8h6M1492 548.8h3M1498 548.8h3M1503 548.8h3M1527 548.8h3M1535 548.8h9M1547 548.8h3M1558 548.8h6M1585 548.8h3M1590 548.8h6M1602 548.8h6M1611 548.8h3M1616 548.8h3M1625 548.8h6M1643 548.8h6M1283 551.7h3M1292 551.7h3M1300 551.7h3M1312 551.7h3M1318 551.7h3M1326 551.7h6M1338 551.7h3M1356 551.7h9M1370 551.7h3M1379 551.7h3M1393 551.7h6M1402 551.7h3M1414 551.7h3M1425 551.7h3M1448 551.7h3M1460 551.7h3M1474 551.7h3M1480 551.7h3M1486 551.7h6M1500 551.7h3M1527 551.7h6M1544 551.7h6M1553 551.7h3M1561 551.7h3M1570 551.7h3M1582 551.7h3M1611 551.7h6M1622 551.7h6M1643 551.7h3M1648 551.7h3M1657 551.7h3M1295 554.6h3M1306 554.6h3M1312 554.6h3M1324 554.6h6M1335 554.6h3M1356 554.6h3M1373 554.6h3M1390 554.6h12M1405 554.6h3M1419 554.6h6M1434 554.6h3M1451 554.6h3M1460 554.6h6M1469 554.6h17M1500 554.6h3M1518 554.6h3M1524 554.6h3M1530 554.6h3M1550 554.6h3M1570 554.6h3M1576 554.6h3M1585 554.6h3M1590 554.6h3M1599 554.6h3M1605 554.6h3M1611 554.6h12M1631 554.6h3M1637 554.6h3M1646 554.6h3M1651 554.6h3M1660 554.6h3M1298 557.5h6M1315 557.5h6M1341 557.5h3M1379 557.5h3M1390 557.5h3M1396 557.5h12M1411 557.5h9M1425 557.5h3M1448 557.5h9M1460 557.5h6M1474 557.5h3M1483 557.5h3M1495 557.5h3M1500 557.5h3M1506 557.5h3M1515 557.5h3M1532 557.5h3M1541 557.5h3M1553 557.5h9M1579 557.5h3M1614 557.5h3M1628 557.5h9M1651 557.5h3M1657 557.5h3M1663 557.5h3M1300 560.4h3M1321 560.4h3M1329 560.4h6M1341 560.4h3M1347 560.4h6M1361 560.4h9M1382 560.4h3M1387 560.4h12M1405 560.4h3M1431 560.4h3M1437 560.4h3M1445 560.4h6M1463 560.4h3M1477 560.4h3M1486 560.4h3M1495 560.4h3M1503 560.4h3M1509 560.4h6M1527 560.4h3M1535 560.4h3M1547 560.4h3M1556 560.4h6M1564 560.4h3M1599 560.4h3M1605 560.4h3M1616 560.4h12M1637 560.4h14M1283 563.2h9M1315 563.2h6M1364 563.2h3M1396 563.2h3M1402 563.2h6M1419 563.2h3M1428 563.2h3M1434 563.2h3M1451 563.2h3M1506 563.2h3M1515 563.2h9M1547 563.2h3M1556 563.2h3M1561 563.2h9M1576 563.2h3M1602 563.2h9M1614 563.2h3M1619 563.2h3M1625 563.2h3M1631 563.2h3M1648 563.2h3M1657 563.2h6M1292 566.2h3M1298 566.2h3M1303 566.2h3M1324 566.2h6M1350 566.2h9M1370 566.2h6M1382 566.2h3M1387 566.2h6M1408 566.2h3M1419 566.2h6M1428 566.2h6M1437 566.2h6M1454 566.2h3M1463 566.2h3M1469 566.2h3M1474 566.2h3M1492 566.2h6M1512 566.2h9M1547 566.2h9M1573 566.2h12M1593 566.2h3M1616 566.2h6M1628 566.2h3M1654 566.2h3M1283 569.1h3M1289 569.1h3M1295 569.1h6M1309 569.1h3M1315 569.1h3M1321 569.1h3M1335 569.1h3M1379 569.1h3M1390 569.1h3M1399 569.1h6M1431 569.1h3M1472 569.1h6M1480 569.1h3M1492 569.1h3M1509 569.1h3M1515 569.1h3M1532 569.1h3M1558 569.1h3M1567 569.1h6M1585 569.1h3M1602 569.1h3M1614 569.1h3M1619 569.1h3M1625 569.1h3M1637 569.1h3M1646 569.1h3M1654 569.1h3M1660 569.1h3M1292 572.0h3M1300 572.0h3M1324 572.0h3M1335 572.0h6M1361 572.0h3M1376 572.0h3M1387 572.0h3M1419 572.0h6M1431 572.0h3M1442 572.0h3M1451 572.0h6M1466 572.0h3M1474 572.0h6M1486 572.0h3M1492 572.0h3M1500 572.0h3M1521 572.0h3M1527 572.0h6M1535 572.0h3M1547 572.0h9M1558 572.0h3M1567 572.0h3M1579 572.0h3M1590 572.0h3M1616 572.0h3M1654 572.0h3M1298 574.9h3M1306 574.9h3M1312 574.9h9M1326 574.9h3M1332 574.9h3M1341 574.9h6M1353 574.9h3M1373 574.9h3M1384 574.9h3M1393 574.9h3M1399 574.9h3M1414 574.9h3M1425 574.9h3M1437 574.9h3M1454 574.9h3M1469 574.9h3M1474 574.9h3M1483 574.9h3M1500 574.9h6M1541 574.9h3M1550 574.9h6M1561 574.9h3M1567 574.9h3M1590 574.9h6M1616 574.9h3M1654 574.9h6M1286 577.8h6M1309 577.8h3M1315 577.8h6M1335 577.8h3M1350 577.8h6M1358 577.8h3M1364 577.8h3M1370 577.8h3M1382 577.8h3M1442 577.8h3M1448 577.8h3M1460 577.8h3M1472 577.8h3M1480 577.8h3M1486 577.8h6M1515 577.8h3M1535 577.8h3M1544 577.8h6M1556 577.8h3M1561 577.8h6M1576 577.8h3M1588 577.8h3M1596 577.8h9M1619 577.8h6M1663 577.8h3M1286 580.7h3M1295 580.7h3M1306 580.7h9M1318 580.7h3M1324 580.7h3M1335 580.7h6M1350 580.7h3M1373 580.7h3M1387 580.7h3M1396 580.7h6M1405 580.7h3M1414 580.7h6M1440 580.7h3M1457 580.7h6M1483 580.7h3M1547 580.7h3M1553 580.7h3M1558 580.7h3M1564 580.7h3M1570 580.7h3M1576 580.7h3M1582 580.7h3M1588 580.7h3M1593 580.7h6M1608 580.7h3M1614 580.7h3M1619 580.7h9M1646 580.7h3M1651 580.7h3M1295 583.6h3M1321 583.6h3M1356 583.6h6M1367 583.6h6M1376 583.6h3M1382 583.6h6M1393 583.6h6M1405 583.6h6M1419 583.6h3M1434 583.6h3M1442 583.6h3M1480 583.6h3M1492 583.6h3M1512 583.6h6M1521 583.6h3M1535 583.6h6M1550 583.6h3M1564 583.6h3M1570 583.6h3M1588 583.6h6M1599 583.6h3M1611 583.6h3M1628 583.6h6M1637 583.6h3M1643 583.6h6M1651 583.6h3M1660 583.6h3M1286 586.5h3M1292 586.5h3M1298 586.5h3M1303 586.5h6M1335 586.5h6M1356 586.5h6M1367 586.5h3M1384 586.5h3M1393 586.5h9M1408 586.5h3M1428 586.5h6M1437 586.5h3M1445 586.5h3M1457 586.5h12M1472 586.5h3M1486 586.5h3M1492 586.5h3M1506 586.5h3M1532 586.5h3M1550 586.5h3M1556 586.5h3M1561 586.5h12M1588 586.5h3M1654 586.5h3M1283 589.4h3M1295 589.4h3M1303 589.4h9M1318 589.4h3M1332 589.4h6M1350 589.4h6M1367 589.4h3M1379 589.4h6M1387 589.4h3M1393 589.4h3M1419 589.4h6M1428 589.4h6M1437 589.4h3M1454 589.4h6M1472 589.4h3M1480 589.4h3M1530 589.4h3M1541 589.4h6M1558 589.4h3M1564 589.4h3M1570 589.4h6M1579 589.4h9M1590 589.4h9M1608 589.4h3M1619 589.4h3M1631 589.4h3M1654 589.4h3M1283 592.2h6M1300 592.2h3M1306 592.2h3M1324 592.2h3M1335 592.2h3M1353 592.2h3M1358 592.2h9M1376 592.2h3M1405 592.2h3M1425 592.2h3M1431 592.2h6M1457 592.2h12M1472 592.2h6M1480 592.2h3M1486 592.2h3M1506 592.2h3M1524 592.2h3M1538 592.2h3M1547 592.2h3M1553 592.2h6M1588 592.2h3M1619 592.2h3M1631 592.2h6M1640 592.2h3M1646 592.2h3M1289 595.2h6M1300 595.2h3M1318 595.2h3M1329 595.2h6M1344 595.2h3M1353 595.2h3M1370 595.2h3M1390 595.2h3M1428 595.2h6M1442 595.2h3M1451 595.2h3M1457 595.2h3M1466 595.2h9M1480 595.2h3M1503 595.2h3M1518 595.2h3M1527 595.2h3M1532 595.2h3M1538 595.2h6M1556 595.2h6M1579 595.2h3M1599 595.2h3M1614 595.2h3M1622 595.2h14M1654 595.2h3M1283 598.1h3M1303 598.1h3M1312 598.1h3M1329 598.1h6M1341 598.1h3M1347 598.1h3M1356 598.1h9M1367 598.1h14M1390 598.1h3M1411 598.1h3M1422 598.1h3M1428 598.1h3M1451 598.1h3M1457 598.1h3M1466 598.1h3M1486 598.1h9M1509 598.1h3M1527 598.1h6M1535 598.1h3M1541 598.1h3M1547 598.1h3M1561 598.1h3M1579 598.1h3M1588 598.1h6M1608 598.1h3M1628 598.1h3M1634 598.1h3M1643 598.1h6M1657 598.1h3M1286 601.0h3M1292 601.0h20M1344 601.0h3M1350 601.0h3M1382 601.0h12M1399 601.0h6M1408 601.0h3M1440 601.0h3M1445 601.0h3M1477 601.0h6M1486 601.0h6M1503 601.0h3M1509 601.0h12M1527 601.0h3M1538 601.0h6M1556 601.0h3M1576 601.0h3M1605 601.0h3M1614 601.0h6M1646 601.0h3M1651 601.0h3M1298 603.9h6M1306 603.9h3M1318 603.9h3M1326 603.9h12M1358 603.9h9M1387 603.9h3M1393 603.9h3M1425 603.9h3M1437 603.9h3M1460 603.9h6M1483 603.9h3M1489 603.9h3M1498 603.9h3M1506 603.9h6M1527 603.9h6M1538 603.9h6M1547 603.9h3M1570 603.9h6M1593 603.9h3M1605 603.9h3M1622 603.9h6M1637 603.9h9M1651 603.9h9M1286 606.8h6M1295 606.8h3M1300 606.8h3M1329 606.8h3M1341 606.8h6M1350 606.8h3M1358 606.8h3M1370 606.8h9M1390 606.8h3M1408 606.8h3M1428 606.8h6M1437 606.8h3M1466 606.8h3M1489 606.8h3M1498 606.8h6M1512 606.8h3M1518 606.8h3M1544 606.8h3M1553 606.8h3M1561 606.8h3M1570 606.8h3M1582 606.8h3M1593 606.8h3M1614 606.8h3M1643 606.8h3M1648 606.8h6M1660 606.8h6M1303 609.7h9M1329 609.7h3M1338 609.7h3M1350 609.7h6M1364 609.7h3M1379 609.7h3M1411 609.7h6M1422 609.7h3M1431 609.7h6M1442 609.7h3M1448 609.7h3M1454 609.7h6M1466 609.7h3M1483 609.7h6M1492 609.7h3M1498 609.7h3M1512 609.7h3M1532 609.7h3M1538 609.7h3M1550 609.7h3M1556 609.7h3M1567 609.7h3M1590 609.7h6M1622 609.7h3M1640 609.7h9M1286 612.6h3M1312 612.6h9M1332 612.6h6M1350 612.6h3M1356 612.6h6M1367 612.6h3M1373 612.6h3M1384 612.6h3M1402 612.6h3M1414 612.6h3M1428 612.6h6M1451 612.6h3M1457 612.6h3M1492 612.6h3M1518 612.6h6M1541 612.6h3M1550 612.6h3M1585 612.6h3M1599 612.6h3M1605 612.6h3M1625 612.6h3M1631 612.6h6M1640 612.6h3M1648 612.6h3M1663 612.6h3M1289 615.5h3M1300 615.5h6M1315 615.5h3M1347 615.5h3M1356 615.5h3M1382 615.5h3M1425 615.5h3M1451 615.5h3M1477 615.5h3M1492 615.5h3M1521 615.5h3M1530 615.5h3M1547 615.5h3M1556 615.5h3M1564 615.5h6M1590 615.5h3M1596 615.5h3M1602 615.5h3M1608 615.5h6M1619 615.5h6M1631 615.5h3M1646 615.5h3M1654 615.5h6M1663 615.5h3M1332 618.4h3M1347 618.4h3M1356 618.4h6M1379 618.4h6M1390 618.4h3M1414 618.4h3M1422 618.4h6M1431 618.4h3M1440 618.4h3M1451 618.4h3M1472 618.4h3M1477 618.4h9M1492 618.4h3M1503 618.4h3M1521 618.4h3M1532 618.4h3M1553 618.4h3M1561 618.4h9M1576 618.4h3M1588 618.4h3M1593 618.4h3M1608 618.4h3M1614 618.4h3M1628 618.4h3M1640 618.4h3M1646 618.4h3M1654 618.4h3M1660 618.4h3M1292 621.2h3M1298 621.2h3M1312 621.2h3M1335 621.2h3M1341 621.2h3M1356 621.2h3M1376 621.2h3M1393 621.2h3M1399 621.2h6M1414 621.2h3M1419 621.2h3M1425 621.2h6M1434 621.2h3M1451 621.2h6M1463 621.2h6M1472 621.2h3M1500 621.2h9M1515 621.2h3M1524 621.2h3M1547 621.2h6M1561 621.2h6M1570 621.2h3M1590 621.2h9M1602 621.2h6M1625 621.2h3M1631 621.2h3M1643 621.2h3M1289 624.2h3M1300 624.2h6M1315 624.2h3M1321 624.2h3M1329 624.2h3M1361 624.2h3M1373 624.2h3M1387 624.2h3M1393 624.2h9M1411 624.2h3M1428 624.2h6M1445 624.2h3M1463 624.2h3M1474 624.2h3M1483 624.2h3M1495 624.2h3M1503 624.2h3M1509 624.2h3M1527 624.2h3M1541 624.2h3M1550 624.2h3M1564 624.2h9M1582 624.2h3M1593 624.2h3M1622 624.2h3M1643 624.2h3M1654 624.2h3M1283 627.1h3M1292 627.1h9M1306 627.1h3M1318 627.1h3M1335 627.1h6M1364 627.1h3M1370 627.1h3M1379 627.1h3M1384 627.1h3M1419 627.1h3M1431 627.1h6M1445 627.1h3M1454 627.1h3M1460 627.1h3M1469 627.1h6M1480 627.1h6M1506 627.1h3M1532 627.1h9M1544 627.1h3M1553 627.1h3M1585 627.1h3M1608 627.1h3M1616 627.1h3M1634 627.1h3M1646 627.1h3M1657 627.1h6M1292 630.0h3M1298 630.0h3M1306 630.0h3M1312 630.0h3M1318 630.0h6M1326 630.0h3M1341 630.0h6M1353 630.0h6M1387 630.0h3M1393 630.0h6M1431 630.0h6M1440 630.0h6M1460 630.0h3M1480 630.0h3M1489 630.0h3M1498 630.0h3M1506 630.0h3M1518 630.0h3M1524 630.0h3M1530 630.0h3M1535 630.0h6M1553 630.0h3M1558 630.0h6M1570 630.0h3M1579 630.0h3M1585 630.0h3M1590 630.0h3M1605 630.0h9M1622 630.0h3M1634 630.0h3M1648 630.0h3M1654 630.0h3M1286 632.9h3M1300 632.9h6M1309 632.9h3M1321 632.9h3M1326 632.9h6M1338 632.9h3M1344 632.9h3M1353 632.9h3M1358 632.9h3M1364 632.9h6M1387 632.9h6M1402 632.9h6M1414 632.9h9M1431 632.9h6M1466 632.9h3M1472 632.9h3M1480 632.9h12M1506 632.9h6M1527 632.9h3M1553 632.9h3M1558 632.9h3M1567 632.9h3M1576 632.9h3M1585 632.9h3M1608 632.9h3M1614 632.9h3M1619 632.9h3M1625 632.9h3M1634 632.9h6M1663 632.9h3M1298 635.8h3M1303 635.8h3M1315 635.8h3M1321 635.8h6M1332 635.8h3M1338 635.8h3M1350 635.8h3M1361 635.8h3M1370 635.8h3M1376 635.8h3M1393 635.8h6M1405 635.8h3M1411 635.8h3M1419 635.8h6M1437 635.8h6M1445 635.8h6M1472 635.8h3M1492 635.8h9M1509 635.8h6M1521 635.8h6M1530 635.8h3M1538 635.8h3M1547 635.8h6M1556 635.8h3M1561 635.8h6M1579 635.8h3M1588 635.8h3M1619 635.8h3M1628 635.8h3M1646 635.8h3M1654 635.8h3M1663 635.8h3M1295 638.7h6M1324 638.7h3M1338 638.7h3M1344 638.7h6M1358 638.7h9M1396 638.7h6M1405 638.7h3M1411 638.7h9M1448 638.7h3M1463 638.7h6M1474 638.7h3M1492 638.7h3M1527 638.7h6M1541 638.7h3M1550 638.7h6M1558 638.7h3M1564 638.7h3M1570 638.7h3M1576 638.7h6M1588 638.7h3M1605 638.7h3M1614 638.7h3M1619 638.7h9M1631 638.7h3M1640 638.7h3M1648 638.7h3M1312 641.6h3M1324 641.6h6M1332 641.6h6M1341 641.6h3M1347 641.6h3M1353 641.6h3M1361 641.6h3M1379 641.6h3M1390 641.6h3M1408 641.6h3M1422 641.6h9M1442 641.6h6M1454 641.6h3M1472 641.6h3M1477 641.6h3M1509 641.6h3M1521 641.6h3M1532 641.6h6M1541 641.6h9M1558 641.6h3M1573 641.6h6M1585 641.6h3M1605 641.6h6M1619 641.6h6M1643 641.6h6M1283 644.5h3M1295 644.5h3M1300 644.5h3M1321 644.5h3M1350 644.5h3M1356 644.5h6M1370 644.5h17M1396 644.5h3M1402 644.5h3M1425 644.5h9M1442 644.5h6M1454 644.5h9M1474 644.5h6M1483 644.5h6M1492 644.5h3M1503 644.5h3M1509 644.5h3M1518 644.5h3M1530 644.5h3M1541 644.5h6M1561 644.5h3M1567 644.5h3M1576 644.5h3M1585 644.5h6M1599 644.5h9M1625 644.5h3M1631 644.5h3M1651 644.5h3M1660 644.5h3M1289 647.4h3M1303 647.4h3M1315 647.4h6M1324 647.4h6M1373 647.4h3M1387 647.4h3M1402 647.4h3M1414 647.4h3M1422 647.4h6M1454 647.4h3M1492 647.4h3M1500 647.4h3M1509 647.4h6M1518 647.4h3M1553 647.4h3M1561 647.4h3M1570 647.4h6M1582 647.4h3M1588 647.4h3M1593 647.4h3M1599 647.4h3M1605 647.4h3M1616 647.4h3M1631 647.4h3M1637 647.4h6M1651 647.4h3M1289 650.2h3M1300 650.2h3M1306 650.2h3M1335 650.2h3M1341 650.2h3M1347 650.2h6M1361 650.2h3M1370 650.2h9M1387 650.2h3M1402 650.2h6M1411 650.2h6M1451 650.2h3M1457 650.2h3M1486 650.2h3M1492 650.2h6M1503 650.2h3M1509 650.2h3M1535 650.2h9M1576 650.2h3M1599 650.2h3M1608 650.2h6M1628 650.2h6M1640 650.2h6M1657 650.2h3M1306 653.2h3M1312 653.2h3M1318 653.2h3M1326 653.2h3M1338 653.2h3M1344 653.2h12M1390 653.2h9M1414 653.2h3M1422 653.2h3M1428 653.2h6M1437 653.2h3M1448 653.2h3M1480 653.2h3M1486 653.2h3M1500 653.2h6M1509 653.2h3M1535 653.2h9M1547 653.2h3M1553 653.2h6M1564 653.2h3M1576 653.2h3M1582 653.2h3M1588 653.2h3M1596 653.2h3M1616 653.2h3M1660 653.2h3M1283 656.1h12M1303 656.1h3M1309 656.1h3M1318 656.1h3M1324 656.1h3M1332 656.1h3M1358 656.1h3M1373 656.1h6M1382 656.1h3M1387 656.1h6M1402 656.1h3M1408 656.1h3M1425 656.1h9M1445 656.1h3M1472 656.1h6M1480 656.1h3M1486 656.1h3M1495 656.1h3M1503 656.1h3M1515 656.1h3M1535 656.1h3M1544 656.1h3M1556 656.1h3M1564 656.1h3M1573 656.1h3M1579 656.1h3M1585 656.1h3M1614 656.1h3M1619 656.1h3M1631 656.1h6M1643 656.1h6M1651 656.1h3M1663 656.1h3M1286 659.0h6M1295 659.0h3M1300 659.0h3M1312 659.0h3M1318 659.0h3M1329 659.0h6M1358 659.0h3M1376 659.0h3M1387 659.0h6M1399 659.0h3M1414 659.0h3M1419 659.0h6M1428 659.0h3M1442 659.0h6M1451 659.0h3M1463 659.0h3M1469 659.0h6M1483 659.0h3M1492 659.0h3M1503 659.0h3M1515 659.0h3M1524 659.0h6M1538 659.0h3M1550 659.0h3M1556 659.0h3M1561 659.0h9M1573 659.0h3M1585 659.0h3M1590 659.0h9M1628 659.0h3M1648 659.0h3M1660 659.0h6M1295 661.9h3M1324 661.9h3M1335 661.9h3M1350 661.9h3M1356 661.9h3M1370 661.9h6M1387 661.9h3M1414 661.9h3M1425 661.9h6M1442 661.9h9M1457 661.9h3M1469 661.9h3M1480 661.9h3M1486 661.9h3M1503 661.9h9M1515 661.9h3M1524 661.9h3M1541 661.9h6M1550 661.9h3M1556 661.9h9M1573 661.9h3M1593 661.9h3M1608 661.9h3M1614 661.9h3M1625 661.9h3M1631 661.9h6M1640 661.9h3M1663 661.9h3M1286 664.8h3M1298 664.8h6M1324 664.8h3M1329 664.8h9M1347 664.8h3M1367 664.8h3M1379 664.8h3M1384 664.8h3M1390 664.8h3M1405 664.8h3M1419 664.8h3M1448 664.8h3M1460 664.8h3M1474 664.8h3M1480 664.8h3M1486 664.8h3M1492 664.8h3M1512 664.8h3M1518 664.8h3M1527 664.8h3M1535 664.8h3M1544 664.8h6M1573 664.8h3M1585 664.8h6M1596 664.8h3M1602 664.8h6M1611 664.8h6M1628 664.8h3M1640 664.8h12M1286 667.7h9M1300 667.7h6M1309 667.7h3M1332 667.7h3M1338 667.7h3M1353 667.7h3M1358 667.7h3M1370 667.7h9M1384 667.7h9M1399 667.7h3M1408 667.7h3M1414 667.7h3M1442 667.7h3M1451 667.7h3M1460 667.7h3M1469 667.7h3M1474 667.7h6M1483 667.7h3M1489 667.7h3M1524 667.7h6M1541 667.7h6M1550 667.7h3M1573 667.7h9M1593 667.7h3M1599 667.7h6M1608 667.7h6M1619 667.7h3M1628 667.7h3M1634 667.7h3M1660 667.7h6M1283 670.6h6M1292 670.6h3M1300 670.6h3M1315 670.6h6M1350 670.6h3M1358 670.6h3M1370 670.6h3M1379 670.6h6M1396 670.6h3M1414 670.6h3M1428 670.6h3M1434 670.6h6M1451 670.6h3M1457 670.6h3M1463 670.6h3M1474 670.6h3M1486 670.6h3M1506 670.6h3M1524 670.6h3M1530 670.6h3M1547 670.6h3M1558 670.6h3M1567 670.6h6M1582 670.6h3M1590 670.6h3M1608 670.6h12M1628 670.6h3M1646 670.6h6M1654 670.6h3M1660 670.6h6M1286 673.5h3M1300 673.5h3M1306 673.5h6M1315 673.5h3M1332 673.5h6M1353 673.5h6M1376 673.5h6M1384 673.5h3M1414 673.5h3M1425 673.5h6M1474 673.5h3M1486 673.5h6M1495 673.5h3M1506 673.5h3M1532 673.5h3M1547 673.5h3M1553 673.5h3M1564 673.5h3M1576 673.5h3M1582 673.5h3M1590 673.5h3M1596 673.5h3M1614 673.5h3M1631 673.5h3M1637 673.5h3M1646 673.5h3M1651 673.5h3M1289 676.4h6M1298 676.4h6M1315 676.4h6M1324 676.4h3M1329 676.4h3M1335 676.4h3M1353 676.4h3M1361 676.4h3M1379 676.4h3M1387 676.4h6M1396 676.4h3M1405 676.4h6M1419 676.4h6M1440 676.4h3M1445 676.4h3M1460 676.4h6M1474 676.4h3M1483 676.4h14M1512 676.4h3M1521 676.4h6M1530 676.4h14M1550 676.4h3M1564 676.4h3M1570 676.4h3M1576 676.4h3M1585 676.4h3M1602 676.4h3M1614 676.4h3M1634 676.4h6M1643 676.4h6M1657 676.4h6M1298 679.2h3M1315 679.2h6M1329 679.2h3M1344 679.2h3M1353 679.2h3M1358 679.2h3M1408 679.2h3M1416 679.2h3M1425 679.2h3M1434 679.2h6M1445 679.2h6M1454 679.2h3M1472 679.2h3M1477 679.2h3M1483 679.2h3M1503 679.2h3M1509 679.2h3M1518 679.2h3M1530 679.2h6M1538 679.2h9M1550 679.2h3M1567 679.2h3M1573 679.2h3M1585 679.2h3M1596 679.2h3M1605 679.2h3M1611 679.2h3M1622 679.2h9M1660 679.2h3M1298 682.2h3M1303 682.2h3M1309 682.2h3M1321 682.2h12M1335 682.2h6M1344 682.2h3M1353 682.2h3M1361 682.2h3M1367 682.2h6M1379 682.2h3M1384 682.2h3M1399 682.2h3M1408 682.2h6M1425 682.2h3M1440 682.2h3M1457 682.2h6M1466 682.2h3M1480 682.2h3M1500 682.2h6M1518 682.2h3M1524 682.2h3M1530 682.2h3M1538 682.2h9M1550 682.2h3M1567 682.2h3M1573 682.2h3M1588 682.2h3M1593 682.2h3M1599 682.2h9M1619 682.2h3M1628 682.2h3M1648 682.2h3M1654 682.2h3M1283 685.1h3M1292 685.1h3M1298 685.1h3M1306 685.1h3M1312 685.1h3M1324 685.1h3M1356 685.1h6M1373 685.1h6M1408 685.1h3M1414 685.1h3M1419 685.1h3M1437 685.1h3M1448 685.1h3M1454 685.1h3M1466 685.1h3M1506 685.1h3M1535 685.1h6M1561 685.1h9M1585 685.1h3M1590 685.1h3M1605 685.1h3M1622 685.1h3M1637 685.1h3M1654 685.1h3M1289 688.0h3M1315 688.0h3M1321 688.0h9M1344 688.0h6M1358 688.0h6M1370 688.0h6M1382 688.0h3M1387 688.0h3M1393 688.0h3M1405 688.0h3M1411 688.0h3M1416 688.0h3M1437 688.0h3M1454 688.0h3M1466 688.0h6M1477 688.0h3M1492 688.0h9M1503 688.0h3M1518 688.0h3M1527 688.0h3M1544 688.0h3M1550 688.0h3M1579 688.0h3M1602 688.0h3M1614 688.0h6M1651 688.0h3M1300 690.9h3M1306 690.9h3M1315 690.9h3M1324 690.9h6M1353 690.9h3M1358 690.9h3M1373 690.9h6M1425 690.9h3M1437 690.9h3M1448 690.9h3M1454 690.9h3M1460 690.9h3M1472 690.9h3M1492 690.9h3M1500 690.9h3M1506 690.9h3M1521 690.9h3M1527 690.9h3M1532 690.9h6M1547 690.9h3M1567 690.9h3M1579 690.9h3M1585 690.9h3M1593 690.9h6M1628 690.9h3M1643 690.9h6M1654 690.9h6M1663 690.9h3M1295 693.8h3M1309 693.8h3M1318 693.8h3M1332 693.8h3M1338 693.8h6M1370 693.8h14M1387 693.8h6M1405 693.8h3M1416 693.8h14M1463 693.8h6M1480 693.8h3M1512 693.8h3M1527 693.8h6M1558 693.8h6M1570 693.8h3M1579 693.8h3M1585 693.8h6M1599 693.8h3M1614 693.8h6M1637 693.8h3M1651 693.8h3M1657 693.8h3M1300 696.7h3M1315 696.7h3M1321 696.7h3M1347 696.7h3M1353 696.7h3M1361 696.7h3M1393 696.7h3M1414 696.7h3M1425 696.7h3M1440 696.7h12M1457 696.7h3M1489 696.7h3M1495 696.7h6M1538 696.7h3M1544 696.7h3M1550 696.7h3M1556 696.7h3M1561 696.7h3M1576 696.7h6M1585 696.7h3M1596 696.7h6M1605 696.7h6M1619 696.7h9M1646 696.7h9M1660 696.7h3M1298 699.6h6M1315 699.6h6M1324 699.6h6M1338 699.6h3M1353 699.6h3M1370 699.6h3M1382 699.6h3M1387 699.6h3M1396 699.6h9M1414 699.6h6M1434 699.6h3M1445 699.6h3M1451 699.6h6M1466 699.6h6M1477 699.6h6M1486 699.6h3M1498 699.6h3M1512 699.6h6M1524 699.6h3M1535 699.6h3M1541 699.6h3M1547 699.6h9M1558 699.6h6M1570 699.6h3M1599 699.6h3M1605 699.6h6M1616 699.6h6M1631 699.6h6M1640 699.6h6M1657 699.6h3M1286 702.5h3M1295 702.5h3M1312 702.5h3M1326 702.5h3M1356 702.5h3M1364 702.5h9M1379 702.5h3M1390 702.5h6M1399 702.5h3M1416 702.5h3M1422 702.5h9M1445 702.5h6M1460 702.5h3M1472 702.5h3M1477 702.5h6M1492 702.5h3M1503 702.5h3M1509 702.5h6M1518 702.5h3M1524 702.5h3M1530 702.5h3M1538 702.5h3M1544 702.5h3M1553 702.5h3M1564 702.5h3M1576 702.5h9M1588 702.5h3M1593 702.5h12M1611 702.5h3M1616 702.5h3M1625 702.5h3M1631 702.5h3M1637 702.5h3M1646 702.5h3M1660 702.5h3M1289 705.4h3M1295 705.4h3M1303 705.4h3M1315 705.4h3M1321 705.4h3M1335 705.4h6M1344 705.4h3M1382 705.4h3M1396 705.4h3M1405 705.4h6M1416 705.4h3M1422 705.4h6M1431 705.4h3M1454 705.4h3M1472 705.4h6M1489 705.4h3M1500 705.4h3M1535 705.4h3M1544 705.4h3M1590 705.4h6M1611 705.4h3M1619 705.4h6M1628 705.4h3M1640 705.4h3M1663 705.4h3M1295 708.2h3M1321 708.2h3M1329 708.2h3M1338 708.2h3M1361 708.2h6M1382 708.2h6M1390 708.2h3M1396 708.2h3M1408 708.2h3M1419 708.2h3M1434 708.2h3M1445 708.2h3M1477 708.2h3M1483 708.2h3M1492 708.2h3M1498 708.2h3M1518 708.2h3M1530 708.2h3M1538 708.2h3M1553 708.2h3M1561 708.2h3M1567 708.2h3M1573 708.2h6M1582 708.2h3M1593 708.2h9M1611 708.2h3M1616 708.2h9M1628 708.2h6M1640 708.2h3M1654 708.2h3M1289 711.2h6M1309 711.2h3M1350 711.2h6M1358 711.2h3M1364 711.2h3M1370 711.2h3M1376 711.2h3M1384 711.2h3M1414 711.2h12M1428 711.2h6M1437 711.2h9M1466 711.2h9M1492 711.2h6M1512 711.2h3M1527 711.2h3M1541 711.2h3M1567 711.2h9M1619 711.2h3M1628 711.2h6M1646 711.2h3M1651 711.2h3M1657 711.2h6M1289 714.1h9M1303 714.1h3M1326 714.1h3M1338 714.1h6M1347 714.1h6M1364 714.1h3M1370 714.1h3M1382 714.1h3M1393 714.1h3M1402 714.1h3M1408 714.1h3M1414 714.1h6M1422 714.1h3M1431 714.1h3M1454 714.1h3M1480 714.1h3M1486 714.1h6M1530 714.1h3M1544 714.1h9M1556 714.1h3M1570 714.1h3M1582 714.1h3M1588 714.1h3M1599 714.1h3M1608 714.1h9M1625 714.1h3M1631 714.1h3M1283 717.0h3M1295 717.0h3M1300 717.0h3M1312 717.0h3M1324 717.0h3M1335 717.0h3M1341 717.0h3M1358 717.0h3M1370 717.0h6M1382 717.0h3M1405 717.0h3M1419 717.0h6M1434 717.0h3M1451 717.0h3M1472 717.0h3M1500 717.0h3M1524 717.0h3M1532 717.0h3M1538 717.0h3M1550 717.0h3M1556 717.0h3M1588 717.0h3M1602 717.0h6M1640 717.0h6M1651 717.0h6M1663 717.0h3M1283 719.9h3M1298 719.9h6M1306 719.9h3M1335 719.9h9M1353 719.9h6M1376 719.9h3M1399 719.9h3M1422 719.9h3M1428 719.9h6M1454 719.9h6M1495 719.9h3M1515 719.9h3M1524 719.9h6M1532 719.9h3M1538 719.9h3M1553 719.9h3M1558 719.9h3M1573 719.9h3M1605 719.9h6M1616 719.9h3M1622 719.9h3M1634 719.9h9M1648 719.9h3M1289 722.8h6M1303 722.8h6M1326 722.8h3M1379 722.8h3M1393 722.8h3M1399 722.8h3M1414 722.8h6M1437 722.8h3M1445 722.8h3M1457 722.8h3M1474 722.8h3M1483 722.8h3M1495 722.8h3M1506 722.8h3M1521 722.8h6M1532 722.8h3M1538 722.8h3M1558 722.8h6M1573 722.8h3M1579 722.8h3M1588 722.8h3M1593 722.8h6M1605 722.8h3M1619 722.8h6M1628 722.8h3M1643 722.8h3M1648 722.8h9M1283 725.7h9M1306 725.7h12M1321 725.7h3M1332 725.7h3M1341 725.7h3M1350 725.7h3M1358 725.7h6M1382 725.7h9M1399 725.7h3M1408 725.7h3M1425 725.7h6M1442 725.7h3M1454 725.7h3M1463 725.7h3M1472 725.7h6M1486 725.7h3M1495 725.7h3M1500 725.7h3M1521 725.7h3M1527 725.7h3M1558 725.7h3M1567 725.7h6M1611 725.7h6M1619 725.7h3M1631 725.7h3M1646 725.7h3M1654 725.7h3M1286 728.6h6M1306 728.6h6M1315 728.6h3M1326 728.6h3M1338 728.6h3M1344 728.6h9M1356 728.6h3M1367 728.6h6M1376 728.6h3M1399 728.6h3M1411 728.6h3M1431 728.6h3M1437 728.6h6M1445 728.6h3M1457 728.6h3M1472 728.6h3M1477 728.6h3M1503 728.6h6M1512 728.6h3M1532 728.6h3M1541 728.6h3M1547 728.6h3M1553 728.6h6M1570 728.6h9M1593 728.6h6M1608 728.6h3M1614 728.6h6M1625 728.6h3M1634 728.6h3M1657 728.6h3M1306 731.5h3M1332 731.5h6M1344 731.5h6M1356 731.5h3M1364 731.5h3M1373 731.5h3M1384 731.5h3M1393 731.5h3M1422 731.5h3M1445 731.5h3M1477 731.5h3M1483 731.5h3M1495 731.5h3M1503 731.5h3M1512 731.5h3M1518 731.5h3M1544 731.5h3M1550 731.5h3M1567 731.5h12M1582 731.5h3M1593 731.5h3M1599 731.5h3M1608 731.5h3M1614 731.5h3M1619 731.5h6M1628 731.5h3M1646 731.5h3M1654 731.5h3M1286 734.4h6M1298 734.4h3M1303 734.4h3M1312 734.4h3M1321 734.4h3M1361 734.4h6M1370 734.4h9M1402 734.4h6M1416 734.4h9M1428 734.4h3M1445 734.4h3M1460 734.4h3M1466 734.4h6M1483 734.4h3M1530 734.4h3M1544 734.4h3M1556 734.4h3M1567 734.4h3M1576 734.4h6M1588 734.4h9M1602 734.4h6M1614 734.4h3M1628 734.4h6M1637 734.4h3M1654 734.4h3M1292 737.2h3M1303 737.2h6M1315 737.2h3M1332 737.2h3M1344 737.2h3M1364 737.2h3M1376 737.2h9M1408 737.2h3M1425 737.2h6M1451 737.2h3M1463 737.2h9M1486 737.2h3M1492 737.2h3M1503 737.2h6M1527 737.2h6M1535 737.2h3M1556 737.2h3M1564 737.2h9M1593 737.2h3M1619 737.2h3M1631 737.2h3M1651 737.2h3M1663 737.2h3M1283 740.2h3M1292 740.2h6M1300 740.2h3M1312 740.2h3M1318 740.2h3M1324 740.2h3M1341 740.2h6M1370 740.2h6M1384 740.2h3M1390 740.2h3M1396 740.2h3M1405 740.2h3M1411 740.2h3M1419 740.2h6M1451 740.2h3M1466 740.2h3M1492 740.2h9M1509 740.2h6M1530 740.2h3M1541 740.2h3M1547 740.2h3M1553 740.2h6M1561 740.2h9M1576 740.2h6M1585 740.2h3M1590 740.2h3M1605 740.2h3M1614 740.2h3M1625 740.2h3M1631 740.2h6M1640 740.2h3M1289 743.1h3M1303 743.1h3M1309 743.1h6M1318 743.1h6M1329 743.1h3M1335 743.1h3M1382 743.1h3M1402 743.1h9M1419 743.1h3M1460 743.1h3M1474 743.1h9M1492 743.1h3M1512 743.1h3M1518 743.1h3M1524 743.1h3M1556 743.1h3M1561 743.1h3M1576 743.1h3M1585 743.1h3M1590 743.1h3M1628 743.1h3M1640 743.1h3M1646 743.1h3M1657 743.1h3M1292 746.0h6M1324 746.0h3M1332 746.0h3M1341 746.0h6M1353 746.0h3M1379 746.0h6M1390 746.0h3M1405 746.0h6M1416 746.0h3M1422 746.0h14M1457 746.0h3M1466 746.0h3M1472 746.0h3M1480 746.0h6M1495 746.0h3M1503 746.0h3M1509 746.0h3M1535 746.0h6M1550 746.0h3M1556 746.0h3M1561 746.0h3M1582 746.0h6M1602 746.0h3M1622 746.0h3M1628 746.0h3M1648 746.0h3M1660 746.0h3M1283 748.9h3M1298 748.9h3M1303 748.9h3M1318 748.9h3M1332 748.9h3M1338 748.9h3M1344 748.9h6M1356 748.9h6M1376 748.9h3M1396 748.9h3M1402 748.9h3M1411 748.9h3M1416 748.9h3M1448 748.9h3M1463 748.9h3M1469 748.9h3M1477 748.9h3M1489 748.9h6M1503 748.9h3M1512 748.9h6M1532 748.9h3M1541 748.9h3M1567 748.9h3M1576 748.9h6M1585 748.9h9M1596 748.9h3M1602 748.9h3M1611 748.9h3M1637 748.9h3M1283 751.8h3M1303 751.8h3M1309 751.8h6M1326 751.8h3M1332 751.8h3M1338 751.8h6M1347 751.8h3M1376 751.8h9M1405 751.8h3M1414 751.8h3M1419 751.8h3M1451 751.8h3M1469 751.8h6M1477 751.8h3M1486 751.8h9M1503 751.8h6M1515 751.8h6M1532 751.8h3M1553 751.8h3M1561 751.8h3M1573 751.8h6M1585 751.8h3M1590 751.8h3M1614 751.8h3M1625 751.8h3M1640 751.8h3M1648 751.8h3M1654 751.8h6M1663 751.8h3M1300 754.7h3M1306 754.7h3M1312 754.7h3M1318 754.7h6M1353 754.7h3M1364 754.7h3M1376 754.7h3M1384 754.7h6M1422 754.7h3M1434 754.7h3M1445 754.7h3M1463 754.7h3M1472 754.7h6M1480 754.7h3M1492 754.7h3M1498 754.7h9M1518 754.7h6M1550 754.7h3M1567 754.7h3M1582 754.7h3M1590 754.7h6M1605 754.7h3M1619 754.7h6M1634 754.7h3M1640 754.7h3M1660 754.7h3M1283 757.6h3M1300 757.6h9M1312 757.6h3M1318 757.6h3M1324 757.6h3M1329 757.6h3M1338 757.6h3M1344 757.6h6M1356 757.6h3M1364 757.6h3M1384 757.6h9M1408 757.6h6M1422 757.6h6M1431 757.6h9M1466 757.6h9M1489 757.6h3M1521 757.6h6M1541 757.6h3M1556 757.6h6M1564 757.6h3M1579 757.6h3M1588 757.6h3M1599 757.6h3M1611 757.6h6M1628 757.6h3M1634 757.6h3M1283 760.5h6M1295 760.5h3M1312 760.5h6M1321 760.5h3M1335 760.5h3M1344 760.5h3M1358 760.5h3M1376 760.5h3M1390 760.5h6M1402 760.5h3M1408 760.5h6M1416 760.5h3M1425 760.5h3M1434 760.5h3M1454 760.5h3M1463 760.5h3M1492 760.5h6M1512 760.5h6M1530 760.5h3M1547 760.5h9M1579 760.5h6M1599 760.5h3M1608 760.5h3M1619 760.5h3M1631 760.5h3M1637 760.5h3M1648 760.5h6M1657 760.5h3M1663 760.5h3M1292 763.4h3M1298 763.4h3M1306 763.4h12M1329 763.4h3M1341 763.4h3M1356 763.4h6M1373 763.4h6M1387 763.4h3M1414 763.4h3M1434 763.4h3M1440 763.4h6M1448 763.4h3M1457 763.4h3M1472 763.4h3M1477 763.4h3M1521 763.4h3M1532 763.4h3M1544 763.4h14M1573 763.4h3M1579 763.4h9M1590 763.4h9M1602 763.4h6M1634 763.4h3M1646 763.4h6M1303 766.2h3M1312 766.2h6M1326 766.2h3M1350 766.2h3M1367 766.2h3M1376 766.2h6M1411 766.2h3M1416 766.2h3M1428 766.2h6M1469 766.2h3M1477 766.2h6M1512 766.2h3M1521 766.2h3M1538 766.2h3M1547 766.2h6M1556 766.2h6M1576 766.2h3M1605 766.2h3M1614 766.2h3M1643 766.2h3M1660 766.2h6M1295 769.2h6M1303 769.2h3M1321 769.2h3M1338 769.2h3M1361 769.2h3M1376 769.2h3M1390 769.2h3M1402 769.2h3M1411 769.2h3M1428 769.2h3M1440 769.2h12M1460 769.2h9M1483 769.2h6M1498 769.2h9M1509 769.2h3M1524 769.2h6M1532 769.2h3M1556 769.2h3M1561 769.2h3M1573 769.2h3M1582 769.2h3M1599 769.2h3M1614 769.2h3M1619 769.2h3M1625 769.2h6M1643 769.2h3M1657 769.2h3M1663 769.2h3M1283 772.1h6M1292 772.1h3M1298 772.1h3M1303 772.1h3M1312 772.1h3M1318 772.1h3M1324 772.1h3M1344 772.1h3M1356 772.1h6M1399 772.1h3M1416 772.1h3M1440 772.1h3M1445 772.1h3M1457 772.1h3M1474 772.1h12M1489 772.1h6M1498 772.1h6M1538 772.1h9M1564 772.1h9M1582 772.1h3M1588 772.1h3M1605 772.1h3M1611 772.1h3M1616 772.1h3M1622 772.1h3M1640 772.1h3M1657 772.1h6M1292 775.0h9M1309 775.0h3M1315 775.0h3M1321 775.0h3M1338 775.0h3M1347 775.0h3M1370 775.0h12M1387 775.0h6M1431 775.0h3M1440 775.0h3M1454 775.0h3M1463 775.0h3M1469 775.0h6M1480 775.0h3M1486 775.0h3M1506 775.0h9M1524 775.0h3M1530 775.0h3M1538 775.0h3M1544 775.0h3M1550 775.0h3M1556 775.0h3M1576 775.0h3M1585 775.0h3M1614 775.0h3M1631 775.0h3M1286 777.9h3M1306 777.9h3M1312 777.9h3M1326 777.9h14M1350 777.9h3M1361 777.9h3M1370 777.9h9M1384 777.9h3M1396 777.9h14M1416 777.9h3M1422 777.9h9M1440 777.9h6M1448 777.9h3M1472 777.9h6M1495 777.9h3M1500 777.9h3M1512 777.9h6M1524 777.9h3M1541 777.9h26M1576 777.9h9M1611 777.9h3M1637 777.9h3M1646 777.9h6M1283 780.8h3M1303 780.8h3M1321 780.8h3M1350 780.8h3M1356 780.8h3M1367 780.8h6M1376 780.8h6M1384 780.8h6M1405 780.8h6M1425 780.8h3M1431 780.8h3M1437 780.8h6M1445 780.8h3M1451 780.8h3M1463 780.8h6M1477 780.8h3M1492 780.8h3M1524 780.8h3M1538 780.8h9M1553 780.8h3M1558 780.8h3M1570 780.8h6M1582 780.8h3M1605 780.8h3M1616 780.8h3M1625 780.8h3M1657 780.8h3M1663 780.8h3M1289 783.7h3M1295 783.7h3M1303 783.7h3M1329 783.7h3M1341 783.7h3M1367 783.7h6M1376 783.7h3M1387 783.7h3M1416 783.7h3M1431 783.7h6M1469 783.7h3M1474 783.7h3M1486 783.7h3M1492 783.7h3M1503 783.7h3M1512 783.7h6M1538 783.7h6M1556 783.7h3M1561 783.7h3M1570 783.7h9M1582 783.7h9M1593 783.7h6M1605 783.7h3M1611 783.7h3M1619 783.7h6M1637 783.7h6M1660 783.7h3M1306 786.5h9M1318 786.5h3M1393 786.5h3M1428 786.5h3M1442 786.5h3M1451 786.5h3M1460 786.5h3M1466 786.5h3M1486 786.5h3M1530 786.5h6M1550 786.5h6M1564 786.5h3M1579 786.5h3M1585 786.5h3M1596 786.5h3M1611 786.5h3M1625 786.5h6M1634 786.5h6M1289 789.5h9M1303 789.5h9M1315 789.5h3M1321 789.5h3M1326 789.5h3M1335 789.5h3M1347 789.5h6M1356 789.5h3M1373 789.5h3M1384 789.5h3M1414 789.5h6M1425 789.5h3M1437 789.5h3M1442 789.5h3M1457 789.5h3M1469 789.5h6M1483 789.5h6M1495 789.5h6M1506 789.5h3M1515 789.5h6M1527 789.5h3M1535 789.5h6M1544 789.5h3M1550 789.5h9M1570 789.5h3M1590 789.5h3M1599 789.5h3M1611 789.5h14M1634 789.5h6M1643 789.5h6M1660 789.5h3M1283 792.4h3M1295 792.4h3M1315 792.4h3M1356 792.4h6M1364 792.4h9M1382 792.4h6M1390 792.4h6M1405 792.4h3M1414 792.4h3M1419 792.4h12M1445 792.4h3M1454 792.4h3M1460 792.4h6M1472 792.4h3M1477 792.4h3M1483 792.4h3M1492 792.4h3M1498 792.4h3M1506 792.4h3M1515 792.4h6M1530 792.4h3M1535 792.4h3M1541 792.4h3M1561 792.4h3M1588 792.4h6M1602 792.4h6M1640 792.4h3M1646 792.4h3M1286 795.2h3M1292 795.2h3M1298 795.2h3M1312 795.2h6M1329 795.2h9M1347 795.2h3M1356 795.2h3M1361 795.2h6M1373 795.2h6M1387 795.2h9M1399 795.2h6M1414 795.2h3M1460 795.2h3M1480 795.2h3M1495 795.2h6M1503 795.2h6M1515 795.2h6M1538 795.2h3M1547 795.2h6M1558 795.2h3M1567 795.2h3M1573 795.2h3M1590 795.2h3M1596 795.2h3M1611 795.2h3M1616 795.2h6M1625 795.2h9M1637 795.2h3M1646 795.2h6M1657 795.2h6M1292 798.2h3M1312 798.2h3M1318 798.2h3M1326 798.2h6M1341 798.2h6M1358 798.2h3M1370 798.2h3M1376 798.2h3M1393 798.2h3M1399 798.2h3M1414 798.2h3M1425 798.2h6M1437 798.2h6M1448 798.2h6M1460 798.2h6M1495 798.2h3M1509 798.2h3M1532 798.2h6M1561 798.2h3M1570 798.2h6M1579 798.2h3M1590 798.2h6M1605 798.2h3M1619 798.2h6M1628 798.2h9M1640 798.2h6M1654 798.2h3M1283 801.0h6M1298 801.0h3M1303 801.0h6M1312 801.0h3M1326 801.0h6M1358 801.0h6M1367 801.0h3M1390 801.0h3M1408 801.0h3M1434 801.0h9M1451 801.0h3M1457 801.0h6M1469 801.0h3M1474 801.0h3M1509 801.0h3M1518 801.0h6M1532 801.0h6M1541 801.0h3M1558 801.0h3M1567 801.0h3M1576 801.0h6M1588 801.0h6M1602 801.0h3M1608 801.0h3M1616 801.0h3M1631 801.0h6M1643 801.0h6M1651 801.0h3M1660 801.0h3M1283 804.0h12M1298 804.0h6M1326 804.0h6M1344 804.0h3M1350 804.0h3M1356 804.0h3M1370 804.0h3M1382 804.0h3M1405 804.0h3M1422 804.0h3M1428 804.0h3M1434 804.0h3M1442 804.0h6M1451 804.0h9M1466 804.0h3M1474 804.0h3M1483 804.0h3M1492 804.0h3M1515 804.0h6M1535 804.0h6M1550 804.0h9M1573 804.0h6M1585 804.0h3M1590 804.0h3M1596 804.0h3M1602 804.0h3M1611 804.0h3M1619 804.0h3M1631 804.0h6M1648 804.0h6M1660 804.0h3M1286 806.9h3M1292 806.9h3M1300 806.9h6M1309 806.9h3M1318 806.9h3M1326 806.9h3M1353 806.9h6M1376 806.9h3M1382 806.9h3M1419 806.9h6M1428 806.9h3M1437 806.9h6M1457 806.9h3M1463 806.9h6M1486 806.9h3M1500 806.9h3M1506 806.9h6M1521 806.9h3M1538 806.9h3M1544 806.9h3M1550 806.9h3M1558 806.9h9M1576 806.9h3M1590 806.9h6M1611 806.9h3M1616 806.9h3M1628 806.9h3M1648 806.9h3M1286 809.8h9M1309 809.8h6M1335 809.8h6M1347 809.8h3M1382 809.8h6M1414 809.8h6M1437 809.8h6M1445 809.8h3M1451 809.8h3M1460 809.8h3M1469 809.8h6M1480 809.8h3M1486 809.8h3M1498 809.8h3M1503 809.8h3M1521 809.8h6M1530 809.8h6M1538 809.8h9M1556 809.8h3M1573 809.8h3M1588 809.8h3M1599 809.8h6M1608 809.8h9M1628 809.8h9M1640 809.8h3M1646 809.8h3M1283 812.7h6M1318 812.7h3M1335 812.7h6M1344 812.7h3M1353 812.7h3M1361 812.7h3M1373 812.7h3M1379 812.7h3M1402 812.7h3M1408 812.7h6M1419 812.7h3M1425 812.7h9M1451 812.7h3M1472 812.7h3M1486 812.7h3M1492 812.7h3M1500 812.7h3M1518 812.7h3M1527 812.7h12M1547 812.7h3M1553 812.7h9M1564 812.7h3M1608 812.7h14M1625 812.7h3M1654 812.7h3M1660 812.7h3M1283 815.5h3M1309 815.5h3M1329 815.5h6M1367 815.5h3M1373 815.5h3M1390 815.5h14M1437 815.5h3M1445 815.5h3M1454 815.5h3M1460 815.5h6M1469 815.5h9M1483 815.5h3M1492 815.5h6M1518 815.5h3M1541 815.5h3M1550 815.5h3M1556 815.5h3M1564 815.5h3M1573 815.5h3M1590 815.5h9M1605 815.5h3M1640 815.5h3M1648 815.5h6M1657 815.5h6M1283 818.5h3M1300 818.5h9M1312 818.5h3M1341 818.5h3M1367 818.5h6M1379 818.5h3M1384 818.5h3M1402 818.5h3M1408 818.5h3M1416 818.5h3M1425 818.5h3M1431 818.5h3M1448 818.5h9M1460 818.5h6M1474 818.5h3M1483 818.5h3M1489 818.5h3M1498 818.5h3M1515 818.5h12M1538 818.5h3M1547 818.5h6M1556 818.5h3M1567 818.5h3M1573 818.5h6M1590 818.5h3M1605 818.5h3M1611 818.5h3M1619 818.5h3M1625 818.5h3M1637 818.5h3M1646 818.5h3M1289 821.4h3M1298 821.4h3M1306 821.4h6M1315 821.4h6M1324 821.4h3M1332 821.4h3M1367 821.4h3M1379 821.4h3M1384 821.4h3M1393 821.4h9M1414 821.4h6M1431 821.4h3M1454 821.4h3M1460 821.4h3M1469 821.4h3M1474 821.4h3M1480 821.4h3M1486 821.4h3M1492 821.4h6M1524 821.4h3M1532 821.4h3M1541 821.4h3M1576 821.4h3M1593 821.4h6M1619 821.4h3M1628 821.4h6M1298 824.2h3M1303 824.2h3M1324 824.2h6M1341 824.2h9M1353 824.2h3M1358 824.2h3M1364 824.2h3M1373 824.2h14M1419 824.2h3M1442 824.2h3M1451 824.2h3M1457 824.2h3M1469 824.2h3M1477 824.2h3M1489 824.2h3M1498 824.2h3M1509 824.2h3M1524 824.2h9M1535 824.2h6M1547 824.2h3M1561 824.2h3M1579 824.2h3M1588 824.2h3M1593 824.2h6M1616 824.2h3M1625 824.2h3M1643 824.2h6M1651 824.2h6M1283 827.2h3M1295 827.2h3M1300 827.2h3M1306 827.2h3M1329 827.2h3M1338 827.2h6M1347 827.2h3M1353 827.2h3M1361 827.2h3M1390 827.2h3M1408 827.2h9M1428 827.2h6M1457 827.2h3M1469 827.2h3M1477 827.2h6M1486 827.2h3M1506 827.2h3M1512 827.2h3M1518 827.2h3M1524 827.2h3M1576 827.2h6M1585 827.2h3M1590 827.2h6M1602 827.2h9M1619 827.2h3M1634 827.2h3M1651 827.2h3M1660 827.2h3M1298 830.0h3M1303 830.0h6M1326 830.0h3M1332 830.0h3M1373 830.0h3M1399 830.0h3M1416 830.0h6M1434 830.0h3M1440 830.0h3M1448 830.0h3M1466 830.0h3M1486 830.0h3M1492 830.0h3M1498 830.0h3M1506 830.0h3M1515 830.0h3M1521 830.0h3M1527 830.0h3M1538 830.0h6M1547 830.0h3M1558 830.0h3M1564 830.0h6M1576 830.0h3M1582 830.0h12M1611 830.0h6M1619 830.0h3M1646 830.0h3M1651 830.0h3M1663 830.0h3M1298 833.0h6M1315 833.0h3M1326 833.0h6M1335 833.0h3M1350 833.0h3M1358 833.0h6M1370 833.0h6M1379 833.0h3M1387 833.0h3M1393 833.0h3M1399 833.0h6M1419 833.0h6M1442 833.0h3M1466 833.0h3M1477 833.0h3M1498 833.0h3M1509 833.0h3M1530 833.0h3M1550 833.0h3M1556 833.0h3M1576 833.0h9M1588 833.0h3M1593 833.0h6M1608 833.0h3M1614 833.0h3M1625 833.0h3M1283 835.9h9M1303 835.9h3M1312 835.9h3M1318 835.9h6M1332 835.9h9M1347 835.9h3M1353 835.9h3M1364 835.9h3M1373 835.9h3M1379 835.9h3M1393 835.9h6M1408 835.9h3M1428 835.9h3M1434 835.9h3M1440 835.9h3M1445 835.9h3M1451 835.9h3M1457 835.9h3M1489 835.9h3M1532 835.9h3M1538 835.9h3M1550 835.9h3M1556 835.9h3M1564 835.9h3M1576 835.9h6M1593 835.9h12M1611 835.9h3M1634 835.9h3M1651 835.9h3M1663 835.9h3M1289 838.8h6M1315 838.8h6M1329 838.8h6M1338 838.8h3M1370 838.8h6M1379 838.8h3M1396 838.8h3M1416 838.8h3M1422 838.8h3M1431 838.8h3M1437 838.8h3M1442 838.8h3M1448 838.8h6M1469 838.8h3M1480 838.8h3M1486 838.8h3M1500 838.8h3M1512 838.8h3M1524 838.8h3M1535 838.8h3M1541 838.8h3M1558 838.8h3M1564 838.8h6M1582 838.8h3M1616 838.8h3M1625 838.8h3M1640 838.8h3M1646 838.8h3M1654 838.8h3M1663 838.8h3M1289 841.7h6M1300 841.7h9M1315 841.7h3M1326 841.7h3M1335 841.7h3M1347 841.7h3M1356 841.7h6M1382 841.7h6M1390 841.7h3M1422 841.7h6M1442 841.7h3M1448 841.7h6M1460 841.7h3M1466 841.7h3M1474 841.7h6M1489 841.7h3M1495 841.7h3M1500 841.7h3M1506 841.7h6M1527 841.7h3M1544 841.7h3M1573 841.7h6M1582 841.7h3M1588 841.7h6M1596 841.7h3M1614 841.7h3M1619 841.7h6M1643 841.7h3M1651 841.7h3M1318 844.5h3M1326 844.5h3M1332 844.5h3M1341 844.5h12M1370 844.5h3M1399 844.5h9M1414 844.5h3M1419 844.5h3M1431 844.5h3M1437 844.5h3M1442 844.5h3M1448 844.5h3M1454 844.5h6M1469 844.5h3M1503 844.5h3M1515 844.5h3M1550 844.5h3M1558 844.5h3M1564 844.5h9M1576 844.5h6M1593 844.5h3M1599 844.5h3M1611 844.5h3M1646 844.5h3M1657 844.5h6M1283 847.5h6M1306 847.5h9M1318 847.5h3M1324 847.5h3M1332 847.5h3M1364 847.5h3M1373 847.5h6M1382 847.5h3M1390 847.5h6M1422 847.5h3M1437 847.5h6M1448 847.5h6M1460 847.5h3M1469 847.5h3M1477 847.5h6M1495 847.5h3M1503 847.5h9M1530 847.5h3M1541 847.5h3M1547 847.5h6M1561 847.5h3M1570 847.5h3M1590 847.5h3M1605 847.5h3M1611 847.5h3M1616 847.5h3M1634 847.5h3M1640 847.5h3M1651 847.5h6M1660 847.5h3M1292 850.4h3M1312 850.4h3M1321 850.4h3M1341 850.4h3M1353 850.4h6M1370 850.4h3M1379 850.4h3M1384 850.4h3M1405 850.4h3M1411 850.4h6M1434 850.4h3M1442 850.4h3M1448 850.4h3M1454 850.4h3M1466 850.4h3M1472 850.4h6M1495 850.4h3M1506 850.4h6M1518 850.4h3M1527 850.4h6M1541 850.4h6M1553 850.4h6M1570 850.4h3M1590 850.4h3M1614 850.4h6M1622 850.4h3M1631 850.4h3M1292 853.2h3M1298 853.2h3M1306 853.2h3M1315 853.2h3M1332 853.2h3M1338 853.2h3M1347 853.2h3M1356 853.2h3M1364 853.2h6M1376 853.2h3M1408 853.2h3M1434 853.2h3M1440 853.2h6M1451 853.2h3M1457 853.2h3M1466 853.2h3M1474 853.2h3M1489 853.2h6M1500 853.2h3M1506 853.2h3M1512 853.2h3M1538 853.2h3M1547 853.2h3M1556 853.2h3M1570 853.2h3M1585 853.2h3M1593 853.2h3M1608 853.2h6M1640 853.2h3M1651 853.2h6M1295 856.2h3M1303 856.2h6M1312 856.2h3M1335 856.2h3M1347 856.2h3M1361 856.2h3M1370 856.2h3M1382 856.2h3M1399 856.2h6M1408 856.2h3M1422 856.2h3M1434 856.2h3M1440 856.2h3M1445 856.2h3M1457 856.2h3M1463 856.2h9M1489 856.2h3M1495 856.2h3M1506 856.2h3M1518 856.2h6M1530 856.2h9M1553 856.2h3M1567 856.2h3M1573 856.2h3M1585 856.2h3M1590 856.2h9M1608 856.2h3M1622 856.2h3M1628 856.2h3M1646 856.2h3M1657 856.2h9M1295 859.0h3M1303 859.0h3M1324 859.0h3M1358 859.0h3M1364 859.0h6M1376 859.0h3M1382 859.0h3M1387 859.0h3M1411 859.0h3M1416 859.0h6M1440 859.0h3M1445 859.0h3M1454 859.0h3M1463 859.0h3M1472 859.0h3M1477 859.0h9M1495 859.0h3M1500 859.0h3M1518 859.0h14M1538 859.0h3M1553 859.0h6M1585 859.0h3M1590 859.0h6M1599 859.0h3M1611 859.0h3M1622 859.0h3M1631 859.0h6M1646 859.0h3M1654 859.0h9" stroke="#7a7a7a" stroke-width="2.9" fill="none"/><path d="M1300 528.5h3M1306 528.5h3M1419 528.5h6M1442 528.5h3M1463 528.5h3M1472 528.5h3M1480 528.5h3M1489 528.5h3M1509 528.5h6M1573 528.5h3M1602 528.5h3M1631 528.5h6M1640 528.5h3M1648 528.5h3M1295 531.4h3M1321 531.4h3M1338 531.4h3M1344 531.4h3M1364 531.4h3M1373 531.4h3M1390 531.4h3M1402 531.4h6M1422 531.4h9M1483 531.4h3M1532 531.4h3M1541 531.4h9M1614 531.4h3M1643 531.4h3M1660 531.4h3M1289 534.2h3M1298 534.2h9M1318 534.2h3M1379 534.2h3M1405 534.2h3M1411 534.2h3M1451 534.2h3M1466 534.2h3M1489 534.2h3M1509 534.2h3M1553 534.2h3M1608 534.2h3M1616 534.2h3M1634 534.2h3M1640 534.2h3M1651 534.2h3M1283 537.2h3M1309 537.2h6M1324 537.2h3M1335 537.2h3M1472 537.2h3M1483 537.2h3M1498 537.2h6M1506 537.2h3M1530 537.2h3M1573 537.2h3M1602 537.2h3M1628 537.2h3M1646 537.2h3M1660 537.2h3M1283 540.1h3M1295 540.1h3M1309 540.1h3M1321 540.1h3M1335 540.1h3M1399 540.1h3M1448 540.1h3M1474 540.1h3M1521 540.1h3M1532 540.1h3M1573 540.1h3M1643 540.1h6M1326 543.0h3M1350 543.0h3M1419 543.0h3M1428 543.0h3M1451 543.0h3M1495 543.0h3M1503 543.0h3M1509 543.0h3M1535 543.0h3M1573 543.0h3M1579 543.0h3M1599 543.0h3M1622 543.0h9M1306 545.9h3M1315 545.9h3M1382 545.9h3M1390 545.9h3M1399 545.9h3M1405 545.9h3M1414 545.9h3M1469 545.9h3M1483 545.9h3M1492 545.9h3M1503 545.9h3M1512 545.9h6M1532 545.9h6M1541 545.9h3M1570 545.9h3M1579 545.9h3M1590 545.9h3M1616 545.9h3M1622 545.9h3M1628 545.9h3M1634 545.9h6M1286 548.8h3M1292 548.8h3M1306 548.8h3M1324 548.8h3M1329 548.8h3M1344 548.8h3M1419 548.8h3M1442 548.8h3M1532 548.8h3M1550 548.8h3M1556 548.8h3M1654 548.8h3M1298 551.7h3M1324 551.7h3M1344 551.7h3M1382 551.7h3M1387 551.7h3M1411 551.7h3M1440 551.7h3M1472 551.7h3M1492 551.7h3M1512 551.7h3M1518 551.7h3M1550 551.7h3M1564 551.7h6M1576 551.7h6M1585 551.7h6M1593 551.7h3M1602 551.7h3M1486 554.6h3M1495 554.6h3M1544 554.6h3M1561 554.6h3M1588 554.6h3M1596 554.6h3M1648 554.6h3M1283 557.5h3M1312 557.5h3M1321 557.5h3M1384 557.5h6M1434 557.5h6M1442 557.5h3M1472 557.5h3M1518 557.5h3M1527 557.5h6M1538 557.5h3M1547 557.5h6M1567 557.5h3M1582 557.5h3M1588 557.5h9M1599 557.5h3M1611 557.5h3M1637 557.5h3M1646 557.5h3M1309 560.4h6M1318 560.4h3M1326 560.4h3M1344 560.4h3M1353 560.4h3M1370 560.4h3M1376 560.4h3M1411 560.4h3M1422 560.4h3M1442 560.4h3M1454 560.4h6M1524 560.4h3M1532 560.4h3M1567 560.4h6M1576 560.4h3M1588 560.4h3M1657 560.4h3M1298 563.2h3M1338 563.2h3M1344 563.2h3M1353 563.2h3M1367 563.2h3M1416 563.2h3M1437 563.2h3M1445 563.2h3M1460 563.2h6M1472 563.2h3M1512 563.2h3M1530 563.2h3M1535 563.2h3M1553 563.2h3M1582 563.2h3M1596 563.2h6M1637 563.2h3M1283 566.2h3M1306 566.2h3M1315 566.2h3M1321 566.2h3M1329 566.2h3M1393 566.2h3M1402 566.2h3M1411 566.2h3M1416 566.2h3M1434 566.2h3M1442 566.2h6M1457 566.2h3M1480 566.2h3M1486 566.2h3M1530 566.2h6M1599 566.2h3M1608 566.2h3M1614 566.2h3M1622 566.2h3M1634 566.2h3M1648 566.2h3M1292 569.1h3M1312 569.1h3M1358 569.1h6M1367 569.1h3M1382 569.1h3M1411 569.1h3M1442 569.1h3M1463 569.1h6M1486 569.1h6M1495 569.1h3M1503 569.1h3M1535 569.1h3M1576 569.1h3M1593 569.1h3M1306 572.0h3M1315 572.0h6M1326 572.0h6M1347 572.0h3M1356 572.0h6M1393 572.0h6M1405 572.0h3M1411 572.0h3M1472 572.0h3M1512 572.0h6M1524 572.0h3M1573 572.0h3M1585 572.0h3M1608 572.0h3M1622 572.0h3M1628 572.0h6M1292 574.9h3M1335 574.9h6M1358 574.9h3M1379 574.9h3M1396 574.9h3M1408 574.9h3M1416 574.9h3M1445 574.9h3M1472 574.9h3M1495 574.9h3M1527 574.9h6M1535 574.9h3M1544 574.9h3M1564 574.9h3M1579 574.9h3M1585 574.9h3M1605 574.9h6M1614 574.9h3M1619 574.9h3M1643 574.9h3M1332 577.8h3M1373 577.8h3M1396 577.8h3M1425 577.8h3M1431 577.8h3M1437 577.8h3M1463 577.8h3M1483 577.8h3M1553 577.8h3M1570 577.8h3M1590 577.8h3M1614 577.8h6M1634 577.8h3M1646 577.8h9M1289 580.7h3M1341 580.7h3M1347 580.7h3M1353 580.7h3M1376 580.7h3M1390 580.7h3M1419 580.7h3M1454 580.7h3M1463 580.7h3M1474 580.7h3M1492 580.7h6M1550 580.7h3M1590 580.7h3M1611 580.7h3M1654 580.7h3M1298 583.6h3M1387 583.6h6M1399 583.6h6M1416 583.6h3M1472 583.6h3M1541 583.6h3M1553 583.6h3M1573 583.6h3M1579 583.6h3M1619 583.6h3M1634 583.6h3M1648 583.6h3M1657 583.6h3M1312 586.5h6M1321 586.5h3M1329 586.5h3M1350 586.5h6M1379 586.5h3M1414 586.5h6M1422 586.5h3M1442 586.5h3M1454 586.5h3M1469 586.5h3M1498 586.5h9M1518 586.5h3M1535 586.5h3M1547 586.5h3M1553 586.5h3M1579 586.5h6M1593 586.5h3M1619 586.5h3M1634 586.5h6M1648 586.5h3M1292 589.4h3M1298 589.4h3M1347 589.4h3M1361 589.4h3M1390 589.4h3M1414 589.4h3M1440 589.4h3M1448 589.4h3M1463 589.4h3M1483 589.4h3M1518 589.4h3M1553 589.4h3M1567 589.4h3M1602 589.4h6M1640 589.4h3M1660 589.4h6M1315 592.2h6M1332 592.2h3M1341 592.2h6M1384 592.2h6M1396 592.2h3M1422 592.2h3M1437 592.2h3M1442 592.2h3M1492 592.2h6M1521 592.2h3M1527 592.2h3M1544 592.2h3M1573 592.2h3M1582 592.2h6M1590 592.2h3M1596 592.2h3M1602 592.2h3M1608 592.2h3M1663 592.2h3M1324 595.2h3M1356 595.2h3M1364 595.2h3M1373 595.2h3M1387 595.2h3M1393 595.2h12M1448 595.2h3M1460 595.2h3M1509 595.2h6M1573 595.2h6M1605 595.2h3M1616 595.2h3M1637 595.2h3M1660 595.2h3M1289 598.1h3M1315 598.1h3M1324 598.1h3M1399 598.1h3M1405 598.1h3M1437 598.1h3M1445 598.1h6M1454 598.1h3M1469 598.1h3M1503 598.1h3M1515 598.1h3M1567 598.1h3M1573 598.1h3M1582 598.1h3M1596 598.1h3M1622 598.1h3M1312 601.0h3M1341 601.0h3M1347 601.0h3M1364 601.0h3M1411 601.0h3M1425 601.0h3M1451 601.0h3M1457 601.0h3M1466 601.0h3M1472 601.0h3M1495 601.0h3M1532 601.0h3M1564 601.0h6M1593 601.0h3M1602 601.0h3M1622 601.0h6M1634 601.0h6M1648 601.0h3M1289 603.9h3M1312 603.9h3M1338 603.9h3M1347 603.9h3M1353 603.9h3M1373 603.9h9M1402 603.9h3M1457 603.9h3M1469 603.9h3M1477 603.9h3M1500 603.9h3M1567 603.9h3M1585 603.9h3M1596 603.9h3M1611 603.9h3M1619 603.9h3M1318 606.8h3M1335 606.8h3M1353 606.8h6M1364 606.8h6M1393 606.8h3M1399 606.8h3M1411 606.8h3M1416 606.8h6M1425 606.8h3M1445 606.8h3M1454 606.8h3M1469 606.8h3M1474 606.8h3M1486 606.8h3M1547 606.8h3M1558 606.8h3M1573 606.8h3M1590 606.8h3M1596 606.8h3M1602 606.8h3M1298 609.7h3M1318 609.7h3M1370 609.7h3M1451 609.7h3M1506 609.7h3M1521 609.7h3M1530 609.7h3M1535 609.7h3M1573 609.7h6M1585 609.7h3M1657 609.7h3M1289 612.6h6M1306 612.6h3M1329 612.6h3M1353 612.6h3M1361 612.6h3M1390 612.6h3M1434 612.6h3M1469 612.6h3M1480 612.6h6M1489 612.6h3M1509 612.6h3M1530 612.6h3M1556 612.6h6M1588 612.6h3M1622 612.6h3M1286 615.5h3M1335 615.5h6M1376 615.5h3M1393 615.5h3M1408 615.5h3M1428 615.5h12M1457 615.5h3M1489 615.5h3M1515 615.5h3M1524 615.5h3M1558 615.5h3M1573 615.5h3M1660 615.5h3M1295 618.4h3M1335 618.4h3M1376 618.4h3M1399 618.4h6M1428 618.4h3M1442 618.4h3M1448 618.4h3M1454 618.4h3M1466 618.4h3M1544 618.4h6M1616 618.4h3M1622 618.4h3M1648 618.4h3M1295 621.2h3M1329 621.2h3M1373 621.2h3M1411 621.2h3M1416 621.2h3M1422 621.2h3M1440 621.2h3M1477 621.2h3M1483 621.2h3M1512 621.2h3M1532 621.2h3M1541 621.2h3M1553 621.2h3M1558 621.2h3M1582 621.2h3M1616 621.2h3M1637 621.2h6M1286 624.2h3M1295 624.2h3M1338 624.2h3M1367 624.2h3M1379 624.2h3M1384 624.2h3M1414 624.2h3M1454 624.2h3M1472 624.2h3M1500 624.2h3M1506 624.2h3M1512 624.2h3M1524 624.2h3M1530 624.2h6M1576 624.2h3M1585 624.2h3M1628 624.2h3M1321 627.1h6M1390 627.1h3M1399 627.1h3M1414 627.1h3M1428 627.1h3M1440 627.1h3M1474 627.1h3M1492 627.1h3M1556 627.1h3M1570 627.1h9M1599 627.1h3M1611 627.1h3M1628 627.1h6M1648 627.1h6M1663 627.1h3M1289 630.0h3M1367 630.0h6M1379 630.0h3M1422 630.0h3M1428 630.0h3M1477 630.0h3M1486 630.0h3M1500 630.0h6M1512 630.0h3M1532 630.0h3M1564 630.0h3M1576 630.0h3M1599 630.0h3M1614 630.0h3M1640 630.0h3M1289 632.9h3M1306 632.9h3M1318 632.9h3M1341 632.9h3M1422 632.9h3M1437 632.9h3M1442 632.9h3M1457 632.9h3M1469 632.9h3M1500 632.9h3M1530 632.9h3M1556 632.9h3M1573 632.9h3M1599 632.9h3M1616 632.9h3M1654 632.9h6M1300 635.8h3M1341 635.8h3M1353 635.8h6M1382 635.8h6M1399 635.8h3M1474 635.8h3M1500 635.8h3M1553 635.8h3M1611 635.8h3M1625 635.8h3M1631 635.8h6M1643 635.8h3M1283 638.7h3M1373 638.7h6M1390 638.7h3M1402 638.7h3M1425 638.7h3M1451 638.7h3M1472 638.7h3M1489 638.7h3M1599 638.7h3M1289 641.6h3M1321 641.6h3M1367 641.6h3M1376 641.6h3M1387 641.6h3M1460 641.6h3M1538 641.6h3M1553 641.6h3M1570 641.6h3M1599 641.6h6M1651 641.6h6M1660 641.6h3M1306 644.5h3M1341 644.5h3M1353 644.5h3M1361 644.5h3M1399 644.5h3M1440 644.5h3M1469 644.5h6M1556 644.5h3M1570 644.5h3M1593 644.5h3M1637 644.5h6M1654 644.5h3M1283 647.4h6M1292 647.4h3M1298 647.4h3M1347 647.4h3M1364 647.4h3M1376 647.4h3M1390 647.4h3M1416 647.4h3M1472 647.4h3M1480 647.4h6M1550 647.4h3M1564 647.4h3M1286 650.2h3M1292 650.2h3M1309 650.2h3M1353 650.2h3M1382 650.2h3M1390 650.2h3M1416 650.2h3M1428 650.2h3M1440 650.2h3M1466 650.2h3M1480 650.2h3M1489 650.2h3M1547 650.2h6M1556 650.2h6M1570 650.2h6M1588 650.2h3M1634 650.2h3M1651 650.2h3M1660 650.2h3M1286 653.2h3M1315 653.2h3M1358 653.2h3M1379 653.2h3M1434 653.2h3M1451 653.2h3M1460 653.2h3M1477 653.2h3M1498 653.2h3M1579 653.2h3M1646 653.2h3M1364 656.1h3M1411 656.1h3M1437 656.1h6M1460 656.1h3M1500 656.1h3M1506 656.1h3M1527 656.1h3M1532 656.1h3M1538 656.1h3M1547 656.1h3M1558 656.1h3M1567 656.1h3M1660 656.1h3M1306 659.0h3M1324 659.0h6M1335 659.0h3M1379 659.0h3M1411 659.0h3M1437 659.0h3M1498 659.0h3M1532 659.0h6M1579 659.0h3M1599 659.0h3M1611 659.0h6M1634 659.0h3M1651 659.0h3M1286 661.9h3M1315 661.9h3M1393 661.9h3M1419 661.9h3M1434 661.9h3M1477 661.9h3M1512 661.9h3M1518 661.9h3M1527 661.9h3M1532 661.9h3M1567 661.9h3M1585 661.9h3M1596 661.9h3M1312 664.8h3M1341 664.8h3M1361 664.8h3M1370 664.8h9M1402 664.8h3M1431 664.8h3M1440 664.8h3M1454 664.8h3M1463 664.8h3M1469 664.8h3M1495 664.8h3M1532 664.8h3M1576 664.8h3M1616 664.8h3M1634 664.8h3M1306 667.7h3M1312 667.7h3M1326 667.7h3M1344 667.7h6M1364 667.7h3M1419 667.7h3M1428 667.7h3M1445 667.7h3M1495 667.7h3M1530 667.7h3M1535 667.7h3M1547 667.7h3M1553 667.7h3M1561 667.7h6M1585 667.7h3M1590 667.7h3M1616 667.7h3M1648 667.7h3M1289 670.6h3M1306 670.6h3M1344 670.6h3M1353 670.6h3M1364 670.6h3M1387 670.6h3M1416 670.6h3M1442 670.6h3M1480 670.6h3M1495 670.6h3M1503 670.6h3M1532 670.6h6M1561 670.6h6M1579 670.6h3M1596 670.6h3M1605 670.6h3M1643 670.6h3M1341 673.5h3M1347 673.5h3M1358 673.5h3M1419 673.5h3M1445 673.5h3M1463 673.5h6M1477 673.5h3M1483 673.5h3M1492 673.5h3M1512 673.5h3M1518 673.5h3M1527 673.5h3M1544 673.5h3M1561 673.5h3M1567 673.5h3M1588 673.5h3M1593 673.5h3M1599 673.5h3M1605 673.5h3M1634 673.5h3M1640 673.5h6M1306 676.4h3M1376 676.4h3M1509 676.4h3M1558 676.4h3M1567 676.4h3M1596 676.4h6M1616 676.4h3M1622 676.4h3M1648 676.4h3M1663 676.4h3M1321 679.2h3M1347 679.2h6M1361 679.2h3M1370 679.2h3M1379 679.2h3M1390 679.2h3M1396 679.2h3M1402 679.2h3M1411 679.2h3M1442 679.2h3M1457 679.2h3M1480 679.2h3M1500 679.2h3M1535 679.2h3M1561 679.2h3M1593 679.2h3M1614 679.2h6M1651 679.2h3M1663 679.2h3M1283 682.2h3M1341 682.2h3M1393 682.2h6M1428 682.2h3M1616 682.2h3M1657 682.2h3M1315 685.1h3M1341 685.1h3M1393 685.1h3M1422 685.1h3M1445 685.1h3M1460 685.1h3M1503 685.1h3M1521 685.1h3M1547 685.1h3M1556 685.1h6M1640 685.1h3M1292 688.0h3M1312 688.0h3M1364 688.0h3M1379 688.0h3M1396 688.0h3M1445 688.0h3M1460 688.0h6M1483 688.0h3M1530 688.0h3M1541 688.0h3M1558 688.0h3M1590 688.0h3M1637 688.0h3M1663 688.0h3M1289 690.9h3M1309 690.9h3M1341 690.9h6M1408 690.9h3M1416 690.9h3M1445 690.9h3M1451 690.9h3M1457 690.9h3M1498 690.9h3M1512 690.9h3M1530 690.9h3M1538 690.9h3M1582 690.9h3M1605 690.9h3M1614 690.9h3M1637 690.9h3M1283 693.8h3M1289 693.8h3M1300 693.8h3M1306 693.8h3M1442 693.8h3M1448 693.8h3M1457 693.8h3M1477 693.8h3M1489 693.8h3M1498 693.8h3M1515 693.8h3M1524 693.8h3M1547 693.8h3M1573 693.8h3M1590 693.8h6M1622 693.8h3M1634 693.8h3M1643 693.8h3M1648 693.8h3M1654 693.8h3M1298 696.7h3M1326 696.7h3M1350 696.7h3M1376 696.7h3M1382 696.7h3M1419 696.7h3M1451 696.7h6M1469 696.7h3M1558 696.7h3M1637 696.7h3M1657 696.7h3M1283 699.6h3M1292 699.6h6M1303 699.6h9M1321 699.6h3M1347 699.6h6M1393 699.6h3M1419 699.6h3M1440 699.6h3M1483 699.6h3M1495 699.6h3M1518 699.6h3M1532 699.6h3M1538 699.6h3M1576 699.6h6M1588 699.6h6M1625 699.6h3M1300 702.5h12M1318 702.5h3M1329 702.5h3M1341 702.5h6M1350 702.5h6M1361 702.5h3M1414 702.5h3M1419 702.5h3M1434 702.5h3M1440 702.5h3M1454 702.5h3M1474 702.5h3M1489 702.5h3M1550 702.5h3M1561 702.5h3M1567 702.5h3M1619 702.5h3M1643 702.5h3M1298 705.4h6M1341 705.4h3M1350 705.4h3M1367 705.4h3M1399 705.4h3M1414 705.4h3M1442 705.4h6M1460 705.4h3M1512 705.4h6M1556 705.4h9M1567 705.4h6M1596 705.4h3M1602 705.4h3M1614 705.4h3M1631 705.4h3M1643 705.4h3M1657 705.4h3M1309 708.2h3M1347 708.2h3M1367 708.2h3M1393 708.2h3M1460 708.2h9M1472 708.2h3M1489 708.2h3M1509 708.2h3M1535 708.2h3M1544 708.2h3M1564 708.2h3M1570 708.2h3M1588 708.2h6M1634 708.2h3M1648 708.2h6M1286 711.2h3M1312 711.2h9M1326 711.2h3M1338 711.2h12M1356 711.2h3M1379 711.2h3M1387 711.2h3M1408 711.2h3M1451 711.2h3M1463 711.2h3M1503 711.2h3M1515 711.2h3M1532 711.2h3M1558 711.2h6M1585 711.2h3M1593 711.2h3M1605 711.2h3M1622 711.2h3M1637 711.2h3M1312 714.1h6M1321 714.1h3M1329 714.1h3M1356 714.1h6M1477 714.1h3M1503 714.1h3M1524 714.1h6M1535 714.1h9M1553 714.1h3M1564 714.1h3M1579 714.1h3M1590 714.1h3M1628 714.1h3M1637 714.1h6M1646 714.1h3M1329 717.0h3M1356 717.0h3M1367 717.0h3M1396 717.0h6M1408 717.0h3M1414 717.0h3M1425 717.0h6M1437 717.0h3M1454 717.0h3M1512 717.0h3M1553 717.0h3M1593 717.0h3M1622 717.0h3M1631 717.0h3M1657 717.0h3M1286 719.9h3M1303 719.9h3M1329 719.9h3M1344 719.9h3M1364 719.9h3M1379 719.9h3M1387 719.9h6M1396 719.9h3M1414 719.9h3M1437 719.9h3M1448 719.9h3M1472 719.9h3M1498 719.9h3M1506 719.9h3M1530 719.9h3M1544 719.9h6M1564 719.9h6M1599 719.9h3M1614 719.9h3M1631 719.9h3M1654 719.9h3M1324 722.8h3M1344 722.8h3M1350 722.8h6M1396 722.8h3M1405 722.8h3M1419 722.8h3M1451 722.8h3M1480 722.8h3M1518 722.8h3M1599 722.8h3M1631 722.8h3M1663 722.8h3M1292 725.7h3M1326 725.7h3M1338 725.7h3M1370 725.7h3M1376 725.7h6M1451 725.7h3M1457 725.7h3M1480 725.7h3M1489 725.7h3M1503 725.7h3M1524 725.7h3M1535 725.7h3M1550 725.7h3M1564 725.7h3M1599 725.7h3M1616 725.7h3M1628 725.7h3M1648 725.7h3M1657 725.7h3M1324 728.6h3M1364 728.6h3M1373 728.6h3M1402 728.6h3M1416 728.6h3M1434 728.6h3M1448 728.6h3M1466 728.6h3M1480 728.6h3M1550 728.6h3M1561 728.6h3M1585 728.6h3M1590 728.6h3M1646 728.6h3M1295 731.5h6M1309 731.5h3M1326 731.5h6M1353 731.5h3M1370 731.5h3M1382 731.5h3M1405 731.5h3M1454 731.5h6M1469 731.5h3M1480 731.5h3M1498 731.5h3M1509 731.5h3M1515 731.5h3M1527 731.5h3M1538 731.5h3M1602 731.5h3M1663 731.5h3M1326 734.4h3M1332 734.4h3M1367 734.4h3M1408 734.4h3M1414 734.4h3M1440 734.4h3M1457 734.4h3M1492 734.4h3M1498 734.4h3M1506 734.4h3M1521 734.4h9M1538 734.4h6M1553 734.4h3M1561 734.4h3M1625 734.4h3M1634 734.4h3M1646 734.4h3M1660 734.4h3M1324 737.2h3M1335 737.2h3M1341 737.2h3M1350 737.2h3M1367 737.2h3M1390 737.2h3M1414 737.2h6M1422 737.2h3M1437 737.2h3M1472 737.2h3M1477 737.2h6M1489 737.2h3M1541 737.2h3M1547 737.2h6M1582 737.2h3M1614 737.2h3M1640 737.2h3M1286 740.2h3M1321 740.2h3M1326 740.2h3M1335 740.2h3M1347 740.2h3M1393 740.2h3M1460 740.2h3M1469 740.2h3M1500 740.2h3M1550 740.2h3M1588 740.2h3M1599 740.2h3M1637 740.2h3M1648 740.2h6M1298 743.1h3M1341 743.1h3M1347 743.1h3M1353 743.1h3M1373 743.1h6M1399 743.1h3M1411 743.1h3M1434 743.1h3M1440 743.1h3M1463 743.1h6M1530 743.1h3M1538 743.1h3M1593 743.1h6M1608 743.1h3M1619 743.1h3M1648 743.1h6M1286 746.0h3M1303 746.0h3M1315 746.0h3M1321 746.0h3M1347 746.0h6M1356 746.0h3M1361 746.0h3M1373 746.0h3M1393 746.0h3M1402 746.0h3M1411 746.0h3M1440 746.0h3M1445 746.0h3M1477 746.0h3M1492 746.0h3M1500 746.0h3M1506 746.0h3M1541 746.0h3M1576 746.0h3M1588 746.0h9M1599 746.0h3M1614 746.0h3M1634 746.0h3M1300 748.9h3M1367 748.9h3M1387 748.9h3M1419 748.9h3M1445 748.9h3M1460 748.9h3M1498 748.9h6M1509 748.9h3M1544 748.9h9M1558 748.9h6M1605 748.9h3M1625 748.9h6M1646 748.9h3M1657 748.9h6M1289 751.8h3M1298 751.8h3M1318 751.8h3M1344 751.8h3M1390 751.8h3M1396 751.8h3M1411 751.8h3M1416 751.8h3M1422 751.8h3M1434 751.8h6M1509 751.8h3M1524 751.8h6M1535 751.8h6M1646 751.8h3M1651 751.8h3M1283 754.7h3M1298 754.7h3M1356 754.7h3M1390 754.7h3M1414 754.7h3M1451 754.7h6M1460 754.7h3M1466 754.7h3M1483 754.7h3M1585 754.7h3M1631 754.7h3M1646 754.7h3M1292 757.6h3M1321 757.6h3M1350 757.6h3M1370 757.6h3M1393 757.6h3M1460 757.6h3M1480 757.6h3M1486 757.6h3M1495 757.6h3M1503 757.6h3M1550 757.6h3M1567 757.6h3M1616 757.6h3M1631 757.6h3M1646 757.6h3M1660 757.6h6M1298 760.5h3M1324 760.5h3M1361 760.5h3M1370 760.5h3M1379 760.5h6M1399 760.5h3M1405 760.5h3M1442 760.5h3M1448 760.5h6M1466 760.5h3M1477 760.5h3M1486 760.5h3M1498 760.5h6M1509 760.5h3M1521 760.5h3M1538 760.5h3M1576 760.5h3M1593 760.5h3M1628 760.5h3M1640 760.5h6M1283 763.4h3M1338 763.4h3M1384 763.4h3M1419 763.4h3M1428 763.4h3M1451 763.4h3M1469 763.4h3M1474 763.4h3M1486 763.4h3M1503 763.4h3M1538 763.4h3M1564 763.4h3M1588 763.4h3M1283 766.2h3M1298 766.2h3M1338 766.2h3M1344 766.2h3M1358 766.2h6M1390 766.2h3M1402 766.2h3M1414 766.2h3M1425 766.2h3M1448 766.2h6M1457 766.2h3M1463 766.2h3M1498 766.2h3M1535 766.2h3M1544 766.2h3M1553 766.2h3M1567 766.2h6M1579 766.2h3M1590 766.2h3M1625 766.2h3M1634 766.2h3M1651 766.2h3M1289 769.2h3M1315 769.2h3M1324 769.2h3M1344 769.2h3M1353 769.2h3M1373 769.2h3M1384 769.2h3M1399 769.2h3M1414 769.2h6M1472 769.2h3M1489 769.2h6M1535 769.2h3M1567 769.2h3M1596 769.2h3M1602 769.2h3M1631 769.2h6M1651 769.2h3M1289 772.1h3M1300 772.1h3M1341 772.1h3M1350 772.1h6M1364 772.1h3M1373 772.1h3M1402 772.1h3M1419 772.1h3M1463 772.1h3M1521 772.1h6M1547 772.1h3M1561 772.1h3M1573 772.1h3M1614 772.1h3M1619 772.1h3M1634 772.1h3M1651 772.1h3M1341 775.0h3M1353 775.0h3M1358 775.0h3M1437 775.0h3M1503 775.0h3M1515 775.0h3M1535 775.0h3M1582 775.0h3M1593 775.0h6M1608 775.0h3M1616 775.0h3M1625 775.0h3M1283 777.9h3M1292 777.9h3M1356 777.9h3M1364 777.9h3M1390 777.9h6M1434 777.9h3M1463 777.9h3M1483 777.9h3M1489 777.9h3M1518 777.9h3M1535 777.9h3M1614 777.9h3M1643 777.9h3M1654 777.9h3M1312 780.8h3M1326 780.8h6M1335 780.8h6M1396 780.8h6M1411 780.8h3M1474 780.8h3M1486 780.8h6M1506 780.8h3M1527 780.8h3M1619 780.8h3M1631 780.8h3M1646 780.8h3M1651 780.8h3M1292 783.7h3M1315 783.7h3M1353 783.7h3M1364 783.7h3M1379 783.7h3M1408 783.7h3M1428 783.7h3M1440 783.7h3M1460 783.7h3M1472 783.7h3M1544 783.7h3M1550 783.7h3M1564 783.7h3M1579 783.7h3M1628 783.7h3M1646 783.7h3M1657 783.7h3M1298 786.5h3M1326 786.5h3M1338 786.5h3M1344 786.5h3M1361 786.5h3M1379 786.5h3M1396 786.5h6M1408 786.5h3M1416 786.5h3M1431 786.5h3M1498 786.5h3M1503 786.5h3M1515 786.5h3M1521 786.5h3M1561 786.5h3M1614 786.5h6M1286 789.5h3M1312 789.5h3M1358 789.5h3M1387 789.5h3M1402 789.5h3M1411 789.5h3M1448 789.5h6M1460 789.5h6M1474 789.5h3M1492 789.5h3M1509 789.5h6M1582 789.5h6M1602 789.5h3M1608 789.5h3M1321 792.4h6M1437 792.4h3M1466 792.4h3M1500 792.4h3M1527 792.4h3M1538 792.4h3M1544 792.4h3M1570 792.4h3M1579 792.4h3M1593 792.4h3M1616 792.4h3M1651 792.4h3M1657 792.4h6M1306 795.2h3M1318 795.2h3M1338 795.2h3M1370 795.2h3M1411 795.2h3M1428 795.2h3M1451 795.2h3M1474 795.2h3M1483 795.2h3M1492 795.2h3M1509 795.2h6M1530 795.2h3M1582 795.2h3M1593 795.2h3M1605 795.2h3M1298 798.2h3M1303 798.2h3M1335 798.2h3M1387 798.2h3M1396 798.2h3M1419 798.2h3M1518 798.2h3M1550 798.2h3M1582 798.2h3M1599 798.2h6M1611 798.2h3M1315 801.0h3M1335 801.0h6M1344 801.0h6M1373 801.0h3M1393 801.0h9M1414 801.0h3M1431 801.0h3M1448 801.0h3M1503 801.0h3M1544 801.0h6M1553 801.0h3M1573 801.0h3M1585 801.0h3M1605 801.0h3M1614 801.0h3M1622 801.0h3M1657 801.0h3M1663 801.0h3M1312 804.0h3M1321 804.0h3M1335 804.0h3M1347 804.0h3M1361 804.0h6M1384 804.0h3M1414 804.0h3M1431 804.0h3M1469 804.0h6M1486 804.0h3M1495 804.0h3M1509 804.0h3M1521 804.0h3M1530 804.0h6M1541 804.0h6M1608 804.0h3M1637 804.0h3M1312 806.9h3M1329 806.9h3M1344 806.9h3M1361 806.9h3M1411 806.9h3M1416 806.9h3M1431 806.9h3M1469 806.9h3M1489 806.9h9M1553 806.9h3M1567 806.9h3M1605 806.9h6M1625 806.9h3M1640 806.9h3M1295 809.8h3M1329 809.8h3M1341 809.8h3M1353 809.8h3M1358 809.8h3M1367 809.8h3M1376 809.8h3M1399 809.8h3M1411 809.8h3M1448 809.8h3M1457 809.8h3M1474 809.8h6M1489 809.8h3M1495 809.8h3M1518 809.8h3M1550 809.8h6M1570 809.8h3M1585 809.8h3M1596 809.8h3M1657 809.8h3M1303 812.7h9M1326 812.7h3M1332 812.7h3M1382 812.7h3M1396 812.7h3M1405 812.7h3M1445 812.7h3M1463 812.7h3M1477 812.7h3M1489 812.7h3M1498 812.7h3M1509 812.7h3M1561 812.7h3M1622 812.7h3M1643 812.7h6M1292 815.5h3M1298 815.5h3M1312 815.5h3M1326 815.5h3M1382 815.5h3M1405 815.5h3M1411 815.5h3M1428 815.5h3M1530 815.5h3M1535 815.5h3M1547 815.5h3M1599 815.5h3M1611 815.5h3M1616 815.5h3M1326 818.5h3M1373 818.5h3M1393 818.5h6M1405 818.5h3M1414 818.5h3M1434 818.5h3M1486 818.5h3M1503 818.5h3M1541 818.5h3M1558 818.5h6M1614 818.5h3M1631 818.5h3M1292 821.4h3M1300 821.4h3M1390 821.4h3M1442 821.4h12M1457 821.4h3M1506 821.4h6M1521 821.4h3M1538 821.4h3M1553 821.4h3M1602 821.4h3M1643 821.4h3M1286 824.2h3M1309 824.2h3M1315 824.2h3M1321 824.2h3M1370 824.2h3M1422 824.2h3M1428 824.2h3M1445 824.2h3M1454 824.2h3M1460 824.2h3M1466 824.2h3M1472 824.2h3M1483 824.2h6M1492 824.2h3M1500 824.2h3M1506 824.2h3M1521 824.2h3M1541 824.2h3M1556 824.2h6M1564 824.2h3M1570 824.2h3M1582 824.2h3M1599 824.2h3M1608 824.2h3M1660 824.2h3M1332 827.2h3M1358 827.2h3M1373 827.2h3M1382 827.2h3M1422 827.2h3M1442 827.2h3M1451 827.2h3M1474 827.2h3M1515 827.2h3M1530 827.2h6M1538 827.2h3M1553 827.2h3M1616 827.2h3M1631 827.2h3M1646 827.2h3M1654 827.2h3M1295 830.0h3M1335 830.0h3M1344 830.0h3M1356 830.0h3M1376 830.0h3M1382 830.0h6M1425 830.0h3M1442 830.0h3M1457 830.0h3M1469 830.0h6M1530 830.0h3M1561 830.0h3M1579 830.0h3M1602 830.0h6M1657 830.0h3M1283 833.0h3M1309 833.0h3M1321 833.0h3M1341 833.0h3M1347 833.0h3M1356 833.0h3M1364 833.0h3M1480 833.0h3M1503 833.0h3M1585 833.0h3M1611 833.0h3M1631 833.0h3M1637 833.0h3M1643 833.0h6M1341 835.9h3M1350 835.9h3M1399 835.9h3M1422 835.9h3M1437 835.9h3M1442 835.9h3M1460 835.9h3M1477 835.9h6M1486 835.9h3M1495 835.9h3M1527 835.9h3M1541 835.9h3M1567 835.9h3M1582 835.9h3M1608 835.9h3M1625 835.9h3M1646 835.9h3M1300 838.8h6M1326 838.8h3M1344 838.8h3M1350 838.8h3M1387 838.8h6M1405 838.8h6M1414 838.8h3M1457 838.8h3M1466 838.8h3M1472 838.8h3M1506 838.8h3M1515 838.8h3M1521 838.8h3M1530 838.8h6M1590 838.8h3M1602 838.8h3M1611 838.8h3M1622 838.8h3M1643 838.8h3M1651 838.8h3M1295 841.7h3M1309 841.7h3M1361 841.7h3M1376 841.7h3M1472 841.7h3M1532 841.7h3M1558 841.7h6M1570 841.7h3M1599 841.7h3M1605 841.7h3M1616 841.7h3M1628 841.7h3M1634 841.7h6M1646 841.7h6M1654 841.7h6M1306 844.5h3M1361 844.5h3M1367 844.5h3M1373 844.5h3M1416 844.5h3M1422 844.5h3M1434 844.5h3M1445 844.5h3M1463 844.5h6M1480 844.5h3M1489 844.5h3M1512 844.5h3M1530 844.5h3M1541 844.5h3M1556 844.5h3M1561 844.5h3M1338 847.5h3M1384 847.5h3M1431 847.5h6M1442 847.5h3M1486 847.5h3M1515 847.5h3M1521 847.5h3M1527 847.5h3M1558 847.5h3M1599 847.5h3M1608 847.5h3M1289 850.4h3M1332 850.4h6M1350 850.4h3M1361 850.4h3M1373 850.4h3M1382 850.4h3M1419 850.4h3M1428 850.4h3M1440 850.4h3M1469 850.4h3M1480 850.4h3M1486 850.4h3M1492 850.4h3M1576 850.4h3M1593 850.4h3M1602 850.4h6M1634 850.4h3M1646 850.4h3M1324 853.2h3M1341 853.2h6M1361 853.2h3M1393 853.2h3M1414 853.2h3M1419 853.2h3M1463 853.2h3M1472 853.2h3M1486 853.2h3M1521 853.2h3M1541 853.2h6M1564 853.2h3M1605 853.2h3M1614 853.2h3M1625 853.2h3M1634 853.2h3M1648 853.2h3M1660 853.2h3M1286 856.2h3M1292 856.2h3M1298 856.2h3M1315 856.2h3M1324 856.2h3M1329 856.2h3M1344 856.2h3M1356 856.2h3M1379 856.2h3M1393 856.2h6M1431 856.2h3M1442 856.2h3M1477 856.2h3M1486 856.2h3M1498 856.2h3M1509 856.2h9M1570 856.2h3M1582 856.2h3M1619 856.2h3M1648 856.2h6M1286 859.0h3M1309 859.0h3M1321 859.0h3M1396 859.0h3M1457 859.0h3M1474 859.0h3M1498 859.0h3M1503 859.0h3M1605 859.0h3M1637 859.0h6" stroke="#8e8e8e" stroke-width="2.9" fill="none"/><path d="M1338 528.5h3M1358 528.5h3M1370 528.5h3M1379 528.5h3M1390 528.5h3M1483 528.5h3M1492 528.5h3M1521 528.5h3M1541 528.5h3M1596 528.5h3M1643 528.5h3M1292 531.4h3M1356 531.4h3M1411 531.4h3M1530 531.4h3M1596 531.4h3M1648 531.4h3M1326 534.2h3M1448 534.2h3M1500 534.2h3M1515 534.2h3M1547 534.2h3M1474 537.2h3M1637 537.2h3M1431 540.1h3M1567 540.1h3M1614 540.1h3M1399 543.0h3M1588 543.0h3M1643 543.0h3M1454 545.9h3M1524 545.9h3M1605 545.9h3M1364 548.8h3M1599 548.8h3M1335 551.7h3M1416 551.7h3M1538 551.7h6M1329 554.6h3M1338 554.6h3M1457 554.6h3M1503 554.6h3M1309 557.5h3M1338 557.5h3M1602 557.5h3M1660 557.5h3M1315 560.4h3M1335 560.4h3M1356 560.4h3M1530 560.4h3M1503 563.2h3M1405 566.2h3M1460 566.2h3M1544 566.2h3M1585 566.2h3M1350 569.1h3M1416 569.1h3M1440 569.1h3M1663 569.1h3M1298 572.0h3M1303 572.0h3M1437 572.0h3M1445 572.0h3M1506 572.0h3M1637 572.0h3M1300 574.9h3M1524 574.9h3M1547 574.9h3M1602 574.9h3M1646 574.9h3M1451 577.8h3M1498 577.8h3M1541 577.8h3M1654 577.8h3M1486 580.7h3M1521 580.7h3M1567 580.7h3M1573 580.7h3M1309 583.6h3M1326 586.5h3M1440 586.5h3M1451 586.5h3M1512 586.5h3M1558 586.5h3M1640 586.5h3M1657 586.5h3M1364 589.4h3M1408 589.4h3M1442 589.4h3M1503 589.4h3M1547 589.4h3M1556 589.4h3M1643 589.4h3M1428 592.2h3M1469 592.2h3M1489 592.2h3M1558 592.2h3M1654 592.2h3M1312 595.2h3M1341 595.2h3M1382 595.2h3M1411 595.2h3M1477 595.2h3M1500 595.2h3M1306 598.1h3M1384 598.1h3M1532 598.1h3M1576 598.1h3M1326 601.0h3M1361 601.0h3M1419 601.0h3M1530 601.0h3M1588 601.0h3M1356 603.9h3M1550 603.9h3M1556 603.9h3M1283 606.8h3M1298 606.8h3M1303 606.8h3M1326 606.8h3M1347 606.8h3M1463 606.8h3M1472 606.8h3M1509 606.8h3M1628 606.8h3M1646 606.8h3M1295 609.7h3M1469 609.7h3M1500 609.7h3M1515 609.7h3M1570 609.7h3M1611 609.7h6M1309 612.6h3M1324 612.6h3M1445 612.6h3M1463 612.6h3M1486 612.6h3M1573 612.6h3M1651 612.6h3M1283 615.5h3M1367 615.5h3M1440 615.5h3M1463 615.5h3M1561 615.5h3M1625 615.5h3M1289 618.4h3M1344 618.4h3M1364 618.4h3M1387 618.4h3M1489 618.4h3M1590 618.4h3M1611 618.4h3M1651 618.4h3M1303 621.2h3M1344 621.2h3M1358 621.2h3M1396 621.2h3M1437 621.2h3M1608 621.2h3M1292 624.2h3M1324 624.2h6M1376 624.2h3M1286 627.1h3M1521 627.1h3M1315 630.0h3M1335 630.0h3M1358 630.0h3M1402 630.0h3M1492 630.0h3M1509 630.0h3M1573 630.0h3M1596 630.0h3M1625 630.0h6M1315 632.9h3M1361 632.9h3M1579 632.9h3M1335 635.8h3M1347 635.8h3M1431 635.8h3M1506 635.8h3M1570 635.8h3M1590 635.8h3M1599 635.8h3M1637 635.8h3M1321 638.7h3M1370 638.7h3M1573 638.7h3M1582 638.7h3M1654 638.7h9M1384 641.6h3M1486 641.6h3M1527 641.6h3M1561 641.6h3M1590 641.6h3M1634 641.6h3M1286 644.5h3M1416 644.5h3M1463 644.5h3M1547 644.5h3M1353 647.4h6M1379 647.4h3M1393 647.4h3M1445 647.4h3M1489 647.4h3M1544 647.4h3M1628 647.4h3M1660 647.4h3M1524 650.2h3M1561 650.2h3M1602 650.2h3M1408 653.2h3M1474 653.2h3M1489 653.2h3M1518 653.2h6M1532 653.2h3M1605 653.2h3M1643 653.2h3M1326 656.1h3M1451 656.1h3M1463 656.1h3M1654 656.1h3M1344 659.0h3M1405 659.0h3M1622 659.0h3M1637 659.0h3M1657 659.0h3M1318 661.9h3M1329 661.9h3M1344 661.9h3M1376 661.9h3M1431 661.9h3M1463 661.9h3M1530 661.9h3M1535 661.9h3M1590 661.9h3M1643 661.9h3M1283 664.8h3M1556 664.8h3M1466 667.7h3M1486 667.7h3M1498 667.7h3M1518 667.7h6M1367 670.6h3M1500 670.6h3M1402 673.5h3M1422 673.5h3M1454 673.5h3M1585 673.5h3M1608 673.5h3M1628 673.5h3M1515 676.4h3M1544 676.4h3M1588 676.4h3M1283 679.2h3M1289 679.2h3M1405 679.2h3M1414 679.2h3M1428 679.2h3M1619 679.2h3M1419 682.2h3M1445 682.2h3M1454 682.2h3M1486 682.2h3M1561 682.2h3M1326 685.1h3M1402 685.1h3M1416 685.1h3M1425 685.1h3M1492 685.1h3M1498 685.1h3M1509 685.1h3M1518 685.1h3M1588 685.1h3M1356 688.0h3M1408 688.0h3M1451 688.0h3M1474 688.0h3M1506 688.0h3M1547 688.0h3M1634 688.0h3M1646 688.0h3M1657 688.0h3M1303 690.9h3M1350 690.9h3M1402 690.9h3M1474 690.9h3M1480 690.9h3M1570 690.9h6M1590 690.9h3M1608 690.9h3M1335 693.8h3M1408 693.8h6M1437 693.8h3M1483 693.8h3M1500 693.8h3M1477 696.7h3M1541 696.7h3M1654 696.7h3M1332 699.6h3M1344 699.6h3M1405 699.6h3M1500 699.6h3M1585 699.6h3M1593 699.6h3M1315 702.5h3M1321 702.5h3M1431 702.5h3M1541 702.5h3M1590 702.5h3M1622 702.5h3M1324 705.4h3M1347 705.4h3M1361 705.4h3M1440 705.4h3M1532 705.4h3M1651 705.4h3M1324 708.2h3M1405 708.2h3M1442 708.2h3M1506 708.2h3M1527 708.2h3M1614 708.2h3M1657 708.2h3M1535 711.2h3M1544 711.2h3M1332 714.1h3M1466 714.1h3M1303 717.0h3M1326 717.0h3M1350 717.0h6M1440 717.0h3M1474 717.0h3M1515 717.0h3M1321 719.9h3M1358 719.9h3M1585 719.9h6M1367 722.8h3M1387 722.8h3M1448 722.8h3M1472 722.8h3M1477 722.8h3M1303 725.7h3M1498 725.7h3M1329 728.6h3M1393 728.6h6M1619 728.6h3M1361 731.5h3M1367 731.5h3M1408 731.5h3M1419 731.5h3M1579 731.5h3M1631 731.5h3M1657 731.5h3M1283 734.4h3M1451 734.4h3M1518 734.4h3M1373 737.2h3M1524 737.2h3M1573 737.2h3M1315 740.2h3M1332 740.2h3M1379 740.2h3M1445 740.2h3M1527 740.2h3M1582 740.2h3M1448 743.1h3M1454 743.1h3M1486 743.1h3M1550 743.1h3M1364 746.0h3M1619 746.0h3M1286 748.9h3M1324 748.9h3M1472 748.9h3M1321 751.8h3M1353 751.8h6M1373 751.8h3M1463 751.8h3M1564 751.8h3M1596 751.8h3M1631 751.8h3M1335 754.7h3M1393 754.7h3M1402 754.7h3M1599 754.7h3M1637 754.7h3M1326 757.6h3M1358 757.6h3M1527 757.6h3M1547 757.6h3M1602 757.6h3M1489 760.5h3M1556 760.5h3M1289 763.4h3M1347 763.4h3M1411 763.4h3M1483 763.4h3M1561 763.4h3M1622 763.4h6M1640 763.4h3M1405 766.2h3M1466 766.2h3M1492 766.2h3M1506 766.2h3M1527 766.2h3M1585 766.2h3M1309 769.2h3M1332 769.2h3M1356 769.2h3M1379 769.2h3M1425 769.2h3M1454 769.2h3M1321 772.1h3M1382 772.1h3M1405 772.1h3M1512 772.1h3M1527 772.1h3M1556 772.1h3M1590 772.1h3M1631 772.1h3M1646 772.1h3M1306 775.0h3M1422 775.0h3M1483 775.0h3M1498 775.0h3M1643 775.0h3M1358 777.9h3M1445 777.9h3M1527 777.9h3M1651 777.9h3M1416 780.8h3M1434 780.8h3M1457 780.8h3M1483 780.8h3M1509 780.8h3M1530 780.8h3M1561 780.8h3M1567 780.8h3M1602 780.8h3M1454 783.7h3M1315 786.5h3M1364 786.5h3M1422 786.5h3M1434 786.5h3M1535 786.5h3M1567 786.5h3M1619 786.5h3M1646 786.5h3M1663 786.5h3M1382 789.5h3M1431 789.5h3M1440 789.5h3M1500 789.5h3M1564 789.5h3M1556 792.4h3M1608 792.4h3M1350 795.2h3M1416 795.2h3M1445 795.2h6M1489 795.2h3M1553 795.2h6M1634 795.2h3M1300 798.2h3M1315 798.2h3M1379 798.2h3M1416 798.2h3M1469 798.2h3M1500 798.2h3M1541 798.2h3M1512 801.0h3M1611 801.0h3M1648 801.0h3M1315 804.0h3M1341 804.0h3M1393 804.0h3M1425 804.0h3M1477 804.0h3M1570 804.0h3M1582 804.0h3M1640 804.0h3M1414 806.9h3M1425 806.9h3M1498 806.9h3M1651 806.9h3M1324 809.8h3M1567 809.8h3M1579 809.8h3M1619 809.8h3M1329 812.7h3M1393 812.7h3M1515 812.7h3M1567 812.7h3M1651 812.7h3M1657 812.7h3M1303 815.5h6M1361 815.5h3M1384 815.5h3M1419 815.5h3M1509 815.5h3M1521 815.5h3M1298 818.5h3M1356 818.5h3M1422 818.5h3M1512 818.5h3M1570 818.5h3M1596 818.5h3M1640 818.5h3M1483 821.4h3M1393 824.2h3M1480 824.2h3M1515 824.2h3M1611 824.2h3M1657 824.2h3M1350 827.2h3M1356 827.2h3M1393 827.2h3M1405 827.2h3M1460 827.2h3M1500 827.2h3M1614 827.2h3M1338 830.0h3M1393 830.0h3M1463 830.0h3M1477 830.0h3M1303 833.0h3M1376 833.0h3M1411 833.0h3M1425 833.0h3M1454 833.0h3M1553 833.0h3M1558 833.0h3M1570 833.0h3M1309 835.9h3M1390 835.9h3M1414 835.9h3M1469 835.9h3M1483 835.9h3M1524 835.9h3M1628 835.9h3M1643 835.9h3M1660 835.9h3M1306 838.8h3M1312 838.8h3M1382 838.8h3M1608 838.8h3M1614 838.8h3M1364 841.7h3M1408 841.7h3M1469 841.7h3M1663 841.7h3M1500 844.5h3M1428 847.5h3M1518 847.5h3M1524 847.5h3M1619 847.5h3M1631 847.5h3M1303 850.4h3M1318 850.4h3M1396 850.4h3M1500 850.4h3M1657 850.4h3M1303 853.2h3M1312 853.2h3M1335 853.2h3M1428 853.2h3M1561 853.2h3M1567 853.2h3M1576 853.2h3M1341 856.2h3M1564 856.2h3M1283 859.0h3M1344 859.0h3M1350 859.0h3M1414 859.0h3M1422 859.0h3M1532 859.0h3M1544 859.0h3M1573 859.0h3M1616 859.0h3" stroke="#a8a8a8" stroke-width="2.9" fill="none"/></g><text x="1367" y="568" style="font-family:'Liberation Serif',serif;font-size:57px;font-weight:normal;font-style:normal" fill="#fff" text-anchor="start" >Quartz</text><text x="1339" y="627" style="font-family:'Liberation Serif',serif;font-size:57px;font-weight:normal;font-style:normal" fill="#fff" text-anchor="start" >substrate</text><path d="M1366 640 H1551 V746 H1366 Z" fill="none" stroke="#fff" stroke-width="4.5" stroke-dasharray="24 12"/><path d="M1551 638 L1665 525 M1551 746 L1665 866" fill="none" stroke="#fff" stroke-width="4.5" stroke-dasharray="26 13"/><rect x="1592" y="847" width="38" height="9" fill="#fff"/><text x="1334" y="929" style="font-family:'Liberation Serif',serif;font-size:57px;font-weight:normal;font-style:normal" fill="#000" text-anchor="start" >Experiment</text><clipPath id="semclip"><rect x="1680" y="519" width="388" height="348"/></clipPath><g clip-path="url(#semclip)"><rect x="1680" y="519" width="388" height="348" fill="#7c7c7c"/><path d="M1680.0 519.0h12.9v12.9h-12.9zM1718.8 519.0h12.9v12.9h-12.9zM1757.6 519.0h12.9v12.9h-12.9zM1809.3 519.0h12.9v12.9h-12.9zM1822.3 519.0h12.9v12.9h-12.9zM1835.2 519.0h12.9v12.9h-12.9zM1874.0 519.0h12.9v12.9h-12.9zM1938.7 519.0h12.9v12.9h-12.9zM1951.6 519.0h12.9v12.9h-12.9zM1977.5 519.0h12.9v12.9h-12.9zM1990.4 519.0h12.9v12.9h-12.9zM2003.3 519.0h12.9v12.9h-12.9zM2016.3 519.0h12.9v12.9h-12.9zM2029.2 519.0h12.9v12.9h-12.9zM2042.1 519.0h12.9v12.9h-12.9zM1731.7 531.9h12.9v12.9h-12.9zM1744.7 531.9h12.9v12.9h-12.9zM1809.3 531.9h12.9v12.9h-12.9zM1822.3 531.9h12.9v12.9h-12.9zM1835.2 531.9h12.9v12.9h-12.9zM1848.1 531.9h12.9v12.9h-12.9zM1874.0 531.9h12.9v12.9h-12.9zM1899.9 531.9h12.9v12.9h-12.9zM1938.7 531.9h12.9v12.9h-12.9zM1951.6 531.9h12.9v12.9h-12.9zM1977.5 531.9h12.9v12.9h-12.9zM2003.3 531.9h12.9v12.9h-12.9zM2016.3 531.9h12.9v12.9h-12.9zM2055.1 531.9h12.9v12.9h-12.9zM1680.0 544.8h12.9v12.9h-12.9zM1692.9 544.8h12.9v12.9h-12.9zM1731.7 544.8h12.9v12.9h-12.9zM1744.7 544.8h12.9v12.9h-12.9zM1757.6 544.8h12.9v12.9h-12.9zM1770.5 544.8h12.9v12.9h-12.9zM1796.4 544.8h12.9v12.9h-12.9zM1822.3 544.8h12.9v12.9h-12.9zM1835.2 544.8h12.9v12.9h-12.9zM1861.1 544.8h12.9v12.9h-12.9zM1886.9 544.8h12.9v12.9h-12.9zM1899.9 544.8h12.9v12.9h-12.9zM1912.8 544.8h12.9v12.9h-12.9zM1925.7 544.8h12.9v12.9h-12.9zM1964.5 544.8h12.9v12.9h-12.9zM1990.4 544.8h12.9v12.9h-12.9zM2003.3 544.8h12.9v12.9h-12.9zM2042.1 544.8h12.9v12.9h-12.9zM1680.0 557.7h12.9v12.9h-12.9zM1692.9 557.7h12.9v12.9h-12.9zM1718.8 557.7h12.9v12.9h-12.9zM1731.7 557.7h12.9v12.9h-12.9zM1744.7 557.7h12.9v12.9h-12.9zM1757.6 557.7h12.9v12.9h-12.9zM1783.5 557.7h12.9v12.9h-12.9zM1809.3 557.7h12.9v12.9h-12.9zM1822.3 557.7h12.9v12.9h-12.9zM1886.9 557.7h12.9v12.9h-12.9zM1899.9 557.7h12.9v12.9h-12.9zM1938.7 557.7h12.9v12.9h-12.9zM1951.6 557.7h12.9v12.9h-12.9zM1990.4 557.7h12.9v12.9h-12.9zM2042.1 557.7h12.9v12.9h-12.9zM2055.1 557.7h12.9v12.9h-12.9zM1680.0 570.6h12.9v12.9h-12.9zM1705.9 570.6h12.9v12.9h-12.9zM1731.7 570.6h12.9v12.9h-12.9zM1770.5 570.6h12.9v12.9h-12.9zM1783.5 570.6h12.9v12.9h-12.9zM1809.3 570.6h12.9v12.9h-12.9zM1822.3 570.6h12.9v12.9h-12.9zM1874.0 570.6h12.9v12.9h-12.9zM1899.9 570.6h12.9v12.9h-12.9zM1912.8 570.6h12.9v12.9h-12.9zM1925.7 570.6h12.9v12.9h-12.9zM1938.7 570.6h12.9v12.9h-12.9zM1951.6 570.6h12.9v12.9h-12.9zM1964.5 570.6h12.9v12.9h-12.9zM1977.5 570.6h12.9v12.9h-12.9zM2003.3 570.6h12.9v12.9h-12.9zM2016.3 570.6h12.9v12.9h-12.9zM1705.9 583.4h12.9v12.9h-12.9zM1718.8 583.4h12.9v12.9h-12.9zM1731.7 583.4h12.9v12.9h-12.9zM1783.5 583.4h12.9v12.9h-12.9zM1835.2 583.4h12.9v12.9h-12.9zM1861.1 583.4h12.9v12.9h-12.9zM1964.5 583.4h12.9v12.9h-12.9zM2016.3 583.4h12.9v12.9h-12.9zM1692.9 596.3h12.9v12.9h-12.9zM1731.7 596.3h12.9v12.9h-12.9zM1796.4 596.3h12.9v12.9h-12.9zM1835.2 596.3h12.9v12.9h-12.9zM1861.1 596.3h12.9v12.9h-12.9zM1886.9 596.3h12.9v12.9h-12.9zM1925.7 596.3h12.9v12.9h-12.9zM1990.4 596.3h12.9v12.9h-12.9zM2003.3 596.3h12.9v12.9h-12.9zM2016.3 596.3h12.9v12.9h-12.9zM2042.1 596.3h12.9v12.9h-12.9zM2055.1 596.3h12.9v12.9h-12.9zM1705.9 609.2h12.9v12.9h-12.9zM1731.7 609.2h12.9v12.9h-12.9zM1757.6 609.2h12.9v12.9h-12.9zM1770.5 609.2h12.9v12.9h-12.9zM1822.3 609.2h12.9v12.9h-12.9zM1848.1 609.2h12.9v12.9h-12.9zM1861.1 609.2h12.9v12.9h-12.9zM1938.7 609.2h12.9v12.9h-12.9zM1951.6 609.2h12.9v12.9h-12.9zM1964.5 609.2h12.9v12.9h-12.9zM1977.5 609.2h12.9v12.9h-12.9zM1990.4 609.2h12.9v12.9h-12.9zM2003.3 609.2h12.9v12.9h-12.9zM2042.1 609.2h12.9v12.9h-12.9zM1692.9 622.1h12.9v12.9h-12.9zM1705.9 622.1h12.9v12.9h-12.9zM1718.8 622.1h12.9v12.9h-12.9zM1744.7 622.1h12.9v12.9h-12.9zM1783.5 622.1h12.9v12.9h-12.9zM1809.3 622.1h12.9v12.9h-12.9zM1822.3 622.1h12.9v12.9h-12.9zM1835.2 622.1h12.9v12.9h-12.9zM1848.1 622.1h12.9v12.9h-12.9zM1874.0 622.1h12.9v12.9h-12.9zM1886.9 622.1h12.9v12.9h-12.9zM1899.9 622.1h12.9v12.9h-12.9zM1925.7 622.1h12.9v12.9h-12.9zM2003.3 622.1h12.9v12.9h-12.9zM2016.3 622.1h12.9v12.9h-12.9zM2029.2 622.1h12.9v12.9h-12.9zM2042.1 622.1h12.9v12.9h-12.9zM2055.1 622.1h12.9v12.9h-12.9zM1692.9 635.0h12.9v12.9h-12.9zM1705.9 635.0h12.9v12.9h-12.9zM1718.8 635.0h12.9v12.9h-12.9zM1783.5 635.0h12.9v12.9h-12.9zM1822.3 635.0h12.9v12.9h-12.9zM1861.1 635.0h12.9v12.9h-12.9zM1874.0 635.0h12.9v12.9h-12.9zM1912.8 635.0h12.9v12.9h-12.9zM1977.5 635.0h12.9v12.9h-12.9zM2003.3 635.0h12.9v12.9h-12.9zM1680.0 647.9h12.9v12.9h-12.9zM1757.6 647.9h12.9v12.9h-12.9zM1796.4 647.9h12.9v12.9h-12.9zM1809.3 647.9h12.9v12.9h-12.9zM1822.3 647.9h12.9v12.9h-12.9zM1874.0 647.9h12.9v12.9h-12.9zM1899.9 647.9h12.9v12.9h-12.9zM1925.7 647.9h12.9v12.9h-12.9zM1938.7 647.9h12.9v12.9h-12.9zM1964.5 647.9h12.9v12.9h-12.9zM1977.5 647.9h12.9v12.9h-12.9zM1692.9 660.8h12.9v12.9h-12.9zM1705.9 660.8h12.9v12.9h-12.9zM1731.7 660.8h12.9v12.9h-12.9zM1809.3 660.8h12.9v12.9h-12.9zM1822.3 660.8h12.9v12.9h-12.9zM1861.1 660.8h12.9v12.9h-12.9zM1925.7 660.8h12.9v12.9h-12.9zM1977.5 660.8h12.9v12.9h-12.9zM2016.3 660.8h12.9v12.9h-12.9zM1692.9 673.7h12.9v12.9h-12.9zM1718.8 673.7h12.9v12.9h-12.9zM1757.6 673.7h12.9v12.9h-12.9zM1770.5 673.7h12.9v12.9h-12.9zM1783.5 673.7h12.9v12.9h-12.9zM1796.4 673.7h12.9v12.9h-12.9zM1835.2 673.7h12.9v12.9h-12.9zM1848.1 673.7h12.9v12.9h-12.9zM1861.1 673.7h12.9v12.9h-12.9zM1899.9 673.7h12.9v12.9h-12.9zM1925.7 673.7h12.9v12.9h-12.9zM1938.7 673.7h12.9v12.9h-12.9zM1951.6 673.7h12.9v12.9h-12.9zM1977.5 673.7h12.9v12.9h-12.9zM1990.4 673.7h12.9v12.9h-12.9zM2016.3 673.7h12.9v12.9h-12.9zM2042.1 673.7h12.9v12.9h-12.9zM1680.0 686.6h12.9v12.9h-12.9zM1692.9 686.6h12.9v12.9h-12.9zM1718.8 686.6h12.9v12.9h-12.9zM1731.7 686.6h12.9v12.9h-12.9zM1744.7 686.6h12.9v12.9h-12.9zM1770.5 686.6h12.9v12.9h-12.9zM1783.5 686.6h12.9v12.9h-12.9zM1874.0 686.6h12.9v12.9h-12.9zM1925.7 686.6h12.9v12.9h-12.9zM1938.7 686.6h12.9v12.9h-12.9zM1964.5 686.6h12.9v12.9h-12.9zM2003.3 686.6h12.9v12.9h-12.9zM2016.3 686.6h12.9v12.9h-12.9zM2042.1 686.6h12.9v12.9h-12.9zM2055.1 686.6h12.9v12.9h-12.9zM1692.9 699.4h12.9v12.9h-12.9zM1718.8 699.4h12.9v12.9h-12.9zM1731.7 699.4h12.9v12.9h-12.9zM1757.6 699.4h12.9v12.9h-12.9zM1770.5 699.4h12.9v12.9h-12.9zM1822.3 699.4h12.9v12.9h-12.9zM1886.9 699.4h12.9v12.9h-12.9zM1899.9 699.4h12.9v12.9h-12.9zM1912.8 699.4h12.9v12.9h-12.9zM1925.7 699.4h12.9v12.9h-12.9zM1977.5 699.4h12.9v12.9h-12.9zM1990.4 699.4h12.9v12.9h-12.9zM2003.3 699.4h12.9v12.9h-12.9zM2055.1 699.4h12.9v12.9h-12.9zM1680.0 712.3h12.9v12.9h-12.9zM1705.9 712.3h12.9v12.9h-12.9zM1731.7 712.3h12.9v12.9h-12.9zM1744.7 712.3h12.9v12.9h-12.9zM1770.5 712.3h12.9v12.9h-12.9zM1796.4 712.3h12.9v12.9h-12.9zM1835.2 712.3h12.9v12.9h-12.9zM1848.1 712.3h12.9v12.9h-12.9zM1874.0 712.3h12.9v12.9h-12.9zM1886.9 712.3h12.9v12.9h-12.9zM1899.9 712.3h12.9v12.9h-12.9zM1925.7 712.3h12.9v12.9h-12.9zM2003.3 712.3h12.9v12.9h-12.9zM1680.0 725.2h12.9v12.9h-12.9zM1744.7 725.2h12.9v12.9h-12.9zM1822.3 725.2h12.9v12.9h-12.9zM1848.1 725.2h12.9v12.9h-12.9zM1861.1 725.2h12.9v12.9h-12.9zM1874.0 725.2h12.9v12.9h-12.9zM1886.9 725.2h12.9v12.9h-12.9zM1899.9 725.2h12.9v12.9h-12.9zM1938.7 725.2h12.9v12.9h-12.9zM1977.5 725.2h12.9v12.9h-12.9zM2029.2 725.2h12.9v12.9h-12.9zM1718.8 738.1h12.9v12.9h-12.9zM1757.6 738.1h12.9v12.9h-12.9zM1770.5 738.1h12.9v12.9h-12.9zM1783.5 738.1h12.9v12.9h-12.9zM1796.4 738.1h12.9v12.9h-12.9zM1809.3 738.1h12.9v12.9h-12.9zM1822.3 738.1h12.9v12.9h-12.9zM1835.2 738.1h12.9v12.9h-12.9zM1951.6 738.1h12.9v12.9h-12.9zM1990.4 738.1h12.9v12.9h-12.9zM2016.3 738.1h12.9v12.9h-12.9zM2029.2 738.1h12.9v12.9h-12.9zM2042.1 738.1h12.9v12.9h-12.9zM1692.9 751.0h12.9v12.9h-12.9zM1718.8 751.0h12.9v12.9h-12.9zM1757.6 751.0h12.9v12.9h-12.9zM1770.5 751.0h12.9v12.9h-12.9zM1809.3 751.0h12.9v12.9h-12.9zM1835.2 751.0h12.9v12.9h-12.9zM1848.1 751.0h12.9v12.9h-12.9zM1861.1 751.0h12.9v12.9h-12.9zM1874.0 751.0h12.9v12.9h-12.9zM1886.9 751.0h12.9v12.9h-12.9zM1912.8 751.0h12.9v12.9h-12.9zM1951.6 751.0h12.9v12.9h-12.9zM1990.4 751.0h12.9v12.9h-12.9zM2016.3 751.0h12.9v12.9h-12.9zM2029.2 751.0h12.9v12.9h-12.9zM2055.1 751.0h12.9v12.9h-12.9zM1718.8 763.9h12.9v12.9h-12.9zM1770.5 763.9h12.9v12.9h-12.9zM1796.4 763.9h12.9v12.9h-12.9zM1809.3 763.9h12.9v12.9h-12.9zM1822.3 763.9h12.9v12.9h-12.9zM1848.1 763.9h12.9v12.9h-12.9zM1861.1 763.9h12.9v12.9h-12.9zM1886.9 763.9h12.9v12.9h-12.9zM1899.9 763.9h12.9v12.9h-12.9zM1925.7 763.9h12.9v12.9h-12.9zM2003.3 763.9h12.9v12.9h-12.9zM2016.3 763.9h12.9v12.9h-12.9zM1680.0 776.8h12.9v12.9h-12.9zM1692.9 776.8h12.9v12.9h-12.9zM1770.5 776.8h12.9v12.9h-12.9zM1783.5 776.8h12.9v12.9h-12.9zM1835.2 776.8h12.9v12.9h-12.9zM1848.1 776.8h12.9v12.9h-12.9zM1861.1 776.8h12.9v12.9h-12.9zM1874.0 776.8h12.9v12.9h-12.9zM1899.9 776.8h12.9v12.9h-12.9zM1925.7 776.8h12.9v12.9h-12.9zM1938.7 776.8h12.9v12.9h-12.9zM1990.4 776.8h12.9v12.9h-12.9zM2003.3 776.8h12.9v12.9h-12.9zM2016.3 776.8h12.9v12.9h-12.9zM2029.2 776.8h12.9v12.9h-12.9zM1680.0 789.7h12.9v12.9h-12.9zM1692.9 789.7h12.9v12.9h-12.9zM1744.7 789.7h12.9v12.9h-12.9zM1757.6 789.7h12.9v12.9h-12.9zM1770.5 789.7h12.9v12.9h-12.9zM1796.4 789.7h12.9v12.9h-12.9zM1835.2 789.7h12.9v12.9h-12.9zM1886.9 789.7h12.9v12.9h-12.9zM1899.9 789.7h12.9v12.9h-12.9zM1912.8 789.7h12.9v12.9h-12.9zM1938.7 789.7h12.9v12.9h-12.9zM1951.6 789.7h12.9v12.9h-12.9zM2003.3 789.7h12.9v12.9h-12.9zM2029.2 789.7h12.9v12.9h-12.9zM2042.1 789.7h12.9v12.9h-12.9zM1680.0 802.6h12.9v12.9h-12.9zM1692.9 802.6h12.9v12.9h-12.9zM1731.7 802.6h12.9v12.9h-12.9zM1744.7 802.6h12.9v12.9h-12.9zM1757.6 802.6h12.9v12.9h-12.9zM1783.5 802.6h12.9v12.9h-12.9zM1796.4 802.6h12.9v12.9h-12.9zM1874.0 802.6h12.9v12.9h-12.9zM1899.9 802.6h12.9v12.9h-12.9zM1912.8 802.6h12.9v12.9h-12.9zM1925.7 802.6h12.9v12.9h-12.9zM1964.5 802.6h12.9v12.9h-12.9zM1977.5 802.6h12.9v12.9h-12.9zM1990.4 802.6h12.9v12.9h-12.9zM2003.3 802.6h12.9v12.9h-12.9zM2016.3 802.6h12.9v12.9h-12.9zM2029.2 802.6h12.9v12.9h-12.9zM2042.1 802.6h12.9v12.9h-12.9zM1731.7 815.4h12.9v12.9h-12.9zM1770.5 815.4h12.9v12.9h-12.9zM1783.5 815.4h12.9v12.9h-12.9zM1874.0 815.4h12.9v12.9h-12.9zM1912.8 815.4h12.9v12.9h-12.9zM1925.7 815.4h12.9v12.9h-12.9zM1964.5 815.4h12.9v12.9h-12.9zM1990.4 815.4h12.9v12.9h-12.9zM2029.2 815.4h12.9v12.9h-12.9zM2042.1 815.4h12.9v12.9h-12.9zM1705.9 828.3h12.9v12.9h-12.9zM1718.8 828.3h12.9v12.9h-12.9zM1822.3 828.3h12.9v12.9h-12.9zM1977.5 828.3h12.9v12.9h-12.9zM1990.4 828.3h12.9v12.9h-12.9zM2003.3 828.3h12.9v12.9h-12.9zM2042.1 828.3h12.9v12.9h-12.9zM2055.1 828.3h12.9v12.9h-12.9zM1680.0 841.2h12.9v12.9h-12.9zM1692.9 841.2h12.9v12.9h-12.9zM1705.9 841.2h12.9v12.9h-12.9zM1731.7 841.2h12.9v12.9h-12.9zM1744.7 841.2h12.9v12.9h-12.9zM1757.6 841.2h12.9v12.9h-12.9zM1796.4 841.2h12.9v12.9h-12.9zM1809.3 841.2h12.9v12.9h-12.9zM1822.3 841.2h12.9v12.9h-12.9zM1861.1 841.2h12.9v12.9h-12.9zM1874.0 841.2h12.9v12.9h-12.9zM1886.9 841.2h12.9v12.9h-12.9zM1899.9 841.2h12.9v12.9h-12.9zM1912.8 841.2h12.9v12.9h-12.9zM1951.6 841.2h12.9v12.9h-12.9zM1964.5 841.2h12.9v12.9h-12.9zM1977.5 841.2h12.9v12.9h-12.9zM1990.4 841.2h12.9v12.9h-12.9zM2016.3 841.2h12.9v12.9h-12.9zM2055.1 841.2h12.9v12.9h-12.9zM1680.0 854.1h12.9v12.9h-12.9zM1718.8 854.1h12.9v12.9h-12.9zM1770.5 854.1h12.9v12.9h-12.9zM1783.5 854.1h12.9v12.9h-12.9zM1822.3 854.1h12.9v12.9h-12.9zM1861.1 854.1h12.9v12.9h-12.9zM1899.9 854.1h12.9v12.9h-12.9zM1912.8 854.1h12.9v12.9h-12.9zM1925.7 854.1h12.9v12.9h-12.9zM1938.7 854.1h12.9v12.9h-12.9zM1990.4 854.1h12.9v12.9h-12.9zM2003.3 854.1h12.9v12.9h-12.9zM2016.3 854.1h12.9v12.9h-12.9zM2029.2 854.1h12.9v12.9h-12.9z" fill="#a4a4a4"/><path d="M1680.0 520.0h12.9M1681.0 519.0v12.9M1718.8 520.0h12.9M1719.8 519.0v12.9M1757.6 520.0h12.9M1758.6 519.0v12.9M1809.3 520.0h12.9M1810.3 519.0v12.9M1822.3 520.0h12.9M1835.2 520.0h12.9M1874.0 520.0h12.9M1875.0 519.0v12.9M1938.7 520.0h12.9M1939.7 519.0v12.9M1951.6 520.0h12.9M1977.5 520.0h12.9M1978.5 519.0v12.9M1990.4 520.0h12.9M2003.3 520.0h12.9M2016.3 520.0h12.9M2029.2 520.0h12.9M2042.1 520.0h12.9M1731.7 532.9h12.9M1732.7 531.9v12.9M1744.7 532.9h12.9M1810.3 531.9v12.9M1848.1 532.9h12.9M1875.0 531.9v12.9M1899.9 532.9h12.9M1900.9 531.9v12.9M1939.7 531.9v12.9M1978.5 531.9v12.9M2004.3 531.9v12.9M2055.1 532.9h12.9M2056.1 531.9v12.9M1680.0 545.8h12.9M1681.0 544.8v12.9M1692.9 545.8h12.9M1732.7 544.8v12.9M1757.6 545.8h12.9M1770.5 545.8h12.9M1796.4 545.8h12.9M1797.4 544.8v12.9M1823.3 544.8v12.9M1861.1 545.8h12.9M1862.1 544.8v12.9M1886.9 545.8h12.9M1887.9 544.8v12.9M1912.8 545.8h12.9M1925.7 545.8h12.9M1964.5 545.8h12.9M1965.5 544.8v12.9M1990.4 545.8h12.9M1991.4 544.8v12.9M2042.1 545.8h12.9M2043.1 544.8v12.9M1681.0 557.7v12.9M1718.8 558.7h12.9M1719.8 557.7v12.9M1783.5 558.7h12.9M1784.5 557.7v12.9M1809.3 558.7h12.9M1810.3 557.7v12.9M1887.9 557.7v12.9M1938.7 558.7h12.9M1939.7 557.7v12.9M1951.6 558.7h12.9M1991.4 557.7v12.9M2043.1 557.7v12.9M2055.1 558.7h12.9M1681.0 570.6v12.9M1705.9 571.6h12.9M1706.9 570.6v12.9M1732.7 570.6v12.9M1770.5 571.6h12.9M1771.5 570.6v12.9M1810.3 570.6v12.9M1874.0 571.6h12.9M1875.0 570.6v12.9M1900.9 570.6v12.9M1912.8 571.6h12.9M1925.7 571.6h12.9M1964.5 571.6h12.9M1977.5 571.6h12.9M2003.3 571.6h12.9M2004.3 570.6v12.9M2016.3 571.6h12.9M1706.9 583.4v12.9M1718.8 584.4h12.9M1784.5 583.4v12.9M1835.2 584.4h12.9M1836.2 583.4v12.9M1861.1 584.4h12.9M1862.1 583.4v12.9M1965.5 583.4v12.9M2017.3 583.4v12.9M1692.9 597.3h12.9M1693.9 596.3v12.9M1732.7 596.3v12.9M1796.4 597.3h12.9M1797.4 596.3v12.9M1836.2 596.3v12.9M1862.1 596.3v12.9M1886.9 597.3h12.9M1887.9 596.3v12.9M1925.7 597.3h12.9M1926.7 596.3v12.9M1990.4 597.3h12.9M1991.4 596.3v12.9M2003.3 597.3h12.9M2042.1 597.3h12.9M2043.1 596.3v12.9M2055.1 597.3h12.9M1705.9 610.2h12.9M1706.9 609.2v12.9M1732.7 609.2v12.9M1757.6 610.2h12.9M1758.6 609.2v12.9M1770.5 610.2h12.9M1822.3 610.2h12.9M1823.3 609.2v12.9M1848.1 610.2h12.9M1849.1 609.2v12.9M1938.7 610.2h12.9M1939.7 609.2v12.9M1951.6 610.2h12.9M1964.5 610.2h12.9M1977.5 610.2h12.9M2043.1 609.2v12.9M1692.9 623.1h12.9M1693.9 622.1v12.9M1718.8 623.1h12.9M1744.7 623.1h12.9M1745.7 622.1v12.9M1783.5 623.1h12.9M1784.5 622.1v12.9M1809.3 623.1h12.9M1810.3 622.1v12.9M1835.2 623.1h12.9M1874.0 623.1h12.9M1875.0 622.1v12.9M1886.9 623.1h12.9M1899.9 623.1h12.9M1925.7 623.1h12.9M1926.7 622.1v12.9M2004.3 622.1v12.9M2016.3 623.1h12.9M2029.2 623.1h12.9M2055.1 623.1h12.9M1693.9 635.0v12.9M1784.5 635.0v12.9M1823.3 635.0v12.9M1861.1 636.0h12.9M1862.1 635.0v12.9M1912.8 636.0h12.9M1913.8 635.0v12.9M1977.5 636.0h12.9M1978.5 635.0v12.9M2004.3 635.0v12.9M1680.0 648.9h12.9M1681.0 647.9v12.9M1757.6 648.9h12.9M1758.6 647.9v12.9M1796.4 648.9h12.9M1797.4 647.9v12.9M1809.3 648.9h12.9M1875.0 647.9v12.9M1899.9 648.9h12.9M1900.9 647.9v12.9M1925.7 648.9h12.9M1926.7 647.9v12.9M1938.7 648.9h12.9M1964.5 648.9h12.9M1965.5 647.9v12.9M1692.9 661.8h12.9M1693.9 660.8v12.9M1705.9 661.8h12.9M1731.7 661.8h12.9M1732.7 660.8v12.9M1810.3 660.8v12.9M1861.1 661.8h12.9M1862.1 660.8v12.9M1926.7 660.8v12.9M1978.5 660.8v12.9M2016.3 661.8h12.9M2017.3 660.8v12.9M1693.9 673.7v12.9M1718.8 674.7h12.9M1719.8 673.7v12.9M1757.6 674.7h12.9M1758.6 673.7v12.9M1770.5 674.7h12.9M1783.5 674.7h12.9M1796.4 674.7h12.9M1835.2 674.7h12.9M1836.2 673.7v12.9M1848.1 674.7h12.9M1899.9 674.7h12.9M1900.9 673.7v12.9M1926.7 673.7v12.9M1938.7 674.7h12.9M1951.6 674.7h12.9M1978.5 673.7v12.9M1990.4 674.7h12.9M2017.3 673.7v12.9M2042.1 674.7h12.9M2043.1 673.7v12.9M1680.0 687.6h12.9M1681.0 686.6v12.9M1719.8 686.6v12.9M1731.7 687.6h12.9M1744.7 687.6h12.9M1771.5 686.6v12.9M1874.0 687.6h12.9M1875.0 686.6v12.9M1926.7 686.6v12.9M1964.5 687.6h12.9M1965.5 686.6v12.9M2003.3 687.6h12.9M2004.3 686.6v12.9M2043.1 686.6v12.9M2055.1 687.6h12.9M1693.9 699.4v12.9M1719.8 699.4v12.9M1757.6 700.4h12.9M1758.6 699.4v12.9M1822.3 700.4h12.9M1823.3 699.4v12.9M1886.9 700.4h12.9M1887.9 699.4v12.9M1899.9 700.4h12.9M1912.8 700.4h12.9M1977.5 700.4h12.9M1978.5 699.4v12.9M1990.4 700.4h12.9M2056.1 699.4v12.9M1680.0 713.3h12.9M1681.0 712.3v12.9M1705.9 713.3h12.9M1706.9 712.3v12.9M1732.7 712.3v12.9M1744.7 713.3h12.9M1771.5 712.3v12.9M1796.4 713.3h12.9M1797.4 712.3v12.9M1835.2 713.3h12.9M1836.2 712.3v12.9M1848.1 713.3h12.9M1874.0 713.3h12.9M1875.0 712.3v12.9M1926.7 712.3v12.9M2004.3 712.3v12.9M1681.0 725.2v12.9M1745.7 725.2v12.9M1822.3 726.2h12.9M1823.3 725.2v12.9M1849.1 725.2v12.9M1861.1 726.2h12.9M1938.7 726.2h12.9M1939.7 725.2v12.9M1977.5 726.2h12.9M1978.5 725.2v12.9M2029.2 726.2h12.9M2030.2 725.2v12.9M1718.8 739.1h12.9M1719.8 738.1v12.9M1757.6 739.1h12.9M1758.6 738.1v12.9M1770.5 739.1h12.9M1783.5 739.1h12.9M1796.4 739.1h12.9M1809.3 739.1h12.9M1835.2 739.1h12.9M1951.6 739.1h12.9M1952.6 738.1v12.9M1990.4 739.1h12.9M1991.4 738.1v12.9M2016.3 739.1h12.9M2017.3 738.1v12.9M2042.1 739.1h12.9M1692.9 752.0h12.9M1693.9 751.0v12.9M1719.8 751.0v12.9M1758.6 751.0v12.9M1810.3 751.0v12.9M1836.2 751.0v12.9M1848.1 752.0h12.9M1861.1 752.0h12.9M1874.0 752.0h12.9M1886.9 752.0h12.9M1912.8 752.0h12.9M1913.8 751.0v12.9M1952.6 751.0v12.9M1991.4 751.0v12.9M2017.3 751.0v12.9M2055.1 752.0h12.9M2056.1 751.0v12.9M1719.8 763.9v12.9M1771.5 763.9v12.9M1796.4 764.9h12.9M1797.4 763.9v12.9M1822.3 764.9h12.9M1849.1 763.9v12.9M1887.9 763.9v12.9M1899.9 764.9h12.9M1925.7 764.9h12.9M1926.7 763.9v12.9M2003.3 764.9h12.9M2004.3 763.9v12.9M1680.0 777.8h12.9M1681.0 776.8v12.9M1692.9 777.8h12.9M1771.5 776.8v12.9M1783.5 777.8h12.9M1835.2 777.8h12.9M1836.2 776.8v12.9M1874.0 777.8h12.9M1900.9 776.8v12.9M1926.7 776.8v12.9M1938.7 777.8h12.9M1990.4 777.8h12.9M1991.4 776.8v12.9M2029.2 777.8h12.9M1681.0 789.7v12.9M1744.7 790.7h12.9M1745.7 789.7v12.9M1757.6 790.7h12.9M1796.4 790.7h12.9M1797.4 789.7v12.9M1836.2 789.7v12.9M1886.9 790.7h12.9M1887.9 789.7v12.9M1912.8 790.7h12.9M1939.7 789.7v12.9M1951.6 790.7h12.9M2004.3 789.7v12.9M2030.2 789.7v12.9M2042.1 790.7h12.9M1681.0 802.6v12.9M1731.7 803.6h12.9M1732.7 802.6v12.9M1783.5 803.6h12.9M1784.5 802.6v12.9M1874.0 803.6h12.9M1875.0 802.6v12.9M1900.9 802.6v12.9M1925.7 803.6h12.9M1964.5 803.6h12.9M1965.5 802.6v12.9M1977.5 803.6h12.9M1990.4 803.6h12.9M2016.3 803.6h12.9M1732.7 815.4v12.9M1770.5 816.4h12.9M1771.5 815.4v12.9M1875.0 815.4v12.9M1913.8 815.4v12.9M1965.5 815.4v12.9M1991.4 815.4v12.9M2030.2 815.4v12.9M1705.9 829.3h12.9M1706.9 828.3v12.9M1718.8 829.3h12.9M1822.3 829.3h12.9M1823.3 828.3v12.9M1977.5 829.3h12.9M1978.5 828.3v12.9M2003.3 829.3h12.9M2043.1 828.3v12.9M2055.1 829.3h12.9M1680.0 842.2h12.9M1681.0 841.2v12.9M1692.9 842.2h12.9M1731.7 842.2h12.9M1732.7 841.2v12.9M1744.7 842.2h12.9M1757.6 842.2h12.9M1796.4 842.2h12.9M1797.4 841.2v12.9M1809.3 842.2h12.9M1861.1 842.2h12.9M1862.1 841.2v12.9M1874.0 842.2h12.9M1886.9 842.2h12.9M1899.9 842.2h12.9M1912.8 842.2h12.9M1951.6 842.2h12.9M1952.6 841.2v12.9M1964.5 842.2h12.9M2016.3 842.2h12.9M2017.3 841.2v12.9M2056.1 841.2v12.9M1681.0 854.1v12.9M1718.8 855.1h12.9M1719.8 854.1v12.9M1770.5 855.1h12.9M1771.5 854.1v12.9M1783.5 855.1h12.9M1823.3 854.1v12.9M1862.1 854.1v12.9M1900.9 854.1v12.9M1925.7 855.1h12.9M1938.7 855.1h12.9M1991.4 854.1v12.9M2003.3 855.1h12.9M2029.2 855.1h12.9" stroke="#c6c6c6" stroke-width="2.2" fill="none"/><path d="M1680.0 530.9h12.9M1691.9 519.0v12.9M1718.8 530.9h12.9M1730.7 519.0v12.9M1757.6 530.9h12.9M1769.5 519.0v12.9M1847.1 519.0v12.9M1885.9 519.0v12.9M1963.5 519.0v12.9M1990.4 530.9h12.9M2029.2 530.9h12.9M2042.1 530.9h12.9M2054.1 519.0v12.9M1756.6 531.9v12.9M1809.3 543.8h12.9M1848.1 543.8h12.9M1860.1 531.9v12.9M1874.0 543.8h12.9M1885.9 531.9v12.9M1911.8 531.9v12.9M1938.7 543.8h12.9M1951.6 543.8h12.9M1963.5 531.9v12.9M1977.5 543.8h12.9M1989.4 531.9v12.9M2016.3 543.8h12.9M2028.2 531.9v12.9M2055.1 543.8h12.9M2067.0 531.9v12.9M1704.9 544.8v12.9M1770.5 556.7h12.9M1782.5 544.8v12.9M1796.4 556.7h12.9M1808.3 544.8v12.9M1835.2 556.7h12.9M1847.1 544.8v12.9M1861.1 556.7h12.9M1873.0 544.8v12.9M1912.8 556.7h12.9M1925.7 556.7h12.9M1937.7 544.8v12.9M1964.5 556.7h12.9M1976.5 544.8v12.9M2003.3 556.7h12.9M2015.3 544.8v12.9M2054.1 544.8v12.9M1692.9 569.6h12.9M1704.9 557.7v12.9M1718.8 569.6h12.9M1744.7 569.6h12.9M1757.6 569.6h12.9M1769.5 557.7v12.9M1795.4 557.7v12.9M1834.2 557.7v12.9M1886.9 569.6h12.9M1911.8 557.7v12.9M1963.5 557.7v12.9M1990.4 569.6h12.9M2002.3 557.7v12.9M2042.1 569.6h12.9M2055.1 569.6h12.9M2067.0 557.7v12.9M1680.0 582.4h12.9M1691.9 570.6v12.9M1717.8 570.6v12.9M1743.7 570.6v12.9M1770.5 582.4h12.9M1795.4 570.6v12.9M1809.3 582.4h12.9M1822.3 582.4h12.9M1834.2 570.6v12.9M1874.0 582.4h12.9M1885.9 570.6v12.9M1899.9 582.4h12.9M1912.8 582.4h12.9M1925.7 582.4h12.9M1938.7 582.4h12.9M1951.6 582.4h12.9M1977.5 582.4h12.9M1989.4 570.6v12.9M2003.3 582.4h12.9M2028.2 570.6v12.9M1705.9 595.3h12.9M1718.8 595.3h12.9M1743.7 583.4v12.9M1783.5 595.3h12.9M1795.4 583.4v12.9M1847.1 583.4v12.9M1873.0 583.4v12.9M1964.5 595.3h12.9M1976.5 583.4v12.9M2028.2 583.4v12.9M1692.9 608.2h12.9M1704.9 596.3v12.9M1743.7 596.3v12.9M1796.4 608.2h12.9M1808.3 596.3v12.9M1835.2 608.2h12.9M1847.1 596.3v12.9M1873.0 596.3v12.9M1886.9 608.2h12.9M1898.9 596.3v12.9M1925.7 608.2h12.9M1937.7 596.3v12.9M2016.3 608.2h12.9M2028.2 596.3v12.9M2055.1 608.2h12.9M2067.0 596.3v12.9M1717.8 609.2v12.9M1731.7 621.1h12.9M1743.7 609.2v12.9M1757.6 621.1h12.9M1770.5 621.1h12.9M1782.5 609.2v12.9M1834.2 609.2v12.9M1861.1 621.1h12.9M1873.0 609.2v12.9M1938.7 621.1h12.9M1951.6 621.1h12.9M1964.5 621.1h12.9M1977.5 621.1h12.9M1990.4 621.1h12.9M2015.3 609.2v12.9M2054.1 609.2v12.9M1730.7 622.1v12.9M1744.7 634.0h12.9M1756.6 622.1v12.9M1795.4 622.1v12.9M1809.3 634.0h12.9M1835.2 634.0h12.9M1848.1 634.0h12.9M1860.1 622.1v12.9M1886.9 634.0h12.9M1899.9 634.0h12.9M1911.8 622.1v12.9M1925.7 634.0h12.9M1937.7 622.1v12.9M2016.3 634.0h12.9M2029.2 634.0h12.9M2042.1 634.0h12.9M2055.1 634.0h12.9M2067.0 622.1v12.9M1692.9 646.9h12.9M1705.9 646.9h12.9M1718.8 646.9h12.9M1730.7 635.0v12.9M1783.5 646.9h12.9M1795.4 635.0v12.9M1834.2 635.0v12.9M1861.1 646.9h12.9M1885.9 635.0v12.9M1912.8 646.9h12.9M1924.7 635.0v12.9M1989.4 635.0v12.9M2003.3 646.9h12.9M2015.3 635.0v12.9M1680.0 659.8h12.9M1691.9 647.9v12.9M1757.6 659.8h12.9M1769.5 647.9v12.9M1796.4 659.8h12.9M1834.2 647.9v12.9M1874.0 659.8h12.9M1885.9 647.9v12.9M1899.9 659.8h12.9M1911.8 647.9v12.9M1938.7 659.8h12.9M1950.6 647.9v12.9M1964.5 659.8h12.9M1989.4 647.9v12.9M1705.9 672.7h12.9M1717.8 660.8v12.9M1731.7 672.7h12.9M1743.7 660.8v12.9M1809.3 672.7h12.9M1822.3 672.7h12.9M1834.2 660.8v12.9M1873.0 660.8v12.9M1937.7 660.8v12.9M1989.4 660.8v12.9M2028.2 660.8v12.9M1704.9 673.7v12.9M1730.7 673.7v12.9M1757.6 685.6h12.9M1796.4 685.6h12.9M1808.3 673.7v12.9M1835.2 685.6h12.9M1848.1 685.6h12.9M1861.1 685.6h12.9M1873.0 673.7v12.9M1899.9 685.6h12.9M1911.8 673.7v12.9M1951.6 685.6h12.9M1963.5 673.7v12.9M1977.5 685.6h12.9M1990.4 685.6h12.9M2002.3 673.7v12.9M2028.2 673.7v12.9M2054.1 673.7v12.9M1680.0 698.4h12.9M1704.9 686.6v12.9M1744.7 698.4h12.9M1756.6 686.6v12.9M1783.5 698.4h12.9M1795.4 686.6v12.9M1874.0 698.4h12.9M1885.9 686.6v12.9M1938.7 698.4h12.9M1950.6 686.6v12.9M1964.5 698.4h12.9M1976.5 686.6v12.9M2016.3 698.4h12.9M2028.2 686.6v12.9M2042.1 698.4h12.9M2067.0 686.6v12.9M1692.9 711.3h12.9M1704.9 699.4v12.9M1718.8 711.3h12.9M1743.7 699.4v12.9M1757.6 711.3h12.9M1782.5 699.4v12.9M1822.3 711.3h12.9M1834.2 699.4v12.9M1912.8 711.3h12.9M1937.7 699.4v12.9M1977.5 711.3h12.9M1990.4 711.3h12.9M2015.3 699.4v12.9M2055.1 711.3h12.9M2067.0 699.4v12.9M1691.9 712.3v12.9M1705.9 724.2h12.9M1717.8 712.3v12.9M1731.7 724.2h12.9M1756.6 712.3v12.9M1770.5 724.2h12.9M1782.5 712.3v12.9M1796.4 724.2h12.9M1808.3 712.3v12.9M1835.2 724.2h12.9M1860.1 712.3v12.9M1911.8 712.3v12.9M1925.7 724.2h12.9M1937.7 712.3v12.9M2003.3 724.2h12.9M2015.3 712.3v12.9M1680.0 737.1h12.9M1691.9 725.2v12.9M1744.7 737.1h12.9M1756.6 725.2v12.9M1834.2 725.2v12.9M1848.1 737.1h12.9M1861.1 737.1h12.9M1874.0 737.1h12.9M1886.9 737.1h12.9M1899.9 737.1h12.9M1911.8 725.2v12.9M1938.7 737.1h12.9M1950.6 725.2v12.9M1977.5 737.1h12.9M1989.4 725.2v12.9M2041.1 725.2v12.9M1730.7 738.1v12.9M1783.5 750.0h12.9M1796.4 750.0h12.9M1822.3 750.0h12.9M1847.1 738.1v12.9M1963.5 738.1v12.9M2002.3 738.1v12.9M2042.1 750.0h12.9M2054.1 738.1v12.9M1692.9 762.9h12.9M1704.9 751.0v12.9M1730.7 751.0v12.9M1757.6 762.9h12.9M1782.5 751.0v12.9M1821.3 751.0v12.9M1835.2 762.9h12.9M1874.0 762.9h12.9M1898.9 751.0v12.9M1912.8 762.9h12.9M1924.7 751.0v12.9M1951.6 762.9h12.9M1963.5 751.0v12.9M1990.4 762.9h12.9M2002.3 751.0v12.9M2029.2 762.9h12.9M2041.1 751.0v12.9M2055.1 762.9h12.9M2067.0 751.0v12.9M1718.8 775.8h12.9M1730.7 763.9v12.9M1782.5 763.9v12.9M1796.4 775.8h12.9M1809.3 775.8h12.9M1822.3 775.8h12.9M1834.2 763.9v12.9M1873.0 763.9v12.9M1886.9 775.8h12.9M1911.8 763.9v12.9M1937.7 763.9v12.9M2028.2 763.9v12.9M1704.9 776.8v12.9M1783.5 788.7h12.9M1795.4 776.8v12.9M1848.1 788.7h12.9M1861.1 788.7h12.9M1874.0 788.7h12.9M1885.9 776.8v12.9M1911.8 776.8v12.9M1925.7 788.7h12.9M1950.6 776.8v12.9M1990.4 788.7h12.9M2016.3 788.7h12.9M2041.1 776.8v12.9M1704.9 789.7v12.9M1770.5 801.6h12.9M1782.5 789.7v12.9M1808.3 789.7v12.9M1835.2 801.6h12.9M1847.1 789.7v12.9M1886.9 801.6h12.9M1924.7 789.7v12.9M1938.7 801.6h12.9M1951.6 801.6h12.9M1963.5 789.7v12.9M2015.3 789.7v12.9M2054.1 789.7v12.9M1680.0 814.4h12.9M1692.9 814.4h12.9M1704.9 802.6v12.9M1744.7 814.4h12.9M1757.6 814.4h12.9M1769.5 802.6v12.9M1796.4 814.4h12.9M1808.3 802.6v12.9M1885.9 802.6v12.9M1899.9 814.4h12.9M1937.7 802.6v12.9M1977.5 814.4h12.9M2003.3 814.4h12.9M2016.3 814.4h12.9M2054.1 802.6v12.9M1731.7 827.3h12.9M1743.7 815.4v12.9M1770.5 827.3h12.9M1783.5 827.3h12.9M1795.4 815.4v12.9M1874.0 827.3h12.9M1885.9 815.4v12.9M1912.8 827.3h12.9M1925.7 827.3h12.9M1937.7 815.4v12.9M1964.5 827.3h12.9M1976.5 815.4v12.9M2002.3 815.4v12.9M2029.2 827.3h12.9M2054.1 815.4v12.9M1718.8 840.2h12.9M1730.7 828.3v12.9M1834.2 828.3v12.9M2003.3 840.2h12.9M2015.3 828.3v12.9M2042.1 840.2h12.9M2067.0 828.3v12.9M1692.9 853.1h12.9M1705.9 853.1h12.9M1717.8 841.2v12.9M1731.7 853.1h12.9M1744.7 853.1h12.9M1757.6 853.1h12.9M1769.5 841.2v12.9M1796.4 853.1h12.9M1809.3 853.1h12.9M1834.2 841.2v12.9M1874.0 853.1h12.9M1886.9 853.1h12.9M1924.7 841.2v12.9M1951.6 853.1h12.9M1964.5 853.1h12.9M1977.5 853.1h12.9M2002.3 841.2v12.9M2028.2 841.2v12.9M2055.1 853.1h12.9M2067.0 841.2v12.9M1680.0 866.0h12.9M1691.9 854.1v12.9M1718.8 866.0h12.9M1730.7 854.1v12.9M1770.5 866.0h12.9M1783.5 866.0h12.9M1795.4 854.1v12.9M1822.3 866.0h12.9M1834.2 854.1v12.9M1861.1 866.0h12.9M1873.0 854.1v12.9M1899.9 866.0h12.9M1912.8 866.0h12.9M1925.7 866.0h12.9M1938.7 866.0h12.9M1950.6 854.1v12.9M1990.4 866.0h12.9M2003.3 866.0h12.9M2016.3 866.0h12.9M2029.2 866.0h12.9M2041.1 854.1v12.9" stroke="#585858" stroke-width="2.2" fill="none"/><path d="M1694.4 520.5h9.9v9.9h-9.9zM1733.2 520.5h9.9v9.9h-9.9zM1746.2 520.5h9.9v9.9h-9.9zM1772.0 520.5h9.9v9.9h-9.9zM1966.0 520.5h9.9v9.9h-9.9zM1681.5 533.4h9.9v9.9h-9.9zM1707.4 533.4h9.9v9.9h-9.9zM1810.8 546.3h9.9v9.9h-9.9zM1772.0 559.2h9.9v9.9h-9.9zM1849.6 559.2h9.9v9.9h-9.9zM1862.6 559.2h9.9v9.9h-9.9zM1759.1 572.1h9.9v9.9h-9.9zM1836.7 572.1h9.9v9.9h-9.9zM1991.9 572.1h9.9v9.9h-9.9zM1694.4 584.9h9.9v9.9h-9.9zM1810.8 584.9h9.9v9.9h-9.9zM1875.5 584.9h9.9v9.9h-9.9zM2056.6 584.9h9.9v9.9h-9.9zM1707.4 597.8h9.9v9.9h-9.9zM1823.8 597.8h9.9v9.9h-9.9zM1914.3 597.8h9.9v9.9h-9.9zM1953.1 597.8h9.9v9.9h-9.9zM1836.7 610.7h9.9v9.9h-9.9zM1875.5 610.7h9.9v9.9h-9.9zM2030.7 610.7h9.9v9.9h-9.9zM1772.0 623.6h9.9v9.9h-9.9zM1746.2 636.5h9.9v9.9h-9.9zM1927.2 636.5h9.9v9.9h-9.9zM1733.2 649.4h9.9v9.9h-9.9zM1836.7 649.4h9.9v9.9h-9.9zM1862.6 649.4h9.9v9.9h-9.9zM1991.9 649.4h9.9v9.9h-9.9zM2056.6 649.4h9.9v9.9h-9.9zM1720.3 662.3h9.9v9.9h-9.9zM1772.0 662.3h9.9v9.9h-9.9zM1797.9 662.3h9.9v9.9h-9.9zM1901.4 662.3h9.9v9.9h-9.9zM1914.3 662.3h9.9v9.9h-9.9zM1940.2 662.3h9.9v9.9h-9.9zM1953.1 662.3h9.9v9.9h-9.9zM2004.8 662.3h9.9v9.9h-9.9zM2043.6 662.3h9.9v9.9h-9.9zM2056.6 662.3h9.9v9.9h-9.9zM1707.4 675.2h9.9v9.9h-9.9zM2056.6 675.2h9.9v9.9h-9.9zM1707.4 688.1h9.9v9.9h-9.9zM1759.1 688.1h9.9v9.9h-9.9zM1823.8 688.1h9.9v9.9h-9.9zM1836.7 700.9h9.9v9.9h-9.9zM1862.6 700.9h9.9v9.9h-9.9zM1940.2 700.9h9.9v9.9h-9.9zM1953.1 700.9h9.9v9.9h-9.9zM1966.0 700.9h9.9v9.9h-9.9zM1759.1 713.8h9.9v9.9h-9.9zM1914.3 713.8h9.9v9.9h-9.9zM2017.8 713.8h9.9v9.9h-9.9zM2030.7 713.8h9.9v9.9h-9.9zM2004.8 726.7h9.9v9.9h-9.9zM2017.8 726.7h9.9v9.9h-9.9zM1862.6 739.6h9.9v9.9h-9.9zM1875.5 739.6h9.9v9.9h-9.9zM1901.4 739.6h9.9v9.9h-9.9zM1966.0 739.6h9.9v9.9h-9.9zM2056.6 739.6h9.9v9.9h-9.9zM1733.2 752.5h9.9v9.9h-9.9zM1746.2 752.5h9.9v9.9h-9.9zM1797.9 752.5h9.9v9.9h-9.9zM1681.5 765.4h9.9v9.9h-9.9zM1836.7 765.4h9.9v9.9h-9.9zM1914.3 765.4h9.9v9.9h-9.9zM1953.1 765.4h9.9v9.9h-9.9zM1720.3 778.3h9.9v9.9h-9.9zM1733.2 778.3h9.9v9.9h-9.9zM1914.3 778.3h9.9v9.9h-9.9zM1966.0 778.3h9.9v9.9h-9.9zM1849.6 791.2h9.9v9.9h-9.9zM1966.0 791.2h9.9v9.9h-9.9zM1979.0 791.2h9.9v9.9h-9.9zM1823.8 804.1h9.9v9.9h-9.9zM2056.6 804.1h9.9v9.9h-9.9zM1694.4 816.9h9.9v9.9h-9.9zM1720.3 816.9h9.9v9.9h-9.9zM1797.9 816.9h9.9v9.9h-9.9zM1810.8 816.9h9.9v9.9h-9.9zM1823.8 816.9h9.9v9.9h-9.9zM1888.4 816.9h9.9v9.9h-9.9zM1681.5 829.8h9.9v9.9h-9.9zM1759.1 829.8h9.9v9.9h-9.9zM1772.0 829.8h9.9v9.9h-9.9zM1940.2 829.8h9.9v9.9h-9.9zM1836.7 842.7h9.9v9.9h-9.9zM1940.2 842.7h9.9v9.9h-9.9zM2030.7 842.7h9.9v9.9h-9.9zM1733.2 855.6h9.9v9.9h-9.9zM1759.1 855.6h9.9v9.9h-9.9zM1836.7 855.6h9.9v9.9h-9.9zM1849.6 855.6h9.9v9.9h-9.9zM2056.6 855.6h9.9v9.9h-9.9z" fill="#555" stroke="#333" stroke-width="2.4"/></g><rect x="2012" y="846" width="39" height="11" fill="#fff"/><linearGradient id="cbg2" x1="0" y1="0" x2="0" y2="1"><stop offset="0" stop-color="#d9d9d9"/><stop offset="0.15" stop-color="#e3e3e3"/><stop offset="0.3" stop-color="#ebebeb"/><stop offset="0.5" stop-color="#f1f1f1"/><stop offset="0.75" stop-color="#f6f6f6"/><stop offset="1" stop-color="#fafafa"/></linearGradient><rect x="2091" y="55" width="1665" height="831" fill="url(#cbg2)"/><linearGradient id="cbgx" x1="0" y1="0" x2="1" y2="0"><stop offset="0" stop-color="#000" stop-opacity="0.02"/><stop offset="0.15" stop-color="#000" stop-opacity="0"/><stop offset="0.8" stop-color="#000" stop-opacity="0"/><stop offset="1" stop-color="#000" stop-opacity="0.04"/></linearGradient><rect x="2091" y="55" width="1665" height="831" fill="url(#cbgx)"/><line x1="2091" y1="886" x2="3756" y2="886" stroke="#9a9a9a" stroke-width="2.5"/><text x="2137" y="107" style="font-family:'Liberation Serif',serif;font-size:83px;font-weight:bold;font-style:normal" fill="#000" text-anchor="start" >c</text><g filter="url(#blur15)" fill="#9a9a9a" opacity="0.55"><path d="M2175 225 L2350 275 L2420 300 L2380 320 L2240 285 L2160 250Z"/><path d="M2420 310 L2600 400 L2700 430 L2680 445 L2560 420 L2430 340Z"/><path d="M2760 470 L2840 480 L2830 500 L2750 490Z"/><path d="M2380 690 L2560 820 L2660 790 L2700 700 L2620 650Z"/><path d="M2700 640 L2800 650 L2790 670 L2700 660Z"/><path d="M2900 570 L3000 605 L3090 580 L3080 600 L2990 625 L2890 590Z"/><path d="M3106 505 L3250 485 L3253 525 L3110 531Z"/><path d="M3275 462 L3390 445 L3388 484 L3280 484Z"/><path d="M3470 420 L3580 430 L3690 385 L3700 420 L3590 455 L3480 445Z"/></g><path d="M2300 185 L2980 520" stroke="#b4f5a6" stroke-width="19" stroke-linecap="round"/><path d="M2170 202 L2208 196 L2345 252 L2347 262 L2268 272 L2170 214Z" fill="#c6c6c6"/><path d="M2170 214 L2268 272 L2268 287 L2172 228Z" fill="#a6a6a6"/><path d="M2268 272 L2347 262 L2347 275 L2268 287Z" fill="#b8b8b8"/><path d="M2197 131 L2298 124 L2386 161 L2290 171Z" fill="#cbcbcb"/><path d="M2197 131 L2290 171 L2294 240 L2201 196Z" fill="#bdbdbd"/><path d="M2290 171 L2386 161 L2386 225 L2294 240Z" fill="#b3b3b3"/><path d="M2203 163 L2288 203 M2203 170 L2288 210 M2203 177 L2288 217 M2203 184 L2288 224" stroke="#7a7a7a" stroke-width="1.6"/><path d="M2296 178 L2340 173 L2345 232 L2300 238Z" fill="#4e4e4e"/><ellipse cx="2302" cy="190" rx="7" ry="10" fill="#5af06a"/><ellipse cx="2330" cy="208" rx="14" ry="20" fill="#2e2e2e" stroke="#888" stroke-width="2"/><ellipse cx="2397" cy="237" rx="52" ry="50" fill="#c9cde0"/><ellipse cx="2408" cy="242" rx="40" ry="41" fill="#dde0ec"/><ellipse cx="2411" cy="248" rx="24" ry="28" fill="#1d1d1d"/><path d="M2405 242 L2440 259" stroke="#a8f590" stroke-width="18" stroke-linecap="round"/><ellipse cx="2474" cy="281" rx="63" ry="61" fill="#e9a9bd" opacity="0.92"/><path d="M2430 236 A63 61 0 0 0 2440 330" stroke="#c85a7d" stroke-width="5" fill="none"/><path d="M2430 254 L2520 299" stroke="#b4f5a6" stroke-width="19" stroke-linecap="round" opacity="0.9"/><ellipse cx="2543" cy="310" rx="47" ry="48" fill="#353535"/><path d="M2536 310 L2560 322" stroke="#b4f5a6" stroke-width="18" stroke-linecap="round"/><ellipse cx="2632" cy="349" rx="71" ry="67" fill="#eaaabd" opacity="0.9"/><path d="M2575 310 A71 67 0 0 0 2590 405" stroke="#c85a7d" stroke-width="6" fill="none"/><path d="M2575 327 L2760 419" stroke="#b4f5a6" stroke-width="19" opacity="0.95"/><ellipse cx="2798" cy="425" rx="50" ry="49" fill="#5c5c5c"/><ellipse cx="2803" cy="428" rx="36" ry="37" fill="#7a7a7a" stroke="#4a4a4a" stroke-width="4"/><ellipse cx="2806" cy="431" rx="20" ry="22" fill="#5ad46a"/><path d="M2806 433 L2900 480" stroke="#b4f5a6" stroke-width="18" stroke-linecap="round"/><path d="M2897 435 L2996 414 L3086 446 L3079 574 L2976 597 L2891 558Z" fill="#82e8c8"/><path d="M2897 435 L2996 414 L3086 446 L2987 480Z" fill="#8deccf"/><path d="M2987 480 L3086 446 L3079 574 L2976 597Z" fill="#7ae2c6"/><g filter="url(#blur8)" opacity="0.55"><ellipse cx="2990" cy="440" rx="40" ry="14" fill="#4c9a90"/><ellipse cx="2960" cy="500" rx="30" ry="14" fill="#5aa89e"/><ellipse cx="3030" cy="540" rx="35" ry="20" fill="#6ab8b0"/></g><ellipse cx="2668" cy="604" rx="48" ry="90" fill="#d8587c"/><ellipse cx="2640" cy="607" rx="46" ry="87" fill="#efb4c6"/><ellipse cx="2770" cy="574" rx="40" ry="73" fill="#8f8b88"/><ellipse cx="2742" cy="574" rx="42" ry="73" fill="#cdc9c5"/><ellipse cx="2790" cy="520" rx="14" ry="8" fill="#f4f4f4"/><path d="M2634 592 L2900 536" stroke="#a6f596" stroke-width="24" opacity="0.95"/><path d="M2640 591 L2890 538" stroke="#8ff07e" stroke-width="9" opacity="0.7"/><g filter="url(#blur25)" opacity="0.22"><path d="M2300 640 L2470 720 L2560 840 L2380 850 L2270 760Z" fill="#9a9a9a"/></g><path d="M2374 492 L2476 480 L2627 577 L2547 596Z" fill="#e05a4c" stroke="#c84a3e" stroke-width="2" stroke-linejoin="round"/><path d="M2374 492 L2547 596 L2553 809 L2387 685Z" fill="#5e5e5e" stroke="#4a4a4a" stroke-width="4" stroke-linejoin="round"/><path d="M2383 510 L2445 630 M2538 612 L2482 640 M2395 670 L2438 652 M2545 795 L2470 680" stroke="#707070" stroke-width="7" fill="none"/><path d="M2383 510 L2445 630 M2538 612 L2482 640 M2395 670 L2438 652 M2545 795 L2470 680" stroke="#4e4e4e" stroke-width="2" fill="none" transform="translate(3 3)"/><path d="M2445 630 L2482 640 L2470 680 L2438 652Z" fill="#666" stroke="#777" stroke-width="2"/><path d="M2547 596 L2627 577 L2638 782 L2553 809Z" fill="#d24b40" stroke="#b8413a" stroke-width="2"/><path d="M2553 620 L2627 600 L2632 760 L2556 785Z" fill="#c4453c"/><path d="M2563 648 L2566 760 M2575 646 L2578 752 M2588 640 L2590 756 M2600 636 L2602 752 M2612 632 L2614 742 M2623 628 L2625 738" stroke="#4e1a16" stroke-width="2.5"/><circle cx="2555" cy="636" r="3.5" fill="#aaa"/><circle cx="2620" cy="618" r="3.5" fill="#aaa"/><circle cx="2560" cy="770" r="3.5" fill="#aaa"/><circle cx="2624" cy="750" r="3.5" fill="#aaa"/><circle cx="2434" cy="497" r="6" fill="#8a8a8a"/><rect x="2440" y="514" width="12" height="8" fill="#5a5a5a"/><rect x="2472" y="535" width="10" height="8" fill="#5a5a5a"/><circle cx="2512" cy="544" r="6" fill="#e8e8e8"/><rect x="2522" y="556" width="18" height="10" fill="#4a5a5a"/><path d="M3080 462 L3120 455" stroke="#7af07e" stroke-width="18"/><g filter="url(#blur8)" fill="#8c8c8c" opacity="0.7"><path d="M3110 500 L3240 478 L3255 520 L3120 535Z"/><path d="M3280 455 L3395 436 L3405 470 L3290 485Z"/></g><path d="M3118 427 L3221 405 L3230 484 L3129 508Z" fill="#f4f4f4"/><path d="M3125 490 L3228 466 L3230 484 L3129 508Z" fill="#d9d9d9"/><ellipse cx="3226" cy="445" rx="14" ry="40" fill="#f8f8f8"/><path d="M3147 420 A11 41 0 0 1 3147 502" fill="none" stroke="#c5ad3c" stroke-width="5"/><path d="M3215 406 A11 40 0 0 1 3215 486" fill="none" stroke="#c5ad3c" stroke-width="5"/><ellipse cx="3119" cy="467" rx="25" ry="41" fill="#9a9a9a"/><ellipse cx="3121" cy="469" rx="17" ry="29" fill="#1a1a1a"/><path d="M3090 472 L3124 466" stroke="#6ef08a" stroke-width="16" stroke-linecap="round"/><path d="M3236 408 L3262 402 L3270 455 L3244 462Z" fill="#d8d8d8"/><ellipse cx="3268" cy="430" rx="16" ry="25" fill="#6e6e6e"/><path d="M3228 438 L3275 424" stroke="#8ef09a" stroke-width="11"/><path d="M3287 388 L3388 369 L3399 441 L3298 459Z" fill="#f4f4f4"/><path d="M3294 442 L3397 424 L3399 441 L3298 459Z" fill="#d9d9d9"/><ellipse cx="3289" cy="424" rx="15" ry="36" fill="#e6e6e6"/><ellipse cx="3284" cy="426" rx="11" ry="24" fill="#8a8a8a"/><path d="M3336 377 A11 37 0 0 1 3336 451" fill="none" stroke="#c5ad3c" stroke-width="5"/><path d="M3393 369 A11 36 0 0 1 3393 441" fill="none" stroke="#c5ad3c" stroke-width="5"/><path d="M3398 398 L3505 362" stroke="#9cf3a0" stroke-width="22" stroke-linecap="round"/><path d="M3471 290 L3579 257 L3683 279 L3573 314Z" fill="#6e6e6e"/><path d="M3573 314 L3683 279 L3677 383 L3575 427Z" fill="#5c5c5c"/><path d="M3471 290 L3573 314 L3575 427 L3475 400Z" fill="#4a4a4a"/><path d="M3500 300 L3550 320 L3560 420 L3520 425Z" fill="#7a7a7a"/><circle cx="3689" cy="348" r="8" fill="#555"/><ellipse cx="3483" cy="368" rx="49" ry="57" fill="#3c3c3c"/><ellipse cx="3486" cy="370" rx="42" ry="50" fill="#141414" stroke="#2a8a3a" stroke-width="1.5"/><path d="M3400 396 L3503 361" stroke="#9cf3a0" stroke-width="24" stroke-linecap="round"/><path d="M3420 390 L3500 363" stroke="#5cf06a" stroke-width="8" stroke-linecap="round"/><text x="2261" y="119" style="font-family:'Liberation Serif',serif;font-size:42px;font-weight:normal;font-style:normal" fill="#000" text-anchor="start" >Laser</text><text x="2401" y="180" style="font-family:'Liberation Serif',serif;font-size:42px;font-weight:normal;font-style:normal" fill="#000" text-anchor="start" >HWP</text><text x="2480" y="215" style="font-family:'Liberation Serif',serif;font-size:42px;font-weight:normal;font-style:normal" fill="#000" text-anchor="start" >L1</text><text x="2630" y="255" style="font-family:'Liberation Serif',serif;font-size:42px;font-weight:normal;font-style:normal" fill="#000" text-anchor="start" >L2</text><text x="2460" y="406" style="font-family:'Liberation Serif',serif;font-size:42px;font-weight:normal;font-style:normal" fill="#000" text-anchor="start" >Pinhole</text><text x="2759" y="373" style="font-family:'Liberation Serif',serif;font-size:42px;font-weight:normal;font-style:normal" fill="#000" text-anchor="start" >Aperture</text><text x="2439" y="477" style="font-family:'Liberation Serif',serif;font-size:42px;font-weight:normal;font-style:normal" fill="#000" text-anchor="start" >SLM</text><text x="2657" y="739" style="font-family:'Liberation Serif',serif;font-size:42px;font-weight:normal;font-style:normal" fill="#000" text-anchor="start" >QWP</text><text x="2780" y="705" style="font-family:'Liberation Serif',serif;font-size:42px;font-weight:normal;font-style:normal" fill="#000" text-anchor="start" >POL</text><text x="2990" y="654" style="font-family:'Liberation Serif',serif;font-size:42px;font-weight:normal;font-style:normal" fill="#000" text-anchor="start" >BS</text><text x="3162" y="559" style="font-family:'Liberation Serif',serif;font-size:42px;font-weight:normal;font-style:normal" fill="#000" text-anchor="start" >L3</text><text x="3352" y="521" style="font-family:'Liberation Serif',serif;font-size:42px;font-weight:normal;font-style:normal" fill="#000" text-anchor="start" >L4</text><text x="3191" y="385" style="font-family:'Liberation Serif',serif;font-size:42px;font-weight:normal;font-style:normal" fill="#000" text-anchor="start" >Sample</text><text x="3545" y="255" style="font-family:'Liberation Serif',serif;font-size:42px;font-weight:normal;font-style:normal" fill="#000" text-anchor="start" >CCD</text><text x="23.6" y="1005" style="font-family:'Liberation Serif',serif;font-size:80px;font-weight:bold;font-style:normal" fill="#000" text-anchor="start" >d</text><rect x="27" y="1027" width="342" height="360" fill="#120a0c"/><path d="M242.0 1090.0C253.5 1097.0 272.3 1118.2 281.0 1136.0C289.7 1153.8 293.8 1176.8 294.0 1197.0C294.2 1217.2 290.7 1241.5 282.0 1257.0C273.3 1272.5 258.7 1279.3 242.0 1290.0C225.3 1300.7 199.7 1312.3 182.0 1321.0C164.3 1329.7 149.7 1342.5 136.0 1342.0C122.3 1341.5 107.5 1334.7 100.0 1318.0C92.5 1301.3 87.5 1264.7 91.0 1242.0C94.5 1219.3 107.8 1201.2 121.0 1182.0C134.2 1162.8 154.8 1141.7 170.0 1127.0C185.2 1112.3 200.0 1100.2 212.0 1094.0C224.0 1087.8 230.5 1083.0 242.0 1090.0M205 1100 C215 1115 225 1125 235 1112" fill="none" stroke="#0a8a0a" stroke-width="31" stroke-linecap="round" stroke-linejoin="round" filter="url(#blur8)" opacity="0.7"/><path d="M242.0 1090.0C253.5 1097.0 272.3 1118.2 281.0 1136.0C289.7 1153.8 293.8 1176.8 294.0 1197.0C294.2 1217.2 290.7 1241.5 282.0 1257.0C273.3 1272.5 258.7 1279.3 242.0 1290.0C225.3 1300.7 199.7 1312.3 182.0 1321.0C164.3 1329.7 149.7 1342.5 136.0 1342.0C122.3 1341.5 107.5 1334.7 100.0 1318.0C92.5 1301.3 87.5 1264.7 91.0 1242.0C94.5 1219.3 107.8 1201.2 121.0 1182.0C134.2 1162.8 154.8 1141.7 170.0 1127.0C185.2 1112.3 200.0 1100.2 212.0 1094.0C224.0 1087.8 230.5 1083.0 242.0 1090.0M205 1100 C215 1115 225 1125 235 1112" fill="none" stroke="#1ee01e" stroke-width="17" stroke-linecap="round" stroke-linejoin="round" filter="url(#blur2)"/><rect x="30" y="1318" width="63" height="67" fill="#000"/><path d="M72.0 1330.0C73.3 1332.5 80.0 1338.7 80.0 1345.0C80.0 1351.3 76.2 1362.2 72.0 1368.0C67.8 1373.8 59.5 1380.5 55.0 1380.0C50.5 1379.5 45.5 1371.3 45.0 1365.0C44.5 1358.7 48.7 1347.8 52.0 1342.0C55.3 1336.2 61.7 1331.7 65.0 1330.0C68.3 1328.3 70.8 1331.7 72.0 1332.0" fill="none" stroke="#fff" stroke-width="6.5" stroke-linecap="round" stroke-linejoin="round"/><rect x="262" y="1350" width="82" height="10" fill="#fff"/><text x="157" y="1083" style="font-family:'Liberation Serif',serif;font-size:41px;font-weight:normal;font-style:normal" fill="#fff" text-anchor="start" >Input</text><rect x="386" y="1027" width="342" height="360" fill="#0e0a0a"/><clipPath id="clip386_1027"><rect x="386" y="1027" width="342" height="360"/></clipPath><g clip-path="url(#clip386_1027)"><ellipse cx="502.6" cy="1199.05" rx="95" ry="238" fill="url(#hz)" opacity="1"/><ellipse cx="634.3" cy="1199.05" rx="95" ry="238" fill="url(#hz)" opacity="1"/><ellipse cx="568.45" cy="1122.6" rx="226" ry="80" fill="url(#hz)" opacity="0.85"/><ellipse cx="568.45" cy="1275.5" rx="226" ry="80" fill="url(#hz)" opacity="0.85"/><circle cx="502.6" cy="1122.6" r="90" fill="url(#glow)" opacity="0.78"/><circle cx="634.3" cy="1122.6" r="90" fill="url(#glow)" opacity="0.90"/><circle cx="502.6" cy="1275.5" r="90" fill="url(#glow)" opacity="0.80"/><circle cx="634.3" cy="1275.5" r="90" fill="url(#glow)" opacity="0.97"/></g><circle cx="502.6" cy="1122.6" r="37" fill="url(#coreDim)"/><circle cx="502.6" cy="1122.6" r="37" fill="url(#core)" opacity="0.55"/><circle cx="634.3" cy="1122.6" r="37" fill="url(#coreDim)"/><circle cx="634.3" cy="1122.6" r="37" fill="url(#core)" opacity="0.80"/><circle cx="502.6" cy="1275.5" r="37" fill="url(#coreDim)"/><circle cx="502.6" cy="1275.5" r="37" fill="url(#core)" opacity="0.60"/><circle cx="634.3" cy="1275.5" r="37" fill="url(#coreDim)"/><circle cx="634.3" cy="1275.5" r="37" fill="url(#core)" opacity="0.95"/><circle cx="502.6" cy="1122.6" r="37" fill="none" stroke="#fff" stroke-width="9" stroke-dasharray="21.79 7.26" transform="rotate(5.6 502.6 1122.6)"/><circle cx="634.3" cy="1122.6" r="37" fill="none" stroke="#fff" stroke-width="9" stroke-dasharray="21.79 7.26" transform="rotate(5.6 634.3 1122.6)"/><circle cx="502.6" cy="1275.5" r="37" fill="none" stroke="#fff" stroke-width="9" stroke-dasharray="21.79 7.26" transform="rotate(5.6 502.6 1275.5)"/><circle cx="634.3" cy="1275.5" r="37" fill="none" stroke="#fff" stroke-width="9" stroke-dasharray="21.79 7.26" transform="rotate(5.6 634.3 1275.5)"/><text x="502" y="1215" style="font-family:'Liberation Serif',serif;font-size:41px;font-weight:normal;font-style:normal" fill="#fff" text-anchor="middle" >2</text><text x="634" y="1215" style="font-family:'Liberation Serif',serif;font-size:41px;font-weight:normal;font-style:normal" fill="#fff" text-anchor="middle" >1</text><text x="502" y="1368" style="font-family:'Liberation Serif',serif;font-size:41px;font-weight:normal;font-style:normal" fill="#fff" text-anchor="middle" >3</text><text x="634" y="1371" style="font-family:'Liberation Serif',serif;font-size:41px;font-weight:normal;font-style:normal" fill="#fff" text-anchor="middle" >0</text><text x="489" y="1083" style="font-family:'Liberation Serif',serif;font-size:41px;font-weight:normal;font-style:normal" fill="#fff" text-anchor="start" >Output</text><rect x="852" y="1027" width="417" height="336" fill="#fff" stroke="#000" stroke-width="4.5"/><rect x="907.0" y="1088.7" width="56.1" height="274.3" fill="#548235" stroke="#1c2e4e" stroke-width="4.4"/><rect x="991.2" y="1142.1" width="56.1" height="220.9" fill="#a9d18e" stroke="#1c2e4e" stroke-width="4.4"/><rect x="1075.5" y="1207.3" width="55.3" height="155.7" fill="#a9d18e" stroke="#1c2e4e" stroke-width="4.4"/><rect x="1159.2" y="1178.2" width="55.6" height="184.8" fill="#a9d18e" stroke="#1c2e4e" stroke-width="4.4"/><rect x="849.75" y="1360.75" width="421.5" height="4.5" fill="#000"/><path d="M852 1086.5h17M852 1226.3h14" stroke="#000" stroke-width="4.5"/><text x="836" y="1100" style="font-family:'Liberation Serif',serif;font-size:42px;font-weight:normal;font-style:normal" fill="#000" text-anchor="end" >100%</text><text x="836" y="1243" style="font-family:'Liberation Serif',serif;font-size:42px;font-weight:normal;font-style:normal" fill="#000" text-anchor="end" >50%</text><text x="936" y="1408" style="font-family:'Liberation Serif',serif;font-size:42px;font-weight:normal;font-style:normal" fill="#000" text-anchor="middle" >0</text><text x="1019" y="1408" style="font-family:'Liberation Serif',serif;font-size:42px;font-weight:normal;font-style:normal" fill="#000" text-anchor="middle" >1</text><text x="1103" y="1408" style="font-family:'Liberation Serif',serif;font-size:42px;font-weight:normal;font-style:normal" fill="#000" text-anchor="middle" >2</text><text x="1187" y="1408" style="font-family:'Liberation Serif',serif;font-size:42px;font-weight:normal;font-style:normal" fill="#000" text-anchor="middle" >3</text><rect x="1320" y="1019" width="323" height="358" fill="#120a0c"/><path d="M1553.0 1082.0C1547.5 1091.7 1532.2 1118.7 1520.0 1140.0C1507.8 1161.3 1492.5 1187.5 1480.0 1210.0C1467.5 1232.5 1452.3 1260.0 1445.0 1275.0C1437.7 1290.0 1436.2 1294.8 1436.0 1300.0C1435.8 1305.2 1442.7 1305.0 1444.0 1306.0" fill="none" stroke="#0a8a0a" stroke-width="38" stroke-linecap="round" stroke-linejoin="round" filter="url(#blur8)" opacity="0.7"/><path d="M1553.0 1082.0C1547.5 1091.7 1532.2 1118.7 1520.0 1140.0C1507.8 1161.3 1492.5 1187.5 1480.0 1210.0C1467.5 1232.5 1452.3 1260.0 1445.0 1275.0C1437.7 1290.0 1436.2 1294.8 1436.0 1300.0C1435.8 1305.2 1442.7 1305.0 1444.0 1306.0" fill="none" stroke="#1ee01e" stroke-width="24" stroke-linecap="round" stroke-linejoin="round" filter="url(#blur2)"/><rect x="1326" y="1311" width="59" height="64" fill="#000"/><path d="M1369 1325 C1362 1340 1352 1352 1347 1367" fill="none" stroke="#fff" stroke-width="6.5" stroke-linecap="round" stroke-linejoin="round"/><rect x="1544" y="1341" width="78" height="11" fill="#fff"/><text x="1465" y="1076" style="font-family:'Liberation Serif',serif;font-size:41px;font-weight:normal;font-style:normal" fill="#fff" text-anchor="start" >Input</text><rect x="1673" y="1019" width="323" height="359" fill="#0e0a0a"/><clipPath id="clip1673_1019"><rect x="1673" y="1019" width="323" height="359"/></clipPath><g clip-path="url(#clip1673_1019)"><ellipse cx="1774.6" cy="1189.8" rx="95" ry="237" fill="url(#hz)" opacity="1"/><ellipse cx="1878.95" cy="1189.8" rx="95" ry="237" fill="url(#hz)" opacity="1"/><ellipse cx="1826.775" cy="1123.6" rx="213" ry="80" fill="url(#hz)" opacity="0.85"/><ellipse cx="1826.775" cy="1256.0" rx="213" ry="80" fill="url(#hz)" opacity="0.85"/><circle cx="1774.6" cy="1123.6" r="90" fill="url(#glow)" opacity="0.80"/><circle cx="1878.2" cy="1123.6" r="90" fill="url(#glow)" opacity="1.00"/><circle cx="1774.6" cy="1256" r="90" fill="url(#glow)" opacity="0.68"/><circle cx="1879.7" cy="1256" r="90" fill="url(#glow)" opacity="0.93"/></g><circle cx="1774.6" cy="1123.6" r="36" fill="url(#coreDim)"/><circle cx="1774.6" cy="1123.6" r="36" fill="url(#core)" opacity="0.60"/><circle cx="1878.2" cy="1123.6" r="36" fill="url(#coreDim)"/><circle cx="1878.2" cy="1123.6" r="36" fill="url(#core)" opacity="1.00"/><circle cx="1774.6" cy="1256" r="36" fill="url(#coreDim)"/><circle cx="1774.6" cy="1256" r="36" fill="url(#core)" opacity="0.35"/><circle cx="1879.7" cy="1256" r="36" fill="url(#coreDim)"/><circle cx="1879.7" cy="1256" r="36" fill="url(#core)" opacity="0.85"/><circle cx="1774.6" cy="1123.6" r="36" fill="none" stroke="#fff" stroke-width="8.5" stroke-dasharray="21.21 7.07" transform="rotate(5.6 1774.6 1123.6)"/><circle cx="1878.2" cy="1123.6" r="36" fill="none" stroke="#fff" stroke-width="8.5" stroke-dasharray="21.21 7.07" transform="rotate(5.6 1878.2 1123.6)"/><circle cx="1774.6" cy="1256" r="36" fill="none" stroke="#fff" stroke-width="8.5" stroke-dasharray="21.21 7.07" transform="rotate(5.6 1774.6 1256)"/><circle cx="1879.7" cy="1256" r="36" fill="none" stroke="#fff" stroke-width="8.5" stroke-dasharray="21.21 7.07" transform="rotate(5.6 1879.7 1256)"/><text x="1773" y="1204" style="font-family:'Liberation Serif',serif;font-size:41px;font-weight:normal;font-style:normal" fill="#fff" text-anchor="middle" >2</text><text x="1884" y="1204" style="font-family:'Liberation Serif',serif;font-size:41px;font-weight:normal;font-style:normal" fill="#fff" text-anchor="middle" >1</text><text x="1773" y="1345" style="font-family:'Liberation Serif',serif;font-size:41px;font-weight:normal;font-style:normal" fill="#fff" text-anchor="middle" >3</text><text x="1887" y="1345" style="font-family:'Liberation Serif',serif;font-size:41px;font-weight:normal;font-style:normal" fill="#fff" text-anchor="middle" >0</text><text x="1765" y="1073" style="font-family:'Liberation Serif',serif;font-size:41px;font-weight:normal;font-style:normal" fill="#fff" text-anchor="start" >Output</text><rect x="2119" y="1019" width="398" height="337" fill="#fff" stroke="#000" stroke-width="4.5"/><rect x="2172.2" y="1145.6" width="52.9" height="210.4" fill="#a9d18e" stroke="#1c2e4e" stroke-width="4.4"/><rect x="2252.7" y="1081.8" width="51.9" height="274.2" fill="#548235" stroke="#1c2e4e" stroke-width="4.4"/><rect x="2332.2" y="1195.5" width="51.6" height="160.5" fill="#a9d18e" stroke="#1c2e4e" stroke-width="4.4"/><rect x="2411.7" y="1259.3" width="52.8" height="96.7" fill="#a9d18e" stroke="#1c2e4e" stroke-width="4.4"/><rect x="2116.75" y="1353.75" width="402.5" height="4.5" fill="#000"/><path d="M2119 1079.6h17M2119 1218.3h14" stroke="#000" stroke-width="4.5"/><text x="2112" y="1093" style="font-family:'Liberation Serif',serif;font-size:42px;font-weight:normal;font-style:normal" fill="#000" text-anchor="end" >100%</text><text x="2112" y="1236" style="font-family:'Liberation Serif',serif;font-size:42px;font-weight:normal;font-style:normal" fill="#000" text-anchor="end" >50%</text><text x="2201" y="1398" style="font-family:'Liberation Serif',serif;font-size:42px;font-weight:normal;font-style:normal" fill="#000" text-anchor="middle" >0</text><text x="2280" y="1398" style="font-family:'Liberation Serif',serif;font-size:42px;font-weight:normal;font-style:normal" fill="#000" text-anchor="middle" >1</text><text x="2359" y="1398" style="font-family:'Liberation Serif',serif;font-size:42px;font-weight:normal;font-style:normal" fill="#000" text-anchor="middle" >2</text><text x="2439" y="1398" style="font-family:'Liberation Serif',serif;font-size:42px;font-weight:normal;font-style:normal" fill="#000" text-anchor="middle" >3</text><rect x="27" y="1483" width="344" height="359" fill="#120a0c"/><path d="M126.0 1573.0C133.8 1570.7 155.7 1561.2 173.0 1559.0C190.3 1556.8 214.7 1558.7 230.0 1560.0C245.3 1561.3 258.2 1559.8 265.0 1567.0C271.8 1574.2 277.3 1588.7 271.0 1603.0C264.7 1617.3 243.2 1635.8 227.0 1653.0C210.8 1670.2 190.2 1691.3 174.0 1706.0C157.8 1720.7 135.0 1729.2 130.0 1741.0C125.0 1752.8 134.8 1769.0 144.0 1777.0C153.2 1785.0 170.3 1792.0 185.0 1789.0C199.7 1786.0 213.3 1767.8 232.0 1759.0C250.7 1750.2 286.2 1739.8 297.0 1736.0" fill="none" stroke="#0a8a0a" stroke-width="46" stroke-linecap="round" stroke-linejoin="round" filter="url(#blur8)" opacity="0.7"/><path d="M126.0 1573.0C133.8 1570.7 155.7 1561.2 173.0 1559.0C190.3 1556.8 214.7 1558.7 230.0 1560.0C245.3 1561.3 258.2 1559.8 265.0 1567.0C271.8 1574.2 277.3 1588.7 271.0 1603.0C264.7 1617.3 243.2 1635.8 227.0 1653.0C210.8 1670.2 190.2 1691.3 174.0 1706.0C157.8 1720.7 135.0 1729.2 130.0 1741.0C125.0 1752.8 134.8 1769.0 144.0 1777.0C153.2 1785.0 170.3 1792.0 185.0 1789.0C199.7 1786.0 213.3 1767.8 232.0 1759.0C250.7 1750.2 286.2 1739.8 297.0 1736.0" fill="none" stroke="#1ee01e" stroke-width="32" stroke-linecap="round" stroke-linejoin="round" filter="url(#blur2)"/><rect x="28" y="1776" width="64" height="66" fill="#000"/><path d="M46.6 1791.8C49.0 1790.8 55.9 1785.7 61.3 1785.9C66.7 1786.1 77.5 1789.3 79.0 1793.2C80.5 1797.1 75.6 1803.8 70.2 1809.5C64.8 1815.2 47.6 1824.0 46.6 1827.2C45.6 1830.4 58.1 1829.7 64.3 1828.7C70.5 1827.7 80.3 1822.5 83.5 1821.3" fill="none" stroke="#fff" stroke-width="6.5" stroke-linecap="round" stroke-linejoin="round"/><rect x="263" y="1798" width="83" height="11" fill="#fff"/><text x="151" y="1535" style="font-family:'Liberation Serif',serif;font-size:41px;font-weight:normal;font-style:normal" fill="#fff" text-anchor="start" >Input</text><rect x="386" y="1483" width="343" height="353" fill="#0e0a0a"/><clipPath id="clip386_1483"><rect x="386" y="1483" width="343" height="353"/></clipPath><g clip-path="url(#clip386_1483)"><ellipse cx="508.55" cy="1663.35" rx="95" ry="233" fill="url(#hz)" opacity="1"/><ellipse cx="631.8" cy="1663.35" rx="95" ry="233" fill="url(#hz)" opacity="1"/><ellipse cx="570.175" cy="1592.5" rx="226" ry="80" fill="url(#hz)" opacity="0.85"/><ellipse cx="570.175" cy="1734.2" rx="226" ry="80" fill="url(#hz)" opacity="0.85"/><circle cx="505.6" cy="1594" r="90" fill="url(#glow)" opacity="0.88"/><circle cx="629.6" cy="1591" r="90" fill="url(#glow)" opacity="0.72"/><circle cx="511.5" cy="1734.2" r="90" fill="url(#glow)" opacity="0.70"/><circle cx="634" cy="1734.2" r="90" fill="url(#glow)" opacity="0.70"/></g><circle cx="505.6" cy="1594" r="37" fill="url(#coreDim)"/><circle cx="505.6" cy="1594" r="37" fill="url(#core)" opacity="0.75"/><circle cx="629.6" cy="1591" r="37" fill="url(#coreDim)"/><circle cx="629.6" cy="1591" r="37" fill="url(#core)" opacity="0.45"/><circle cx="511.5" cy="1734.2" r="37" fill="url(#coreDim)"/><circle cx="511.5" cy="1734.2" r="37" fill="url(#core)" opacity="0.40"/><circle cx="634" cy="1734.2" r="37" fill="url(#coreDim)"/><circle cx="634" cy="1734.2" r="37" fill="url(#core)" opacity="0.40"/><circle cx="505.6" cy="1594" r="37" fill="none" stroke="#fff" stroke-width="9" stroke-dasharray="21.79 7.26" transform="rotate(5.6 505.6 1594)"/><circle cx="629.6" cy="1591" r="37" fill="none" stroke="#fff" stroke-width="9" stroke-dasharray="21.79 7.26" transform="rotate(5.6 629.6 1591)"/><circle cx="511.5" cy="1734.2" r="37" fill="none" stroke="#fff" stroke-width="9" stroke-dasharray="21.79 7.26" transform="rotate(5.6 511.5 1734.2)"/><circle cx="634" cy="1734.2" r="37" fill="none" stroke="#fff" stroke-width="9" stroke-dasharray="21.79 7.26" transform="rotate(5.6 634 1734.2)"/><text x="503" y="1680" style="font-family:'Liberation Serif',serif;font-size:41px;font-weight:normal;font-style:normal" fill="#fff" text-anchor="middle" >2</text><text x="631" y="1680" style="font-family:'Liberation Serif',serif;font-size:41px;font-weight:normal;font-style:normal" fill="#fff" text-anchor="middle" >1</text><text x="500" y="1823" style="font-family:'Liberation Serif',serif;font-size:41px;font-weight:normal;font-style:normal" fill="#fff" text-anchor="middle" >3</text><text x="628" y="1826" style="font-family:'Liberation Serif',serif;font-size:41px;font-weight:normal;font-style:normal" fill="#fff" text-anchor="middle" >0</text><text x="489" y="1532" style="font-family:'Liberation Serif',serif;font-size:41px;font-weight:normal;font-style:normal" fill="#fff" text-anchor="start" >Output</text><rect x="850" y="1484" width="419" height="337" fill="#fff" stroke="#000" stroke-width="4.5"/><rect x="907.0" y="1666.7" width="54.5" height="154.3" fill="#a9d18e" stroke="#1c2e4e" stroke-width="4.4"/><rect x="990.7" y="1600.0" width="55.1" height="221.0" fill="#a9d18e" stroke="#1c2e4e" stroke-width="4.4"/><rect x="1075.2" y="1545.8" width="55.1" height="275.2" fill="#548235" stroke="#1c2e4e" stroke-width="4.4"/><rect x="1159.2" y="1644.9" width="54.6" height="176.1" fill="#a9d18e" stroke="#1c2e4e" stroke-width="4.4"/><rect x="847.75" y="1818.75" width="423.5" height="4.5" fill="#000"/><path d="M850 1543.6h17M850 1683.2h14" stroke="#000" stroke-width="4.5"/><text x="836" y="1556" style="font-family:'Liberation Serif',serif;font-size:42px;font-weight:normal;font-style:normal" fill="#000" text-anchor="end" >100%</text><text x="836" y="1700" style="font-family:'Liberation Serif',serif;font-size:42px;font-weight:normal;font-style:normal" fill="#000" text-anchor="end" >50%</text><text x="934" y="1864" style="font-family:'Liberation Serif',serif;font-size:42px;font-weight:normal;font-style:normal" fill="#000" text-anchor="middle" >0</text><text x="1018" y="1864" style="font-family:'Liberation Serif',serif;font-size:42px;font-weight:normal;font-style:normal" fill="#000" text-anchor="middle" >1</text><text x="1103" y="1864" style="font-family:'Liberation Serif',serif;font-size:42px;font-weight:normal;font-style:normal" fill="#000" text-anchor="middle" >2</text><text x="1187" y="1864" style="font-family:'Liberation Serif',serif;font-size:42px;font-weight:normal;font-style:normal" fill="#000" text-anchor="middle" >3</text><rect x="1331" y="1483" width="330" height="352" fill="#120a0c"/><path d="M1377.0 1562.0C1391.5 1560.5 1440.5 1553.0 1464.0 1553.0C1487.5 1553.0 1506.0 1557.7 1518.0 1562.0C1530.0 1566.3 1537.8 1571.3 1536.0 1579.0C1534.2 1586.7 1517.2 1599.3 1507.0 1608.0C1496.8 1616.7 1472.7 1625.7 1475.0 1631.0C1477.3 1636.3 1503.7 1634.2 1521.0 1640.0C1538.3 1645.8 1566.5 1656.0 1579.0 1666.0C1591.5 1676.0 1596.0 1686.7 1596.0 1700.0C1596.0 1713.3 1591.5 1734.5 1579.0 1746.0C1566.5 1757.5 1539.2 1765.2 1521.0 1769.0C1502.8 1772.8 1483.3 1772.8 1470.0 1769.0C1456.7 1765.2 1445.8 1752.7 1441.0 1746.0C1436.2 1739.3 1441.0 1731.8 1441.0 1729.0" fill="none" stroke="#0a8a0a" stroke-width="41" stroke-linecap="round" stroke-linejoin="round" filter="url(#blur8)" opacity="0.7"/><path d="M1377.0 1562.0C1391.5 1560.5 1440.5 1553.0 1464.0 1553.0C1487.5 1553.0 1506.0 1557.7 1518.0 1562.0C1530.0 1566.3 1537.8 1571.3 1536.0 1579.0C1534.2 1586.7 1517.2 1599.3 1507.0 1608.0C1496.8 1616.7 1472.7 1625.7 1475.0 1631.0C1477.3 1636.3 1503.7 1634.2 1521.0 1640.0C1538.3 1645.8 1566.5 1656.0 1579.0 1666.0C1591.5 1676.0 1596.0 1686.7 1596.0 1700.0C1596.0 1713.3 1591.5 1734.5 1579.0 1746.0C1566.5 1757.5 1539.2 1765.2 1521.0 1769.0C1502.8 1772.8 1483.3 1772.8 1470.0 1769.0C1456.7 1765.2 1445.8 1752.7 1441.0 1746.0C1436.2 1739.3 1441.0 1731.8 1441.0 1729.0" fill="none" stroke="#1ee01e" stroke-width="27" stroke-linecap="round" stroke-linejoin="round" filter="url(#blur2)"/><rect x="1331" y="1767" width="61" height="67" fill="#000"/><path d="M1338.7 1783.6C1342.8 1783.1 1357.5 1779.3 1363.2 1780.7C1369.0 1782.1 1374.2 1788.9 1373.2 1792.2C1372.2 1795.5 1356.9 1798.2 1357.4 1800.8C1357.9 1803.4 1373.2 1804.4 1376.1 1808.0C1379.0 1811.6 1378.8 1819.5 1374.7 1822.4C1370.6 1825.3 1356.2 1825.8 1351.6 1825.3C1347.0 1824.8 1348.0 1820.5 1347.3 1819.5" fill="none" stroke="#fff" stroke-width="6.5" stroke-linecap="round" stroke-linejoin="round"/><rect x="1560" y="1791" width="79" height="11" fill="#fff"/><text x="1466" y="1529" style="font-family:'Liberation Serif',serif;font-size:41px;font-weight:normal;font-style:normal" fill="#fff" text-anchor="start" >Input</text><rect x="1691" y="1483" width="324" height="352" fill="#0e0a0a"/><clipPath id="clip1691_1483"><rect x="1691" y="1483" width="324" height="352"/></clipPath><g clip-path="url(#clip1691_1483)"><ellipse cx="1796.85" cy="1638.75" rx="95" ry="232" fill="url(#hz)" opacity="1"/><ellipse cx="1912.35" cy="1638.75" rx="95" ry="232" fill="url(#hz)" opacity="1"/><ellipse cx="1854.6" cy="1578.15" rx="214" ry="80" fill="url(#hz)" opacity="0.85"/><ellipse cx="1854.6" cy="1699.35" rx="214" ry="80" fill="url(#hz)" opacity="0.85"/><circle cx="1794.7" cy="1579.3" r="90" fill="url(#glow)" opacity="0.88"/><circle cx="1911.2" cy="1577" r="90" fill="url(#glow)" opacity="0.75"/><circle cx="1799" cy="1698.7" r="90" fill="url(#glow)" opacity="0.97"/><circle cx="1913.5" cy="1700" r="90" fill="url(#glow)" opacity="0.90"/></g><circle cx="1794.7" cy="1579.3" r="36" fill="url(#coreDim)"/><circle cx="1794.7" cy="1579.3" r="36" fill="url(#core)" opacity="0.75"/><circle cx="1911.2" cy="1577" r="36" fill="url(#coreDim)"/><circle cx="1911.2" cy="1577" r="36" fill="url(#core)" opacity="0.50"/><circle cx="1799" cy="1698.7" r="36" fill="url(#coreDim)"/><circle cx="1799" cy="1698.7" r="36" fill="url(#core)" opacity="0.95"/><circle cx="1913.5" cy="1700" r="36" fill="url(#coreDim)"/><circle cx="1913.5" cy="1700" r="36" fill="url(#core)" opacity="0.80"/><circle cx="1794.7" cy="1579.3" r="36" fill="none" stroke="#fff" stroke-width="8.5" stroke-dasharray="21.21 7.07" transform="rotate(5.6 1794.7 1579.3)"/><circle cx="1911.2" cy="1577" r="36" fill="none" stroke="#fff" stroke-width="8.5" stroke-dasharray="21.21 7.07" transform="rotate(5.6 1911.2 1577)"/><circle cx="1799" cy="1698.7" r="36" fill="none" stroke="#fff" stroke-width="8.5" stroke-dasharray="21.21 7.07" transform="rotate(5.6 1799 1698.7)"/><circle cx="1913.5" cy="1700" r="36" fill="none" stroke="#fff" stroke-width="8.5" stroke-dasharray="21.21 7.07" transform="rotate(5.6 1913.5 1700)"/><text x="1795" y="1656" style="font-family:'Liberation Serif',serif;font-size:41px;font-weight:normal;font-style:normal" fill="#fff" text-anchor="middle" >2</text><text x="1913" y="1654" style="font-family:'Liberation Serif',serif;font-size:41px;font-weight:normal;font-style:normal" fill="#fff" text-anchor="middle" >1</text><text x="1793" y="1784" style="font-family:'Liberation Serif',serif;font-size:41px;font-weight:normal;font-style:normal" fill="#fff" text-anchor="middle" >3</text><text x="1917" y="1784" style="font-family:'Liberation Serif',serif;font-size:41px;font-weight:normal;font-style:normal" fill="#fff" text-anchor="middle" >0</text><text x="1790" y="1529" style="font-family:'Liberation Serif',serif;font-size:41px;font-weight:normal;font-style:normal" fill="#fff" text-anchor="start" >Output</text><rect x="2123" y="1483" width="403" height="336" fill="#fff" stroke="#000" stroke-width="4.5"/><rect x="2177.0" y="1584.5" width="53.5" height="234.5" fill="#a9d18e" stroke="#1c2e4e" stroke-width="4.4"/><rect x="2258.2" y="1680.5" width="52.6" height="138.5" fill="#a9d18e" stroke="#1c2e4e" stroke-width="4.4"/><rect x="2339.2" y="1607.9" width="53.4" height="211.1" fill="#a9d18e" stroke="#1c2e4e" stroke-width="4.4"/><rect x="2420.2" y="1545.5" width="53.6" height="273.5" fill="#548235" stroke="#1c2e4e" stroke-width="4.4"/><rect x="2120.75" y="1816.75" width="407.5" height="4.5" fill="#000"/><path d="M2123 1543.3h17M2123 1682.5h14" stroke="#000" stroke-width="4.5"/><text x="2113" y="1556" style="font-family:'Liberation Serif',serif;font-size:42px;font-weight:normal;font-style:normal" fill="#000" text-anchor="end" >100%</text><text x="2113" y="1700" style="font-family:'Liberation Serif',serif;font-size:42px;font-weight:normal;font-style:normal" fill="#000" text-anchor="end" >50%</text><text x="2206" y="1863" style="font-family:'Liberation Serif',serif;font-size:42px;font-weight:normal;font-style:normal" fill="#000" text-anchor="middle" >0</text><text x="2288" y="1863" style="font-family:'Liberation Serif',serif;font-size:42px;font-weight:normal;font-style:normal" fill="#000" text-anchor="middle" >1</text><text x="2368" y="1863" style="font-family:'Liberation Serif',serif;font-size:42px;font-weight:normal;font-style:normal" fill="#000" text-anchor="middle" >2</text><text x="2448" y="1863" style="font-family:'Liberation Serif',serif;font-size:42px;font-weight:normal;font-style:normal" fill="#000" text-anchor="middle" >3</text><text x="2583" y="1006.5" style="font-family:'Liberation Serif',serif;font-size:84px;font-weight:bold;font-style:normal" fill="#000" text-anchor="start" >e</text><rect x="2763" y="1013" width="181.5" height="195.5" fill="#0a3370"/><rect x="2944" y="1013" width="181.5" height="195.5" fill="#f7fbff"/><rect x="3125" y="1013" width="180.5" height="195.5" fill="#f5f9fe"/><rect x="3305" y="1013" width="180.5" height="195.5" fill="#f1f6fc"/><rect x="2763" y="1208" width="181.5" height="196.5" fill="#f3f7fc"/><rect x="2944" y="1208" width="181.5" height="196.5" fill="#0a336f"/><rect x="3125" y="1208" width="180.5" height="196.5" fill="#f7fbff"/><rect x="3305" y="1208" width="180.5" height="196.5" fill="#f7fbff"/><rect x="2763" y="1404" width="181.5" height="195.5" fill="#f1f6fc"/><rect x="2944" y="1404" width="181.5" height="195.5" fill="#f7fbff"/><rect x="3125" y="1404" width="180.5" height="195.5" fill="#0b3c7d"/><rect x="3305" y="1404" width="180.5" height="195.5" fill="#f7fbff"/><rect x="2763" y="1599" width="181.5" height="190.5" fill="#f1f6fc"/><rect x="2944" y="1599" width="181.5" height="190.5" fill="#f7fbff"/><rect x="3125" y="1599" width="180.5" height="190.5" fill="#eaf1f9"/><rect x="3305" y="1599" width="180.5" height="190.5" fill="#0b3f81"/><text transform="translate(2853.5 1137.0) scale(0.88 1)" style="font-family:'Liberation Sans',sans-serif;font-size:60px" fill="#fff" text-anchor="middle">94</text><text transform="translate(3034.5 1137.0) scale(0.88 1)" style="font-family:'Liberation Sans',sans-serif;font-size:60px" fill="#000" text-anchor="middle">0</text><text transform="translate(3215.0 1137.0) scale(0.88 1)" style="font-family:'Liberation Sans',sans-serif;font-size:60px" fill="#000" text-anchor="middle">2</text><text transform="translate(3395.0 1137.0) scale(0.88 1)" style="font-family:'Liberation Sans',sans-serif;font-size:60px" fill="#000" text-anchor="middle">4</text><text transform="translate(2853.5 1332.5) scale(0.88 1)" style="font-family:'Liberation Sans',sans-serif;font-size:60px" fill="#000" text-anchor="middle">3</text><text transform="translate(3034.5 1332.5) scale(0.88 1)" style="font-family:'Liberation Sans',sans-serif;font-size:60px" fill="#fff" text-anchor="middle">97</text><text transform="translate(3215.0 1332.5) scale(0.88 1)" style="font-family:'Liberation Sans',sans-serif;font-size:60px" fill="#000" text-anchor="middle">0</text><text transform="translate(3395.0 1332.5) scale(0.88 1)" style="font-family:'Liberation Sans',sans-serif;font-size:60px" fill="#000" text-anchor="middle">0</text><text transform="translate(2853.5 1528.0) scale(0.88 1)" style="font-family:'Liberation Sans',sans-serif;font-size:60px" fill="#000" text-anchor="middle">4</text><text transform="translate(3034.5 1528.0) scale(0.88 1)" style="font-family:'Liberation Sans',sans-serif;font-size:60px" fill="#000" text-anchor="middle">0</text><text transform="translate(3215.0 1528.0) scale(0.88 1)" style="font-family:'Liberation Sans',sans-serif;font-size:60px" fill="#fff" text-anchor="middle">96</text><text transform="translate(3395.0 1528.0) scale(0.88 1)" style="font-family:'Liberation Sans',sans-serif;font-size:60px" fill="#000" text-anchor="middle">0</text><text transform="translate(2853.5 1720.5) scale(0.88 1)" style="font-family:'Liberation Sans',sans-serif;font-size:60px" fill="#000" text-anchor="middle">4</text><text transform="translate(3034.5 1720.5) scale(0.88 1)" style="font-family:'Liberation Sans',sans-serif;font-size:60px" fill="#000" text-anchor="middle">0</text><text transform="translate(3215.0 1720.5) scale(0.88 1)" style="font-family:'Liberation Sans',sans-serif;font-size:60px" fill="#000" text-anchor="middle">16</text><text transform="translate(3395.0 1720.5) scale(0.88 1)" style="font-family:'Liberation Sans',sans-serif;font-size:60px" fill="#fff" text-anchor="middle">80</text><rect x="2762.5" y="1012.5" width="723" height="777" fill="none" stroke="#1b3157" stroke-width="5"/><line x1="2746" y1="1116.2" x2="2760" y2="1116.2" stroke="#000" stroke-width="5"/><text x="2734" y="1138.2" style="font-family:'Liberation Serif',serif;font-size:60px" fill="#000" stroke="#000" stroke-width="1.0" text-anchor="end">0</text><line x1="2746" y1="1310.6" x2="2760" y2="1310.6" stroke="#000" stroke-width="5"/><text x="2734" y="1332.6" style="font-family:'Liberation Serif',serif;font-size:60px" fill="#000" stroke="#000" stroke-width="1.0" text-anchor="end">1</text><line x1="2746" y1="1507.3" x2="2760" y2="1507.3" stroke="#000" stroke-width="5"/><text x="2734" y="1529.3" style="font-family:'Liberation Serif',serif;font-size:60px" fill="#000" stroke="#000" stroke-width="1.0" text-anchor="end">2</text><line x1="2746" y1="1705.5" x2="2760" y2="1705.5" stroke="#000" stroke-width="5"/><text x="2734" y="1727.5" style="font-family:'Liberation Serif',serif;font-size:60px" fill="#000" stroke="#000" stroke-width="1.0" text-anchor="end">3</text><line x1="2862.5" y1="1792" x2="2862.5" y2="1806" stroke="#000" stroke-width="5"/><text x="2859.5" y="1859" style="font-family:'Liberation Serif',serif;font-size:60px" fill="#000" stroke="#000" stroke-width="1.0" text-anchor="middle">0</text><line x1="3041" y1="1792" x2="3041" y2="1806" stroke="#000" stroke-width="5"/><text x="3038" y="1859" style="font-family:'Liberation Serif',serif;font-size:60px" fill="#000" stroke="#000" stroke-width="1.0" text-anchor="middle">1</text><line x1="3222.6" y1="1792" x2="3222.6" y2="1806" stroke="#000" stroke-width="5"/><text x="3219.6" y="1859" style="font-family:'Liberation Serif',serif;font-size:60px" fill="#000" stroke="#000" stroke-width="1.0" text-anchor="middle">2</text><line x1="3408.7" y1="1792" x2="3408.7" y2="1806" stroke="#000" stroke-width="5"/><text x="3405.7" y="1859" style="font-family:'Liberation Serif',serif;font-size:60px" fill="#000" stroke="#000" stroke-width="1.0" text-anchor="middle">3</text><text x="3139" y="1921" style="font-family:'Liberation Serif',serif;font-size:58px;font-weight:normal;font-style:normal" fill="#000" text-anchor="middle" >Predicted label</text><text transform="translate(2664 1416) rotate(-90)" style="font-family:'Liberation Serif',serif;font-size:60px" text-anchor="middle">Ture label</text><rect x="3513" y="1010" width="68" height="775" fill="url(#cbarBlue)" stroke="#1b3157" stroke-width="4.5"/><line x1="3581" y1="1010.0" x2="3598" y2="1010.0" stroke="#000" stroke-width="5"/><text x="3618" y="1030.0" style="font-family:'Liberation Serif',serif;font-size:59px;font-weight:normal;font-style:normal" fill="#000" text-anchor="start" >100</text><line x1="3581" y1="1165.0" x2="3598" y2="1165.0" stroke="#000" stroke-width="5"/><text x="3618" y="1185.0" style="font-family:'Liberation Serif',serif;font-size:59px;font-weight:normal;font-style:normal" fill="#000" text-anchor="start" >80</text><line x1="3581" y1="1320.0" x2="3598" y2="1320.0" stroke="#000" stroke-width="5"/><text x="3618" y="1340.0" style="font-family:'Liberation Serif',serif;font-size:59px;font-weight:normal;font-style:normal" fill="#000" text-anchor="start" >60</text><line x1="3581" y1="1475.0" x2="3598" y2="1475.0" stroke="#000" stroke-width="5"/><text x="3618" y="1495.0" style="font-family:'Liberation Serif',serif;font-size:59px;font-weight:normal;font-style:normal" fill="#000" text-anchor="start" >40</text><line x1="3581" y1="1630.0" x2="3598" y2="1630.0" stroke="#000" stroke-width="5"/><text x="3618" y="1650.0" style="font-family:'Liberation Serif',serif;font-size:59px;font-weight:normal;font-style:normal" fill="#000" text-anchor="start" >20</text><line x1="3581" y1="1785.0" x2="3598" y2="1785.0" stroke="#000" stroke-width="5"/><text x="3618" y="1805.0" style="font-family:'Liberation Serif',serif;font-size:59px;font-weight:normal;font-style:normal" fill="#000" text-anchor="start" >0</text>
</svg></body></html>
